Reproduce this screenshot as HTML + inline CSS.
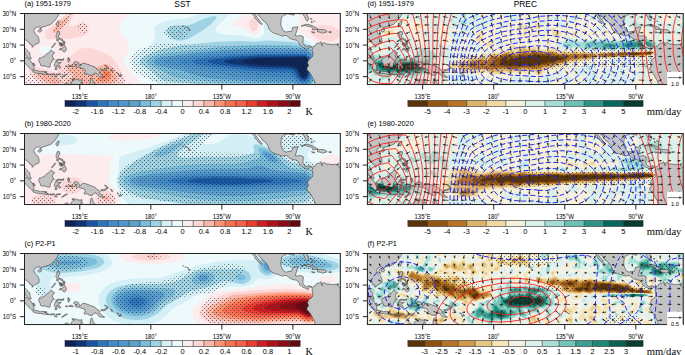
<!DOCTYPE html><html><head><meta charset="utf-8"><style>html,body{margin:0;padding:0;background:#fff;overflow:hidden}svg{display:block}text{fill:#000}</style></head><body><svg width="685" height="355" viewBox="0 0 685 355"><rect width="685" height="355" fill="#fff"/><pattern id="stip" patternUnits="userSpaceOnUse" x="0" y="0" width="4" height="4"><circle cx="0.5" cy="0.5" r="0.62" fill="#333" fill-opacity="0.75"/><circle cx="2.5" cy="2.5" r="0.62" fill="#333" fill-opacity="0.75"/></pattern><clipPath id="c00"><rect x="24.5" y="13.5" width="315.80" height="71.05"/></clipPath><clipPath id="c01"><rect x="24.5" y="133.5" width="315.80" height="71.05"/></clipPath><clipPath id="c02"><rect x="24.5" y="253.5" width="315.80" height="71.05"/></clipPath><clipPath id="c10"><rect x="367.4" y="13.5" width="315.80" height="71.05"/></clipPath><clipPath id="c11"><rect x="367.4" y="133.5" width="315.80" height="71.05"/></clipPath><clipPath id="c12"><rect x="367.4" y="253.5" width="315.80" height="71.05"/></clipPath><g clip-path="url(#c00)"><rect x="24.5" y="13.5" width="315.80" height="71.05" fill="#0b2355"/><path d="M22.1,87.7 343.5,87.7 343.5,10.3 21.3,10.3 21.3,87.7ZM302.3,76.7 300.8,75.1 298.8,70.3 297.7,68.8 296.1,67.4 293.7,66.5 288.2,65.8 261.4,65.3 246.3,63.4 242.6,62.4 241.4,61.7 242.4,60.9 245.6,60.1 261.4,58.2 305.6,57.5 307.5,59.3 308.4,60.9 308.7,62.4 308.6,64.8 306.9,73.5 306.1,75.9 305.6,76.7 304.8,77.0 302.4,76.7Z" fill="#0d3578" fill-rule="evenodd"/><path d="M22.1,87.7 343.5,87.7 343.5,10.3 21.3,10.3 21.3,87.7ZM303.2,79.0 301.4,78.2 299.8,76.7 297.1,71.1 296.1,69.8 294.5,68.7 292.1,68.0 287.4,67.5 261.4,67.1 253.5,66.4 231.7,64.0 225.8,62.8 223.8,61.7 224.6,60.9 226.6,60.2 231.7,59.3 257.5,56.9 305.6,56.3 307.9,58.3 309.2,60.1 309.7,61.7 309.7,64.0 308.0,74.3 307.2,76.7 305.6,78.8 303.2,79.0Z" fill="#1656a5" fill-rule="evenodd"/><path d="M22.1,87.7 343.5,87.7 343.5,10.3 21.3,10.3 21.3,87.7ZM303.2,80.6 301.0,79.8 299.0,78.2 294.5,71.5 292.6,70.3 290.6,69.8 261.4,69.0 232.9,66.4 213.9,64.0 208.2,62.4 207.5,61.7 208.1,60.9 210.0,60.2 214.0,59.3 226.7,57.7 240.8,56.6 261.4,55.3 305.6,55.2 307.9,56.9 309.5,58.5 310.7,60.9 310.9,63.2 309.0,75.1 308.3,77.4 307.1,79.1 305.6,80.4 303.2,80.6Z" fill="#2c74bb" fill-rule="evenodd"/><path d="M22.1,87.7 343.5,87.7 343.5,10.3 21.3,10.3 21.3,87.7ZM301.0,81.4 297.5,79.0 292.1,73.8 289.0,72.7 261.4,71.6 215.6,66.8 198.2,64.2 194.9,63.2 193.2,62.4 192.5,61.7 193.0,60.9 194.6,60.1 202.0,58.5 215.6,56.9 232.1,55.6 261.4,53.9 305.6,54.0 308.7,56.2 310.8,58.5 311.8,60.9 311.9,64.0 310.7,69.6 309.9,75.9 308.7,79.2 307.1,80.9 305.6,81.9 304.0,82.1 301.6,81.6Z" fill="#3f8ac7" fill-rule="evenodd"/><path d="M22.1,87.7 343.5,87.7 343.5,10.3 21.3,10.3 21.3,87.7ZM301.4,83.0 299.2,82.1 293.7,78.6 289.8,77.2 261.4,75.7 236.2,71.9 198.2,66.9 183.3,64.0 178.9,62.4 178.3,61.7 178.7,60.9 180.3,60.1 191.2,57.7 204.3,56.1 225.8,54.4 261.4,52.4 305.6,52.7 309.5,55.3 311.7,57.7 312.9,60.1 313.2,63.2 311.8,69.6 310.9,76.7 309.7,79.8 307.9,81.9 305.6,83.2 301.6,83.1Z" fill="#4e95cc" fill-rule="evenodd"/><path d="M22.1,87.7 343.5,87.7 343.5,10.3 21.3,10.3 21.3,87.7ZM302.1,84.6 293.7,81.1 289.8,80.2 259.8,79.1 241.5,77.4 227.4,75.6 201.0,70.3 170.5,64.8 164.6,63.2 163.0,62.4 162.4,61.7 162.7,60.9 163.5,60.5 166.6,59.3 175.3,57.6 198.2,54.7 222.7,52.7 261.4,50.5 305.6,51.1 309.5,53.8 312.7,56.9 314.2,60.1 314.4,63.2 313.0,69.6 312.1,76.7 310.6,80.6 308.7,82.9 307.1,83.9 305.6,84.6 302.4,84.6Z" fill="#5aa0d2" fill-rule="evenodd"/><path d="M22.1,87.7 343.5,87.7 343.5,10.3 21.3,10.3 21.3,87.7ZM303.1,86.1 300.0,85.5 293.7,83.2 289.8,82.6 261.4,81.9 239.2,80.6 218.8,79.0 206.3,77.4 198.2,75.9 181.1,70.3 160.3,66.3 157.1,64.8 154.8,63.2 153.9,61.7 154.0,60.9 154.8,59.8 156.7,58.5 160.9,56.9 198.2,52.4 224.2,50.1 261.4,48.0 292.9,48.4 305.6,49.1 310.3,52.5 313.5,55.7 315.4,59.3 315.8,62.4 314.2,70.3 313.5,76.7 312.1,80.6 310.4,83.0 308.7,84.6 305.6,86.1 303.2,86.1Z" fill="#79bcdc" fill-rule="evenodd"/><path d="M22.1,87.7 302.9,87.7 294.5,85.5 290.6,84.8 261.4,84.3 217.1,82.2 197.6,80.6 180.3,78.2 173.3,76.7 169.3,75.1 164.4,71.9 150.4,65.6 147.4,63.2 146.7,61.7 147.7,59.5 150.0,57.7 154.0,56.0 160.3,54.0 221.1,46.8 240.0,45.5 266.1,44.7 292.9,45.5 305.6,46.6 309.5,49.4 313.3,53.0 316.0,56.9 317.1,60.9 317.0,64.0 315.8,70.1 315.0,77.4 313.5,81.4 311.1,84.4 308.7,86.4 304.9,87.7 343.5,87.7 343.5,10.3 21.3,10.3 21.3,87.7ZM178.9,32.4 177.8,31.7 179.2,31.1 181.0,31.7 180.1,32.4 179.2,32.5Z" fill="#9fd3e3" fill-rule="evenodd"/><path d="M22.1,87.7 294.5,87.7 289.0,87.1 261.4,86.8 214.0,85.0 191.1,83.4 166.6,81.2 162.2,79.8 159.1,78.2 152.6,71.9 141.5,64.8 140.2,63.2 139.6,61.7 140.4,59.3 142.0,57.7 145.3,55.7 150.8,53.2 160.3,49.6 179.2,45.5 217.9,41.7 240.8,40.9 255.0,41.7 266.9,40.5 292.9,41.9 305.6,43.6 306.4,44.1 311.1,47.5 315.0,51.8 317.1,55.3 319.4,61.7 319.2,63.2 318.2,65.9 317.1,76.7 316.4,79.8 314.1,83.8 309.8,87.7 343.5,87.7 343.5,10.3 21.3,10.3 21.3,87.7ZM176.9,40.3 173.7,39.2 171.3,37.7 167.5,34.0 166.8,32.4 166.6,30.9 167.2,29.3 169.0,27.5 172.0,26.1 175.3,25.5 185.6,25.2 189.5,24.8 193.5,23.5 201.6,19.8 207.8,17.4 213.2,16.2 214.8,16.1 216.3,16.7 216.4,17.4 215.7,19.0 212.2,23.0 206.9,27.5 201.3,31.2 191.9,36.9 187.1,39.3 181.6,40.7 177.7,40.5Z" fill="#d5eff7" fill-rule="evenodd"/><path d="M22.1,87.7 201.5,87.7 166.6,85.2 160.3,84.1 156.3,82.8 150.8,79.8 142.9,72.1 135.8,67.2 133.2,64.0 132.5,60.9 133.3,58.5 135.3,56.1 147.4,47.4 151.8,43.5 153.8,41.1 155.0,38.0 153.7,31.7 153.8,29.3 154.8,26.9 157.9,24.2 162.7,21.9 168.2,20.4 173.7,19.5 184.8,18.6 190.3,17.5 213.4,10.3 21.3,10.3 21.3,87.7ZM314.2,87.7 343.5,87.7 343.5,10.3 233.3,10.3 231.0,13.5 221.0,22.2 216.9,26.9 215.8,29.3 215.8,30.9 217.0,32.4 219.5,33.5 227.4,34.8 241.6,35.3 251.9,38.1 256.6,38.2 259.0,37.6 261.3,36.4 263.3,34.8 264.3,33.2 264.6,30.9 263.4,25.3 263.3,21.4 263.7,19.6 264.5,18.5 266.1,18.1 267.7,19.2 268.8,21.4 269.3,24.6 269.1,30.9 269.6,32.4 270.8,33.5 274.8,34.9 294.5,37.7 305.6,40.2 308.7,42.1 312.7,44.9 315.0,47.2 318.2,52.5 320.9,54.6 323.1,56.9 324.0,58.5 324.6,60.9 324.1,64.0 321.4,70.3 319.4,79.8 316.8,84.6 313.7,87.7Z" fill="#eef9fb" fill-rule="evenodd"/><path d="M22.1,87.7 148.4,87.7 145.3,85.9 142.9,83.4 132.4,75.1 129.9,71.9 125.2,64.0 124.2,60.9 124.3,58.5 125.3,56.1 127.1,53.2 128.0,50.6 128.6,47.4 128.6,45.1 127.1,40.8 120.8,32.4 119.7,30.1 119.2,27.7 119.4,25.3 120.2,23.0 121.9,20.6 124.8,18.0 128.2,15.9 132.7,13.7 142.9,10.3 21.3,10.3 21.3,87.7ZM44.0,53.8 41.1,53.0 38.9,51.4 38.4,50.6 38.5,49.0 40.1,47.4 43.4,46.3 48.2,46.1 52.1,47.2 54.3,49.0 54.4,50.6 53.9,51.4 51.7,53.0 48.2,53.9 44.2,53.8ZM321.4,87.7 343.5,87.7 343.5,10.3 269.4,10.3 275.6,15.8 277.9,17.1 280.3,17.2 286.6,15.2 290.6,14.6 295.1,15.1 298.4,16.7 299.8,18.2 300.3,20.6 299.4,23.0 296.8,26.9 296.6,28.5 297.4,30.1 301.0,33.2 305.6,35.8 314.4,41.9 318.2,45.3 324.5,48.4 327.5,51.4 329.1,54.6 329.9,57.7 330.2,61.7 329.7,65.6 327.7,71.9 324.5,77.9 322.9,84.1 320.6,87.7ZM253.5,34.8 255.8,34.8 257.8,34.0 259.5,32.4 260.2,30.9 260.7,26.9 260.1,14.3 260.6,12.0 261.5,10.3 248.3,10.3 242.4,16.7 234.3,21.4 232.3,23.8 232.3,24.6 233.7,25.7 241.6,27.4 249.4,33.2 253.4,34.8Z" fill="#fdecee" fill-rule="evenodd"/><path d="M51.3,87.0 55.9,87.7 109.1,87.7 116.1,86.6 120.8,85.0 123.8,83.0 124.4,82.2 124.7,80.6 120.4,70.3 116.1,61.9 111.3,56.9 106.6,54.1 95.6,49.5 90.0,48.2 84.5,48.0 80.6,48.8 76.6,50.6 70.0,56.9 60.8,63.0 58.1,66.4 57.1,71.1 56.1,72.1 53.4,71.9 42.7,68.3 37.9,67.3 32.4,67.3 30.8,67.8 29.5,68.8 29.0,71.1 29.9,73.5 32.3,76.7 35.6,79.8 39.5,82.6 42.7,84.2 50.9,86.9ZM328.5,41.2 332.4,41.2 334.0,40.6 337.3,38.8 339.5,36.4 340.2,34.8 340.0,32.4 338.6,30.1 336.7,28.5 333.7,26.9 330.0,25.8 322.1,25.2 318.2,25.6 315.8,26.4 313.3,27.7 311.7,29.3 311.0,30.9 311.4,33.2 313.1,35.6 315.9,38.0 319.0,39.8 327.9,41.1ZM47.4,39.0 49.8,39.2 56.1,38.5 63.2,39.0 67.9,38.9 82.1,36.3 85.3,35.0 87.3,33.2 88.5,30.9 88.6,27.7 88.0,26.1 86.8,24.6 85.3,23.4 82.9,22.7 79.8,23.1 73.4,26.3 71.1,26.5 69.5,26.1 68.9,25.3 69.5,23.0 73.0,16.7 74.6,12.7 74.2,11.0 73.4,10.7 71.9,11.0 68.7,12.5 65.6,14.6 46.8,30.1 45.4,32.4 45.1,34.8 45.4,37.2 46.8,38.8ZM253.5,31.0 255.0,31.1 256.6,30.2 257.7,28.5 258.1,26.1 257.9,23.0 257.2,20.6 255.8,18.5 254.2,17.7 252.7,18.0 251.1,19.0 249.4,21.4 248.8,23.8 249.0,26.1 249.6,27.7 251.1,29.7 253.0,30.9Z" fill="#fcd7d7" fill-rule="evenodd"/><path d="M86.9,84.6 104.2,84.7 109.8,84.0 113.7,82.8 116.1,81.3 117.0,79.0 116.3,74.3 115.3,71.1 113.1,68.0 109.8,65.3 107.4,64.2 104.2,64.1 101.1,65.3 95.7,68.8 94.1,70.3 92.5,73.5 91.7,74.3 90.0,75.1 86.9,75.3 85.2,75.1 84.6,74.3 88.6,70.3 88.9,68.8 87.4,66.4 84.5,64.3 80.6,63.1 75.8,63.1 71.1,64.4 68.2,66.4 67.2,68.0 67.6,70.3 69.0,71.9 73.2,75.1 73.4,75.9 71.6,77.4 67.7,79.8 66.8,80.6 66.7,81.4 68.2,82.2 74.2,83.6 86.1,84.6ZM53.7,83.8 56.9,83.7 59.2,83.1 61.2,82.2 61.6,81.4 60.8,80.6 50.5,75.1 45.0,72.7 39.5,71.6 37.8,71.9 36.8,72.7 36.7,74.3 37.5,75.9 42.0,79.8 47.4,82.5 53.5,83.8ZM52.9,32.6 54.5,32.9 56.1,32.3 60.8,28.9 66.5,22.2 67.9,19.8 68.6,17.4 67.9,16.8 65.6,17.7 59.2,22.7 54.0,28.5 52.8,30.9 52.8,32.4Z" fill="#fbb8a8" fill-rule="evenodd"/><path d="M98.7,81.4 102.7,81.7 105.7,81.4 108.2,80.7 109.8,79.7 111.1,77.4 111.3,75.1 110.9,72.7 109.8,71.1 108.2,70.0 106.6,69.7 104.2,70.1 102.8,71.1 99.7,76.7 96.3,79.8 96.4,80.6 98.6,81.4Z" fill="#fc9272" fill-rule="evenodd"/><path d="M105.8,76.7 107.4,76.5 108.5,75.1 108.4,73.5 107.4,72.6 105.8,72.5 104.7,73.5 104.5,75.1 105.0,76.2 105.8,76.7Z" fill="#fb7050" fill-rule="evenodd"/><path d="M30.0,87.0 41.9,87.5 75.0,86.8 107.4,87.1 114.5,86.3 121.5,84.6 125.0,83.0 126.1,82.2 127.0,80.6 126.0,78.2 120.0,72.2 116.9,69.8 113.7,68.3 107.4,66.9 94.8,66.5 82.9,62.8 75.0,62.2 70.3,63.0 66.1,64.8 63.7,67.2 61.9,71.9 59.2,73.5 54.5,73.9 34.0,73.6 27.7,74.2 21.3,75.5 21.3,85.6 29.6,86.9ZM197.4,87.1 199.9,87.7 343.5,87.7 343.5,48.3 331.6,49.3 321.4,49.4 311.1,48.9 288.2,46.1 276.4,45.4 194.2,45.0 173.7,44.0 158.7,44.1 135.0,50.3 131.5,55.3 130.5,58.5 130.2,62.4 131.1,66.4 132.7,69.4 135.0,72.6 139.2,74.3 146.9,78.6 158.7,82.6 182.4,83.4 196.9,86.9ZM172.1,39.8 175.3,40.2 178.5,40.0 181.6,39.0 184.8,37.4 186.8,35.6 188.2,33.2 188.2,30.9 187.5,29.3 186.1,27.7 184.0,26.3 178.5,24.8 172.1,25.0 167.2,26.9 165.3,28.5 164.2,30.1 164.0,33.2 165.0,35.4 166.6,37.0 171.4,39.6ZM53.7,32.6 56.1,32.0 59.2,30.0 66.2,23.8 71.0,17.4 72.0,15.1 71.7,13.5 70.3,13.4 67.1,14.9 59.4,21.4 53.8,28.5 52.8,30.9 53.1,32.4ZM81.3,32.7 83.7,32.9 85.3,32.4 86.9,31.2 87.9,29.3 88.1,26.9 87.6,25.3 86.4,23.8 84.5,22.7 82.1,22.5 80.6,23.0 79.0,24.2 77.9,26.1 77.7,28.5 78.2,30.1 80.7,32.4Z" fill="url(#stip)"/><path d="M22.9,11.9 L59.6,11.9 L59.2,13.5 L58.4,15.1 L57.0,17.3 L55.4,19.8 L53.2,22.0 L50.7,24.4 L47.1,25.7 L44.2,26.6 L41.2,27.4 L40.6,28.8 L39.8,27.1 L37.9,26.8 L35.2,28.0 L33.7,30.6 L34.8,33.1 L36.3,34.8 L38.4,37.2 L39.2,40.3 L39.0,42.7 L37.1,43.8 L35.1,44.6 L32.7,47.1 L32.1,47.3 L32.1,45.1 L30.0,44.3 L29.1,42.2 L27.7,41.6 L25.9,40.0 L25.0,39.7 L24.3,41.1 L23.7,44.3 L23.4,46.3 L25.0,48.2 L26.6,50.0 L28.1,51.2 L29.9,53.3 L29.9,55.3 L30.5,56.9 L31.3,58.7 L30.0,58.8 L26.6,56.4 L25.1,54.2 L24.8,52.2 L22.9,49.8 L22.9,11.9Z M38.1,30.6 L39.5,29.1 L41.4,29.3 L41.9,29.9 L40.9,31.7 L39.5,32.1 L38.2,31.7Z M56.2,24.6 L57.2,26.1 L57.7,26.1 L59.1,22.2 L59.1,21.1 L58.0,21.1 L56.4,23.3Z M22.9,56.1 L24.5,57.2 L26.1,57.6 L27.7,58.5 L29.7,59.8 L31.4,62.1 L33.2,64.8 L34.0,65.9 L33.7,70.0 L31.8,70.2 L30.0,68.3 L28.0,66.6 L26.1,64.5 L25.0,62.4 L22.9,60.9Z M32.7,63.4 L34.1,63.2 L35.2,65.4 L34.0,65.8 L32.9,64.3Z M32.7,71.6 L34.0,70.2 L37.6,70.7 L40.9,71.8 L42.7,71.3 L44.4,71.8 L47.4,73.2 L47.2,74.6 L43.4,74.0 L40.3,73.5 L37.1,73.2 L34.6,72.6 L32.9,71.8Z M44.6,71.8 L46.8,71.8 L46.6,72.2 L44.7,72.2Z M47.4,73.7 L49.1,74.0 L48.5,74.8 L47.4,74.1Z M49.8,74.0 L50.9,74.0 L50.6,74.9 L49.8,74.8Z M51.0,74.3 L53.2,73.7 L54.7,74.0 L54.5,74.6 L52.6,74.9 L51.2,74.9Z M55.8,74.3 L57.7,74.0 L60.5,73.8 L60.7,74.4 L58.4,74.8 L56.1,74.9Z M54.5,75.9 L56.1,75.7 L57.3,76.8 L56.1,77.1 L54.7,76.5Z M61.6,77.1 L63.2,75.9 L65.2,74.4 L67.6,74.1 L66.3,74.9 L64.0,76.3 L62.4,77.3Z M39.7,57.7 L38.7,60.1 L39.0,61.7 L40.3,63.7 L40.6,65.4 L42.8,66.2 L45.0,65.9 L47.4,67.0 L49.8,67.2 L50.2,65.6 L50.6,63.2 L52.1,61.7 L52.3,59.6 L54.5,59.3 L52.9,57.7 L52.4,55.7 L53.4,53.8 L54.8,52.8 L52.6,51.6 L51.3,49.8 L49.8,51.4 L48.7,53.0 L46.6,53.8 L45.0,55.8 L42.3,57.2 L40.8,58.2Z M55.1,69.7 L55.4,67.2 L54.3,65.6 L54.8,63.2 L55.8,61.2 L56.2,60.1 L58.0,59.3 L60.0,59.3 L62.4,59.6 L64.0,58.3 L63.3,60.4 L61.3,60.2 L58.4,60.2 L57.0,60.4 L56.9,62.1 L58.6,62.3 L61.4,62.3 L60.2,63.2 L58.3,64.0 L59.9,65.9 L60.5,68.0 L59.2,68.1 L58.1,66.9 L57.5,65.4 L56.7,65.6 L56.9,69.6Z M68.1,57.4 L68.7,59.3 L69.8,58.5 L69.0,59.9 L70.1,60.4 L68.7,61.2 L69.0,62.3 L68.1,61.5 L67.8,59.6Z M68.7,65.9 L71.1,65.3 L73.3,66.2 L72.7,67.0 L70.0,66.2 L68.7,66.6Z M65.6,65.9 L67.1,65.8 L67.4,66.7 L65.9,66.9Z M57.0,31.7 L59.6,31.7 L59.6,34.0 L58.6,35.9 L58.9,38.4 L62.4,39.1 L62.7,41.0 L61.3,40.3 L59.9,39.1 L57.7,39.2 L57.0,38.4 L56.1,37.5 L56.1,35.6 L56.7,35.0Z M56.6,39.6 L58.0,39.7 L58.4,41.1 L57.7,41.6 L56.7,40.5Z M62.9,41.1 L64.4,41.1 L65.1,43.3 L64.0,43.3 L63.0,42.2Z M62.9,42.7 L64.0,43.2 L64.4,44.9 L63.7,45.1 L62.9,43.8Z M59.1,42.2 L61.0,42.9 L60.5,44.1 L59.2,44.3Z M59.9,43.7 L61.1,43.7 L61.4,46.3 L60.8,46.7 L60.0,45.2Z M61.3,43.0 L61.9,43.3 L62.4,44.6 L61.6,45.7 L61.4,44.4Z M62.1,44.9 L63.2,45.1 L63.0,45.7 L62.1,45.7Z M59.2,49.8 L60.0,48.4 L61.8,48.6 L62.7,47.9 L64.6,45.6 L66.3,48.2 L65.9,50.9 L64.6,52.0 L62.7,51.1 L61.8,49.2 L59.6,50.0Z M51.7,47.8 L52.3,47.6 L54.5,45.1 L55.6,43.2 L55.1,43.0 L53.4,45.1 L51.7,47.3Z M73.4,63.1 L75.0,61.5 L78.2,62.3 L79.8,66.1 L82.9,63.2 L85.3,63.6 L88.8,64.8 L91.6,65.9 L94.8,67.0 L96.8,69.2 L99.5,70.7 L100.0,71.4 L99.0,72.7 L100.6,73.7 L102.3,75.9 L104.7,77.1 L103.1,77.3 L99.5,76.8 L97.1,73.8 L94.8,72.9 L93.2,74.0 L92.4,75.4 L89.2,75.2 L86.9,73.7 L84.5,74.1 L84.2,72.6 L85.4,71.6 L84.5,69.2 L81.3,68.1 L78.7,67.0 L76.3,67.2 L75.0,65.4 L77.1,64.7 L75.0,64.5 L73.9,63.2Z M100.8,69.7 L103.5,69.6 L105.8,68.6 L106.9,67.7 L107.1,68.8 L105.8,69.9 L103.5,70.8 L101.1,70.5Z M104.7,65.0 L106.9,66.2 L108.5,68.1 L107.9,68.4 L106.0,66.6 L104.6,65.4Z M110.7,69.2 L111.8,69.7 L112.9,71.3 L112.3,71.8 L111.0,70.7Z M118.6,75.6 L120.0,75.7 L120.5,76.3 L118.9,76.3Z M120.2,74.1 L121.1,74.6 L121.6,76.0 L120.8,75.6Z M117.0,72.7 L118.6,73.7 L118.9,74.3 L117.5,73.5Z M129.7,83.9 L130.6,84.6 L130.5,85.5 L129.7,85.0Z M62.4,86.9 L63.2,85.0 L64.8,83.8 L67.0,82.7 L69.0,84.2 L71.1,84.4 L71.6,82.2 L73.1,80.4 L74.2,80.1 L75.8,79.0 L77.4,79.7 L79.8,80.1 L82.3,79.8 L81.3,81.9 L80.6,83.8 L81.0,86.9Z M89.9,86.9 L90.0,84.6 L90.2,81.4 L90.8,79.0 L91.6,77.8 L92.7,79.7 L93.2,82.2 L94.6,83.4 L95.9,84.4 L96.2,86.9Z M71.9,78.9 L74.2,78.6 L74.1,79.5 L72.2,79.5Z M81.8,82.7 L82.8,82.7 L82.6,83.4 L81.8,83.3Z M188.9,29.0 L190.3,29.8 L189.3,31.0 L188.7,30.1Z M187.6,27.7 L188.7,28.0 L188.1,28.3Z M185.1,26.8 L186.0,27.2 L185.4,27.2Z M182.7,25.8 L183.5,26.0 L183.0,26.3Z M186.7,27.4 L187.6,27.6Z M251.1,11.9 L253.1,15.1 L254.9,16.7 L254.7,17.9 L256.9,19.8 L258.0,21.7 L259.8,23.0 L261.4,24.7 L262.3,24.1 L260.9,22.7 L259.8,20.8 L258.2,18.6 L256.9,17.0 L255.3,14.3 L254.2,11.9Z M256.3,11.9 L257.1,13.5 L259.8,16.8 L261.4,18.2 L262.6,20.4 L264.5,21.4 L266.9,24.1 L268.5,26.8 L268.8,28.5 L270.4,30.7 L271.6,32.1 L274.8,33.6 L277.3,34.3 L280.3,35.3 L282.7,36.1 L285.0,35.4 L286.6,35.6 L289.3,37.8 L291.0,38.9 L293.7,39.7 L296.9,40.3 L297.2,40.5 L298.0,41.6 L299.4,43.3 L299.7,45.1 L301.1,45.6 L303.0,47.4 L304.8,47.9 L306.8,49.0 L308.7,49.3 L308.4,47.8 L309.5,46.8 L311.6,47.8 L312.8,48.6 L312.0,49.8 L313.0,54.6 L312.4,56.6 L310.6,58.5 L308.7,59.6 L308.1,61.5 L307.3,62.6 L308.4,65.0 L308.2,66.2 L306.8,68.1 L307.0,70.0 L308.9,71.8 L310.8,74.4 L312.7,77.9 L314.4,80.8 L314.7,82.3 L315.7,84.6 L316.6,86.9 L341.9,86.9 L341.9,47.4 L339.5,47.3 L337.9,45.4 L335.9,44.1 L333.2,44.8 L329.4,44.1 L326.9,44.1 L324.2,42.6 L322.0,43.5 L321.5,44.6 L322.6,45.9 L321.4,43.5 L321.0,41.6 L319.3,43.0 L316.9,43.5 L315.7,44.4 L315.0,46.0 L312.7,47.1 L309.0,45.7 L306.4,46.7 L304.0,45.1 L303.0,43.5 L302.9,41.9 L303.2,38.8 L303.4,36.9 L300.8,35.6 L297.7,35.9 L295.3,35.9 L295.6,34.3 L296.4,32.0 L296.9,30.1 L298.0,26.9 L296.1,26.9 L292.3,27.7 L292.3,29.6 L291.4,31.3 L289.0,31.5 L285.8,32.1 L283.3,30.6 L281.1,26.1 L280.8,23.0 L281.2,19.8 L281.6,17.0 L283.5,15.7 L285.4,14.6 L287.4,13.8 L290.6,14.4 L292.6,14.9 L294.2,15.1 L293.9,13.2 L296.9,13.0 L300.0,13.8 L302.4,13.5 L304.5,16.7 L305.9,19.8 L307.3,21.1 L308.6,19.0 L307.9,16.7 L306.7,13.5 L306.7,11.9Z M301.0,26.3 L305.6,24.4 L308.7,24.4 L313.5,26.3 L317.9,29.0 L317.4,29.4 L312.4,29.6 L313.0,28.3 L310.9,26.8 L307.1,26.1 L304.3,25.2Z M317.6,29.6 L320.1,29.4 L324.5,29.8 L327.0,31.5 L326.6,32.1 L322.3,33.1 L319.9,32.1 L317.4,31.8Z M311.4,31.8 L314.6,32.1 L314.7,32.6 L312.7,32.8Z M328.9,31.7 L331.5,31.8 L331.3,32.4 L328.9,32.4Z M311.6,21.1 L312.4,21.9 L312.0,23.0 L311.2,22.0Z M310.3,18.7 L312.2,18.9 L311.9,19.0 L310.3,19.0Z M313.8,20.6 L314.7,21.9 L314.9,21.7Z M337.3,43.8 L338.7,43.8 L338.7,44.9 L337.3,44.9Z" fill="#c3c3c3" stroke="#333" stroke-width="0.55" stroke-linejoin="round"/></g><g clip-path="url(#c01)"><rect x="24.5" y="133.5" width="315.80" height="71.05" fill="#0b2355"/><path d="M22.1,207.7 343.5,207.7 343.5,130.3 21.3,130.3 21.3,207.7Z" fill="#0d3578" fill-rule="evenodd"/><path d="M22.1,207.7 343.5,207.7 343.5,130.3 21.3,130.3 21.3,207.7ZM231.0,180.9 233.3,180.9 231.3,180.9Z" fill="#1656a5" fill-rule="evenodd"/><path d="M22.1,207.7 343.5,207.7 343.5,130.3 21.3,130.3 21.3,207.7ZM209.3,184.0 193.5,182.7 188.2,181.7 187.2,180.9 189.5,179.9 198.2,178.6 214.0,177.8 232.9,177.7 264.0,179.3 270.9,180.1 273.8,180.9 272.7,181.7 267.2,182.4 245.6,184.0 232.9,184.4 210.0,184.1Z" fill="#2c74bb" fill-rule="evenodd"/><path d="M22.1,207.7 343.5,207.7 343.5,130.3 21.3,130.3 21.3,207.7ZM201.6,185.6 187.1,184.6 175.7,183.2 169.8,181.9 168.2,180.9 170.6,179.7 176.8,178.5 192.7,177.0 214.0,176.1 232.9,176.0 257.4,176.7 285.0,178.1 296.0,179.3 300.4,180.1 302.2,180.9 301.6,181.7 300.8,181.9 293.2,183.2 285.0,184.1 270.9,184.8 232.9,186.3 202.1,185.6Z" fill="#3f8ac7" fill-rule="evenodd"/><path d="M22.1,207.7 343.5,207.7 343.5,130.3 21.3,130.3 21.3,207.7ZM211.5,188.0 191.1,186.9 167.4,184.7 154.0,182.6 151.5,181.7 150.9,180.9 151.7,180.1 153.2,179.5 157.6,178.5 167.4,177.2 181.6,175.8 202.9,174.6 232.9,174.3 262.9,175.0 305.6,177.6 307.2,179.3 307.8,180.9 307.5,182.4 305.6,184.7 292.9,185.7 243.2,188.0 232.9,188.3 211.6,188.0Z" fill="#4e95cc" fill-rule="evenodd"/><path d="M22.1,207.7 343.5,207.7 343.5,130.3 21.3,130.3 21.3,207.7ZM230.3,191.1 214.0,190.8 198.2,189.9 158.7,186.1 150.0,185.1 141.3,183.3 138.2,182.2 137.5,180.9 138.2,179.7 142.1,178.3 150.8,176.7 159.5,175.7 198.2,172.7 220.3,172.2 259.0,172.4 305.6,175.5 309.4,178.5 310.4,180.9 310.1,182.4 309.2,184.0 305.6,187.0 285.0,188.6 246.3,190.7 230.6,191.1Z" fill="#5aa0d2" fill-rule="evenodd"/><path d="M22.1,207.7 343.5,207.7 343.5,130.3 21.3,130.3 21.3,207.7ZM225.6,195.9 214.0,195.4 198.2,193.9 142.9,186.8 138.2,186.0 133.5,184.2 130.6,182.4 129.8,180.9 130.3,179.7 131.7,178.5 136.6,176.4 150.8,174.0 198.2,169.5 214.0,168.9 242.4,168.8 247.9,168.2 256.6,166.1 259.8,165.8 262.9,166.3 269.4,169.0 275.9,170.6 305.6,173.2 311.0,176.9 312.2,178.5 312.9,180.1 312.8,182.4 311.5,184.8 305.6,190.0 249.5,195.4 234.5,196.0 225.8,195.9ZM272.5,161.9 269.2,160.5 266.1,157.9 263.2,154.0 262.7,152.4 262.9,151.4 264.5,151.0 268.5,152.4 272.3,154.8 275.0,157.2 276.7,159.6 277.1,161.3 276.8,161.9 275.6,162.4 273.2,162.1Z" fill="#79bcdc" fill-rule="evenodd"/><path d="M22.1,207.7 343.5,207.7 343.5,130.3 21.3,130.3 21.3,207.7ZM212.1,200.6 198.2,199.4 182.4,197.3 138.2,189.6 130.3,186.9 126.3,185.0 123.6,182.4 123.2,180.1 124.8,177.8 127.1,176.1 138.2,172.1 166.6,167.6 182.4,165.5 198.2,164.2 214.0,163.7 234.5,163.8 243.2,162.7 258.2,158.3 259.8,157.4 260.1,155.6 258.5,150.9 258.4,149.3 259.0,148.3 260.6,147.8 262.9,148.2 266.1,149.3 273.1,153.2 278.9,158.0 285.0,164.4 288.2,166.7 294.5,168.7 305.6,170.0 312.8,175.3 314.7,177.7 315.5,180.1 315.4,182.4 314.0,185.6 305.6,195.1 285.0,197.9 253.5,200.7 232.9,201.4 212.4,200.6ZM153.9,156.4 154.4,154.8 156.8,152.4 163.5,148.5 180.4,142.2 183.2,141.7 184.1,142.2 181.7,144.6 173.1,150.9 168.2,153.9 164.2,155.4 159.5,156.6 155.6,157.0 154.0,156.5Z" fill="#9fd3e3" fill-rule="evenodd"/><path d="M22.1,207.7 343.5,207.7 343.5,130.3 21.3,130.3 21.3,207.7ZM213.6,206.1 197.4,205.1 176.1,202.7 150.8,199.0 138.2,196.4 132.7,193.9 127.1,190.9 119.2,185.0 118.9,180.9 119.2,175.7 127.1,167.4 132.0,163.5 138.1,159.6 156.0,149.3 163.5,145.8 186.3,136.6 194.2,134.0 199.8,133.0 201.6,133.5 201.7,134.3 200.6,135.9 195.8,139.8 180.8,150.1 177.5,154.0 177.2,155.6 177.7,156.4 180.0,157.1 184.8,157.4 208.5,156.7 233.7,156.9 240.8,156.3 250.3,154.5 253.5,153.3 254.3,151.7 253.5,146.9 253.8,145.3 255.0,144.5 258.2,144.5 264.5,146.5 270.8,149.6 276.4,152.9 285.0,159.0 289.0,161.2 293.7,162.7 305.6,164.8 309.5,167.6 313.5,171.2 318.7,177.7 319.8,180.1 319.8,181.7 319.1,184.0 316.6,187.2 312.2,195.9 309.5,199.0 305.6,201.8 284.2,204.2 256.6,206.1 233.7,206.7 214.0,206.2Z" fill="#d5eff7" fill-rule="evenodd"/><path d="M22.1,207.7 143.9,207.7 135.8,206.3 131.1,205.0 127.9,203.6 124.8,200.6 119.2,192.5 118.5,185.3 116.5,182.4 116.1,180.1 116.7,177.7 118.5,175.1 119.2,157.8 122.4,155.9 127.1,153.8 142.9,149.3 165.8,141.4 192.9,130.3 21.3,130.3 21.3,207.7ZM56.0,145.3 50.6,144.4 46.6,143.0 44.5,141.4 44.0,140.6 44.0,139.0 45.8,137.2 49.8,135.5 55.3,134.5 61.6,134.2 67.9,134.7 72.9,135.9 76.0,137.4 76.9,138.2 77.7,139.8 77.2,141.4 76.5,142.2 74.2,143.5 71.1,144.5 64.0,145.5 56.1,145.3ZM313.5,207.7 343.5,207.7 343.5,130.3 217.7,130.3 214.0,133.7 205.9,139.8 203.6,142.2 203.4,143.0 203.7,143.5 205.3,144.1 210.0,144.1 214.8,143.4 218.7,141.9 224.7,137.4 227.9,135.9 232.9,134.6 238.5,134.1 244.0,134.4 248.7,135.5 264.1,142.2 270.0,143.8 273.2,143.1 278.2,139.8 281.9,138.1 285.8,136.9 290.6,136.1 296.1,135.9 301.6,136.3 306.4,137.3 310.5,139.0 313.3,141.4 314.0,143.0 314.1,144.6 312.7,147.5 307.9,152.4 307.3,154.0 307.7,156.4 308.9,158.8 311.4,161.9 316.6,166.8 319.9,169.0 322.3,171.4 324.4,175.3 325.3,180.1 325.0,184.8 322.9,195.9 321.9,199.0 319.0,202.9 312.7,207.7Z" fill="#eef9fb" fill-rule="evenodd"/><path d="M22.1,207.7 118.7,207.7 118.9,199.0 118.5,192.8 110.9,185.6 109.6,183.2 109.1,180.9 109.0,176.9 110.5,162.7 111.3,159.6 112.8,157.2 106.6,156.0 79.8,154.4 21.3,154.0 21.3,207.7ZM327.7,165.3 335.6,165.6 343.5,164.5 343.5,156.2 337.9,155.2 331.6,155.0 326.9,155.5 322.4,157.2 320.7,158.8 320.4,159.6 320.8,161.1 322.9,163.0 327.2,165.1ZM120.8,140.6 133.5,140.2 148.5,138.7 156.3,137.0 158.7,135.9 159.3,135.1 159.1,134.3 158.1,133.5 152.7,131.9 144.5,131.1 135.8,131.0 127.1,131.6 118.5,132.9 112.1,134.7 109.7,135.9 108.9,136.7 108.7,137.4 109.1,138.2 111.3,139.4 115.3,140.2 120.7,140.6Z" fill="#fdecee" fill-rule="evenodd"/><path d="M105.0,206.2 109.0,205.9 112.1,204.6 114.5,202.3 115.5,199.8 115.0,196.7 113.4,194.3 110.6,192.1 106.6,190.1 101.9,190.6 98.7,192.0 96.3,194.3 95.1,197.4 95.7,200.6 97.4,203.0 100.3,204.9 104.5,206.1ZM38.7,205.4 45.0,205.9 48.2,205.4 51.3,204.5 54.0,203.0 55.4,201.4 55.8,199.8 55.5,198.2 54.4,196.7 52.9,195.6 50.6,194.6 47.4,193.8 41.1,193.7 35.7,195.1 32.2,197.4 31.3,199.0 31.3,200.6 32.2,202.2 34.0,203.7 38.3,205.3ZM70.3,193.6 74.2,193.5 78.2,192.3 81.1,190.3 82.7,188.0 83.2,185.6 82.5,182.4 80.6,179.8 78.2,178.2 74.2,177.0 69.5,177.3 64.8,179.6 62.0,182.4 61.3,184.0 61.0,186.4 62.2,189.6 63.6,191.1 65.6,192.3 69.6,193.5Z" fill="#fcd7d7" fill-rule="evenodd"/><path d="M105.0,200.8 107.4,200.8 108.8,199.8 109.3,199.0 109.2,197.4 108.6,196.7 106.6,195.4 104.2,195.9 102.7,197.4 102.8,199.0 104.6,200.6ZM43.4,200.0 44.3,199.8 42.7,199.8ZM71.1,188.8 72.8,188.8 74.5,188.0 75.0,187.2 74.7,185.6 73.4,184.8 71.9,184.5 69.5,185.4 68.8,186.4 68.9,187.2 69.5,188.1 71.0,188.8Z" fill="#fbb8a8" fill-rule="evenodd"/><path d="M267.7,206.9 295.9,207.7 343.5,207.7 343.5,161.8 335.6,162.9 327.7,163.4 319.0,163.3 311.1,162.6 297.7,159.8 282.7,154.2 275.6,153.2 208.5,152.6 199.8,152.0 197.6,150.9 197.4,150.1 198.2,148.5 209.4,137.4 212.3,133.5 213.1,131.1 212.9,130.3 199.9,130.3 186.3,134.7 172.1,140.9 142.9,156.0 131.9,162.5 122.4,167.2 119.6,172.2 118.0,176.9 117.6,180.9 118.2,185.6 120.4,192.7 122.4,196.1 124.8,195.6 127.9,195.7 142.9,198.9 182.4,202.8 229.8,205.9 267.3,206.9ZM38.7,206.2 45.0,206.6 50.6,205.6 52.9,204.6 54.5,203.2 55.1,202.2 55.2,200.6 52.9,198.2 48.2,196.6 41.9,196.2 36.3,197.2 34.0,198.2 32.4,199.6 31.7,200.6 31.7,202.2 34.0,204.6 38.3,206.1ZM104.2,206.2 107.4,206.4 109.8,206.0 114.0,203.8 115.3,202.2 116.1,199.8 116.0,198.2 115.1,196.7 111.3,194.2 107.4,193.3 102.7,193.9 99.5,195.6 97.7,198.2 97.7,201.4 98.5,203.0 100.2,204.6 104.1,206.1ZM68.7,192.0 73.4,192.4 77.4,190.9 78.9,189.6 79.7,188.0 79.7,186.4 78.9,184.8 76.6,183.0 73.4,182.0 69.5,182.2 66.3,183.4 64.3,185.6 64.1,188.0 65.5,190.3 68.3,191.9ZM285.8,149.4 289.8,150.0 294.5,149.6 300.0,148.3 304.8,146.3 307.8,144.6 310.3,142.2 311.2,139.8 310.6,137.4 307.1,133.9 304.0,132.3 300.8,131.4 293.7,131.1 287.4,132.7 283.0,135.9 281.4,138.2 280.7,140.6 280.7,143.8 281.7,146.1 283.5,148.2 285.4,149.3Z" fill="url(#stip)"/><path d="M22.9,131.9 L59.6,131.9 L59.2,133.5 L58.4,135.1 L57.0,137.3 L55.4,139.8 L53.2,142.0 L50.7,144.4 L47.1,145.7 L44.2,146.6 L41.2,147.4 L40.6,148.8 L39.8,147.1 L37.9,146.8 L35.2,148.0 L33.7,150.6 L34.8,153.1 L36.3,154.8 L38.4,157.2 L39.2,160.3 L39.0,162.7 L37.1,163.8 L35.1,164.6 L32.7,167.1 L32.1,167.3 L32.1,165.1 L30.0,164.3 L29.1,162.2 L27.7,161.6 L25.9,160.0 L25.0,159.7 L24.3,161.1 L23.7,164.3 L23.4,166.3 L25.0,168.2 L26.6,170.0 L28.1,171.2 L29.9,173.3 L29.9,175.3 L30.5,176.9 L31.3,178.7 L30.0,178.8 L26.6,176.4 L25.1,174.2 L24.8,172.2 L22.9,169.8 L22.9,131.9Z M38.1,150.6 L39.5,149.1 L41.4,149.3 L41.9,149.9 L40.9,151.7 L39.5,152.1 L38.2,151.7Z M56.2,144.6 L57.2,146.1 L57.7,146.1 L59.1,142.2 L59.1,141.1 L58.0,141.1 L56.4,143.3Z M22.9,176.1 L24.5,177.2 L26.1,177.6 L27.7,178.5 L29.7,179.8 L31.4,182.1 L33.2,184.8 L34.0,185.9 L33.7,190.0 L31.8,190.2 L30.0,188.3 L28.0,186.6 L26.1,184.5 L25.0,182.4 L22.9,180.9Z M32.7,183.4 L34.1,183.2 L35.2,185.4 L34.0,185.8 L32.9,184.3Z M32.7,191.6 L34.0,190.2 L37.6,190.7 L40.9,191.8 L42.7,191.3 L44.4,191.8 L47.4,193.2 L47.2,194.6 L43.4,194.0 L40.3,193.5 L37.1,193.2 L34.6,192.6 L32.9,191.8Z M44.6,191.8 L46.8,191.8 L46.6,192.2 L44.7,192.2Z M47.4,193.7 L49.1,194.0 L48.5,194.8 L47.4,194.1Z M49.8,194.0 L50.9,194.0 L50.6,194.9 L49.8,194.8Z M51.0,194.3 L53.2,193.7 L54.7,194.0 L54.5,194.6 L52.6,194.9 L51.2,194.9Z M55.8,194.3 L57.7,194.0 L60.5,193.8 L60.7,194.4 L58.4,194.8 L56.1,194.9Z M54.5,195.9 L56.1,195.7 L57.3,196.8 L56.1,197.1 L54.7,196.5Z M61.6,197.1 L63.2,195.9 L65.2,194.4 L67.6,194.1 L66.3,194.9 L64.0,196.3 L62.4,197.3Z M39.7,177.7 L38.7,180.1 L39.0,181.7 L40.3,183.7 L40.6,185.4 L42.8,186.2 L45.0,185.9 L47.4,187.0 L49.8,187.2 L50.2,185.6 L50.6,183.2 L52.1,181.7 L52.3,179.6 L54.5,179.3 L52.9,177.7 L52.4,175.7 L53.4,173.8 L54.8,172.8 L52.6,171.6 L51.3,169.8 L49.8,171.4 L48.7,173.0 L46.6,173.8 L45.0,175.8 L42.3,177.2 L40.8,178.2Z M55.1,189.7 L55.4,187.2 L54.3,185.6 L54.8,183.2 L55.8,181.2 L56.2,180.1 L58.0,179.3 L60.0,179.3 L62.4,179.6 L64.0,178.3 L63.3,180.4 L61.3,180.2 L58.4,180.2 L57.0,180.4 L56.9,182.1 L58.6,182.3 L61.4,182.3 L60.2,183.2 L58.3,184.0 L59.9,185.9 L60.5,188.0 L59.2,188.1 L58.1,186.9 L57.5,185.4 L56.7,185.6 L56.9,189.6Z M68.1,177.4 L68.7,179.3 L69.8,178.5 L69.0,179.9 L70.1,180.4 L68.7,181.2 L69.0,182.3 L68.1,181.5 L67.8,179.6Z M68.7,185.9 L71.1,185.3 L73.3,186.2 L72.7,187.0 L70.0,186.2 L68.7,186.6Z M65.6,185.9 L67.1,185.8 L67.4,186.7 L65.9,186.9Z M57.0,151.7 L59.6,151.7 L59.6,154.0 L58.6,155.9 L58.9,158.4 L62.4,159.1 L62.7,161.0 L61.3,160.3 L59.9,159.1 L57.7,159.2 L57.0,158.4 L56.1,157.5 L56.1,155.6 L56.7,155.0Z M56.6,159.6 L58.0,159.7 L58.4,161.1 L57.7,161.6 L56.7,160.5Z M62.9,161.1 L64.4,161.1 L65.1,163.3 L64.0,163.3 L63.0,162.2Z M62.9,162.7 L64.0,163.2 L64.4,164.9 L63.7,165.1 L62.9,163.8Z M59.1,162.2 L61.0,162.9 L60.5,164.1 L59.2,164.3Z M59.9,163.7 L61.1,163.7 L61.4,166.3 L60.8,166.7 L60.0,165.2Z M61.3,163.0 L61.9,163.3 L62.4,164.6 L61.6,165.7 L61.4,164.4Z M62.1,164.9 L63.2,165.1 L63.0,165.7 L62.1,165.7Z M59.2,169.8 L60.0,168.4 L61.8,168.6 L62.7,167.9 L64.6,165.6 L66.3,168.2 L65.9,170.9 L64.6,172.0 L62.7,171.1 L61.8,169.2 L59.6,170.0Z M51.7,167.8 L52.3,167.6 L54.5,165.1 L55.6,163.2 L55.1,163.0 L53.4,165.1 L51.7,167.3Z M73.4,183.1 L75.0,181.5 L78.2,182.3 L79.8,186.1 L82.9,183.2 L85.3,183.6 L88.8,184.8 L91.6,185.9 L94.8,187.0 L96.8,189.2 L99.5,190.7 L100.0,191.4 L99.0,192.7 L100.6,193.7 L102.3,195.9 L104.7,197.1 L103.1,197.3 L99.5,196.8 L97.1,193.8 L94.8,192.9 L93.2,194.0 L92.4,195.4 L89.2,195.2 L86.9,193.7 L84.5,194.1 L84.2,192.6 L85.4,191.6 L84.5,189.2 L81.3,188.1 L78.7,187.0 L76.3,187.2 L75.0,185.4 L77.1,184.7 L75.0,184.5 L73.9,183.2Z M100.8,189.7 L103.5,189.6 L105.8,188.6 L106.9,187.7 L107.1,188.8 L105.8,189.9 L103.5,190.8 L101.1,190.5Z M104.7,185.0 L106.9,186.2 L108.5,188.1 L107.9,188.4 L106.0,186.6 L104.6,185.4Z M110.7,189.2 L111.8,189.7 L112.9,191.3 L112.3,191.8 L111.0,190.7Z M118.6,195.6 L120.0,195.7 L120.5,196.3 L118.9,196.3Z M120.2,194.1 L121.1,194.6 L121.6,196.0 L120.8,195.6Z M117.0,192.7 L118.6,193.7 L118.9,194.3 L117.5,193.5Z M129.7,203.9 L130.6,204.6 L130.5,205.5 L129.7,205.0Z M62.4,206.9 L63.2,205.0 L64.8,203.8 L67.0,202.7 L69.0,204.2 L71.1,204.4 L71.6,202.2 L73.1,200.4 L74.2,200.1 L75.8,199.0 L77.4,199.7 L79.8,200.1 L82.3,199.8 L81.3,201.9 L80.6,203.8 L81.0,206.9Z M89.9,206.9 L90.0,204.6 L90.2,201.4 L90.8,199.0 L91.6,197.8 L92.7,199.7 L93.2,202.2 L94.6,203.4 L95.9,204.4 L96.2,206.9Z M71.9,198.9 L74.2,198.6 L74.1,199.5 L72.2,199.5Z M81.8,202.7 L82.8,202.7 L82.6,203.4 L81.8,203.3Z M188.9,149.0 L190.3,149.8 L189.3,151.0 L188.7,150.1Z M187.6,147.7 L188.7,148.0 L188.1,148.3Z M185.1,146.8 L186.0,147.2 L185.4,147.2Z M182.7,145.8 L183.5,146.0 L183.0,146.3Z M186.7,147.4 L187.6,147.6Z M251.1,131.9 L253.1,135.1 L254.9,136.7 L254.7,137.9 L256.9,139.8 L258.0,141.7 L259.8,143.0 L261.4,144.7 L262.3,144.1 L260.9,142.7 L259.8,140.8 L258.2,138.6 L256.9,137.0 L255.3,134.3 L254.2,131.9Z M256.3,131.9 L257.1,133.5 L259.8,136.8 L261.4,138.2 L262.6,140.4 L264.5,141.4 L266.9,144.1 L268.5,146.8 L268.8,148.5 L270.4,150.7 L271.6,152.1 L274.8,153.6 L277.3,154.3 L280.3,155.3 L282.7,156.1 L285.0,155.4 L286.6,155.6 L289.3,157.8 L291.0,158.9 L293.7,159.7 L296.9,160.3 L297.2,160.5 L298.0,161.6 L299.4,163.3 L299.7,165.1 L301.1,165.6 L303.0,167.4 L304.8,167.9 L306.8,169.0 L308.7,169.3 L308.4,167.8 L309.5,166.8 L311.6,167.8 L312.8,168.6 L312.0,169.8 L313.0,174.6 L312.4,176.6 L310.6,178.5 L308.7,179.6 L308.1,181.5 L307.3,182.6 L308.4,185.0 L308.2,186.2 L306.8,188.1 L307.0,190.0 L308.9,191.8 L310.8,194.4 L312.7,197.9 L314.4,200.8 L314.7,202.3 L315.7,204.6 L316.6,206.9 L341.9,206.9 L341.9,167.4 L339.5,167.3 L337.9,165.4 L335.9,164.1 L333.2,164.8 L329.4,164.1 L326.9,164.1 L324.2,162.6 L322.0,163.5 L321.5,164.6 L322.6,165.9 L321.4,163.5 L321.0,161.6 L319.3,163.0 L316.9,163.5 L315.7,164.4 L315.0,166.0 L312.7,167.1 L309.0,165.7 L306.4,166.7 L304.0,165.1 L303.0,163.5 L302.9,161.9 L303.2,158.8 L303.4,156.9 L300.8,155.6 L297.7,155.9 L295.3,155.9 L295.6,154.3 L296.4,152.0 L296.9,150.1 L298.0,146.9 L296.1,146.9 L292.3,147.7 L292.3,149.6 L291.4,151.3 L289.0,151.5 L285.8,152.1 L283.3,150.6 L281.1,146.1 L280.8,143.0 L281.2,139.8 L281.6,137.0 L283.5,135.7 L285.4,134.6 L287.4,133.8 L290.6,134.4 L292.6,134.9 L294.2,135.1 L293.9,133.2 L296.9,133.0 L300.0,133.8 L302.4,133.5 L304.5,136.7 L305.9,139.8 L307.3,141.1 L308.6,139.0 L307.9,136.7 L306.7,133.5 L306.7,131.9Z M301.0,146.3 L305.6,144.4 L308.7,144.4 L313.5,146.3 L317.9,149.0 L317.4,149.4 L312.4,149.6 L313.0,148.3 L310.9,146.8 L307.1,146.1 L304.3,145.2Z M317.6,149.6 L320.1,149.4 L324.5,149.8 L327.0,151.5 L326.6,152.1 L322.3,153.1 L319.9,152.1 L317.4,151.8Z M311.4,151.8 L314.6,152.1 L314.7,152.6 L312.7,152.8Z M328.9,151.7 L331.5,151.8 L331.3,152.4 L328.9,152.4Z M311.6,141.1 L312.4,141.9 L312.0,143.0 L311.2,142.0Z M310.3,138.7 L312.2,138.9 L311.9,139.0 L310.3,139.0Z M313.8,140.6 L314.7,141.9 L314.9,141.7Z M337.3,163.8 L338.7,163.8 L338.7,164.9 L337.3,164.9Z" fill="#c3c3c3" stroke="#333" stroke-width="0.55" stroke-linejoin="round"/></g><g clip-path="url(#c02)"><rect x="24.5" y="253.5" width="315.80" height="71.05" fill="#0b2355"/><path d="M22.1,327.7 343.5,327.7 343.5,250.3 21.3,250.3 21.3,327.7Z" fill="#0d3578" fill-rule="evenodd"/><path d="M22.1,327.7 343.5,327.7 343.5,250.3 21.3,250.3 21.3,327.7Z" fill="#1656a5" fill-rule="evenodd"/><path d="M22.1,327.7 343.5,327.7 343.5,250.3 21.3,250.3 21.3,327.7ZM136.5,302.4 136.1,301.7 138.2,301.7 137.7,302.4 136.6,302.5Z" fill="#2c74bb" fill-rule="evenodd"/><path d="M22.1,327.7 343.5,327.7 343.5,250.3 21.3,250.3 21.3,327.7ZM132.8,305.6 130.1,304.0 129.0,302.4 129.0,300.9 129.5,300.1 131.6,298.5 135.0,297.5 139.0,297.5 142.8,298.5 144.5,300.1 144.7,302.4 143.6,304.0 142.1,305.0 138.2,306.2 133.5,305.8Z" fill="#3f8ac7" fill-rule="evenodd"/><path d="M22.1,327.7 343.5,327.7 343.5,250.3 21.3,250.3 21.3,327.7ZM132.1,308.0 129.5,307.1 127.0,305.6 125.4,304.0 124.5,302.4 124.3,300.9 124.8,299.3 127.6,296.9 132.7,295.3 139.8,295.0 145.7,296.1 147.7,297.2 148.8,298.5 149.2,300.1 148.6,302.4 146.9,304.8 144.9,306.4 142.1,307.7 139.0,308.4 135.8,308.5 132.7,308.1Z" fill="#4e95cc" fill-rule="evenodd"/><path d="M22.1,327.7 343.5,327.7 343.5,250.3 21.3,250.3 21.3,327.7ZM131.8,310.3 128.7,309.5 125.4,308.0 123.1,306.4 120.9,304.0 119.9,301.7 120.0,299.3 121.5,296.9 123.2,295.6 125.6,294.4 129.5,293.3 139.0,292.5 144.5,292.8 150.0,293.7 152.9,294.6 154.8,296.1 154.7,298.5 152.6,302.4 150.1,305.6 147.1,308.0 143.7,309.6 139.8,310.6 135.8,310.8 131.9,310.4Z" fill="#5aa0d2" fill-rule="evenodd"/><path d="M22.1,327.7 343.5,327.7 343.5,250.3 21.3,250.3 21.3,327.7ZM130.3,312.7 125.6,311.2 121.6,309.2 118.3,306.4 116.1,303.2 115.5,300.1 116.0,297.7 117.7,295.3 120.8,293.2 124.0,291.9 128.7,290.7 134.2,290.1 140.6,289.9 150.8,290.4 158.7,291.3 162.4,292.2 164.7,293.8 164.7,295.3 163.5,296.9 157.9,301.8 152.4,307.6 148.5,310.3 144.5,312.1 140.6,313.0 135.8,313.3 131.1,312.9ZM199.3,280.3 198.0,278.8 198.3,277.2 199.8,275.8 201.3,275.1 203.7,274.7 206.1,275.1 207.7,276.0 208.4,277.2 208.1,278.8 206.1,280.4 202.9,281.1 199.8,280.6ZM266.2,270.1 265.0,269.3 264.0,267.7 263.6,265.3 264.0,263.8 265.1,262.2 266.1,261.4 267.7,260.9 269.2,261.1 270.8,262.0 271.6,263.0 272.1,264.6 272.0,266.1 271.4,267.7 270.0,269.5 268.5,270.3 266.9,270.3ZM61.7,264.6 59.6,263.8 59.1,263.0 59.5,262.2 61.2,261.4 64.0,260.9 68.7,260.8 79.8,261.3 82.6,262.2 80.6,263.0 70.5,264.6 62.4,264.7Z" fill="#79bcdc" fill-rule="evenodd"/><path d="M22.1,327.7 343.5,327.7 343.5,250.3 21.3,250.3 21.3,327.7ZM130.7,315.9 124.8,314.3 119.8,311.9 115.5,308.8 112.4,304.8 111.1,300.9 111.4,297.7 113.1,294.6 117.0,291.4 120.8,289.7 125.6,288.4 131.1,287.6 138.2,287.2 167.0,288.2 172.1,289.0 174.1,289.8 175.0,290.6 175.4,291.4 175.2,293.0 172.8,296.1 162.7,302.8 154.8,310.1 151.0,312.7 146.1,314.9 141.3,316.0 136.6,316.3 131.1,315.9ZM196.4,284.3 194.2,283.7 192.8,282.7 192.2,281.9 191.9,280.3 192.3,278.8 193.7,276.4 197.4,273.6 202.1,272.2 206.9,272.1 211.0,273.2 212.6,274.0 214.2,275.6 214.6,277.2 213.7,279.6 212.0,281.1 209.4,282.7 206.1,283.9 202.9,284.5 196.6,284.3ZM239.1,280.3 237.3,279.6 235.9,278.0 235.8,276.4 236.9,275.2 239.2,274.3 241.6,274.3 244.0,275.2 245.1,276.4 245.5,278.0 244.5,279.6 242.4,280.5 239.2,280.4ZM265.2,272.4 263.1,270.9 261.7,268.5 261.2,265.3 261.8,263.0 263.2,260.6 265.3,259.0 267.7,258.4 270.8,258.9 273.2,260.4 274.5,262.2 274.9,264.6 274.1,267.7 272.4,270.4 270.0,272.4 267.7,273.0 265.3,272.5ZM59.9,269.3 53.7,268.3 49.0,266.5 47.3,265.3 46.3,263.8 46.3,262.2 46.7,261.4 49.7,259.0 53.7,257.6 59.2,256.7 66.3,256.3 82.9,256.7 90.0,257.4 95.2,259.0 96.4,259.8 97.4,261.4 97.0,263.0 95.1,264.6 89.2,266.5 71.1,269.0 60.0,269.3ZM318.1,267.7 311.1,266.6 295.3,265.2 291.0,263.8 289.7,263.0 288.8,261.4 289.8,259.8 293.7,258.0 299.2,257.2 304.8,257.4 309.9,258.2 327.7,262.7 330.6,263.8 332.4,265.3 332.3,266.1 331.7,266.9 328.5,268.1 323.7,268.3 318.2,267.7Z" fill="#9fd3e3" fill-rule="evenodd"/><path d="M22.1,327.7 343.5,327.7 343.5,250.3 21.3,250.3 21.3,327.7ZM131.8,319.8 124.8,318.4 117.7,315.4 111.7,311.1 107.8,306.4 106.1,301.7 106.0,299.3 106.4,296.9 108.6,293.0 112.9,289.3 116.1,287.6 120.0,286.2 130.3,284.2 139.0,283.8 159.5,284.0 170.6,282.8 175.3,281.5 180.8,279.2 195.0,271.3 199.8,269.8 203.7,269.2 240.0,268.9 243.2,269.5 246.3,270.8 248.7,272.4 250.5,274.8 251.0,277.2 250.3,279.6 248.2,281.9 245.6,283.2 242.4,283.9 238.5,283.8 228.2,281.0 225.0,280.9 221.9,281.7 209.2,286.8 191.9,290.8 186.3,293.2 178.2,298.5 168.2,304.0 165.2,306.4 157.9,313.2 152.4,316.6 147.7,318.5 142.9,319.6 137.4,320.1 131.9,319.8ZM266.8,275.6 263.7,274.8 260.7,272.4 258.9,269.3 258.4,266.1 259.1,262.2 261.1,259.0 263.7,256.9 266.9,255.8 270.8,256.0 277.1,258.6 279.5,259.1 287.4,256.2 292.9,255.0 300.0,254.5 307.9,254.9 315.0,256.3 332.4,260.9 337.0,263.0 339.0,265.3 338.8,266.9 338.2,267.7 335.6,269.3 330.8,270.4 324.5,270.8 294.5,268.0 289.0,267.0 281.9,264.8 280.3,264.8 278.7,265.8 274.5,271.7 272.4,273.8 270.0,275.1 266.9,275.6ZM54.0,272.4 45.8,270.8 42.7,269.5 39.8,267.7 38.1,266.1 36.9,263.8 37.1,261.4 38.1,259.8 39.9,258.2 42.6,256.7 49.0,254.5 57.7,253.1 67.9,252.9 86.1,253.8 94.8,255.0 97.9,256.0 101.1,257.4 103.1,259.0 104.4,261.4 103.8,263.8 101.1,266.1 97.1,267.9 91.6,269.4 80.6,271.4 70.3,272.6 62.4,273.0 54.5,272.5Z" fill="#d5eff7" fill-rule="evenodd"/><path d="M22.1,327.7 343.5,327.7 343.5,270.4 340.3,271.8 336.4,272.6 319.0,273.2 296.9,271.9 284.2,270.5 281.9,270.6 279.5,271.7 274.8,276.4 271.6,278.3 266.9,279.2 259.0,278.4 257.4,279.1 252.5,283.5 247.1,285.8 240.8,286.7 230.6,286.3 225.8,286.7 206.6,291.4 199.1,293.8 194.5,296.1 189.5,299.7 176.1,306.4 172.9,308.8 165.0,316.6 159.5,320.4 152.4,323.5 142.9,325.6 135.0,326.0 127.1,325.1 120.0,323.3 112.9,320.2 106.7,315.9 102.2,311.1 99.2,305.6 98.3,300.1 98.6,296.9 99.8,293.8 101.8,290.6 104.9,287.4 108.2,285.1 112.1,283.0 116.9,281.3 122.4,279.9 133.5,278.4 154.0,278.3 161.9,277.4 168.6,275.6 195.0,266.3 203.7,264.2 218.7,261.5 227.4,260.4 235.3,259.9 251.1,260.6 253.5,259.7 261.4,253.5 263.7,252.5 266.9,251.8 270.0,251.8 278.7,253.1 296.1,251.0 303.2,250.9 310.3,251.5 316.6,252.5 324.5,254.6 337.9,258.7 343.5,261.3 343.5,250.3 92.3,250.3 101.9,252.5 105.0,253.9 107.9,255.9 110.2,258.2 112.2,261.4 112.5,263.8 111.3,266.1 108.4,268.5 104.2,270.6 97.9,272.7 90.8,274.3 78.2,276.3 55.3,277.7 52.1,278.3 50.6,279.4 50.2,280.3 50.8,288.2 50.6,290.6 49.8,293.0 47.4,296.0 45.8,296.8 43.4,297.3 41.1,296.9 38.8,295.3 37.0,293.0 36.1,290.6 36.0,285.9 38.5,278.8 38.2,276.4 36.7,274.8 30.2,270.9 27.1,268.5 25.2,266.1 24.3,263.0 24.8,260.6 25.7,259.0 29.0,255.9 34.8,252.8 42.6,250.3 21.3,250.3 21.3,327.7Z" fill="#eef9fb" fill-rule="evenodd"/><path d="M204.5,326.9 206.7,327.7 292.5,327.7 297.7,327.2 301.5,327.7 314.6,327.7 320.6,322.7 322.1,320.6 323.1,318.2 323.9,314.3 324.1,308.8 324.0,301.7 323.4,296.9 322.1,293.9 320.6,291.8 317.4,289.2 313.5,286.8 304.0,285.5 285.0,283.8 261.4,285.6 247.1,288.7 231.3,289.6 217.4,292.2 210.8,294.2 207.5,296.1 196.6,304.8 195.0,306.6 193.9,308.8 193.2,311.1 193.0,314.3 193.4,317.4 194.3,319.8 195.8,321.9 198.2,323.9 204.4,326.9ZM67.9,291.5 73.4,291.8 78.2,290.7 79.9,289.8 81.4,288.2 81.7,286.7 81.5,285.9 80.6,284.8 79.0,283.9 75.0,282.8 70.3,282.7 65.6,283.8 63.2,285.1 62.5,285.9 62.1,287.4 62.9,289.0 63.7,289.8 67.6,291.4ZM325.3,283.6 330.0,283.6 334.0,282.6 336.4,281.1 337.2,279.6 337.2,278.8 336.0,277.2 334.5,276.4 329.2,275.4 322.9,275.9 320.6,276.7 318.7,278.0 318.1,279.6 318.9,281.1 321.4,282.6 324.8,283.5ZM142.1,263.8 157.1,263.9 171.3,262.4 177.7,260.9 181.6,259.4 184.2,257.4 184.4,255.9 183.1,254.3 179.8,252.7 175.3,251.4 169.1,250.3 132.6,250.3 124.0,252.3 121.5,253.5 120.0,255.1 119.9,256.7 120.8,258.2 124.8,260.8 131.1,262.6 141.4,263.8Z" fill="#fdecee" fill-rule="evenodd"/><path d="M235.3,325.4 261.4,325.8 285.0,324.0 296.1,322.7 299.5,323.0 307.1,325.0 313.5,324.4 319.6,319.0 322.0,315.1 323.2,308.8 323.1,304.8 322.5,300.9 321.4,297.9 319.8,295.7 317.4,293.5 313.5,291.0 304.0,289.8 285.0,288.7 261.4,289.8 232.9,292.1 222.7,294.4 218.9,296.1 214.5,299.3 205.0,304.8 202.1,307.2 199.9,310.3 199.4,313.5 200.6,316.7 203.1,319.0 207.7,321.5 210.8,322.7 214.8,323.3 235.1,325.3ZM144.5,260.6 153.2,260.8 161.9,260.1 168.2,258.4 169.6,257.4 170.0,256.7 169.7,255.9 168.6,255.1 164.2,253.7 157.9,252.7 150.8,252.4 143.7,252.8 137.4,253.7 133.1,255.1 132.1,255.9 131.8,256.7 132.1,257.4 133.2,258.2 135.1,259.0 139.0,259.9 144.4,260.6Z" fill="#fcd7d7" fill-rule="evenodd"/><path d="M307.9,323.0 313.5,322.2 319.4,316.7 320.8,314.3 321.9,311.1 322.1,304.8 321.4,301.7 320.4,299.3 318.5,296.9 315.8,294.7 313.5,293.2 304.0,292.0 285.0,291.4 261.4,292.5 232.9,295.1 230.0,296.1 223.0,300.1 210.8,305.7 207.2,308.8 206.2,310.3 205.7,311.9 205.9,313.5 206.7,315.1 208.3,316.7 210.8,318.3 218.7,320.0 229.8,321.5 243.2,322.4 261.4,322.9 296.9,320.3 299.2,320.6 305.6,322.6 307.7,323.0ZM147.7,257.5 153.2,257.6 155.9,256.7 154.4,255.9 150.8,255.6 147.3,255.9 145.8,256.7 147.3,257.4Z" fill="#fbb8a8" fill-rule="evenodd"/><path d="M307.1,321.4 309.5,321.4 313.5,320.7 318.9,315.1 320.3,312.7 321.0,310.3 321.3,305.6 320.2,301.7 317.4,297.8 313.5,294.8 304.0,293.7 285.0,293.3 261.4,294.8 244.8,296.7 232.9,299.6 222.9,304.0 215.5,308.0 213.8,309.6 212.8,311.1 213.0,312.7 213.6,313.5 215.6,314.9 217.8,315.9 224.2,317.5 233.7,318.9 246.3,320.0 261.4,320.6 296.9,318.5 300.0,319.1 307.1,321.4Z" fill="#fc9272" fill-rule="evenodd"/><path d="M306.4,320.0 308.7,320.2 313.5,319.4 318.2,314.3 320.0,310.3 320.4,306.4 319.4,302.4 317.3,299.3 313.5,296.1 304.0,295.0 285.0,295.0 256.6,297.6 244.8,299.9 232.9,303.1 225.1,307.2 223.3,308.8 222.4,310.3 222.8,311.9 223.6,312.7 226.7,314.3 232.8,315.9 241.6,317.2 261.4,318.6 296.1,317.0 300.0,317.6 305.8,319.8Z" fill="#fb7050" fill-rule="evenodd"/><path d="M307.9,319.0 313.5,318.2 317.5,313.5 319.2,309.6 319.4,305.6 318.3,302.4 316.6,300.0 313.5,297.3 304.0,296.3 285.0,296.6 261.4,299.1 249.5,301.5 240.0,304.2 233.6,307.2 232.7,308.0 232.0,309.6 232.7,311.1 235.4,312.7 241.0,314.3 248.7,315.5 261.4,316.7 296.1,315.6 299.2,316.1 305.6,318.6 307.8,319.0Z" fill="#f5604a" fill-rule="evenodd"/><path d="M305.6,317.5 308.7,318.0 313.5,317.1 315.9,314.3 317.8,311.1 318.6,307.2 318.0,304.0 316.1,300.9 313.5,298.4 304.0,297.4 285.0,298.1 266.1,300.5 258.2,301.9 248.7,304.6 244.8,306.4 242.8,308.0 242.4,308.8 243.1,310.3 246.1,311.9 256.6,314.1 261.4,314.7 270.0,314.8 296.1,314.3 300.0,315.1 305.5,317.4Z" fill="#ec3c2f" fill-rule="evenodd"/><path d="M306.4,316.7 308.7,317.0 313.5,316.1 316.9,311.1 317.7,308.0 317.3,304.8 315.8,301.9 313.5,299.5 304.0,298.5 282.0,300.1 261.4,303.7 256.0,305.6 253.6,307.2 253.0,308.0 253.0,308.8 253.5,309.6 254.7,310.3 261.4,312.3 275.6,313.0 296.1,313.0 300.0,313.8 306.2,316.7Z" fill="#d01c22" fill-rule="evenodd"/><path d="M307.1,315.9 309.5,315.9 313.5,315.0 316.0,311.1 316.8,308.0 316.6,305.6 315.7,303.2 313.5,300.5 304.0,299.7 285.0,301.4 275.4,303.2 269.3,304.8 265.5,306.4 264.5,307.2 264.3,308.0 265.1,308.8 267.1,309.6 272.4,310.5 281.1,311.2 296.9,311.7 300.0,312.6 307.1,315.9Z" fill="#b0121d" fill-rule="evenodd"/><path d="M305.6,314.3 307.1,314.9 309.5,314.9 313.5,313.9 314.3,312.7 315.7,309.6 316.0,307.2 315.2,304.0 313.5,301.6 307.9,300.8 304.0,300.8 285.0,303.8 281.9,304.8 279.2,306.4 279.3,307.2 280.5,308.0 283.5,308.7 297.7,310.2 300.8,311.5 305.6,314.3Z" fill="#8d0c14" fill-rule="evenodd"/><path d="M306.4,313.5 309.5,313.8 313.5,312.7 314.9,309.6 315.2,307.2 314.7,304.8 313.5,302.8 307.9,301.9 304.0,302.1 298.1,304.0 295.5,305.6 295.4,306.4 296.3,307.2 306.3,313.5Z" fill="#650610" fill-rule="evenodd"/><path d="M210.0,323.3 210.8,323.8 324.5,320.5 343.5,320.5 343.5,293.9 324.5,293.9 277.1,295.5 230.6,298.0 217.1,297.6 212.9,296.9 210.8,296.0 202.4,306.4 200.8,309.6 200.4,311.9 200.9,315.1 202.3,317.4 205.3,320.3 209.4,323.0ZM131.9,314.3 136.6,314.8 142.1,314.7 147.7,313.8 152.4,312.5 159.5,309.3 173.7,300.4 178.5,298.4 184.0,296.7 193.5,294.6 202.9,293.1 208.4,293.0 210.8,293.8 214.0,291.4 231.3,282.1 239.0,277.2 243.7,272.4 244.7,270.1 244.6,268.5 242.3,266.1 236.1,264.4 227.4,264.1 216.3,265.2 205.3,267.2 195.0,269.8 169.8,278.7 163.5,280.4 156.3,281.5 136.6,282.9 131.1,284.0 125.6,285.8 119.5,289.0 115.4,293.0 113.4,296.9 113.3,301.7 115.0,305.6 119.0,309.6 124.8,312.5 131.6,314.3ZM38.7,296.4 41.1,296.6 42.7,296.1 44.2,294.9 45.3,293.0 45.5,290.6 45.0,289.0 43.8,287.4 41.9,286.4 39.5,286.2 37.9,286.7 36.3,287.9 35.3,289.8 35.1,292.2 35.6,293.8 38.0,296.1ZM59.2,271.7 70.3,271.5 79.8,269.6 83.7,267.9 86.1,266.1 87.2,264.6 87.5,262.2 86.8,260.6 85.1,259.0 80.6,256.7 73.4,254.8 64.8,254.1 56.1,254.6 49.0,256.1 44.0,258.2 41.9,259.8 40.7,261.4 40.3,263.0 40.7,264.6 41.9,266.1 44.2,267.8 50.6,270.3 59.2,271.7ZM298.5,269.3 309.5,269.5 319.0,268.1 322.4,266.9 325.2,265.3 326.5,263.8 326.5,262.2 324.1,259.8 319.0,257.9 312.7,256.7 304.8,256.2 296.9,256.6 289.8,257.9 284.4,259.8 281.9,262.2 282.0,263.8 282.6,264.6 285.8,266.5 291.4,268.2 298.3,269.3ZM151.6,259.1 154.8,259.3 157.9,258.8 159.5,258.1 160.6,256.7 160.3,255.9 158.7,254.8 154.8,254.0 150.8,254.4 147.7,255.9 147.4,256.7 147.7,257.4 151.1,259.0Z" fill="url(#stip)"/><path d="M22.9,251.9 L59.6,251.9 L59.2,253.5 L58.4,255.1 L57.0,257.3 L55.4,259.8 L53.2,262.0 L50.7,264.4 L47.1,265.7 L44.2,266.6 L41.2,267.4 L40.6,268.8 L39.8,267.1 L37.9,266.8 L35.2,268.0 L33.7,270.6 L34.8,273.1 L36.3,274.8 L38.4,277.2 L39.2,280.3 L39.0,282.7 L37.1,283.8 L35.1,284.6 L32.7,287.1 L32.1,287.3 L32.1,285.1 L30.0,284.3 L29.1,282.2 L27.7,281.6 L25.9,280.0 L25.0,279.7 L24.3,281.1 L23.7,284.3 L23.4,286.3 L25.0,288.2 L26.6,290.0 L28.1,291.2 L29.9,293.3 L29.9,295.3 L30.5,296.9 L31.3,298.7 L30.0,298.8 L26.6,296.4 L25.1,294.2 L24.8,292.2 L22.9,289.8 L22.9,251.9Z M38.1,270.6 L39.5,269.1 L41.4,269.3 L41.9,269.9 L40.9,271.7 L39.5,272.1 L38.2,271.7Z M56.2,264.6 L57.2,266.1 L57.7,266.1 L59.1,262.2 L59.1,261.1 L58.0,261.1 L56.4,263.3Z M22.9,296.1 L24.5,297.2 L26.1,297.6 L27.7,298.5 L29.7,299.8 L31.4,302.1 L33.2,304.8 L34.0,305.9 L33.7,310.0 L31.8,310.2 L30.0,308.3 L28.0,306.6 L26.1,304.5 L25.0,302.4 L22.9,300.9Z M32.7,303.4 L34.1,303.2 L35.2,305.4 L34.0,305.8 L32.9,304.3Z M32.7,311.6 L34.0,310.2 L37.6,310.7 L40.9,311.8 L42.7,311.3 L44.4,311.8 L47.4,313.2 L47.2,314.6 L43.4,314.0 L40.3,313.5 L37.1,313.2 L34.6,312.6 L32.9,311.8Z M44.6,311.8 L46.8,311.8 L46.6,312.2 L44.7,312.2Z M47.4,313.7 L49.1,314.0 L48.5,314.8 L47.4,314.1Z M49.8,314.0 L50.9,314.0 L50.6,314.9 L49.8,314.8Z M51.0,314.3 L53.2,313.7 L54.7,314.0 L54.5,314.6 L52.6,314.9 L51.2,314.9Z M55.8,314.3 L57.7,314.0 L60.5,313.8 L60.7,314.4 L58.4,314.8 L56.1,314.9Z M54.5,315.9 L56.1,315.7 L57.3,316.8 L56.1,317.1 L54.7,316.5Z M61.6,317.1 L63.2,315.9 L65.2,314.4 L67.6,314.1 L66.3,314.9 L64.0,316.3 L62.4,317.3Z M39.7,297.7 L38.7,300.1 L39.0,301.7 L40.3,303.7 L40.6,305.4 L42.8,306.2 L45.0,305.9 L47.4,307.0 L49.8,307.2 L50.2,305.6 L50.6,303.2 L52.1,301.7 L52.3,299.6 L54.5,299.3 L52.9,297.7 L52.4,295.7 L53.4,293.8 L54.8,292.8 L52.6,291.6 L51.3,289.8 L49.8,291.4 L48.7,293.0 L46.6,293.8 L45.0,295.8 L42.3,297.2 L40.8,298.2Z M55.1,309.7 L55.4,307.2 L54.3,305.6 L54.8,303.2 L55.8,301.2 L56.2,300.1 L58.0,299.3 L60.0,299.3 L62.4,299.6 L64.0,298.3 L63.3,300.4 L61.3,300.2 L58.4,300.2 L57.0,300.4 L56.9,302.1 L58.6,302.3 L61.4,302.3 L60.2,303.2 L58.3,304.0 L59.9,305.9 L60.5,308.0 L59.2,308.1 L58.1,306.9 L57.5,305.4 L56.7,305.6 L56.9,309.6Z M68.1,297.4 L68.7,299.3 L69.8,298.5 L69.0,299.9 L70.1,300.4 L68.7,301.2 L69.0,302.3 L68.1,301.5 L67.8,299.6Z M68.7,305.9 L71.1,305.3 L73.3,306.2 L72.7,307.0 L70.0,306.2 L68.7,306.6Z M65.6,305.9 L67.1,305.8 L67.4,306.7 L65.9,306.9Z M57.0,271.7 L59.6,271.7 L59.6,274.0 L58.6,275.9 L58.9,278.4 L62.4,279.1 L62.7,281.0 L61.3,280.3 L59.9,279.1 L57.7,279.2 L57.0,278.4 L56.1,277.5 L56.1,275.6 L56.7,275.0Z M56.6,279.6 L58.0,279.7 L58.4,281.1 L57.7,281.6 L56.7,280.5Z M62.9,281.1 L64.4,281.1 L65.1,283.3 L64.0,283.3 L63.0,282.2Z M62.9,282.7 L64.0,283.2 L64.4,284.9 L63.7,285.1 L62.9,283.8Z M59.1,282.2 L61.0,282.9 L60.5,284.1 L59.2,284.3Z M59.9,283.7 L61.1,283.7 L61.4,286.3 L60.8,286.7 L60.0,285.2Z M61.3,283.0 L61.9,283.3 L62.4,284.6 L61.6,285.7 L61.4,284.4Z M62.1,284.9 L63.2,285.1 L63.0,285.7 L62.1,285.7Z M59.2,289.8 L60.0,288.4 L61.8,288.6 L62.7,287.9 L64.6,285.6 L66.3,288.2 L65.9,290.9 L64.6,292.0 L62.7,291.1 L61.8,289.2 L59.6,290.0Z M51.7,287.8 L52.3,287.6 L54.5,285.1 L55.6,283.2 L55.1,283.0 L53.4,285.1 L51.7,287.3Z M73.4,303.1 L75.0,301.5 L78.2,302.3 L79.8,306.1 L82.9,303.2 L85.3,303.6 L88.8,304.8 L91.6,305.9 L94.8,307.0 L96.8,309.2 L99.5,310.7 L100.0,311.4 L99.0,312.7 L100.6,313.7 L102.3,315.9 L104.7,317.1 L103.1,317.3 L99.5,316.8 L97.1,313.8 L94.8,312.9 L93.2,314.0 L92.4,315.4 L89.2,315.2 L86.9,313.7 L84.5,314.1 L84.2,312.6 L85.4,311.6 L84.5,309.2 L81.3,308.1 L78.7,307.0 L76.3,307.2 L75.0,305.4 L77.1,304.7 L75.0,304.5 L73.9,303.2Z M100.8,309.7 L103.5,309.6 L105.8,308.6 L106.9,307.7 L107.1,308.8 L105.8,309.9 L103.5,310.8 L101.1,310.5Z M104.7,305.0 L106.9,306.2 L108.5,308.1 L107.9,308.4 L106.0,306.6 L104.6,305.4Z M110.7,309.2 L111.8,309.7 L112.9,311.3 L112.3,311.8 L111.0,310.7Z M118.6,315.6 L120.0,315.7 L120.5,316.3 L118.9,316.3Z M120.2,314.1 L121.1,314.6 L121.6,316.0 L120.8,315.6Z M117.0,312.7 L118.6,313.7 L118.9,314.3 L117.5,313.5Z M129.7,323.9 L130.6,324.6 L130.5,325.5 L129.7,325.0Z M62.4,326.9 L63.2,325.0 L64.8,323.8 L67.0,322.7 L69.0,324.2 L71.1,324.4 L71.6,322.2 L73.1,320.4 L74.2,320.1 L75.8,319.0 L77.4,319.7 L79.8,320.1 L82.3,319.8 L81.3,321.9 L80.6,323.8 L81.0,326.9Z M89.9,326.9 L90.0,324.6 L90.2,321.4 L90.8,319.0 L91.6,317.8 L92.7,319.7 L93.2,322.2 L94.6,323.4 L95.9,324.4 L96.2,326.9Z M71.9,318.9 L74.2,318.6 L74.1,319.5 L72.2,319.5Z M81.8,322.7 L82.8,322.7 L82.6,323.4 L81.8,323.3Z M188.9,269.0 L190.3,269.8 L189.3,271.0 L188.7,270.1Z M187.6,267.7 L188.7,268.0 L188.1,268.3Z M185.1,266.8 L186.0,267.2 L185.4,267.2Z M182.7,265.8 L183.5,266.0 L183.0,266.3Z M186.7,267.4 L187.6,267.6Z M251.1,251.9 L253.1,255.1 L254.9,256.7 L254.7,257.9 L256.9,259.8 L258.0,261.7 L259.8,263.0 L261.4,264.7 L262.3,264.1 L260.9,262.7 L259.8,260.8 L258.2,258.6 L256.9,257.0 L255.3,254.3 L254.2,251.9Z M256.3,251.9 L257.1,253.5 L259.8,256.8 L261.4,258.2 L262.6,260.4 L264.5,261.4 L266.9,264.1 L268.5,266.8 L268.8,268.5 L270.4,270.7 L271.6,272.1 L274.8,273.6 L277.3,274.3 L280.3,275.3 L282.7,276.1 L285.0,275.4 L286.6,275.6 L289.3,277.8 L291.0,278.9 L293.7,279.7 L296.9,280.3 L297.2,280.5 L298.0,281.6 L299.4,283.3 L299.7,285.1 L301.1,285.6 L303.0,287.4 L304.8,287.9 L306.8,289.0 L308.7,289.3 L308.4,287.8 L309.5,286.8 L311.6,287.8 L312.8,288.6 L312.0,289.8 L313.0,294.6 L312.4,296.6 L310.6,298.5 L308.7,299.6 L308.1,301.5 L307.3,302.6 L308.4,305.0 L308.2,306.2 L306.8,308.1 L307.0,310.0 L308.9,311.8 L310.8,314.4 L312.7,317.9 L314.4,320.8 L314.7,322.3 L315.7,324.6 L316.6,326.9 L341.9,326.9 L341.9,287.4 L339.5,287.3 L337.9,285.4 L335.9,284.1 L333.2,284.8 L329.4,284.1 L326.9,284.1 L324.2,282.6 L322.0,283.5 L321.5,284.6 L322.6,285.9 L321.4,283.5 L321.0,281.6 L319.3,283.0 L316.9,283.5 L315.7,284.4 L315.0,286.0 L312.7,287.1 L309.0,285.7 L306.4,286.7 L304.0,285.1 L303.0,283.5 L302.9,281.9 L303.2,278.8 L303.4,276.9 L300.8,275.6 L297.7,275.9 L295.3,275.9 L295.6,274.3 L296.4,272.0 L296.9,270.1 L298.0,266.9 L296.1,266.9 L292.3,267.7 L292.3,269.6 L291.4,271.3 L289.0,271.5 L285.8,272.1 L283.3,270.6 L281.1,266.1 L280.8,263.0 L281.2,259.8 L281.6,257.0 L283.5,255.7 L285.4,254.6 L287.4,253.8 L290.6,254.4 L292.6,254.9 L294.2,255.1 L293.9,253.2 L296.9,253.0 L300.0,253.8 L302.4,253.5 L304.5,256.7 L305.9,259.8 L307.3,261.1 L308.6,259.0 L307.9,256.7 L306.7,253.5 L306.7,251.9Z M301.0,266.3 L305.6,264.4 L308.7,264.4 L313.5,266.3 L317.9,269.0 L317.4,269.4 L312.4,269.6 L313.0,268.3 L310.9,266.8 L307.1,266.1 L304.3,265.2Z M317.6,269.6 L320.1,269.4 L324.5,269.8 L327.0,271.5 L326.6,272.1 L322.3,273.1 L319.9,272.1 L317.4,271.8Z M311.4,271.8 L314.6,272.1 L314.7,272.6 L312.7,272.8Z M328.9,271.7 L331.5,271.8 L331.3,272.4 L328.9,272.4Z M311.6,261.1 L312.4,261.9 L312.0,263.0 L311.2,262.0Z M310.3,258.7 L312.2,258.9 L311.9,259.0 L310.3,259.0Z M313.8,260.6 L314.7,261.9 L314.9,261.7Z M337.3,283.8 L338.7,283.8 L338.7,284.9 L337.3,284.9Z" fill="#c3c3c3" stroke="#333" stroke-width="0.55" stroke-linejoin="round"/></g><g clip-path="url(#c10)"><rect x="367.4" y="13.5" width="315.80" height="71.05" fill="#5a3408"/><path d="M365.0,87.7 686.4,87.7 686.4,10.3 364.2,10.3 364.2,87.7ZM507.4,65.6 500.8,64.4 500.2,64.0 500.0,63.2 500.2,60.9 501.1,59.3 506.4,56.4 507.8,56.9 507.9,57.7 506.3,59.3 506.4,60.1 507.1,60.4 507.9,60.3 509.5,59.1 519.0,57.4 522.9,56.3 529.2,56.8 531.6,56.0 534.8,54.2 539.5,55.8 544.2,55.2 549.0,56.7 552.9,56.1 559.2,57.4 563.2,57.2 564.0,57.7 564.2,58.5 563.2,59.5 556.9,60.2 552.9,62.4 549.0,61.8 544.2,63.4 537.1,64.0 533.2,66.1 526.1,64.9 522.1,65.8 507.9,65.7ZM629.1,54.6 628.0,53.8 630.3,53.2 635.8,53.0 642.1,53.8 636.6,54.7 629.5,54.6ZM646.2,53.8 645.6,53.0 649.3,52.2 650.5,52.2 651.3,53.0 650.0,53.9 646.9,53.8Z" fill="#93560f" fill-rule="evenodd"/><path d="M365.0,87.7 686.4,87.7 686.4,10.3 364.2,10.3 364.2,87.7ZM507.2,67.2 502.4,66.5 496.1,67.0 490.6,66.8 489.4,66.4 489.4,65.6 490.8,64.8 492.3,61.7 495.3,59.1 500.0,57.7 506.4,54.5 508.7,54.9 511.9,56.3 515.8,56.3 519.0,55.9 523.7,54.1 528.5,55.2 530.0,55.1 533.2,52.8 534.8,52.4 539.5,53.9 543.5,53.9 548.2,54.5 552.1,54.2 559.2,55.8 564.0,55.3 565.9,56.1 567.5,57.7 565.8,60.1 564.0,61.1 560.8,61.6 557.7,61.6 553.7,63.7 549.0,64.0 541.1,65.3 537.9,66.0 534.0,67.6 526.9,66.5 520.6,67.0 516.6,67.7 507.9,67.4ZM472.8,65.6 473.0,64.8 474.0,64.2 475.3,64.8 475.3,65.6 474.8,66.0 473.2,66.0ZM583.6,56.9 582.5,56.1 583.0,55.3 583.7,55.1 586.0,55.3 586.7,56.1 585.6,56.9 583.7,57.0ZM602.5,55.3 602.6,54.6 603.2,54.6 603.1,55.3 602.7,55.4ZM608.4,55.3 608.2,54.6 610.6,53.6 613.2,53.8 614.7,54.6 612.9,55.5 609.0,55.5ZM617.5,54.6 618.4,53.8 621.6,53.0 626.4,53.1 631.1,52.6 643.7,52.6 650.0,51.7 651.9,52.2 652.1,53.0 650.0,54.3 643.7,54.4 635.8,55.3 625.6,54.9 619.3,55.2 617.7,54.6Z" fill="#b87426" fill-rule="evenodd"/><path d="M365.0,87.7 686.4,87.7 686.4,10.3 364.2,10.3 364.2,87.7ZM489.6,69.6 485.8,68.4 471.6,68.2 469.0,67.2 468.6,66.4 468.7,64.8 469.4,63.2 470.5,62.4 474.0,61.0 477.1,60.9 479.5,59.4 481.1,59.2 484.2,60.8 486.6,61.1 487.4,60.9 490.2,57.7 493.7,56.0 495.3,55.9 497.7,56.5 499.2,56.5 501.6,55.6 504.8,53.7 506.4,53.3 515.0,54.6 517.4,54.5 519.3,53.8 522.1,51.6 523.7,51.2 528.5,53.2 530.0,53.0 532.6,51.4 534.0,51.0 539.5,52.5 547.4,52.9 551.4,52.1 559.2,54.5 564.0,53.7 568.7,54.7 575.0,53.7 579.8,54.6 584.5,53.7 595.6,54.9 597.1,55.3 594.8,56.5 586.1,58.3 581.4,58.1 576.6,59.0 570.3,59.4 567.9,60.3 564.8,62.2 560.8,63.0 557.7,63.0 553.7,65.3 542.7,66.8 538.7,68.7 533.2,69.1 530.0,68.4 522.1,68.0 516.6,69.4 512.7,68.9 508.7,69.7 506.4,68.7 504.0,68.5 494.5,69.0 491.4,70.3 489.8,69.7ZM462.1,68.0 461.0,67.2 460.9,65.6 462.1,64.2 463.7,63.8 464.6,64.8 464.3,66.4 463.7,67.3 462.1,68.0ZM600.2,56.1 598.8,55.3 599.2,54.6 600.6,53.8 602.7,53.4 606.6,53.7 611.4,52.8 616.1,53.5 621.6,52.3 642.9,52.1 650.0,51.3 653.0,52.2 653.0,53.0 652.4,53.5 650.0,54.7 643.7,54.9 636.6,55.8 625.6,55.5 619.3,56.0 616.1,55.7 611.4,56.5 605.8,56.2 602.7,56.6 600.3,56.2Z" fill="#dcb36a" fill-rule="evenodd"/><path d="M365.0,87.7 686.4,87.7 686.4,10.3 364.2,10.3 364.2,87.7ZM491.1,72.7 487.4,70.6 485.0,70.1 470.0,69.9 465.3,70.8 462.9,70.6 459.1,68.8 457.8,67.2 457.8,66.4 460.0,63.2 462.9,60.9 466.9,61.0 471.6,58.8 477.1,58.6 481.1,57.4 483.5,57.3 485.8,58.0 486.6,57.9 493.7,54.0 499.2,54.9 505.6,52.3 509.5,52.3 512.7,51.6 515.0,52.4 516.6,52.3 519.8,49.8 524.5,47.7 526.9,49.8 528.5,50.5 533.2,48.9 537.9,50.6 541.1,51.2 546.6,51.4 551.4,50.4 559.2,53.2 564.0,52.2 569.5,53.0 575.0,52.1 579.8,53.2 584.5,52.8 594.8,53.6 597.9,53.4 601.9,52.6 606.6,53.0 611.4,52.2 616.1,52.7 621.6,51.7 626.4,52.0 631.9,51.6 642.9,51.7 650.0,50.9 652.4,51.2 653.9,52.2 653.8,53.0 652.9,53.8 650.0,55.2 644.5,55.4 636.6,56.4 626.4,56.1 619.3,56.7 616.1,56.5 609.8,57.3 601.9,57.4 597.9,57.1 594.8,57.9 590.8,58.2 586.9,59.4 581.4,59.4 575.0,60.9 570.3,60.9 568.7,61.4 564.8,63.7 561.6,64.6 557.7,64.7 553.7,67.0 545.0,68.2 542.7,69.6 540.7,72.7 539.5,73.4 537.9,73.0 536.2,71.1 534.8,70.6 530.0,70.0 526.9,70.7 523.7,69.6 522.1,69.4 518.2,71.2 512.7,70.6 508.7,71.9 504.8,70.6 500.0,72.4 497.7,72.5 495.3,71.8 491.4,72.8ZM453.3,66.4 452.7,65.6 452.7,64.2 453.5,63.4 454.2,63.4 455.2,64.0 455.6,66.4 454.2,66.8 453.5,66.5Z" fill="#f0daa4" fill-rule="evenodd"/><path d="M365.0,87.7 588.2,87.7 589.2,86.6 590.0,86.4 590.4,87.7 686.4,87.7 686.4,10.3 531.9,10.3 530.0,11.8 527.7,12.4 526.6,11.9 525.9,10.3 482.3,10.3 481.9,11.0 481.3,10.3 364.2,10.3 364.2,41.6 365.5,42.7 365.9,44.3 365.6,45.1 364.2,46.0 364.2,87.7ZM536.7,75.1 534.5,72.7 530.8,71.5 529.2,71.8 525.3,73.5 524.5,73.2 523.3,71.9 522.1,71.7 519.0,73.5 514.2,72.3 508.7,73.6 504.8,72.7 501.6,73.8 492.9,75.1 491.4,74.7 486.6,72.6 484.2,72.2 481.9,72.2 477.9,73.5 474.8,72.6 469.2,72.2 463.7,73.0 456.6,69.6 449.5,68.4 448.5,67.2 448.6,66.4 451.1,62.4 452.1,61.7 458.2,60.6 462.1,58.5 466.9,58.7 470.0,55.9 472.4,56.5 477.1,56.7 480.3,55.3 483.5,53.2 486.6,54.7 488.2,54.9 493.7,52.1 498.5,53.1 505.6,50.5 508.7,50.4 510.2,49.0 510.2,45.9 510.5,45.1 511.9,44.8 513.5,44.9 515.1,45.9 516.6,48.0 518.2,47.7 522.9,44.7 524.5,44.4 525.8,45.1 527.4,47.4 528.5,48.2 534.0,46.6 535.6,47.0 539.5,49.2 545.0,49.8 546.6,49.6 550.6,48.1 555.3,49.2 558.5,51.2 560.0,51.5 564.0,50.7 571.1,51.6 575.8,50.3 580.6,51.6 594.0,52.6 601.9,51.7 606.6,52.2 611.4,51.6 616.1,52.1 621.6,51.0 626.4,51.4 632.7,51.1 642.9,51.3 650.0,50.5 653.2,50.8 654.3,51.4 654.8,52.2 654.6,53.0 653.9,53.8 650.0,55.8 640.6,56.7 637.4,57.5 626.4,56.7 620.8,57.5 615.3,57.4 609.8,58.2 598.7,58.3 595.6,59.2 591.6,59.2 586.9,60.9 579.0,61.6 574.2,63.1 570.3,62.9 567.1,64.2 563.2,67.5 562.4,67.8 558.5,66.7 557.7,66.8 555.3,68.3 552.1,69.2 546.6,69.6 544.4,71.1 541.7,74.3 539.5,75.3 537.1,75.4ZM489.2,46.7 485.8,45.7 485.0,45.2 484.9,44.3 485.2,43.5 485.8,43.1 488.2,42.3 489.8,40.2 490.6,39.7 491.4,39.9 492.1,41.4 492.9,43.5 493.0,45.1 491.5,46.7 489.8,46.9ZM548.9,45.9 547.5,43.5 548.2,42.5 549.0,43.0 549.8,44.3 549.8,45.7 549.0,45.9ZM506.0,45.1 505.5,44.3 506.4,43.0 507.9,43.3 508.9,44.3 508.1,45.1 506.4,45.3ZM477.3,41.1 476.8,40.3 476.5,38.8 477.4,34.0 481.1,32.0 482.7,32.0 483.5,32.4 483.8,33.2 482.2,35.6 483.3,38.0 483.1,40.3 482.4,41.1 481.1,41.7 479.5,41.9 477.9,41.6ZM524.1,38.0 523.5,37.2 523.1,34.8 524.0,30.9 523.7,29.1 522.9,28.8 521.4,29.2 517.4,31.5 516.3,30.9 516.2,30.1 518.1,26.1 519.8,24.9 521.4,24.8 523.1,25.3 527.7,29.3 527.7,30.1 526.4,32.4 526.5,36.4 525.3,38.0 524.5,38.3ZM555.2,38.0 553.2,36.4 552.4,34.8 551.8,30.1 552.1,28.3 552.9,27.8 554.5,28.1 556.6,30.1 559.7,30.9 561.0,32.4 560.8,35.2 557.7,36.1 556.1,37.9 555.3,38.0ZM572.4,36.4 571.7,35.6 571.5,34.8 572.2,33.2 574.2,32.6 576.2,33.2 576.3,34.8 575.8,35.8 574.2,36.6 572.7,36.5ZM384.7,34.8 383.9,34.0 383.6,32.4 384.0,31.4 384.8,30.7 389.5,31.1 391.9,29.8 392.7,29.8 393.3,30.9 393.6,33.2 392.7,34.3 389.5,33.8 387.1,35.1 384.8,34.8ZM606.6,33.2 606.0,32.4 606.3,30.9 607.4,30.1 608.2,30.2 609.1,30.9 609.3,31.7 608.3,33.2 607.4,33.4ZM538.9,32.4 539.4,29.3 537.9,28.4 534.8,28.7 534.1,27.7 534.8,24.6 535.6,23.5 536.4,23.4 537.1,24.0 539.6,26.9 539.6,29.3 540.2,30.9 539.5,32.6ZM583.6,32.4 582.6,31.7 582.9,30.7 583.7,31.0 584.3,31.7 583.7,32.5ZM414.1,29.3 413.9,28.5 414.8,27.4 415.6,27.0 416.3,27.2 416.3,28.5 415.6,29.4 414.8,29.7ZM419.8,27.7 417.9,26.9 417.1,25.3 415.6,23.8 416.3,23.3 417.9,24.1 421.1,24.0 423.5,25.3 423.7,26.9 422.9,27.7 420.3,27.8ZM406.4,26.9 406.3,26.1 406.9,24.3 407.7,25.2 407.7,26.1 406.9,27.4ZM580.2,26.1 579.9,25.3 580.6,24.7 581.1,25.3 580.6,26.4ZM521.9,19.0 522.9,18.4 523.7,19.0 522.9,19.7 522.1,19.5ZM538.5,17.4 538.7,15.7 539.5,16.0 539.9,17.4 539.5,18.0 538.7,17.9ZM484.7,15.9 485.2,15.1 486.5,15.1 485.8,16.3 485.0,16.3Z" fill="#f6f0dc" fill-rule="evenodd"/><path d="M365.0,87.7 367.1,87.7 367.4,86.7 368.2,85.9 372.1,83.7 373.7,83.2 375.3,83.5 378.5,84.9 379.2,85.9 379.5,87.7 396.5,87.7 397.6,86.1 399.8,85.5 400.6,86.2 401.0,87.7 405.5,87.7 406.4,86.9 407.7,86.6 412.4,87.3 414.8,86.8 416.3,85.8 418.7,82.5 424.2,82.1 427.4,82.9 430.6,82.8 431.3,83.8 430.6,85.3 428.2,86.6 427.6,87.7 441.5,87.7 442.0,86.1 443.2,85.6 444.8,86.0 446.7,87.7 448.3,87.7 448.3,84.6 445.3,81.4 445.8,79.8 447.1,78.6 447.9,78.7 449.6,80.6 451.8,85.3 451.9,87.7 466.3,87.7 466.3,85.3 466.9,84.3 470.0,84.8 472.4,84.2 473.0,83.0 473.5,79.8 474.8,79.0 477.9,79.3 478.8,80.6 479.3,83.8 480.3,84.7 481.9,84.5 482.7,83.6 483.5,81.4 485.0,79.9 485.8,79.7 486.6,80.1 488.2,82.0 489.0,82.3 489.8,82.0 490.6,80.7 490.6,79.8 489.8,76.9 489.0,76.0 488.1,75.9 485.8,77.9 482.7,77.2 478.7,77.8 474.0,74.7 467.7,73.9 463.7,75.1 459.0,72.4 456.6,71.6 454.7,71.9 454.5,75.1 453.5,76.1 451.9,75.7 449.5,73.5 447.1,73.6 446.3,73.2 442.8,67.2 443.2,65.4 444.6,63.2 448.7,62.2 451.9,59.5 455.0,58.5 457.4,56.6 459.8,56.8 464.7,55.3 465.4,54.6 465.3,53.5 464.2,50.6 462.9,50.0 459.0,53.0 456.6,56.0 455.8,55.6 455.0,54.8 453.5,51.4 452.7,50.6 449.6,49.0 449.8,47.4 450.9,45.1 449.5,44.6 446.3,45.2 444.8,45.1 442.4,43.8 440.5,41.9 440.4,40.3 442.9,38.0 442.9,35.6 441.6,35.1 438.5,36.0 437.7,35.9 436.9,35.2 436.5,34.0 436.9,33.0 439.4,30.9 440.3,29.3 440.4,25.3 440.8,24.0 442.4,23.3 444.8,23.9 446.2,25.3 446.3,26.9 446.0,28.5 444.3,31.7 444.3,33.2 444.8,33.7 446.3,33.9 451.1,37.8 454.2,38.2 455.8,39.1 456.5,40.3 456.2,41.1 452.8,43.5 452.0,44.3 451.9,45.1 455.0,47.4 457.4,47.0 458.9,45.9 460.3,43.5 460.5,42.7 459.4,40.3 461.4,39.3 461.7,38.8 462.1,34.8 464.5,31.6 465.3,31.5 467.5,33.2 468.1,36.4 468.6,37.2 470.0,38.0 471.6,38.0 473.2,37.4 474.0,36.6 474.4,34.8 474.0,33.7 473.2,33.0 469.9,31.7 469.8,30.9 470.8,29.6 471.6,29.4 474.0,29.9 477.1,28.9 479.5,29.9 482.7,29.9 486.1,30.9 487.0,30.1 487.1,28.5 486.6,27.6 484.2,25.5 485.0,24.5 489.8,24.7 492.1,27.0 492.9,26.0 493.4,24.6 493.3,20.6 496.1,10.3 486.8,10.3 487.4,11.3 489.8,12.0 490.6,12.6 490.5,13.5 487.4,17.8 484.2,19.4 482.7,18.9 478.8,13.5 478.3,11.9 478.5,10.3 476.5,10.3 476.1,11.9 474.8,12.7 473.2,12.9 468.5,12.2 467.3,10.3 462.0,10.3 460.8,12.7 459.8,13.1 457.4,12.2 455.0,12.0 454.2,11.5 453.8,10.3 447.2,10.3 446.7,13.5 446.1,14.3 444.8,14.6 443.9,14.3 443.3,13.5 443.2,10.3 433.9,10.3 429.6,16.7 429.4,18.2 430.1,21.4 429.8,23.1 428.2,21.7 426.2,17.4 425.9,13.5 424.5,10.3 394.0,10.3 393.5,10.6 393.2,10.3 388.1,10.3 387.1,11.8 386.3,11.8 385.2,10.3 367.8,10.3 365.8,12.5 364.2,13.5 364.2,20.3 365.8,21.0 366.9,22.2 367.4,24.8 369.0,25.2 370.6,24.9 370.9,23.8 369.8,20.8 369.3,18.2 370.6,16.6 372.1,15.8 372.9,16.1 376.3,22.2 378.6,23.8 378.8,24.6 376.9,25.8 376.3,26.9 376.4,27.7 377.7,28.7 380.8,28.9 384.0,27.5 384.8,27.5 387.1,28.8 388.7,28.5 388.8,26.9 387.2,23.8 386.5,16.7 387.1,15.7 389.5,15.2 391.9,14.0 392.7,14.1 395.0,16.7 396.6,17.2 399.0,16.8 402.1,19.3 403.7,18.9 406.1,17.2 407.7,17.0 409.2,17.3 409.8,18.2 410.0,20.9 410.8,22.0 411.6,21.9 413.2,19.5 414.8,19.0 418.7,21.5 424.2,23.6 426.0,25.3 426.1,27.7 424.2,29.3 419.5,30.5 418.8,32.4 420.3,36.2 424.7,39.6 426.0,41.1 425.6,44.3 425.0,45.5 424.2,45.6 421.1,44.2 416.3,44.3 415.8,42.7 416.6,39.6 416.4,38.8 413.2,35.6 410.8,34.7 410.4,34.0 410.0,31.6 409.4,30.9 408.5,30.9 406.1,32.6 404.5,33.2 401.9,32.4 401.7,31.7 403.5,27.7 402.9,25.7 402.1,25.7 399.7,29.3 399.3,30.9 399.5,32.4 398.5,34.0 393.5,37.2 391.9,37.3 389.5,36.7 385.5,38.8 384.9,39.6 383.7,42.7 383.3,47.4 384.8,48.6 387.1,49.0 387.2,49.8 385.8,53.0 384.8,54.0 382.4,54.1 380.8,53.0 380.4,52.2 380.5,49.0 378.5,48.1 377.7,47.4 377.5,46.7 378.2,45.1 381.2,41.9 382.1,39.6 381.8,38.8 380.8,38.5 376.1,39.7 375.3,40.3 375.0,43.5 372.9,45.6 372.1,45.8 369.0,44.5 368.2,44.7 365.8,47.3 364.2,48.0 364.2,74.8 366.0,76.7 366.2,77.4 365.8,78.6 364.2,80.5 364.2,87.7ZM392.4,83.8 391.4,82.2 391.6,80.6 392.7,78.2 394.2,77.1 395.0,77.4 395.8,78.3 396.3,79.8 396.2,80.6 394.2,83.2 393.5,84.0 392.7,84.0ZM373.3,51.4 373.0,49.8 373.7,49.2 375.8,50.6 375.8,51.4 375.3,51.7 373.7,51.7ZM387.0,45.9 387.1,44.2 387.1,46.1ZM431.2,45.9 430.2,45.1 431.3,44.4 433.4,45.1 432.9,46.0 431.3,45.9ZM407.7,44.3 406.3,42.7 405.8,41.1 405.9,39.6 406.9,39.1 408.5,39.9 409.8,41.9 409.2,44.2 408.5,44.6 407.7,44.3ZM387.7,43.5 388.2,41.9 388.7,41.5 390.3,41.3 392.0,41.9 391.7,42.7 389.5,43.1 387.9,44.0ZM396.4,41.1 396.6,40.3 397.4,40.0 398.4,40.3 398.2,41.3 396.6,41.3ZM447.9,32.4 447.1,31.7 447.1,30.9 447.7,30.1 451.1,28.9 453.5,28.6 456.6,26.0 458.2,25.7 459.0,26.1 460.2,27.7 460.2,29.3 459.8,30.8 458.2,32.5 456.6,32.9 453.5,31.9 448.7,32.5ZM428.5,31.7 428.0,30.1 428.6,29.3 431.3,28.5 432.1,28.9 432.2,30.1 431.3,31.2 429.8,32.2 429.0,32.1ZM469.9,19.0 470.0,18.7 470.6,19.0 470.0,19.7ZM419.5,87.7 425.1,87.7 423.6,85.3 421.9,84.6 420.3,85.3 419.3,87.7ZM485.8,87.7 513.9,87.7 514.0,85.3 515.0,84.2 516.6,84.5 518.2,85.3 519.1,87.7 540.1,87.7 539.5,85.6 536.4,86.1 534.8,85.7 534.0,84.9 533.6,83.8 534.4,79.8 534.0,76.7 532.9,74.3 530.8,73.2 529.2,73.7 525.3,77.8 523.7,78.6 519.8,77.4 515.8,75.1 514.2,75.1 512.3,76.7 511.9,80.0 510.3,81.4 508.7,82.2 506.3,81.4 501.6,78.2 500.0,77.9 497.7,81.9 494.5,82.5 492.1,84.2 489.0,84.9 486.6,86.3 485.4,87.7ZM524.1,83.0 524.2,81.4 524.9,80.6 526.1,80.5 526.9,81.2 526.9,82.2 526.1,83.4 525.3,83.8 524.5,83.5ZM545.8,87.7 560.4,87.7 560.8,86.8 563.2,85.7 563.4,84.6 562.5,83.8 561.6,83.6 558.5,85.2 555.3,84.7 553.7,86.8 552.9,86.7 552.1,84.6 552.0,81.4 552.9,79.8 555.3,78.2 555.5,76.7 554.5,75.6 552.1,74.9 551.5,74.3 549.9,71.9 548.2,71.5 546.6,72.2 544.2,75.8 538.7,79.1 537.4,80.6 537.7,82.2 539.5,85.2 542.7,84.5 544.2,85.7 545.4,87.7ZM577.4,87.7 581.8,87.7 582.1,86.9 582.9,86.4 585.3,85.6 589.2,83.5 591.6,83.2 594.0,83.8 594.5,84.6 593.4,87.7 606.0,87.7 605.1,84.6 605.8,83.6 606.6,83.5 609.0,85.2 612.0,86.1 612.4,87.7 616.6,87.7 617.4,86.1 618.5,85.6 619.3,85.7 619.6,86.1 620.2,87.7 624.1,87.7 624.6,85.3 625.6,84.7 631.1,86.1 631.9,86.0 632.9,84.6 633.6,82.2 635.5,80.6 636.8,77.4 638.2,76.6 639.0,76.7 640.1,77.4 641.8,80.6 643.7,81.2 645.3,82.3 646.7,87.7 652.5,87.7 654.0,85.7 656.4,84.6 656.6,83.8 656.2,83.0 649.3,80.2 648.0,79.0 647.9,78.2 648.5,77.1 649.3,76.4 651.6,75.5 652.3,74.3 650.0,70.1 649.2,69.6 649.3,63.2 650.0,62.0 650.8,61.7 651.6,61.7 653.2,62.4 653.5,63.2 653.3,64.0 651.9,66.4 651.6,68.0 652.0,68.8 654.1,70.3 654.7,73.5 657.1,74.0 658.7,73.4 660.3,70.8 663.1,68.8 663.2,68.0 662.7,67.8 658.7,68.8 657.9,68.6 657.0,67.2 656.9,65.6 657.5,64.0 659.5,62.0 661.1,61.6 664.3,61.9 665.7,62.4 666.7,63.2 664.5,68.0 665.7,69.6 666.2,71.9 667.9,75.9 667.1,80.6 667.4,81.0 670.6,79.8 672.1,79.7 672.9,79.9 674.1,81.4 674.1,83.0 672.1,87.7 686.4,87.7 686.4,77.2 685.5,76.7 685.0,75.1 685.4,73.5 686.4,73.1 686.4,68.9 681.6,69.3 679.7,68.8 678.9,68.0 679.2,67.2 682.6,64.8 684.0,64.3 686.4,64.2 686.4,60.8 684.6,60.1 682.2,56.9 680.6,53.8 677.7,53.7 676.1,52.8 672.9,54.8 671.4,55.0 670.5,54.6 672.1,52.2 673.7,46.3 680.8,47.4 681.4,48.2 681.7,51.4 682.4,52.4 686.4,51.1 686.4,25.2 684.8,24.5 682.4,22.2 680.8,22.5 678.9,23.8 678.5,27.5 677.7,28.5 676.9,28.3 674.2,26.1 674.0,25.3 678.1,23.0 678.9,20.6 680.0,19.9 680.8,19.8 683.2,21.0 686.4,20.6 686.4,10.3 684.8,11.8 682.4,12.8 680.8,14.4 680.0,14.7 676.1,12.1 673.7,12.1 672.6,13.5 672.7,15.1 673.7,16.8 675.7,18.2 675.0,19.0 672.9,19.8 670.6,22.4 668.2,23.0 662.7,21.9 661.1,20.8 660.5,19.8 659.8,14.3 661.6,11.9 662.2,10.3 641.3,10.3 640.2,13.5 637.4,16.5 636.6,16.3 635.5,12.7 633.9,10.3 623.6,10.3 624.0,11.9 624.6,12.7 624.0,12.9 621.6,11.7 620.7,10.3 603.2,10.3 603.2,15.1 602.7,16.2 601.1,15.8 599.4,14.3 598.6,12.7 598.5,10.3 588.9,10.3 589.6,12.7 589.2,13.5 587.5,12.7 586.8,11.9 586.4,10.3 571.1,10.3 571.9,11.3 575.8,12.9 577.0,14.3 576.6,15.9 575.0,16.0 571.9,15.5 569.1,16.7 568.2,17.4 569.0,21.4 571.1,22.9 572.7,23.4 574.2,23.7 575.8,22.9 579.0,17.6 579.4,15.1 580.6,13.9 582.1,13.6 583.7,13.8 585.3,14.5 587.7,16.4 589.9,19.0 593.2,19.2 596.7,21.4 599.5,22.4 600.3,22.5 601.1,22.1 603.3,19.0 603.5,17.4 604.2,17.2 604.4,18.2 603.7,19.8 603.9,21.4 604.4,22.2 606.6,23.3 609.0,23.4 611.4,21.6 616.1,21.6 617.0,22.2 619.5,26.9 619.4,27.7 617.3,30.9 617.0,33.2 618.5,34.6 623.5,37.2 624.1,38.0 624.0,38.4 623.2,39.1 621.6,39.4 609.8,39.4 608.2,39.0 606.6,37.6 605.8,37.4 601.0,38.8 597.1,38.8 594.0,38.3 589.2,40.0 585.3,40.1 583.7,39.6 582.9,38.8 582.6,38.0 582.6,36.4 581.6,34.8 580.6,34.1 579.8,34.1 579.1,34.8 579.0,35.6 581.2,38.0 581.0,38.8 579.0,39.2 571.1,38.1 568.8,36.4 567.1,34.2 566.4,34.0 566.2,34.8 567.2,37.2 566.7,38.8 566.0,39.6 561.6,40.6 559.2,42.2 556.9,42.0 555.1,42.7 554.9,43.5 555.5,45.1 559.2,49.4 560.8,49.8 564.0,49.2 571.1,50.0 574.2,48.6 575.8,48.5 581.4,49.4 586.1,50.8 594.0,51.4 601.1,50.8 605.8,51.4 610.6,50.8 615.3,51.4 619.3,50.3 621.6,50.1 627.1,50.8 633.5,50.5 643.7,50.8 652.4,49.9 654.8,50.6 655.7,52.2 655.6,53.1 654.8,54.0 650.8,56.6 648.5,57.5 647.2,59.3 646.1,60.0 644.5,60.1 641.4,58.9 639.8,59.4 637.8,60.9 636.8,62.4 636.6,64.0 638.8,66.4 639.9,70.3 639.8,71.1 639.0,71.9 638.2,72.0 635.0,70.8 633.5,70.7 632.5,71.1 631.7,76.7 630.8,79.8 630.3,80.3 626.9,77.4 626.4,71.1 623.8,68.8 624.5,67.2 625.6,66.3 626.4,66.2 626.8,69.6 627.4,70.3 630.3,70.8 631.9,70.1 631.7,64.0 631.1,63.2 628.7,63.3 629.0,59.3 628.8,58.5 627.2,57.7 625.6,57.8 624.1,58.5 621.2,60.9 620.9,61.7 621.5,64.8 620.8,65.7 618.3,66.4 616.1,69.1 615.3,69.1 613.2,68.0 611.7,66.4 612.9,65.3 617.3,64.8 619.1,60.9 619.0,60.1 617.8,59.3 615.3,58.8 608.2,59.9 605.0,59.7 602.7,60.1 602.0,60.9 602.7,61.3 606.6,61.2 609.0,62.4 610.1,64.0 610.8,66.4 609.0,68.5 608.2,68.7 604.2,68.1 602.7,68.8 602.0,70.3 602.4,73.5 601.7,76.7 601.8,79.8 600.3,81.8 597.1,83.3 596.0,83.0 595.7,80.6 595.9,79.8 598.7,76.7 598.2,73.5 599.3,70.3 599.2,69.6 597.8,68.0 597.1,64.9 596.4,64.2 592.4,64.6 591.3,64.0 590.0,62.6 588.5,62.5 585.5,63.2 582.9,66.1 580.6,67.2 579.0,68.5 577.4,68.5 575.8,66.8 575.0,66.6 572.5,67.2 571.9,68.0 573.7,70.3 574.3,73.5 574.4,79.8 575.0,81.4 575.8,82.3 577.4,82.6 578.2,82.0 578.9,77.4 580.6,75.8 582.1,75.6 586.8,76.7 585.3,78.4 583.3,82.2 580.6,84.4 578.2,85.1 577.4,86.0 576.9,87.7ZM681.2,82.2 681.6,82.0 681.6,82.4ZM619.9,80.6 618.5,79.0 618.5,77.8 619.3,77.0 621.1,79.0 621.3,79.8 620.8,80.8 620.0,80.7ZM608.4,78.2 607.7,76.7 609.0,74.9 610.6,75.1 612.4,76.7 612.6,77.4 612.0,78.2 610.6,78.8 609.0,78.6ZM587.2,75.9 587.7,75.5 588.0,75.9 587.7,76.1ZM619.2,75.9 618.2,75.1 618.1,73.5 620.0,73.2 620.5,73.5 620.6,74.3 619.3,75.9ZM583.0,71.1 582.2,70.3 582.5,69.6 583.7,69.1 584.5,69.4 584.9,70.3 584.5,71.0 583.7,71.2ZM674.1,63.2 670.7,62.4 674.8,58.5 676.1,55.4 676.9,55.4 677.4,57.7 677.1,59.3 675.3,63.2 674.5,63.3ZM660.4,49.0 659.9,47.4 661.1,45.0 664.3,43.5 665.8,44.2 666.3,45.9 665.0,48.9 664.3,49.6 661.1,49.4ZM659.2,41.1 658.7,40.3 658.8,39.6 659.9,33.2 659.1,29.3 659.5,28.0 660.3,27.5 665.8,28.5 668.2,29.7 671.4,30.1 672.1,30.9 673.7,34.2 675.3,35.5 677.7,36.3 678.4,38.0 678.5,38.8 677.7,39.9 676.9,40.3 675.3,39.9 670.6,36.4 668.2,31.6 667.4,31.2 665.8,32.4 663.8,38.8 662.7,40.9 661.1,41.6 659.5,41.3ZM648.4,38.0 643.7,37.3 641.4,35.8 639.0,35.1 637.4,35.4 634.3,37.5 632.7,37.7 631.7,37.2 630.6,34.8 628.7,32.4 627.9,30.1 631.1,29.6 633.5,30.1 637.4,28.5 639.8,28.3 642.1,27.6 644.5,27.9 649.3,31.6 651.6,34.8 652.0,36.4 651.4,38.0 650.0,38.3 648.5,38.0ZM679.7,33.2 679.5,32.4 680.0,31.2 680.8,31.0 681.6,31.6 681.6,32.8 680.8,33.4 680.0,33.5ZM624.3,29.3 623.5,28.5 623.8,26.9 625.6,24.3 627.1,24.0 628.0,24.6 627.7,29.3 627.1,29.8 624.8,29.5ZM641.1,23.0 638.2,20.1 637.8,19.0 638.2,18.6 643.3,20.6 643.7,21.4 643.4,22.2 642.1,23.2 641.4,23.1ZM648.4,20.6 648.0,19.8 648.1,19.0 648.5,18.0 649.3,17.3 650.5,19.0 650.5,19.8 649.4,20.6 648.5,20.6ZM608.9,15.1 609.0,14.2 609.8,13.9 610.2,14.3 610.4,15.1 609.8,15.6 609.0,15.1ZM637.4,87.7 642.1,87.7 640.6,83.3 639.8,82.9 638.2,84.1 637.4,85.7 637.2,87.7ZM662.7,87.7 665.4,87.7 666.9,83.8 666.6,81.6 664.3,81.9 662.9,83.0 662.4,84.6 662.6,87.7ZM567.1,83.2 569.5,83.2 571.1,82.2 572.2,79.8 571.7,78.2 569.9,76.7 567.9,75.8 564.8,76.1 563.2,75.7 562.3,74.3 562.8,71.9 562.7,71.1 561.6,70.3 559.2,69.9 558.6,70.3 557.1,73.5 557.0,75.1 557.4,75.9 560.0,77.3 562.4,79.7 566.5,83.0ZM509.5,77.5 510.4,77.4 510.4,76.7 509.5,76.7 509.3,77.4ZM567.1,69.2 569.5,68.0 569.6,67.2 568.7,66.6 567.9,66.6 567.1,67.2 566.6,68.8ZM631.9,61.8 632.7,62.1 634.3,61.7 635.1,60.9 635.2,60.1 634.3,59.1 632.3,59.3 631.7,60.1 631.8,61.7ZM473.2,53.4 474.0,53.6 479.5,51.9 480.3,50.6 481.6,45.9 481.4,45.1 480.3,44.4 476.4,44.2 474.0,41.6 472.4,41.1 468.5,43.1 467.4,44.3 466.7,45.9 466.9,46.8 467.7,47.3 468.5,47.3 470.6,45.9 472.4,45.3 474.0,45.4 474.5,45.9 474.0,47.9 471.8,49.8 471.4,50.6 472.8,53.0ZM487.4,52.6 488.2,52.8 489.5,52.2 490.1,50.6 489.0,49.0 487.4,48.3 486.6,48.5 485.8,49.8 486.1,51.4 486.7,52.2ZM498.5,47.8 500.0,48.2 501.5,47.4 502.2,45.9 502.1,44.3 501.6,42.6 498.5,38.0 497.7,37.4 496.1,37.2 494.5,38.8 494.3,41.1 495.3,43.3 498.2,47.4ZM543.5,46.0 544.2,46.3 545.1,45.9 545.0,44.3 543.1,41.9 543.0,41.1 544.0,35.6 545.2,34.0 545.6,31.7 547.0,29.3 546.6,27.7 545.8,27.1 545.0,27.3 544.0,28.5 543.2,34.8 541.9,36.4 541.2,38.0 541.2,39.6 542.4,41.9 541.9,44.3 542.2,45.1 543.3,45.9ZM529.2,45.4 530.0,45.2 530.0,44.8 529.2,44.6 529.0,45.1ZM515.0,42.9 516.6,43.0 517.8,41.9 518.3,40.3 517.7,39.6 516.6,39.3 514.0,40.3 513.6,41.1 514.7,42.7ZM552.1,41.3 552.5,41.1 552.1,40.2 551.8,40.3 551.8,41.1ZM369.8,39.2 373.7,39.1 374.2,38.8 374.1,35.6 373.3,34.0 370.8,32.4 369.8,30.2 369.0,29.9 366.9,32.4 367.0,33.2 369.0,34.8 369.4,35.6 369.0,38.8ZM496.9,33.6 497.7,33.3 498.5,32.4 499.0,30.9 498.7,30.1 496.9,29.5 495.6,30.1 495.7,31.7 496.4,33.2ZM601.9,33.1 602.7,33.1 603.0,32.4 604.5,27.7 602.7,24.4 601.9,23.8 601.1,23.7 598.7,26.9 597.9,27.4 594.8,28.1 594.0,28.5 593.6,29.3 594.1,30.9 595.6,31.8 596.4,31.9 597.9,30.1 599.5,29.5 601.1,30.7 601.6,32.4ZM502.4,31.2 502.4,30.5 502.2,30.9ZM501.6,29.8 502.1,28.5 503.4,26.9 507.3,23.8 507.7,23.0 507.7,22.2 506.4,21.4 504.0,21.0 502.4,21.5 500.5,23.0 499.9,23.8 499.6,25.3 500.0,27.0 501.5,29.3ZM560.0,27.9 563.2,26.6 564.8,28.0 565.6,28.2 566.6,27.7 566.6,26.1 565.6,24.0 563.2,22.4 561.5,19.8 561.6,18.2 564.6,15.9 564.5,15.1 561.9,11.9 561.5,10.3 555.4,10.3 556.1,11.7 558.7,13.5 558.5,15.1 556.9,16.0 551.4,16.4 550.3,17.4 549.8,19.8 550.6,21.6 552.1,22.4 552.9,22.2 554.5,20.2 556.1,20.7 557.7,23.0 558.8,26.9 559.5,27.7ZM529.2,26.1 530.0,26.0 530.7,25.3 532.0,22.2 534.8,19.0 534.8,17.8 534.0,16.9 529.4,17.4 528.5,18.2 527.0,23.8 527.7,25.1 529.2,26.1ZM586.1,24.6 587.7,25.1 588.5,24.5 588.9,23.0 588.5,21.4 586.9,21.4 585.5,22.2 585.3,23.8 586.0,24.6ZM543.5,23.9 545.0,24.3 545.8,23.0 545.9,21.4 544.7,17.4 543.7,10.3 536.8,10.3 537.9,11.6 541.3,13.5 542.2,15.1 543.1,18.2 542.3,19.8 540.4,21.4 540.1,22.2 540.6,23.0 543.1,23.8ZM512.7,22.3 515.8,22.8 517.7,21.4 519.2,15.9 519.1,11.9 519.7,10.3 502.4,10.3 502.6,12.7 502.1,15.9 502.4,16.3 508.6,18.2 509.7,19.0 511.0,21.4 512.3,22.2ZM549.0,13.9 550.6,14.2 551.4,13.5 552.4,11.9 552.8,10.3 545.9,10.3 546.3,11.9 548.3,13.5ZM520.6,11.2 522.1,11.9 522.9,11.9 523.7,11.1 523.9,10.3 519.8,10.3 520.4,11.1Z" fill="#d8efea" fill-rule="evenodd"/><path d="M489.0,87.7 492.2,87.7 490.6,87.2 488.9,87.7ZM502.4,87.7 506.6,87.7 506.4,87.1 505.6,86.9 503.2,86.9 502.1,87.7ZM598.7,87.7 599.7,87.7 598.7,87.4 598.0,87.7ZM549.0,86.2 549.4,84.6 549.0,83.3 547.4,82.2 546.0,82.2 545.8,83.0 546.6,84.5 548.5,86.1ZM412.4,83.3 412.8,83.0 411.7,83.0ZM588.5,80.9 589.2,81.1 590.9,80.6 591.4,79.8 591.1,79.0 590.0,79.0 588.8,79.8 588.3,80.6ZM686.4,80.8 686.4,80.3 686.2,80.6ZM374.5,80.1 375.2,79.8 374.5,78.9 374.1,79.8ZM382.4,79.9 384.0,79.5 385.6,77.6 387.9,79.2 390.3,77.6 392.7,75.2 394.2,74.5 396.2,75.1 398.2,77.7 399.0,78.2 399.8,78.2 405.3,76.0 406.9,76.2 410.0,77.8 411.6,78.0 417.1,76.7 419.1,75.1 421.9,74.0 423.5,73.9 425.8,74.8 427.3,73.5 429.0,72.6 431.3,72.7 434.5,73.5 437.7,72.8 440.8,73.0 441.6,72.5 441.9,71.1 439.7,68.0 438.5,64.7 437.7,64.3 435.1,65.6 433.7,65.8 432.2,64.8 431.6,63.2 432.0,60.1 435.3,59.2 436.1,58.5 437.5,55.3 437.1,54.6 435.3,53.2 431.3,50.9 426.6,50.3 421.1,47.7 419.5,48.2 418.7,51.5 417.9,52.5 416.2,53.8 415.7,56.1 411.9,58.5 410.0,59.2 408.5,59.0 406.1,57.9 403.7,58.3 402.1,58.1 399.0,55.2 397.4,54.5 391.1,55.2 390.6,56.1 390.3,58.5 389.5,58.8 387.9,58.6 384.8,57.0 378.5,56.4 376.9,55.3 375.3,54.8 372.9,54.9 369.8,57.5 368.2,58.2 364.2,56.9 364.2,71.8 367.4,73.5 370.6,72.1 372.1,72.2 372.9,72.7 374.5,75.4 375.3,75.8 377.7,75.1 379.2,75.5 380.3,76.7 381.4,79.0 382.2,79.8ZM421.1,59.3 420.3,58.5 420.3,57.7 421.1,56.6 421.9,56.9 422.5,58.5 421.9,59.3 421.1,59.3ZM428.9,56.1 429.0,55.1 429.8,55.2 429.8,56.4 429.0,56.2ZM681.6,78.2 683.2,78.2 683.5,77.4 683.3,75.9 681.6,73.4 680.0,72.5 679.3,73.5 679.3,76.7 681.6,78.2ZM458.2,76.8 459.8,77.1 460.7,76.7 460.7,75.9 459.8,74.9 458.2,74.4 457.4,75.1 458.0,76.7ZM594.0,75.9 595.6,75.7 596.0,75.1 595.6,73.4 594.8,73.0 594.0,73.3 593.1,74.3 593.0,75.1 593.8,75.9ZM644.5,74.1 645.3,74.0 645.4,73.5 644.2,73.5ZM589.2,70.5 590.0,70.4 590.8,69.7 591.0,68.8 590.0,67.5 588.5,66.6 587.9,67.2 588.4,69.6 589.1,70.3ZM670.6,70.8 672.1,70.3 673.6,68.8 673.7,67.2 672.9,66.6 671.4,67.0 670.2,68.0 669.6,69.6 670.0,70.3ZM643.7,68.2 645.3,68.3 646.3,67.2 646.9,64.8 646.1,63.0 644.5,63.0 643.1,64.8 642.7,66.4 643.5,68.0ZM655.6,59.6 657.0,59.3 657.5,58.5 657.6,57.7 656.7,56.9 655.6,56.5 654.6,56.9 654.3,58.5 654.9,59.3ZM661.1,57.8 662.7,58.3 663.8,57.7 663.3,56.9 660.3,55.0 659.6,56.1 659.9,56.9 660.8,57.7ZM441.6,56.2 443.2,55.9 443.8,55.3 444.8,53.0 444.1,51.4 442.4,49.9 438.0,54.6 438.5,55.3 441.0,56.1ZM603.5,49.9 605.8,50.1 609.8,49.8 614.5,50.3 618.5,49.1 621.6,49.0 624.0,49.1 627.1,50.0 636.6,49.5 644.5,50.1 653.2,48.3 656.4,48.8 657.1,47.9 657.6,45.9 657.0,44.3 654.3,41.1 653.2,40.4 646.9,39.2 642.9,39.1 640.6,37.8 639.0,37.4 637.4,37.9 634.3,39.8 631.9,39.9 627.9,39.4 624.0,41.1 622.4,41.4 615.3,40.8 608.3,41.1 604.2,40.0 597.9,40.7 593.2,40.2 583.7,42.2 572.7,40.6 568.7,41.2 563.7,42.7 563.1,43.5 562.6,45.9 562.9,46.7 564.3,47.4 567.1,48.2 571.1,48.0 573.5,46.8 575.0,46.5 578.2,47.5 582.9,47.9 586.9,49.5 589.2,49.5 594.8,48.3 598.7,49.4 603.1,49.8ZM441.6,49.7 442.4,49.8 442.8,48.2 442.6,46.7 440.8,45.0 439.2,44.5 438.5,44.9 438.4,45.9 440.9,49.0ZM668.2,41.5 669.0,41.7 670.3,41.1 669.0,39.6 667.4,38.7 666.4,39.6 666.6,40.3 667.4,41.1ZM424.2,34.8 425.8,35.5 426.7,34.8 425.9,33.2 425.0,32.7 424.2,32.7 423.7,33.2 423.7,34.0 424.2,34.8ZM686.4,32.8 686.4,28.3 685.3,28.5 684.7,29.3 684.9,30.9 685.8,32.4ZM436.1,29.9 436.9,29.8 437.7,28.7 437.6,27.7 436.9,27.0 436.1,27.3 435.7,29.3ZM682.4,27.8 683.1,26.9 682.4,25.8 681.6,25.5 681.1,26.1 681.1,26.9 681.8,27.7ZM633.5,25.8 637.4,26.0 638.5,25.3 638.6,24.6 635.8,21.3 634.3,21.0 633.5,21.6 632.6,23.0 632.4,24.6 632.7,25.3ZM462.1,24.7 465.3,24.7 466.9,23.8 467.3,21.4 466.9,20.3 465.3,18.7 464.0,19.8 460.5,21.4 460.2,23.0 461.8,24.6ZM382.4,21.6 384.0,21.8 384.3,21.4 384.5,20.6 384.0,19.3 381.6,18.0 380.0,17.8 379.2,18.1 379.0,19.0 379.4,19.8 382.0,21.4ZM448.7,21.5 452.5,21.4 453.0,20.6 452.7,19.0 451.9,18.6 450.3,19.0 448.3,20.6 448.5,21.4ZM423.5,20.8 424.3,20.6 423.8,19.8 421.9,19.4 420.3,18.0 418.7,17.7 418.1,18.2 418.7,19.2 421.9,20.0 422.7,20.6ZM464.5,17.8 465.3,17.9 465.9,15.9 465.4,14.3 464.5,13.9 463.7,14.7 463.6,15.9 464.3,17.4ZM474.0,16.8 475.6,17.4 476.6,16.7 476.6,15.9 475.6,15.2 474.8,15.1 473.6,15.9 473.9,16.7ZM505.6,14.6 506.4,14.8 507.1,14.4 509.8,10.3 504.1,10.3 505.2,14.3ZM369.0,14.0 369.8,13.6 369.8,13.2 368.7,13.5ZM380.8,13.8 382.4,13.5 382.8,12.7 382.5,10.3 378.1,10.3 378.8,11.9 380.3,13.5ZM403.7,12.9 404.5,13.3 406.1,13.2 407.4,11.9 408.1,10.3 402.2,10.3 403.5,12.7ZM594.0,12.8 595.6,13.3 596.4,12.7 596.9,10.3 591.5,10.3 593.8,12.7ZM417.1,12.1 421.9,12.7 422.7,12.1 422.8,10.3 416.0,10.3 416.9,11.9ZM513.5,12.1 515.0,12.5 515.8,12.2 516.5,10.3 511.9,10.3 513.2,11.9ZM613.7,12.2 616.1,11.6 617.2,10.3 612.6,10.3 613.3,11.9ZM450.3,11.9 451.1,11.4 451.3,10.3 449.5,10.3 449.7,11.1ZM549.0,10.6 549.9,10.3 548.8,10.3ZM657.1,10.4 658.0,10.3 657.1,10.3Z" fill="#a3ddd3" fill-rule="evenodd"/><path d="M410.8,75.1 412.4,75.6 416.3,73.7 425.8,71.6 429.8,70.2 433.7,70.9 434.5,70.7 435.1,69.6 434.4,68.8 431.3,67.2 430.4,65.6 428.6,60.9 427.4,59.1 426.6,58.7 424.3,60.9 422.7,61.4 418.7,61.2 415.6,59.7 414.0,59.5 409.2,60.6 398.2,60.3 391.9,61.8 387.9,61.0 384.8,59.4 383.2,59.0 376.9,59.7 372.9,58.2 371.3,58.8 369.0,61.3 368.2,61.5 364.2,59.2 364.2,69.3 364.7,69.6 366.6,70.0 369.8,69.7 372.1,70.1 373.7,70.7 376.1,72.8 379.2,73.2 381.6,73.9 384.8,73.4 388.7,75.0 389.5,74.9 392.7,73.0 394.2,72.7 400.6,74.2 404.5,73.5 406.9,73.5 409.7,74.3 410.8,75.1ZM612.9,49.1 618.5,47.5 624.0,47.8 627.9,48.8 637.4,48.2 644.5,48.9 647.7,47.9 651.6,47.3 653.7,45.9 654.1,44.3 653.3,42.7 651.6,41.5 646.9,40.5 642.9,40.6 639.0,39.4 635.0,41.0 627.9,41.0 623.2,42.8 621.6,43.0 618.5,42.9 615.3,42.2 608.2,42.4 603.5,41.8 597.1,42.3 592.4,41.7 586.9,43.1 584.7,45.1 585.4,46.7 587.7,47.7 594.8,46.3 598.7,47.6 604.2,48.5 612.5,49.0ZM567.1,46.1 569.5,46.3 570.5,45.9 571.0,45.1 570.3,44.2 567.9,44.0 566.6,45.1 566.8,45.9ZM579.0,45.2 580.6,45.4 581.5,45.1 580.6,44.2 579.6,44.3 578.9,45.1Z" fill="#6cc0b3" fill-rule="evenodd"/><path d="M387.9,72.7 389.5,72.7 394.2,71.3 401.3,72.8 406.1,72.0 412.4,72.4 415.6,71.8 419.5,71.6 426.6,68.7 428.0,67.2 428.1,65.6 427.6,64.0 426.6,63.1 417.1,62.9 414.0,61.4 412.4,61.2 406.9,61.9 399.8,61.7 395.8,63.1 394.2,63.3 387.1,62.4 383.2,61.1 380.8,60.8 376.9,62.1 373.7,62.1 370.3,64.8 370.1,66.4 371.8,68.0 376.1,69.5 378.5,69.6 382.4,71.5 385.6,71.8 387.9,72.7ZM609.8,47.5 613.7,47.1 615.6,45.9 616.0,45.1 614.5,44.3 609.0,43.6 604.2,44.3 603.1,45.1 604.2,46.1 609.7,47.4ZM625.6,46.8 627.9,47.4 636.6,46.8 643.7,47.4 647.7,46.1 650.8,45.6 651.6,45.3 652.0,44.3 651.6,43.4 647.7,41.9 642.1,41.7 639.0,41.1 635.8,42.4 628.7,42.2 626.5,42.7 622.8,45.1 623.2,45.9 625.1,46.7Z" fill="#2f9487" fill-rule="evenodd"/><path d="M398.2,71.2 401.3,71.8 406.1,70.8 411.6,70.8 416.3,69.7 419.5,69.9 421.1,68.8 421.5,66.4 420.3,65.1 416.3,64.2 413.2,62.5 411.6,62.2 406.9,63.1 399.8,62.8 396.6,64.1 394.2,64.5 380.8,62.9 379.2,63.6 378.4,64.8 378.7,66.4 379.3,67.2 382.4,69.5 385.6,70.0 388.7,71.0 395.0,70.0 398.0,71.1ZM641.4,45.9 643.7,46.0 645.3,45.6 646.5,44.3 646.4,43.5 645.3,43.0 642.1,43.2 639.8,42.9 638.2,43.5 637.7,44.3 638.1,45.1 640.9,45.9ZM627.1,45.3 628.7,45.5 631.1,45.1 631.5,44.3 628.7,43.8 627.1,44.3 626.9,45.1Z" fill="#04685a" fill-rule="evenodd"/><path d="M399.0,70.5 401.3,70.8 406.1,69.5 411.6,69.6 415.1,68.0 415.9,67.2 416.1,66.4 413.6,64.0 411.6,63.2 406.9,64.3 399.8,64.0 395.0,65.9 392.7,65.9 388.7,65.2 385.6,66.0 383.2,65.7 382.0,66.4 382.4,67.2 383.2,67.6 385.6,67.6 388.7,68.9 390.3,69.1 395.0,68.6 398.7,70.3Z" fill="#083a2e" fill-rule="evenodd"/><path d="M391.9,70.5 398.2,71.1 405.3,70.6 410.0,69.3 411.9,68.0 412.1,67.2 411.0,65.6 409.2,64.7 405.3,63.7 400.6,63.3 391.1,64.0 387.9,65.1 386.1,66.4 386.1,68.0 386.9,68.8 391.1,70.3ZM462.1,70.6 651.6,66.7 654.8,60.9 655.5,57.7 655.5,54.6 654.2,49.8 651.6,45.6 620.0,44.9 572.7,50.4 509.5,52.0 462.1,57.5 458.2,59.3 455.9,60.9 454.6,62.4 454.2,64.0 454.6,65.6 455.9,67.2 461.5,70.3Z" fill="url(#stip)"/><path d="M365.8,11.9 L402.5,11.9 L402.1,13.5 L401.3,15.1 L399.9,17.3 L398.3,19.8 L396.1,22.0 L393.6,24.4 L390.0,25.7 L387.1,26.6 L384.1,27.4 L383.5,28.8 L382.7,27.1 L380.8,26.8 L378.1,28.0 L376.6,30.6 L377.7,33.1 L379.2,34.8 L381.3,37.2 L382.1,40.3 L381.9,42.7 L380.0,43.8 L378.0,44.6 L375.6,47.1 L375.0,47.3 L375.0,45.1 L372.9,44.3 L372.0,42.2 L370.6,41.6 L368.8,40.0 L367.9,39.7 L367.2,41.1 L366.6,44.3 L366.3,46.3 L367.9,48.2 L369.5,50.0 L371.0,51.2 L372.8,53.3 L372.8,55.3 L373.4,56.9 L374.2,58.7 L372.9,58.8 L369.5,56.4 L368.0,54.2 L367.7,52.2 L365.8,49.8 L365.8,11.9Z M381.0,30.6 L382.4,29.1 L384.3,29.3 L384.8,29.9 L383.8,31.7 L382.4,32.1 L381.1,31.7Z M399.1,24.6 L400.1,26.1 L400.6,26.1 L402.0,22.2 L402.0,21.1 L400.9,21.1 L399.3,23.3Z M365.8,56.1 L367.4,57.2 L369.0,57.6 L370.6,58.5 L372.6,59.8 L374.3,62.1 L376.1,64.8 L376.9,65.9 L376.6,70.0 L374.7,70.2 L372.9,68.3 L370.9,66.6 L369.0,64.5 L367.9,62.4 L365.8,60.9Z M375.6,63.4 L377.0,63.2 L378.1,65.4 L376.9,65.8 L375.8,64.3Z M375.6,71.6 L376.9,70.2 L380.5,70.7 L383.8,71.8 L385.6,71.3 L387.3,71.8 L390.3,73.2 L390.1,74.6 L386.3,74.0 L383.2,73.5 L380.0,73.2 L377.5,72.6 L375.8,71.8Z M387.5,71.8 L389.7,71.8 L389.5,72.2 L387.6,72.2Z M390.3,73.7 L392.0,74.0 L391.4,74.8 L390.3,74.1Z M392.7,74.0 L393.8,74.0 L393.5,74.9 L392.7,74.8Z M393.9,74.3 L396.1,73.7 L397.6,74.0 L397.4,74.6 L395.5,74.9 L394.1,74.9Z M398.7,74.3 L400.6,74.0 L403.4,73.8 L403.6,74.4 L401.3,74.8 L399.0,74.9Z M397.4,75.9 L399.0,75.7 L400.2,76.8 L399.0,77.1 L397.6,76.5Z M404.5,77.1 L406.1,75.9 L408.1,74.4 L410.5,74.1 L409.2,74.9 L406.9,76.3 L405.3,77.3Z M382.6,57.7 L381.6,60.1 L381.9,61.7 L383.2,63.7 L383.5,65.4 L385.7,66.2 L387.9,65.9 L390.3,67.0 L392.7,67.2 L393.1,65.6 L393.5,63.2 L395.0,61.7 L395.2,59.6 L397.4,59.3 L395.8,57.7 L395.3,55.7 L396.3,53.8 L397.7,52.8 L395.5,51.6 L394.2,49.8 L392.7,51.4 L391.6,53.0 L389.5,53.8 L387.9,55.8 L385.2,57.2 L383.7,58.2Z M398.0,69.7 L398.3,67.2 L397.2,65.6 L397.7,63.2 L398.7,61.2 L399.1,60.1 L400.9,59.3 L402.9,59.3 L405.3,59.6 L406.9,58.3 L406.2,60.4 L404.2,60.2 L401.3,60.2 L399.9,60.4 L399.8,62.1 L401.5,62.3 L404.3,62.3 L403.1,63.2 L401.2,64.0 L402.8,65.9 L403.4,68.0 L402.1,68.1 L401.0,66.9 L400.4,65.4 L399.6,65.6 L399.8,69.6Z M411.0,57.4 L411.6,59.3 L412.7,58.5 L411.9,59.9 L413.0,60.4 L411.6,61.2 L411.9,62.3 L411.0,61.5 L410.7,59.6Z M411.6,65.9 L414.0,65.3 L416.2,66.2 L415.6,67.0 L412.9,66.2 L411.6,66.6Z M408.5,65.9 L410.0,65.8 L410.3,66.7 L408.8,66.9Z M399.9,31.7 L402.5,31.7 L402.5,34.0 L401.5,35.9 L401.8,38.4 L405.3,39.1 L405.6,41.0 L404.2,40.3 L402.8,39.1 L400.6,39.2 L399.9,38.4 L399.0,37.5 L399.0,35.6 L399.6,35.0Z M399.5,39.6 L400.9,39.7 L401.3,41.1 L400.6,41.6 L399.6,40.5Z M405.8,41.1 L407.3,41.1 L408.0,43.3 L406.9,43.3 L405.9,42.2Z M405.8,42.7 L406.9,43.2 L407.3,44.9 L406.6,45.1 L405.8,43.8Z M402.0,42.2 L403.9,42.9 L403.4,44.1 L402.1,44.3Z M402.8,43.7 L404.0,43.7 L404.3,46.3 L403.7,46.7 L402.9,45.2Z M404.2,43.0 L404.8,43.3 L405.3,44.6 L404.5,45.7 L404.3,44.4Z M405.0,44.9 L406.1,45.1 L405.9,45.7 L405.0,45.7Z M402.1,49.8 L402.9,48.4 L404.7,48.6 L405.6,47.9 L407.5,45.6 L409.2,48.2 L408.8,50.9 L407.5,52.0 L405.6,51.1 L404.7,49.2 L402.5,50.0Z M394.6,47.8 L395.2,47.6 L397.4,45.1 L398.5,43.2 L398.0,43.0 L396.3,45.1 L394.6,47.3Z M416.3,63.1 L417.9,61.5 L421.1,62.3 L422.7,66.1 L425.8,63.2 L428.2,63.6 L431.7,64.8 L434.5,65.9 L437.7,67.0 L439.7,69.2 L442.4,70.7 L442.9,71.4 L441.9,72.7 L443.5,73.7 L445.2,75.9 L447.6,77.1 L446.0,77.3 L442.4,76.8 L440.0,73.8 L437.7,72.9 L436.1,74.0 L435.3,75.4 L432.1,75.2 L429.8,73.7 L427.4,74.1 L427.1,72.6 L428.3,71.6 L427.4,69.2 L424.2,68.1 L421.6,67.0 L419.2,67.2 L417.9,65.4 L420.0,64.7 L417.9,64.5 L416.8,63.2Z M443.7,69.7 L446.3,69.6 L448.7,68.6 L449.8,67.7 L450.0,68.8 L448.7,69.9 L446.3,70.8 L444.0,70.5Z M447.6,65.0 L449.8,66.2 L451.4,68.1 L450.8,68.4 L448.9,66.6 L447.5,65.4Z M453.6,69.2 L454.7,69.7 L455.8,71.3 L455.2,71.8 L453.9,70.7Z M461.5,75.6 L462.9,75.7 L463.4,76.3 L461.8,76.3Z M463.1,74.1 L464.0,74.6 L464.5,76.0 L463.7,75.6Z M459.9,72.7 L461.5,73.7 L461.8,74.3 L460.4,73.5Z M472.6,83.9 L473.5,84.6 L473.4,85.5 L472.6,85.0Z M405.3,86.9 L406.1,85.0 L407.7,83.8 L409.9,82.7 L411.9,84.2 L414.0,84.4 L414.5,82.2 L416.0,80.4 L417.1,80.1 L418.7,79.0 L420.3,79.7 L422.7,80.1 L425.2,79.8 L424.2,81.9 L423.5,83.8 L423.9,86.9Z M432.8,86.9 L432.9,84.6 L433.1,81.4 L433.7,79.0 L434.5,77.8 L435.6,79.7 L436.1,82.2 L437.5,83.4 L438.8,84.4 L439.1,86.9Z M414.8,78.9 L417.1,78.6 L417.0,79.5 L415.1,79.5Z M424.7,82.7 L425.7,82.7 L425.5,83.4 L424.7,83.3Z M531.8,29.0 L533.2,29.8 L532.2,31.0 L531.6,30.1Z M530.5,27.7 L531.6,28.0 L531.0,28.3Z M528.0,26.8 L528.9,27.2 L528.3,27.2Z M525.6,25.8 L526.4,26.0 L525.9,26.3Z M529.6,27.4 L530.5,27.6Z M594.0,11.9 L596.0,15.1 L597.8,16.7 L597.6,17.9 L599.8,19.8 L600.9,21.7 L602.7,23.0 L604.2,24.7 L605.2,24.1 L603.8,22.7 L602.7,20.8 L601.1,18.6 L599.8,17.0 L598.2,14.3 L597.1,11.9Z M599.2,11.9 L600.0,13.5 L602.7,16.8 L604.2,18.2 L605.5,20.4 L607.4,21.4 L609.8,24.1 L611.4,26.8 L611.7,28.5 L613.3,30.7 L614.5,32.1 L617.7,33.6 L620.2,34.3 L623.2,35.3 L625.6,36.1 L627.9,35.4 L629.5,35.6 L632.2,37.8 L633.9,38.9 L636.6,39.7 L639.8,40.3 L640.1,40.5 L640.9,41.6 L642.3,43.3 L642.6,45.1 L644.0,45.6 L645.9,47.4 L647.7,47.9 L649.7,49.0 L651.6,49.3 L651.3,47.8 L652.4,46.8 L654.5,47.8 L655.7,48.6 L654.9,49.8 L655.9,54.6 L655.3,56.6 L653.5,58.5 L651.6,59.6 L651.0,61.5 L650.2,62.6 L651.3,65.0 L651.1,66.2 L649.7,68.1 L649.9,70.0 L651.8,71.8 L653.7,74.4 L655.6,77.9 L657.3,80.8 L657.6,82.3 L658.6,84.6 L659.5,86.9 L684.8,86.9 L684.8,47.4 L682.4,47.3 L680.8,45.4 L678.8,44.1 L676.1,44.8 L672.3,44.1 L669.8,44.1 L667.1,42.6 L664.9,43.5 L664.4,44.6 L665.5,45.9 L664.3,43.5 L663.9,41.6 L662.2,43.0 L659.8,43.5 L658.6,44.4 L657.9,46.0 L655.6,47.1 L651.9,45.7 L649.3,46.7 L646.9,45.1 L645.9,43.5 L645.8,41.9 L646.1,38.8 L646.3,36.9 L643.7,35.6 L640.6,35.9 L638.2,35.9 L638.5,34.3 L639.3,32.0 L639.8,30.1 L640.9,26.9 L639.0,26.9 L635.2,27.7 L635.2,29.6 L634.3,31.3 L631.9,31.5 L628.7,32.1 L626.2,30.6 L624.0,26.1 L623.7,23.0 L624.1,19.8 L624.5,17.0 L626.4,15.7 L628.3,14.6 L630.3,13.8 L633.5,14.4 L635.5,14.9 L637.1,15.1 L636.8,13.2 L639.8,13.0 L642.9,13.8 L645.3,13.5 L647.4,16.7 L648.8,19.8 L650.2,21.1 L651.5,19.0 L650.8,16.7 L649.6,13.5 L649.6,11.9Z M643.9,26.3 L648.5,24.4 L651.6,24.4 L656.4,26.3 L660.8,29.0 L660.3,29.4 L655.3,29.6 L655.9,28.3 L653.8,26.8 L650.0,26.1 L647.2,25.2Z M660.5,29.6 L663.0,29.4 L667.4,29.8 L669.9,31.5 L669.5,32.1 L665.2,33.1 L662.8,32.1 L660.3,31.8Z M654.3,31.8 L657.5,32.1 L657.6,32.6 L655.6,32.8Z M671.8,31.7 L674.4,31.8 L674.2,32.4 L671.8,32.4Z M654.5,21.1 L655.3,21.9 L654.9,23.0 L654.1,22.0Z M653.2,18.7 L655.1,18.9 L654.8,19.0 L653.2,19.0Z M656.7,20.6 L657.6,21.9 L657.8,21.7Z M680.2,43.8 L681.6,43.8 L681.6,44.9 L680.2,44.9Z" fill="#c3c3c3" stroke="#333" stroke-width="0.55" stroke-linejoin="round"/><path d="M442.1,87.7 442.5,68.0 444.7,45.1 447.8,26.9 452.2,10.3M635.6,10.3 634.5,25.3 639.9,43.5 641.8,53.0 642.9,62.4 643.3,70.3 642.4,87.7M438.1,87.7 439.2,66.4 441.4,39.6 443.5,23.8 446.2,10.3M646.2,10.3 645.0,18.2 644.3,26.9 644.5,45.1 648.8,75.1 650.8,82.1 653.4,87.7M434.2,87.7 436.1,63.2 437.9,28.5 440.0,10.3M656.8,10.3 655.0,19.0 653.9,28.5 653.7,38.8 654.4,48.2 656.5,65.6 658.1,73.5 661.2,81.4 665.4,87.7M430.3,87.7 432.8,60.9 433.0,23.8 433.7,10.3M667.6,10.3 664.7,20.6 663.3,32.4 663.4,41.9 665.1,61.7 667.0,69.6 670.1,76.7 674.5,82.6 680.5,87.7M426.2,87.7 428.6,71.9 429.4,58.5 429.1,46.7 427.0,10.3M678.6,10.3 675.3,18.7 673.4,27.7 672.8,35.6 673.2,53.0 674.8,61.7 677.5,68.8 681.1,74.3 686.4,79.3M422.1,87.7 425.2,71.1 425.8,56.9 424.6,42.7 419.9,10.3M686.4,17.0 684.6,21.4 683.2,26.9 681.9,34.8 681.5,41.9 681.9,48.2 682.8,53.8 684.2,58.5 686.4,63.0M374.8,10.3 364.2,15.4M417.8,87.7 420.3,78.2 421.6,71.1 422.2,64.0 422.1,56.9 419.7,41.1 412.9,14.3 408.5,13.4 401.3,12.9 395.0,13.1 387.9,14.1 381.6,15.6 375.3,17.7 364.2,23.3M413.1,87.7 416.1,79.0 417.8,71.9 418.5,65.6 418.4,58.5 417.1,50.7 415.1,42.7 406.9,20.5 403.7,19.9 396.6,19.9 384.8,21.8 373.7,25.5 364.2,30.7M408.1,87.7 411.6,79.3 413.7,72.7 414.7,66.4 414.6,60.1 413.2,53.1 410.8,45.9 406.9,36.9 401.6,26.9 399.0,26.6 392.7,27.0 382.4,29.1 372.9,32.7 364.2,37.9M402.4,87.7 406.9,79.0 409.5,72.7 410.7,67.2 410.7,62.4 409.4,56.1 406.9,49.8 402.9,42.4 397.4,34.0 396.6,33.4 390.3,34.0 380.0,36.5 371.3,40.3 364.2,45.1M396.0,87.7 404.5,73.5 406.2,68.8 406.6,64.8 405.7,60.1 403.3,54.6 399.0,47.5 394.1,41.1 393.5,40.5 387.9,41.1 377.7,44.0 369.8,48.2 364.2,53.0M364.2,84.5 369.2,87.7M378.5,83.0 384.8,83.6 391.9,83.2 398.4,74.3 401.4,68.8 401.9,64.8 400.6,60.6 396.6,54.5 391.1,48.0 387.9,48.1 382.4,49.2 374.5,52.4 368.9,56.9 366.6,60.1 365.2,63.2 364.5,66.4 364.4,69.6 365.1,72.7 366.6,75.9 368.6,78.2 371.3,80.4 374.5,81.9 378.5,83.0M382.4,76.0 387.9,76.3 390.3,75.9 395.0,69.9 396.6,67.2 396.6,64.8 395.3,62.4 391.1,57.3 388.7,55.4 382.4,56.6 377.8,58.5 374.5,61.3 372.6,64.8 372.5,68.8 374.1,71.9 377.7,74.6 382.4,76.0M386.3,68.0 388.7,68.4 390.6,66.4 390.5,65.6 388.7,63.8 386.3,64.1 384.3,65.6 384.7,67.2 386.3,68.0" fill="none" stroke="#ff1f1f" stroke-width="0.9"/><path d="M526.1,64.9 520.6,64.7 516.8,64.0 514.0,62.4 513.6,60.9 514.9,59.3 518.2,57.9 529.2,57.0 533.2,57.3 536.4,58.1 538.3,59.3 539.3,60.9 538.7,62.5 535.6,64.3 531.6,65.0 526.1,64.9M526.1,70.4 515.0,69.9 507.6,68.0 505.0,66.4 503.2,64.3 502.6,62.4 503.0,60.1 504.0,58.5 506.4,56.5 512.5,53.8 519.0,52.5 533.2,51.3 540.3,51.6 546.3,53.0 550.9,55.3 553.6,58.5 554.2,61.7 553.4,64.0 551.4,66.5 547.6,68.8 542.7,70.3 537.9,70.9 532.4,71.0 526.1,70.4M527.7,76.0 510.9,75.1 505.6,74.1 500.8,72.3 496.6,69.6 494.3,66.4 493.5,63.2 494.4,59.3 496.7,56.1 499.5,53.8 503.2,51.7 507.9,49.8 516.6,47.9 536.4,45.8 545.8,46.2 554.4,48.2 560.4,51.4 563.0,53.8 564.7,56.1 565.9,60.1 565.1,64.8 563.7,67.2 561.6,69.5 556.9,72.7 551.4,74.9 544.2,76.2 536.4,76.6 527.7,76.0M530.0,81.4 525.3,80.9 513.5,80.8 506.4,80.0 499.2,78.4 493.7,76.1 489.0,72.5 486.2,68.0 485.5,63.2 486.2,60.1 487.2,57.7 489.8,54.3 493.7,50.9 498.5,48.2 504.0,46.0 515.0,43.3 538.7,40.5 550.6,41.0 560.8,43.4 568.5,47.4 571.3,49.8 573.8,53.0 575.1,55.3 576.0,58.5 576.1,61.7 575.4,64.8 572.3,70.3 567.1,75.1 560.0,78.7 551.4,81.0 541.1,81.9 530.0,81.4M534.8,86.9 525.3,86.0 514.2,86.0 504.0,85.2 495.3,83.3 488.6,80.6 485.0,78.3 482.4,75.9 480.6,73.5 479.0,70.3 478.5,67.2 478.5,62.4 478.9,60.1 480.3,56.9 483.0,53.0 487.4,48.9 492.9,45.4 499.2,42.6 505.6,40.6 512.7,39.0 538.7,35.6 545.8,35.3 552.1,35.6 564.0,37.9 568.7,39.6 573.5,41.9 577.9,45.1 581.0,48.2 583.2,51.4 584.9,55.3 585.5,58.5 585.4,62.4 584.4,66.4 582.5,70.3 580.1,73.5 576.9,76.7 572.7,79.7 568.7,81.8 559.2,85.1 547.4,87.0 534.8,86.9M490.2,87.7 484.2,85.3 479.4,82.2 477.7,80.6 476.2,76.7 474.8,69.6 474.8,61.7 476.9,52.2 479.1,49.0 483.9,45.1 489.0,41.9 496.0,38.8 503.2,36.5 513.5,34.3 525.3,33.0 535.6,31.1 548.2,30.2 556.1,30.6 563.2,31.7 569.5,33.3 575.8,35.7 581.6,38.8 586.6,42.7 588.5,44.6 591.1,49.8 592.7,55.3 593.0,61.7 591.8,68.0 589.1,74.3 586.1,77.9 581.4,81.9 575.8,85.3 570.4,87.7M476.3,87.7 474.0,83.0 472.2,77.4 471.2,71.9 470.8,66.4 471.2,60.1 472.4,54.6 474.5,48.2 476.5,44.3 481.9,40.4 487.7,37.2 494.5,34.3 502.4,31.9 512.7,29.8 525.3,28.3 536.4,26.3 550.6,25.2 558.5,25.5 566.4,26.6 574.0,28.5 580.6,30.9 588.5,35.1 592.5,39.6 595.7,44.3 598.1,49.8 599.4,55.3 599.6,60.9 598.7,67.2 596.4,73.5 592.7,79.8 588.5,84.9 584.3,87.7M471.4,87.7 469.2,81.9 467.8,75.9 467.2,69.6 467.3,63.2 468.1,56.9 469.7,50.6 472.1,44.3 474.8,39.1 480.3,35.5 487.4,32.0 494.5,29.4 502.4,27.1 511.9,25.2 525.3,23.7 538.7,21.3 553.7,20.3 562.4,20.7 571.1,22.0 579.0,24.0 586.9,26.9 589.6,28.5 594.8,33.0 598.5,37.2 601.2,41.1 603.9,46.7 605.7,53.0 606.2,58.5 605.7,64.8 604.1,71.1 601.6,76.7 598.2,82.2 593.6,87.7M466.8,87.7 465.0,81.4 463.8,74.3 463.5,68.0 463.9,60.9 465.1,53.8 467.2,46.7 470.5,38.8 473.2,34.0 479.5,30.3 486.6,27.1 494.5,24.4 502.4,22.3 513.5,20.3 525.3,19.1 540.3,16.3 556.1,15.3 564.8,15.7 572.7,16.8 580.6,18.5 588.5,21.0 593.7,24.6 598.7,28.7 603.1,33.2 606.6,38.1 609.5,43.5 611.6,49.8 612.6,56.1 612.5,62.4 611.3,68.8 609.0,75.4 605.8,81.4 601.3,87.7M462.4,87.7 460.8,80.6 460.0,73.5 459.9,66.4 460.6,58.5 462.1,51.0 464.4,43.5 467.6,35.6 470.8,29.3 477.9,25.4 485.0,22.4 492.9,19.8 501.6,17.6 513.5,15.5 525.3,14.4 541.1,11.5 557.7,10.4 572.7,11.4 580.6,12.8 588.5,14.9 595.6,19.1 601.9,23.8 607.6,29.3 612.1,35.2 615.4,41.1 617.7,47.4 618.9,53.8 619.0,60.9 617.9,68.0 616.0,74.3 612.7,81.4 608.6,87.7M458.2,87.7 456.9,80.6 456.3,72.7 456.5,64.8 457.5,56.1 459.1,48.2 461.5,40.3 464.9,31.7 468.4,24.6 478.7,19.4 489.8,15.5 502.4,12.4 516.1,10.3M591.2,10.3 602.7,17.3 612.0,25.3 618.7,34.0 621.3,38.8 623.2,43.7 625.5,55.3 624.8,65.6 623.6,71.1 621.6,76.7 619.1,82.2 615.8,87.7M454.0,87.7 453.0,79.8 452.7,71.9 453.1,64.0 454.0,55.3 457.6,39.6 463.9,23.0 465.5,19.8 469.2,17.8 478.7,13.7 488.9,10.3M602.2,10.3 612.9,18.2 617.7,22.8 621.6,27.4 624.4,34.0 627.2,42.7 629.7,55.3 630.6,68.0 627.9,77.4 622.8,87.7M450.0,87.7 449.2,75.1 449.8,61.7 451.7,48.2 454.6,35.6 457.9,25.3 462.1,15.1 472.0,10.3M612.1,10.3 622.4,19.2 628.2,32.4 632.1,45.9 634.4,60.9 634.8,75.9 633.5,79.8 629.3,87.7" fill="none" stroke="#2424ff" stroke-width="1" stroke-dasharray="5 2.4"/><path d="M371.4,19.1L369.5,17.4L371.3,16.6ZM380.4,19.2L378.8,17.3L380.7,16.7ZM389.5,19.3L388.1,17.2L390.1,16.8ZM398.5,19.3L397.5,17.1L399.5,17.0ZM407.5,19.3L406.8,16.9L408.8,17.1ZM414.9,17.4L417.0,16.0L417.3,18.0ZM424.1,17.1L426.3,16.0L426.4,18.0ZM433.3,16.8L435.7,16.0L435.6,18.0ZM442.7,16.5L445.1,16.0L444.7,17.9ZM452.0,16.2L454.5,15.9L453.9,17.8ZM462.5,14.9L464.6,16.2L462.9,17.4ZM472.2,14.6L474.0,16.3L472.2,17.2ZM481.7,14.5L483.4,16.3L481.5,17.0ZM491.2,14.4L492.8,16.3L490.9,16.9ZM500.7,14.3L502.2,16.4L500.2,16.8ZM510.2,14.3L511.6,16.4L509.6,16.7ZM519.7,14.2L520.9,16.4L519.0,16.6ZM528.8,14.2L530.2,16.3L528.3,16.7ZM538.3,14.2L539.6,16.4L537.6,16.6ZM547.9,14.2L549.0,16.5L547.0,16.6ZM557.5,14.3L558.4,16.6L556.4,16.6ZM567.1,14.4L567.8,16.8L565.8,16.5ZM576.6,14.5L577.1,16.9L575.2,16.5ZM586.2,14.6L586.5,17.1L584.6,16.5ZM596.2,14.8L595.8,17.3L594.1,16.2ZM605.7,14.9L605.1,17.4L603.5,16.2ZM615.1,15.1L614.4,17.5L612.9,16.2ZM625.3,15.6L623.8,17.6L622.8,15.9ZM634.2,17.1L631.8,18.0L632.0,16.0ZM643.5,17.2L641.1,18.0L641.4,16.0ZM652.9,17.3L650.4,17.9L650.8,16.0ZM662.2,17.4L659.7,17.9L660.2,16.0ZM671.5,17.6L669.0,17.9L669.6,16.0ZM680.8,17.7L678.3,17.8L679.0,16.0ZM371.5,27.0L369.5,25.4L371.3,24.5ZM380.5,27.2L378.8,25.3L380.7,24.7ZM389.5,27.2L388.1,25.1L390.1,24.8ZM398.5,27.2L397.5,25.0L399.5,24.9ZM405.7,25.8L407.4,24.0L408.2,25.8ZM414.8,25.5L416.8,24.0L417.3,25.9ZM424.0,25.1L426.2,23.9L426.3,25.9ZM433.2,24.7L435.6,23.9L435.4,25.9ZM442.5,24.4L445.0,23.8L444.6,25.8ZM451.9,24.1L454.4,23.8L453.8,25.7ZM461.3,23.7L463.8,23.8L463.0,25.6ZM472.0,22.6L474.0,24.1L472.2,25.1ZM481.6,22.4L483.4,24.1L481.5,24.9ZM491.1,22.3L492.8,24.2L490.9,24.8ZM500.6,22.2L502.2,24.2L500.2,24.7ZM510.2,22.1L511.5,24.2L509.6,24.6ZM519.7,22.1L520.9,24.3L519.0,24.5ZM528.8,22.1L530.2,24.2L528.3,24.6ZM538.4,22.1L539.6,24.3L537.6,24.5ZM548.0,22.2L549.0,24.4L547.0,24.5ZM557.6,22.2L558.4,24.6L556.4,24.5ZM567.2,22.3L567.8,24.8L565.8,24.4ZM576.8,22.5L577.1,24.9L575.2,24.4ZM586.3,22.6L586.4,25.1L584.6,24.4ZM596.3,22.9L595.8,25.3L594.2,24.1ZM605.8,23.0L605.0,25.4L603.6,24.1ZM615.3,23.2L614.3,25.5L613.0,24.0ZM625.6,23.6L623.9,25.5L623.1,23.7ZM635.0,23.8L633.2,25.6L632.5,23.7ZM643.6,25.0L641.2,25.9L641.3,23.9ZM652.9,25.1L650.5,25.9L650.7,23.9ZM662.3,25.2L659.8,25.9L660.1,23.9ZM671.6,25.2L669.2,25.8L669.5,23.9ZM680.9,25.3L678.5,25.8L678.9,23.9ZM371.6,35.0L369.6,33.4L371.4,32.5ZM380.5,35.1L378.8,33.2L380.7,32.6ZM389.5,35.1L388.1,33.1L390.1,32.7ZM396.7,34.1L397.9,31.9L399.1,33.5ZM405.6,33.8L407.3,31.9L408.1,33.8ZM414.7,33.4L416.6,31.9L417.1,33.8ZM423.8,33.1L426.0,31.8L426.2,33.8ZM433.0,32.7L435.4,31.8L435.3,33.8ZM442.3,32.3L444.8,31.7L444.4,33.7ZM451.7,32.0L454.2,31.7L453.6,33.6ZM461.1,31.6L463.6,31.6L462.9,33.5ZM471.8,30.5L473.9,32.0L472.2,33.0ZM481.4,30.4L483.3,32.0L481.5,32.9ZM491.0,30.2L492.7,32.0L490.8,32.7ZM500.6,30.1L502.1,32.0L500.2,32.6ZM510.1,30.0L511.5,32.1L509.6,32.5ZM519.7,30.0L520.9,32.2L518.9,32.4ZM528.8,30.0L530.2,32.1L528.3,32.5ZM538.4,30.0L539.6,32.2L537.7,32.4ZM548.1,30.1L549.1,32.4L547.1,32.4ZM557.8,30.2L558.4,32.6L556.4,32.4ZM567.4,30.4L567.8,32.8L565.8,32.3ZM577.0,30.5L577.1,33.0L575.2,32.3ZM586.6,30.7L586.4,33.2L584.6,32.3ZM596.6,31.0L595.7,33.4L594.2,32.0ZM606.0,31.2L604.9,33.5L603.6,31.9ZM615.5,31.4L614.2,33.5L613.0,31.9ZM625.7,31.7L623.9,33.5L623.2,31.6ZM635.0,31.8L633.2,33.5L632.5,31.6ZM643.6,32.8L641.3,33.8L641.3,31.8ZM652.9,32.8L650.6,33.8L650.7,31.8ZM662.3,32.9L659.9,33.8L660.0,31.8ZM671.6,32.9L669.3,33.8L669.4,31.8ZM681.0,32.9L678.6,33.8L678.7,31.8ZM371.6,42.9L369.6,41.4L371.4,40.4ZM380.5,43.0L378.8,41.1L380.7,40.5ZM389.5,43.0L388.1,40.9L390.1,40.6ZM396.5,42.1L397.8,39.9L399.0,41.5ZM405.5,41.8L407.2,39.9L408.0,41.7ZM414.5,41.4L416.5,39.8L417.0,41.8ZM423.6,41.0L425.8,39.8L426.0,41.8ZM432.9,40.6L435.2,39.7L435.1,41.7ZM442.2,40.2L444.6,39.6L444.3,41.6ZM451.5,39.9L454.0,39.5L453.5,41.5ZM461.0,39.6L463.5,39.5L462.8,41.4ZM470.4,39.3L472.9,39.4L472.1,41.2ZM481.2,38.4L483.2,39.8L481.5,40.9ZM490.8,38.2L492.7,39.9L490.8,40.7ZM500.5,38.0L502.1,39.9L500.2,40.5ZM510.1,37.9L511.5,40.0L509.6,40.4ZM519.7,37.9L520.9,40.1L519.0,40.3ZM528.9,37.9L530.3,40.0L528.3,40.4ZM538.6,38.0L539.7,40.3L537.7,40.4ZM548.3,38.1L549.1,40.5L547.1,40.3ZM558.0,38.3L558.4,40.8L556.5,40.3ZM567.7,38.5L567.7,41.0L565.9,40.2ZM577.3,38.7L577.0,41.2L575.2,40.2ZM586.9,38.9L586.2,41.3L584.6,40.1ZM596.8,39.3L595.5,41.4L594.3,39.8ZM606.2,39.5L604.8,41.5L603.7,39.8ZM615.7,39.6L614.0,41.5L613.2,39.8ZM625.7,39.8L623.8,41.5L623.2,39.5ZM635.1,39.9L633.2,41.5L632.6,39.5ZM644.5,40.0L642.5,41.5L642.0,39.6ZM652.9,40.6L650.7,41.7L650.6,39.7ZM662.3,40.6L660.0,41.7L659.9,39.7ZM671.6,40.6L669.4,41.7L669.3,39.7ZM681.1,40.8L678.7,41.7L678.8,39.7ZM371.8,50.7L369.7,49.3L371.3,48.2ZM380.5,50.8L378.8,49.0L380.7,48.4ZM389.4,50.9L388.1,48.7L390.1,48.5ZM396.5,50.0L397.7,47.9L398.9,49.5ZM405.4,49.7L407.1,47.8L407.9,49.7ZM414.4,49.3L416.4,47.8L416.8,49.7ZM423.4,48.8L425.7,47.7L425.8,49.7ZM432.7,48.5L435.0,47.6L434.9,49.6ZM442.0,48.2L444.4,47.5L444.2,49.5ZM451.4,47.9L453.8,47.4L453.4,49.4ZM460.8,47.7L463.3,47.4L462.7,49.3ZM470.3,47.4L472.8,47.3L472.0,49.2ZM480.9,46.6L483.2,47.7L481.6,49.0ZM490.5,46.3L492.6,47.8L490.9,48.8ZM500.3,46.1L502.1,47.8L500.2,48.6ZM510.0,45.9L511.5,47.9L509.6,48.4ZM519.7,45.9L520.9,48.0L519.0,48.2ZM529.0,45.9L530.3,48.1L528.3,48.3ZM538.8,46.0L539.7,48.4L537.7,48.3ZM548.6,46.3L549.0,48.7L547.1,48.3ZM558.3,46.5L558.3,49.0L556.5,48.2ZM568.1,46.8L567.5,49.3L565.9,48.1ZM577.6,47.1L576.7,49.4L575.3,48.0ZM587.2,47.3L585.9,49.5L584.7,47.9ZM597.0,47.7L595.3,49.5L594.5,47.6ZM606.4,47.8L604.5,49.5L603.9,47.6ZM615.8,48.0L613.8,49.5L613.3,47.6ZM625.2,48.1L623.2,49.6L622.8,47.6ZM635.2,48.0L633.1,49.4L632.7,47.5ZM644.5,48.0L642.4,49.4L642.1,47.5ZM652.9,48.4L650.7,49.6L650.5,47.6ZM662.3,48.3L660.1,49.6L659.9,47.6ZM671.7,48.5L669.4,49.6L669.4,47.6ZM681.0,48.4L678.8,49.6L678.6,47.6ZM372.0,58.2L369.7,57.2L371.2,55.9ZM380.6,58.6L378.8,56.8L380.7,56.1ZM388.7,58.7L388.1,56.2L390.1,56.6ZM396.4,57.9L397.7,55.8L398.8,57.5ZM405.2,57.4L407.0,55.7L407.7,57.6ZM414.1,56.9L416.3,55.6L416.6,57.6ZM423.3,56.6L425.5,55.5L425.6,57.5ZM432.5,56.3L434.9,55.5L434.8,57.5ZM441.9,56.2L444.3,55.4L444.1,57.4ZM451.3,56.0L453.7,55.4L453.4,57.3ZM460.7,55.9L463.1,55.3L462.7,57.3ZM470.1,55.8L472.6,55.3L472.1,57.3ZM480.6,55.2L483.0,55.6L482.0,57.3ZM490.1,55.0L492.5,55.7L491.2,57.2ZM499.8,54.7L502.0,55.8L500.5,57.1ZM509.6,54.3L511.5,55.9L509.7,56.8ZM519.6,53.9L520.9,56.0L519.0,56.3ZM529.3,54.0L530.3,56.2L528.3,56.3ZM539.3,54.4L539.6,56.9L537.7,56.3ZM549.2,54.9L548.7,57.3L547.1,56.1ZM559.0,55.3L557.7,57.5L556.5,55.9ZM568.6,55.6L566.9,57.5L566.1,55.7ZM578.0,55.9L576.2,57.5L575.5,55.6ZM587.5,56.0L585.5,57.5L585.0,55.6ZM597.1,56.2L595.0,57.5L594.7,55.5ZM606.5,56.3L604.3,57.5L604.1,55.5ZM615.9,56.4L613.6,57.5L613.5,55.5ZM625.2,56.4L623.0,57.5L622.9,55.5ZM635.2,56.1L633.0,57.4L632.8,55.4ZM644.5,56.1L642.4,57.4L642.1,55.4ZM652.9,56.2L650.8,57.5L650.5,55.6ZM662.3,56.4L660.1,57.5L660.0,55.5ZM671.7,56.2L669.5,57.5L669.3,55.5ZM680.9,56.0L678.9,57.5L678.5,55.6ZM372.5,65.1L370.0,65.3L370.6,63.4ZM381.3,65.6L378.9,65.0L380.1,63.4ZM388.0,66.3L388.3,63.8L390.0,64.8ZM396.0,65.3L397.8,63.6L398.5,65.4ZM404.9,64.6L407.1,63.4L407.3,65.4ZM414.0,64.4L416.3,63.4L416.3,65.4ZM423.2,64.3L425.5,63.4L425.4,65.4ZM432.5,64.2L434.8,63.3L434.7,65.3ZM441.8,64.2L444.2,63.3L444.1,65.3ZM451.2,64.2L453.6,63.3L453.4,65.3ZM460.6,64.2L463.0,63.3L462.9,65.3ZM470.1,64.3L472.4,63.4L472.3,65.4ZM480.4,64.3L482.7,63.4L482.6,65.4ZM489.8,64.6L492.0,63.4L492.2,65.4ZM499.4,65.1L501.2,63.4L501.9,65.2ZM509.3,66.0L510.1,63.6L511.5,64.9ZM519.7,66.8L519.0,64.4L521.0,64.7ZM529.4,66.8L528.4,64.5L530.4,64.4ZM539.6,66.1L537.7,64.6L539.4,63.6ZM549.5,65.5L547.1,64.9L548.3,63.4ZM559.2,65.2L556.7,65.2L557.5,63.3ZM568.6,65.0L566.2,65.3L566.8,63.4ZM578.1,64.9L575.6,65.3L576.1,63.4ZM587.5,64.9L585.0,65.3L585.5,63.4ZM597.1,64.8L594.7,65.4L595.0,63.4ZM606.5,64.7L604.1,65.4L604.4,63.4ZM615.9,64.7L613.5,65.4L613.7,63.4ZM625.2,64.7L622.8,65.4L623.1,63.4ZM635.2,64.2L632.9,65.4L632.8,63.4ZM644.5,64.2L642.3,65.3L642.2,63.4ZM653.0,64.2L650.8,65.4L650.6,63.4ZM662.3,64.1L660.2,65.4L659.9,63.4ZM671.6,63.9L669.6,65.4L669.1,63.5ZM680.8,63.6L679.0,65.4L678.3,63.6ZM372.3,71.3L370.7,73.3L369.8,71.5ZM380.6,70.4L380.6,72.9L378.7,72.1ZM388.7,70.1L390.1,72.2L388.1,72.6ZM396.2,70.8L398.7,71.3L397.6,72.9ZM405.0,71.4L407.5,71.2L406.9,73.0ZM414.0,71.7L416.5,71.2L416.1,73.1ZM423.2,71.9L425.6,71.2L425.4,73.2ZM432.5,72.0L434.9,71.2L434.7,73.2ZM441.9,72.2L444.2,71.3L444.1,73.3ZM451.3,72.3L453.6,71.3L453.6,73.3ZM460.7,72.5L462.9,71.4L463.1,73.4ZM470.2,72.7L472.3,71.4L472.6,73.4ZM480.7,73.5L482.1,71.4L483.2,73.1ZM490.4,74.0L491.2,71.6L492.7,73.0ZM500.3,74.4L500.4,71.9L502.2,72.8ZM510.2,74.7L509.6,72.3L511.6,72.7ZM519.9,74.9L519.0,72.6L521.0,72.6ZM529.1,74.9L528.3,72.5L530.3,72.7ZM538.9,74.8L537.7,72.6L539.7,72.4ZM548.7,74.5L547.1,72.6L549.0,72.0ZM558.5,74.2L556.5,72.7L558.2,71.7ZM568.2,73.9L565.9,72.9L567.4,71.6ZM577.8,73.7L575.4,73.0L576.7,71.5ZM587.3,73.5L584.8,73.1L585.9,71.4ZM597.0,73.3L594.5,73.3L595.3,71.4ZM606.4,73.2L603.9,73.3L604.6,71.4ZM615.8,73.1L613.3,73.3L613.9,71.4ZM625.2,73.0L622.7,73.3L623.3,71.4ZM634.7,72.9L632.2,73.3L632.7,71.4ZM644.6,72.4L642.3,73.3L642.3,71.3ZM652.9,71.9L650.9,73.3L650.5,71.4ZM662.2,71.7L660.3,73.3L659.7,71.4ZM671.4,71.5L669.7,73.3L668.9,71.5ZM680.6,71.2L679.2,73.3L678.1,71.6ZM371.7,78.4L371.2,80.8L369.5,79.7ZM380.2,78.0L380.7,80.5L378.8,80.1ZM389.0,77.9L390.1,80.2L388.1,80.3ZM396.3,78.8L398.7,79.2L397.6,80.9ZM405.2,79.0L407.7,79.1L406.9,80.9ZM414.2,79.4L416.7,79.0L416.1,80.9ZM423.3,79.7L425.8,79.1L425.4,81.0ZM432.6,80.0L435.0,79.1L434.8,81.1ZM442.0,80.2L444.3,79.2L444.3,81.2ZM451.4,80.5L453.6,79.3L453.8,81.3ZM460.9,80.8L462.9,79.4L463.3,81.3ZM470.4,81.1L472.3,79.5L472.9,81.4ZM481.1,82.1L481.8,79.6L483.3,80.9ZM490.9,82.4L491.0,79.9L492.8,80.7ZM500.7,82.7L500.3,80.2L502.2,80.7ZM510.4,82.8L509.6,80.4L511.6,80.6ZM520.0,82.8L519.0,80.5L521.0,80.5ZM529.1,82.8L528.3,80.5L530.3,80.7ZM538.7,82.8L537.7,80.5L539.7,80.5ZM548.4,82.7L547.1,80.6L549.1,80.3ZM558.1,82.6L556.5,80.6L558.4,80.1ZM567.8,82.3L565.9,80.7L567.7,79.8ZM577.4,82.1L575.3,80.8L577.0,79.7ZM587.0,81.9L584.7,80.9L586.2,79.5ZM596.9,81.6L594.4,81.1L595.5,79.5ZM606.3,81.5L603.8,81.2L604.8,79.4ZM615.7,81.3L613.2,81.2L614.1,79.4ZM625.1,81.2L622.6,81.2L623.4,79.4ZM634.5,81.1L632.0,81.2L632.7,79.3ZM644.5,80.4L642.2,81.2L642.3,79.3ZM652.8,79.6L651.0,81.2L650.3,79.3ZM662.1,79.4L660.4,81.2L659.6,79.4ZM671.3,79.1L669.9,81.2L668.8,79.5ZM680.4,78.8L679.4,81.1L678.0,79.7Z" fill="#222" stroke="none"/><path d="M369.4,14.9L370.8,17.8M379.1,14.8L380.0,17.9M388.7,14.7L389.3,17.9M398.4,14.7L398.5,17.9M408.1,14.7L407.7,17.9M419.4,16.6L416.2,17.2M428.9,16.9L425.5,17.1M438.4,17.2L434.7,16.9M447.7,17.5L444.0,16.7M457.1,17.8L453.4,16.6M465.3,19.1L463.2,16.0M474.3,19.4L472.8,15.9M483.5,19.5L482.2,15.8M492.7,19.6L491.6,15.7M501.9,19.7L501.0,15.7M511.1,19.7L510.4,15.6M520.3,19.8L519.9,15.6M529.9,19.8L529.1,15.6M539.1,19.8L538.5,15.6M548.2,19.8L548.0,15.6M557.3,19.7L557.4,15.7M566.4,19.6L566.9,15.7M575.6,19.5L576.3,15.8M584.7,19.4L585.8,15.9M593.4,19.2L595.4,16.0M602.6,19.1L604.8,16.0M611.9,18.9L614.2,16.1M620.4,18.4L624.1,16.3M630.2,16.9L632.8,17.0M639.6,16.8L642.2,17.1M648.9,16.7L651.5,17.1M658.3,16.6L660.9,17.1M667.7,16.4L670.2,17.2M677.1,16.3L679.5,17.2M369.3,22.8L370.9,25.8M379.0,22.6L380.1,25.9M388.7,22.6L389.3,25.9M398.4,22.6L398.5,25.9M409.9,24.0L407.0,25.2M419.5,24.3L416.1,25.1M429.0,24.7L425.3,25.0M438.5,25.1L434.6,24.8M447.9,25.4L443.9,24.6M457.2,25.7L453.2,24.5M466.5,26.1L462.6,24.3M474.5,27.2L472.7,23.8M483.6,27.4L482.1,23.7M492.8,27.5L491.5,23.6M502.0,27.6L501.0,23.5M511.1,27.7L510.4,23.5M520.3,27.7L519.9,23.5M529.9,27.7L529.1,23.5M539.0,27.7L538.5,23.5M548.1,27.6L548.0,23.5M557.2,27.6L557.5,23.6M566.3,27.5L567.0,23.7M575.4,27.3L576.4,23.8M584.6,27.2L585.8,23.9M593.3,26.9L595.5,24.0M602.5,26.8L604.9,24.1M611.7,26.6L614.3,24.1M620.1,26.2L624.3,24.2M629.4,26.0L633.7,24.3M639.5,24.8L642.2,24.9M648.9,24.7L651.5,25.0M658.2,24.6L660.9,25.0M667.6,24.6L670.2,25.0M677.0,24.5L679.6,25.0M369.2,30.6L370.9,33.8M379.0,30.5L380.1,33.8M388.7,30.5L389.3,33.8M400.2,31.5L397.8,33.3M410.0,31.8L406.9,33.2M419.6,32.2L416.0,33.1M429.2,32.5L425.2,32.9M438.7,32.9L434.4,32.7M448.1,33.3L443.7,32.5M457.4,33.6L453.0,32.4M466.7,34.0L462.4,32.2M474.7,35.1L472.6,31.7M483.8,35.2L482.0,31.6M492.9,35.4L491.5,31.5M502.0,35.5L500.9,31.4M511.2,35.6L510.4,31.4M520.3,35.6L519.8,31.4M529.9,35.6L529.1,31.4M539.0,35.6L538.6,31.4M548.0,35.5L548.1,31.5M557.0,35.4L557.6,31.6M566.1,35.2L567.0,31.7M575.2,35.1L576.5,31.8M584.3,34.9L585.9,31.9M593.0,34.6L595.6,32.0M602.3,34.4L605.0,32.1M611.5,34.2L614.4,32.2M620.0,33.9L624.4,32.2M629.4,33.8L633.7,32.3M639.5,32.8L642.2,32.8M648.9,32.8L651.5,32.8M658.2,32.7L660.9,32.8M667.6,32.7L670.3,32.8M676.9,32.7L679.6,32.8M369.2,38.5L371.0,41.7M379.0,38.4L380.1,41.7M388.7,38.4L389.3,41.7M400.4,39.3L397.7,41.3M410.1,39.6L406.8,41.2M419.8,40.0L415.9,41.0M429.4,40.4L425.0,40.8M438.8,40.8L434.2,40.6M448.2,41.2L443.5,40.4M457.6,41.5L452.9,40.3M466.8,41.8L462.3,40.1M476.1,42.1L471.7,39.9M484.0,43.0L481.9,39.6M493.1,43.2L491.4,39.4M502.1,43.4L500.9,39.3M511.2,43.5L510.4,39.3M520.3,43.5L519.9,39.3M529.8,43.5L529.1,39.3M538.8,43.4L538.6,39.4M547.8,43.3L548.2,39.5M556.8,43.1L557.7,39.6M565.8,42.9L567.1,39.8M574.9,42.7L576.6,39.9M584.0,42.5L586.0,40.0M592.8,42.1L595.7,40.1M602.1,41.9L605.0,40.2M611.3,41.8L614.4,40.2M620.0,41.6L624.3,40.2M629.3,41.5L633.8,40.3M638.6,41.4L643.1,40.3M648.9,40.8L651.6,40.7M658.2,40.8L660.9,40.7M667.6,40.8L670.3,40.7M676.8,40.6L679.7,40.7M369.0,46.5L371.0,49.5M379.0,46.4L380.1,49.5M388.8,46.3L389.2,49.5M400.4,47.2L397.6,49.2M410.2,47.5L406.7,49.1M419.9,47.9L415.7,48.9M429.6,48.4L424.8,48.7M439.0,48.7L434.1,48.5M448.4,49.0L443.4,48.4M457.7,49.3L452.7,48.2M467.0,49.5L462.1,48.1M476.2,49.8L471.5,47.9M484.3,50.6L481.8,47.7M493.4,50.9L491.3,47.5M502.3,51.1L500.8,47.4M511.3,51.3L510.3,47.3M520.3,51.3L519.9,47.2M529.7,51.3L529.2,47.3M538.6,51.2L538.7,47.4M547.5,50.9L548.3,47.6M556.5,50.7L557.8,47.8M565.4,50.4L567.2,47.9M574.6,50.1L576.7,48.1M583.7,49.9L586.1,48.1M592.6,49.5L595.7,48.2M601.9,49.4L605.1,48.3M611.2,49.2L614.5,48.3M620.5,49.1L623.9,48.4M629.2,49.2L633.8,48.3M638.6,49.2L643.2,48.3M648.9,48.8L651.6,48.5M658.2,48.9L660.9,48.5M667.5,48.7L670.3,48.6M676.9,48.8L679.6,48.5M368.8,54.8L371.1,57.2M378.9,54.4L380.1,57.3M389.5,54.3L389.0,57.3M400.5,55.1L397.5,57.2M410.4,55.6L406.5,57.0M420.2,56.1L415.5,56.7M429.7,56.4L424.7,56.6M439.2,56.7L433.9,56.4M448.5,56.8L443.3,56.3M457.8,57.0L452.6,56.2M467.1,57.1L462.0,56.1M476.4,57.2L471.5,56.1M484.6,57.8L481.7,55.9M493.8,58.0L491.2,55.9M502.8,58.3L500.7,55.7M511.7,58.7L510.2,55.5M520.4,59.1L519.8,55.2M529.4,59.0L529.3,55.3M538.1,58.6L538.9,55.7M546.9,58.1L548.4,56.0M555.8,57.7L557.9,56.1M564.9,57.4L567.3,56.2M574.2,57.1L576.7,56.3M583.4,57.0L586.1,56.3M592.5,56.8L595.8,56.4M601.8,56.7L605.1,56.4M611.1,56.6L614.5,56.4M620.5,56.6L623.9,56.5M629.2,56.9L633.8,56.3M638.6,56.9L643.2,56.3M648.9,56.8L651.5,56.4M658.2,56.6L661.0,56.5M667.5,56.8L670.3,56.4M677.0,57.0L679.6,56.4M368.3,63.7L371.2,64.7M378.2,63.2L380.2,64.7M390.2,62.5L388.7,65.1M400.9,63.5L397.3,64.8M410.7,64.2L406.3,64.5M420.3,64.4L415.4,64.4M429.8,64.5L424.6,64.3M439.2,64.6L433.9,64.3M448.6,64.6L443.2,64.3M457.9,64.6L452.6,64.3M467.2,64.6L462.0,64.3M476.4,64.5L471.4,64.3M484.8,64.5L481.7,64.4M494.1,64.2L491.2,64.5M503.2,63.7L500.7,64.6M512.0,62.8L510.2,64.9M520.3,62.0L519.8,65.5M529.3,62.0L529.4,65.4M537.8,62.7L539.0,64.9M546.6,63.3L548.5,64.7M555.6,63.6L557.9,64.6M564.9,63.8L567.3,64.6M574.1,63.9L576.7,64.6M583.4,63.9L586.1,64.6M592.5,64.0L595.8,64.6M601.8,64.1L605.2,64.5M611.1,64.1L614.5,64.5M620.5,64.1L623.9,64.5M629.2,64.6L633.8,64.3M638.6,64.6L643.1,64.3M648.8,64.6L651.6,64.3M658.2,64.7L660.9,64.3M667.6,64.9L670.2,64.2M677.1,65.2L679.5,64.2M368.5,73.3L371.1,72.0M378.9,74.2L380.0,71.7M389.5,74.5L388.9,71.5M400.7,73.8L397.4,71.6M410.6,73.2L406.3,71.8M420.3,72.9L415.4,72.0M429.8,72.7L424.6,72.1M439.2,72.6L433.9,72.2M448.5,72.4L443.2,72.2M457.8,72.3L452.7,72.3M467.1,72.1L462.1,72.4M476.3,71.9L471.5,72.5M484.5,71.1L481.9,72.7M493.5,70.6L491.3,72.9M502.3,70.2L500.9,73.2M511.1,69.9L510.4,73.4M520.1,69.7L520.0,73.5M529.6,69.7L529.2,73.5M538.5,69.8L538.8,73.4M547.4,70.1L548.3,73.2M556.3,70.4L557.8,73.0M565.3,70.7L567.3,72.9M574.4,70.9L576.7,72.8M583.6,71.1L586.1,72.8M592.6,71.3L595.8,72.7M601.9,71.4L605.1,72.7M611.2,71.5L614.5,72.6M620.5,71.6L623.9,72.6M629.7,71.7L633.3,72.6M638.5,72.2L643.2,72.4M648.9,72.7L651.6,72.2M658.3,72.9L660.9,72.1M667.8,73.1L670.2,72.1M677.3,73.4L679.4,72.0M369.1,82.0L370.9,79.5M379.3,82.4L379.9,79.4M389.2,82.5L389.0,79.3M400.6,81.6L397.4,79.5M410.4,81.4L406.5,79.6M420.1,81.0L415.5,79.7M429.7,80.7L424.7,79.9M439.1,80.4L434.0,80.1M448.4,80.2L443.4,80.2M457.7,79.9L452.8,80.4M466.9,79.6L462.2,80.5M476.1,79.3L471.7,80.7M484.1,78.3L482.0,81.0M493.0,78.0L491.5,81.2M501.9,77.7L501.0,81.3M510.9,77.6L510.5,81.4M520.0,77.6L520.0,81.5M529.6,77.6L529.2,81.5M538.7,77.6L538.7,81.4M547.7,77.7L548.2,81.4M556.7,77.8L557.7,81.2M565.7,78.1L567.2,81.1M574.8,78.3L576.6,81.0M583.9,78.5L586.1,80.9M592.7,78.8L595.7,80.8M602.0,78.9L605.1,80.8M611.3,79.1L614.5,80.7M620.6,79.2L623.8,80.7M629.9,79.3L633.2,80.6M638.6,80.0L643.1,80.3M649.0,80.8L651.5,80.0M658.4,81.0L660.8,79.9M667.9,81.3L670.1,79.9M677.5,81.6L679.4,79.8" fill="none" stroke="#222" stroke-width="0.7"/></g><g clip-path="url(#c11)"><rect x="367.4" y="133.5" width="315.80" height="71.05" fill="#5a3408"/><path d="M365.0,207.7 686.4,207.7 686.4,130.3 364.2,130.3 364.2,207.7ZM500.7,183.2 498.2,182.4 495.3,179.4 494.5,179.4 491.4,181.1 486.6,180.7 481.9,181.7 480.7,180.9 480.9,180.1 481.9,179.3 488.2,177.3 491.4,177.3 494.5,177.9 497.7,177.1 502.4,177.2 506.4,176.2 511.1,176.3 515.8,176.9 522.1,175.9 526.9,176.2 531.6,175.5 536.4,176.3 539.5,176.4 544.2,175.4 549.8,174.9 557.7,174.9 563.2,175.8 573.5,174.9 588.5,175.3 594.0,174.6 598.7,175.2 604.2,174.5 610.6,174.7 619.3,175.7 623.2,174.9 627.9,175.2 636.6,173.9 642.1,174.3 650.0,174.3 651.2,175.3 650.0,176.4 642.1,177.0 637.4,177.7 628.7,177.1 624.0,177.9 619.3,177.2 616.9,177.8 608.2,178.7 597.1,178.7 586.9,179.4 581.4,179.3 575.8,180.4 571.1,180.1 567.1,180.8 562.4,180.3 556.1,181.8 549.8,181.6 545.8,182.1 540.3,181.4 536.4,182.1 530.8,181.8 519.8,182.7 512.7,182.2 507.9,180.7 506.4,181.0 502.4,182.9 500.8,183.3Z" fill="#93560f" fill-rule="evenodd"/><path d="M365.0,207.7 686.4,207.7 686.4,130.3 364.2,130.3 364.2,207.7ZM501.4,184.8 493.7,183.4 481.9,183.9 474.8,183.8 473.5,182.4 472.9,179.3 473.5,178.5 474.8,178.1 479.5,177.9 487.4,175.7 493.7,175.5 496.9,174.9 501.6,175.6 506.4,174.8 516.6,175.7 522.1,174.2 526.9,175.0 532.4,174.6 537.9,175.4 543.5,174.5 549.8,174.0 557.7,174.1 563.2,174.7 574.2,174.2 587.7,174.4 594.0,173.7 599.5,174.2 604.2,173.7 607.4,174.0 610.6,173.8 618.5,174.6 627.9,174.3 636.6,173.3 650.0,173.7 651.7,174.6 652.4,175.3 652.0,176.1 650.0,177.0 637.4,178.3 629.5,178.0 624.8,178.7 620.0,178.3 610.6,179.4 597.1,179.6 593.2,180.2 586.1,180.4 581.4,180.2 575.8,181.1 571.1,180.9 567.1,181.6 561.6,181.4 555.3,182.7 545.8,183.0 540.3,182.4 535.6,183.2 532.4,182.9 524.5,183.1 520.6,183.9 516.6,184.0 507.9,183.1 505.6,183.4 501.6,184.8Z" fill="#b87426" fill-rule="evenodd"/><path d="M365.0,207.7 686.4,207.7 686.4,130.3 364.2,130.3 364.2,207.7ZM464.7,194.3 462.1,193.4 461.6,192.7 461.5,191.1 462.1,190.4 464.5,190.5 466.1,189.9 468.5,187.4 470.0,191.1 469.9,192.7 468.2,194.3 465.3,194.4ZM478.9,186.4 477.1,185.9 474.0,185.9 470.0,184.2 468.5,185.9 465.3,183.8 463.7,183.2 461.4,183.5 458.2,185.0 457.1,184.0 456.6,181.7 457.6,180.1 462.9,176.9 469.2,174.8 470.8,174.7 474.8,175.9 479.5,176.1 487.4,174.4 492.9,174.1 496.9,173.3 500.8,174.0 507.1,173.5 516.6,174.4 521.4,173.0 522.9,172.9 527.7,173.9 532.4,173.7 537.9,174.5 543.5,173.5 549.0,173.3 563.2,173.7 582.9,173.3 587.7,173.6 594.0,173.0 599.5,173.5 603.5,173.1 607.4,173.4 610.6,173.1 617.7,173.9 627.9,173.6 636.6,172.8 650.0,173.2 653.0,174.6 653.7,175.3 653.2,176.3 650.0,177.5 638.2,178.9 629.5,178.7 624.8,179.5 620.0,179.2 612.1,180.2 597.1,180.5 593.2,181.2 581.4,181.2 575.0,182.0 571.1,181.7 567.1,182.3 561.6,182.4 556.1,183.6 545.8,183.9 541.1,183.4 535.6,184.3 532.4,183.9 524.5,184.0 516.6,185.9 511.9,184.7 507.9,184.5 505.6,184.8 502.4,186.1 497.7,185.4 492.1,185.4 486.6,186.4 483.5,186.2 479.5,186.7ZM463.6,173.0 463.7,172.4 464.5,172.4 465.0,173.0 464.5,173.4 463.7,173.1Z" fill="#dcb36a" fill-rule="evenodd"/><path d="M365.0,207.7 686.4,207.7 686.4,130.3 364.2,130.3 364.2,207.7ZM463.8,195.9 460.6,195.5 459.0,194.8 457.4,191.1 455.0,189.2 453.8,187.2 454.6,180.1 455.8,178.6 458.5,176.9 459.6,175.3 458.5,172.2 458.6,171.4 459.8,170.5 462.1,169.9 467.7,170.4 472.4,172.6 479.5,174.0 485.0,173.7 489.8,172.6 496.1,171.8 503.2,172.2 507.1,171.6 517.4,173.0 521.4,171.8 522.9,171.7 537.1,173.4 544.2,172.4 570.3,173.0 582.9,172.4 587.7,172.8 593.2,172.3 599.5,172.7 610.6,172.3 617.7,173.3 627.9,173.1 636.6,172.2 650.0,172.6 654.0,174.3 655.0,175.3 654.7,176.1 654.0,176.7 650.0,178.1 638.2,179.5 630.3,179.5 624.8,180.3 620.0,180.1 612.1,181.2 604.2,180.9 597.1,181.4 594.0,182.2 582.1,182.2 575.8,182.9 570.3,182.7 560.8,183.5 556.1,184.6 545.8,185.0 541.1,184.4 535.6,185.6 531.6,185.1 524.5,185.3 520.6,186.3 516.6,187.9 511.9,186.2 507.9,185.8 506.4,186.0 502.4,187.4 497.7,186.7 491.4,187.0 477.9,189.9 476.1,191.1 475.8,193.5 474.8,194.3 472.4,194.5 467.7,196.4 464.5,196.0ZM473.2,189.6 473.2,188.8 473.1,189.6Z" fill="#f0daa4" fill-rule="evenodd"/><path d="M365.0,207.7 619.4,207.7 619.4,206.9 620.0,205.9 620.8,206.7 620.8,207.7 686.4,207.7 686.4,130.3 364.2,130.3 364.2,207.7ZM466.8,198.2 463.7,197.6 458.2,197.8 456.2,197.4 455.4,196.7 453.5,191.6 451.9,190.8 448.7,192.6 447.9,192.7 447.0,191.9 446.7,188.8 444.2,186.4 444.0,184.8 444.8,182.0 445.6,181.1 447.9,179.8 448.7,178.6 448.7,175.3 449.4,173.0 451.1,170.9 453.5,169.0 457.4,169.1 461.4,168.5 465.3,168.6 469.2,167.5 470.0,167.7 472.3,169.8 473.2,170.2 477.1,170.1 484.2,172.5 486.6,172.0 489.8,169.7 491.4,169.1 492.9,169.0 497.7,170.1 502.4,170.5 504.0,170.3 507.1,168.8 510.3,170.1 514.2,170.3 517.4,171.0 528.5,170.3 537.1,172.0 544.2,171.3 571.1,172.2 583.7,171.4 588.5,171.9 603.5,171.6 607.4,172.0 610.6,171.6 617.7,172.6 627.9,172.4 635.0,171.7 650.0,172.0 654.5,173.8 656.1,175.3 655.9,176.1 654.8,177.2 650.0,178.7 642.9,179.5 638.2,180.4 632.7,180.2 626.4,181.2 620.0,181.3 612.9,182.5 604.2,181.9 597.1,182.5 594.0,183.5 589.2,183.0 579.8,184.4 570.3,183.8 564.0,185.1 560.0,184.7 556.1,185.8 548.2,186.2 544.2,186.9 541.1,185.8 535.6,187.2 530.8,186.5 526.9,187.5 522.1,187.5 518.2,189.2 516.6,189.5 513.5,189.0 507.9,187.4 506.4,187.5 501.6,189.0 497.7,188.3 494.5,189.1 492.1,189.1 487.4,189.7 484.2,190.7 481.1,190.8 479.3,191.9 479.1,192.7 479.6,195.1 479.0,195.9 476.4,196.7 472.4,196.5 468.5,198.1 466.9,198.3ZM569.1,166.7 563.7,164.3 563.4,163.5 564.4,162.7 567.9,162.4 577.6,164.3 577.7,165.1 576.6,165.6 571.1,166.9 569.5,166.8ZM583.8,165.9 583.0,165.1 582.9,163.5 583.7,162.4 584.5,162.2 588.5,163.3 591.6,161.8 593.9,162.7 596.2,164.3 595.7,165.1 594.0,165.4 589.2,165.1 586.1,166.4 584.5,166.2ZM599.4,165.1 600.6,164.3 602.7,163.7 603.7,164.3 603.0,165.1 601.9,165.4 599.5,165.1ZM409.7,148.5 408.5,146.9 409.2,146.5 410.8,146.9 411.5,147.7 411.6,148.6 410.8,149.1 410.0,148.7ZM477.8,143.8 477.4,143.0 477.9,142.2 479.7,142.2 480.1,143.0 479.7,143.8 478.7,144.1 477.9,143.9Z" fill="#f6f0dc" fill-rule="evenodd"/><path d="M365.0,207.7 428.8,207.7 428.2,206.2 426.6,204.4 425.8,199.8 425.7,199.0 427.4,198.4 428.4,199.0 428.6,203.8 429.1,204.6 430.6,205.2 432.1,205.3 432.9,204.9 433.7,203.6 434.8,203.8 434.9,204.6 433.4,206.1 433.2,207.7 449.1,207.7 447.9,206.1 447.9,205.3 455.0,203.3 456.4,203.8 457.2,204.6 456.6,207.7 463.1,207.7 464.1,206.1 465.3,205.6 466.2,206.1 466.8,207.7 478.4,207.7 479.5,206.4 481.1,205.6 481.7,206.1 481.9,207.7 503.3,207.7 501.2,201.4 500.0,200.3 499.2,200.5 498.2,203.0 496.9,204.6 495.3,205.2 493.7,204.7 490.6,202.7 488.2,203.2 487.1,203.0 486.3,202.2 485.8,199.8 485.0,199.1 481.9,199.8 479.1,199.0 477.9,199.1 477.0,199.8 474.9,203.8 474.0,204.2 472.4,203.9 471.6,203.0 471.6,200.6 471.0,199.8 467.7,200.5 464.5,200.2 462.1,200.4 458.2,199.7 454.2,200.3 447.9,198.1 444.8,197.5 442.4,194.3 441.6,194.4 440.8,195.2 439.4,198.2 437.7,198.3 436.9,197.3 436.5,195.1 437.6,191.9 437.5,190.3 436.1,188.4 433.7,188.7 432.9,188.3 431.9,185.6 430.2,183.2 429.7,178.5 429.9,177.7 430.6,177.5 432.0,178.5 435.8,184.0 436.1,185.2 436.4,183.2 438.5,181.4 440.0,181.5 440.8,182.3 445.2,177.7 444.4,175.3 444.3,174.6 444.8,173.8 450.4,168.2 451.9,164.7 452.7,163.9 454.2,163.3 455.7,165.9 456.6,166.7 459.0,167.1 464.9,166.7 466.1,165.9 467.7,163.9 468.5,163.8 474.0,165.0 475.2,162.7 475.6,162.4 476.4,162.5 482.1,169.0 484.2,170.6 485.8,170.3 486.6,169.5 487.2,168.2 487.5,165.9 488.2,164.9 495.3,164.7 496.1,165.1 497.7,166.9 498.5,166.9 499.2,165.5 500.0,165.2 500.9,165.9 501.3,167.4 502.4,167.9 503.2,167.7 505.6,164.4 507.1,163.1 508.2,159.6 508.3,158.0 507.2,156.4 505.4,155.6 504.6,154.8 504.0,150.7 503.2,150.2 499.9,150.1 499.6,149.3 500.0,148.7 504.0,146.9 504.3,145.3 504.0,144.6 503.2,144.3 500.8,145.7 500.0,145.8 498.0,144.6 497.2,143.0 496.9,135.1 498.5,133.2 500.0,132.4 501.6,132.1 504.8,135.9 506.4,136.7 507.1,136.5 509.9,132.7 510.3,130.3 494.0,130.3 494.4,133.5 493.9,135.1 489.8,137.7 486.6,138.0 485.6,139.0 484.8,140.6 483.6,144.6 484.2,146.0 485.8,147.0 487.4,147.4 488.5,146.9 489.2,146.1 490.6,143.0 492.9,143.4 494.4,144.6 494.2,146.1 490.8,154.0 490.9,155.6 491.4,156.2 493.7,156.9 496.9,155.6 502.0,155.6 502.3,156.4 501.0,160.3 499.2,162.9 498.5,163.4 497.7,163.4 496.9,162.7 495.3,159.7 494.5,159.5 491.4,161.1 490.5,160.3 489.8,157.9 489.0,157.2 486.4,156.4 485.4,155.6 485.3,154.0 484.8,153.2 481.1,150.6 480.3,150.5 479.5,151.1 479.0,153.2 479.8,157.2 475.6,158.6 471.6,158.2 467.7,161.8 466.9,161.6 466.0,159.6 465.3,151.7 462.2,146.9 462.5,146.1 464.5,145.5 467.7,145.8 470.0,146.7 471.6,146.3 472.7,145.3 473.7,140.6 473.4,139.8 470.6,137.4 470.3,136.7 470.8,135.5 472.4,135.1 473.2,135.8 474.8,138.9 475.6,139.4 480.3,139.0 481.4,138.2 481.6,134.3 482.4,132.7 483.5,132.2 487.4,131.5 488.8,130.3 473.1,130.3 472.4,131.6 470.0,131.5 467.7,132.9 466.1,132.4 464.7,130.3 439.4,130.3 439.2,132.9 437.7,134.1 436.1,134.4 433.7,132.9 429.8,133.2 428.3,131.9 427.6,130.3 422.6,130.3 422.3,134.3 420.3,136.7 419.9,138.2 420.9,139.8 426.4,144.6 426.3,145.3 423.5,148.2 422.7,148.2 421.1,147.4 420.2,149.3 418.7,150.6 414.8,151.0 410.8,152.8 409.2,152.5 406.9,150.0 405.3,149.2 400.6,150.6 397.4,152.8 395.0,153.0 392.7,152.4 390.1,150.1 389.7,149.3 389.6,147.7 390.3,145.1 391.9,143.9 392.7,144.1 394.5,146.9 395.8,147.4 397.4,147.1 398.6,145.3 399.1,139.8 400.6,139.0 402.9,139.5 406.1,141.6 406.9,141.6 409.2,140.4 411.6,140.7 413.2,140.4 414.1,139.8 415.0,138.2 414.9,136.7 413.7,133.5 414.8,130.3 377.0,130.3 376.1,132.7 374.5,135.4 373.7,136.1 372.9,136.3 370.9,135.1 370.6,134.3 370.8,130.3 366.1,130.3 365.2,131.9 364.2,132.4 364.2,135.5 367.4,135.1 368.2,135.8 367.3,138.2 368.9,141.4 368.8,142.2 368.2,142.4 364.2,141.4 364.2,171.3 366.4,171.4 367.5,173.0 366.8,173.8 364.2,174.4 364.2,207.7ZM373.9,204.6 373.9,201.4 375.0,199.0 376.9,198.3 379.0,199.0 379.1,199.8 377.8,204.6 374.5,205.1ZM395.8,198.2 395.5,197.4 395.7,196.7 396.6,196.3 398.2,196.3 399.6,197.4 399.0,198.6 398.2,198.9 396.6,198.7ZM393.8,178.5 392.9,176.9 393.8,172.2 394.2,171.4 396.6,169.5 398.2,168.6 399.0,168.7 399.8,170.1 399.8,173.0 397.6,175.3 397.1,178.5 395.8,179.2 394.2,178.8ZM419.9,176.9 419.6,174.6 420.3,173.2 421.1,173.3 422.0,174.6 422.0,176.1 421.1,177.3 420.3,177.3ZM413.3,176.1 413.2,174.6 414.0,174.5 414.9,176.1 414.8,176.5 414.0,176.6ZM377.4,174.6 376.7,171.4 376.9,170.5 377.7,170.3 379.7,171.4 380.3,173.0 379.4,174.6 378.5,174.9 377.7,174.8ZM383.8,169.0 383.3,166.7 384.1,165.1 387.1,163.4 389.5,160.2 390.3,160.1 391.1,160.7 392.6,162.7 393.4,165.1 393.4,166.7 392.7,168.2 391.1,168.7 388.7,168.2 385.6,169.4 384.0,169.2ZM377.7,163.5 374.3,159.6 375.3,158.3 376.9,157.6 380.0,158.3 380.8,158.8 381.2,159.6 381.1,161.1 380.4,162.7 379.2,163.8 378.5,163.8ZM404.3,161.1 403.4,160.3 403.7,160.1 404.5,159.8 405.7,160.3 405.5,161.1 404.5,161.2ZM390.2,156.4 390.3,155.6 390.3,156.6ZM380.2,154.8 379.2,153.8 378.8,152.4 379.2,151.3 380.4,150.1 380.9,147.7 381.6,146.5 382.4,147.3 382.8,148.5 382.5,150.9 383.2,154.0 382.4,155.4 380.8,155.2ZM455.6,154.0 453.5,153.2 452.6,152.4 452.6,150.9 453.5,148.5 453.4,146.1 451.4,141.4 449.5,139.5 446.3,137.7 445.3,136.7 444.6,135.1 444.6,134.3 445.4,133.5 447.1,133.4 449.5,135.1 450.3,135.3 454.2,133.9 455.8,134.3 456.6,138.2 458.0,140.6 458.0,141.4 454.7,143.8 454.4,144.6 455.0,145.4 458.2,143.9 459.0,143.9 460.6,145.3 461.2,146.9 460.0,149.3 458.0,151.7 457.2,154.0 456.6,154.5 455.8,154.1ZM370.6,150.9 370.6,149.9 371.3,149.3 372.3,150.1 371.3,151.1ZM380.8,144.6 376.9,142.6 374.5,143.4 373.7,143.1 373.7,142.2 374.5,140.6 375.9,139.8 378.5,138.9 380.8,139.1 382.2,139.8 382.9,140.6 383.4,143.0 382.4,144.9 381.6,145.2 380.8,144.6ZM427.9,144.6 429.1,142.2 428.4,137.4 429.0,136.4 431.8,139.0 432.1,139.8 430.5,144.6 429.0,145.3 428.2,144.8ZM409.1,138.2 407.7,136.9 406.8,135.1 407.0,133.5 408.5,132.7 410.0,133.2 411.0,134.3 410.8,136.7 410.0,138.1 409.2,138.3ZM459.7,134.3 459.3,133.5 459.8,132.8 460.6,132.5 461.1,133.5 460.9,134.3 459.8,134.3ZM512.7,207.5 516.0,207.7 514.8,202.2 510.7,199.0 511.1,198.2 512.7,197.5 515.0,197.3 516.6,197.5 517.4,198.1 517.9,200.6 519.8,206.2 520.4,207.7 521.5,207.7 523.3,203.0 529.1,196.7 529.4,195.9 529.0,195.1 527.7,194.2 522.9,193.0 520.6,191.5 519.8,191.4 515.0,191.8 511.9,194.6 510.3,194.7 509.3,193.5 508.6,190.3 507.1,189.6 505.2,190.3 503.7,191.9 504.4,194.3 503.6,196.7 503.8,198.2 504.8,199.2 507.9,199.2 509.1,199.8 508.7,203.0 509.0,204.6 512.2,206.9ZM526.1,207.7 530.8,207.7 531.6,207.3 532.0,207.7 555.1,207.7 556.3,206.9 558.5,206.2 560.0,206.9 560.3,207.7 584.1,207.7 584.2,206.1 583.8,205.3 582.9,204.8 579.0,203.9 575.0,204.4 571.9,205.9 570.3,205.8 567.1,203.6 564.8,203.8 562.8,203.0 561.0,201.4 559.2,198.3 558.5,198.1 555.3,198.6 553.9,198.2 553.6,197.4 553.8,196.7 554.5,195.6 556.3,194.3 556.1,192.6 554.5,191.0 560.0,189.7 561.6,188.8 561.5,187.2 560.0,186.4 554.5,188.2 550.3,188.0 548.6,188.8 549.3,191.9 548.8,195.1 550.7,198.2 549.8,199.5 547.4,201.3 545.8,201.4 542.7,200.4 538.7,201.1 534.0,198.6 532.4,198.6 530.8,200.6 529.2,204.7 526.4,206.1 525.5,207.7ZM586.9,207.7 588.7,207.7 590.6,204.6 592.4,203.2 593.2,203.1 596.4,204.7 597.9,204.4 599.2,203.0 599.8,201.4 598.7,200.2 596.1,199.0 596.3,198.2 599.5,196.3 601.1,193.9 602.7,193.2 603.8,193.5 604.5,196.7 606.6,198.8 608.2,199.5 610.6,199.6 610.9,201.4 612.4,202.2 615.3,203.1 616.1,202.8 617.2,201.4 615.6,199.8 612.9,198.6 612.5,197.4 613.5,195.1 615.3,193.0 616.1,192.6 619.3,194.3 620.8,194.2 623.2,193.2 623.6,195.1 623.2,197.4 619.6,200.6 619.4,201.4 623.5,203.8 624.3,205.3 624.3,207.7 631.5,207.7 632.7,205.8 634.3,205.1 636.6,205.6 637.4,206.2 637.9,207.7 685.1,207.7 685.6,206.6 686.4,206.1 686.4,188.6 685.6,188.3 683.2,185.5 680.8,185.5 680.0,184.9 679.8,182.4 678.8,179.3 681.6,176.4 683.2,175.7 684.0,176.1 684.6,177.7 683.6,181.7 684.0,182.4 684.8,182.7 686.4,182.7 686.4,162.6 684.4,161.9 683.0,158.0 680.4,155.6 679.2,151.7 680.0,151.0 680.8,151.0 683.5,151.7 683.8,152.4 682.9,155.6 683.2,156.3 684.0,156.7 686.4,156.7 686.4,143.4 686.1,143.0 686.4,130.3 642.4,130.3 642.1,130.7 641.4,130.8 640.9,130.3 619.0,130.3 616.3,132.7 615.9,133.5 617.7,136.6 617.8,137.4 617.2,139.8 616.1,140.3 615.2,139.8 614.2,138.2 612.3,130.3 597.3,130.3 596.4,133.1 595.6,133.4 592.4,131.5 588.5,132.2 587.7,131.8 586.8,130.3 579.7,130.3 577.7,135.9 577.8,139.0 578.2,140.7 579.0,141.9 580.6,141.7 581.4,142.2 580.6,142.9 579.0,142.3 577.4,143.0 575.6,144.6 575.3,146.1 575.8,147.1 577.4,148.1 578.2,148.1 580.6,147.1 581.4,147.5 581.8,150.9 579.8,153.6 577.4,158.3 576.6,158.5 575.6,155.6 571.1,153.5 568.7,151.3 567.1,152.5 565.2,155.6 565.1,157.2 565.6,157.8 567.9,158.2 569.6,159.6 571.3,160.3 574.2,160.8 577.4,160.8 579.8,161.7 580.6,161.6 583.7,159.7 587.7,160.5 590.0,159.2 591.6,159.0 593.2,159.4 596.2,161.1 597.9,161.5 599.5,161.5 602.7,160.3 605.8,160.4 608.2,162.7 609.0,162.7 611.2,161.1 612.9,157.9 614.5,157.7 615.3,158.0 616.2,161.1 618.5,164.3 618.7,165.1 618.0,165.9 616.9,166.3 612.9,166.7 611.4,166.4 608.2,165.1 604.2,166.9 599.5,167.8 595.6,167.1 590.0,167.3 585.3,169.0 585.6,169.8 587.4,170.6 589.2,170.8 604.2,170.7 607.4,171.1 611.4,170.7 617.7,172.0 627.9,171.7 633.5,171.0 650.0,170.7 655.6,173.2 656.9,174.6 657.2,175.3 656.8,176.9 654.8,178.7 646.1,180.8 642.1,180.8 638.2,181.9 632.7,181.3 628.7,183.0 624.8,182.8 620.0,183.6 617.7,185.6 615.3,186.3 611.6,191.1 608.2,193.7 606.6,193.5 605.4,192.7 605.6,187.2 606.4,184.8 606.1,184.0 602.7,183.8 597.1,184.9 595.7,186.4 595.5,187.2 596.3,191.9 596.1,192.7 594.8,193.4 593.2,192.8 593.0,191.9 594.3,187.2 594.0,186.4 591.6,185.1 589.2,185.4 586.7,188.0 585.9,189.6 585.9,190.3 586.6,191.1 590.6,194.3 590.0,196.3 589.2,197.2 586.9,196.8 586.1,197.0 585.2,198.2 584.9,199.8 585.2,200.6 587.7,201.2 588.5,203.0 588.2,204.6 586.8,206.1 586.7,207.7ZM671.9,206.1 671.4,204.6 671.9,203.8 672.9,203.1 676.9,202.0 679.2,203.0 679.1,203.8 678.5,204.6 677.1,205.3 672.9,206.7 672.1,206.5ZM651.2,203.0 650.7,202.2 651.6,200.8 654.4,199.0 658.7,198.0 659.7,196.7 659.7,195.9 659.0,194.3 657.1,192.3 655.6,191.8 653.2,192.3 651.6,192.0 649.3,190.3 647.7,187.9 644.5,187.3 643.7,186.7 643.1,185.6 643.2,184.0 645.3,181.8 646.1,181.8 647.7,182.6 649.5,184.8 650.8,185.8 656.4,187.8 659.5,188.4 660.7,189.6 661.4,191.1 662.0,196.7 663.5,199.4 663.5,200.7 660.3,201.2 658.3,203.0 657.1,203.4 654.8,202.9 651.6,203.2ZM627.2,202.2 626.7,200.6 627.9,199.9 628.7,200.1 629.6,201.4 629.5,202.1 628.7,202.6 627.9,202.5ZM644.3,202.2 643.4,201.4 643.5,200.6 644.5,199.8 645.3,200.6 645.5,201.4 644.5,202.3ZM673.6,198.2 669.0,195.3 668.4,193.5 665.9,190.3 665.4,188.8 665.8,187.2 666.5,186.4 669.0,185.2 671.4,183.2 672.1,183.3 672.9,185.3 672.4,190.3 672.9,191.9 673.7,192.3 676.1,191.8 676.9,192.7 676.1,197.4 675.3,198.2 673.7,198.3ZM629.7,195.1 629.5,194.3 629.8,191.9 630.3,190.9 631.1,190.9 631.9,191.9 632.2,194.3 631.7,195.1 630.3,195.5ZM642.6,194.3 641.9,193.5 641.8,191.9 642.8,190.3 643.7,189.8 645.3,190.0 647.4,191.9 647.4,193.5 646.7,194.3 644.5,194.9 642.9,194.5ZM673.7,179.3 674.5,178.7 675.4,179.3 673.7,179.3ZM658.3,170.6 657.0,169.8 655.3,165.1 657.9,164.3 659.0,163.5 658.3,161.1 658.4,159.6 659.2,158.0 660.3,157.0 661.1,157.0 662.2,158.0 662.5,159.6 662.0,162.7 662.7,162.9 665.0,160.9 666.6,160.2 669.8,160.5 670.6,159.3 671.4,158.8 672.7,159.6 672.4,161.1 672.7,161.9 674.5,163.2 676.1,165.1 676.0,166.7 674.5,167.6 673.7,167.4 670.6,164.7 666.6,164.5 663.5,164.9 662.5,165.9 661.9,169.9 660.3,170.9 658.7,170.7ZM681.4,169.8 680.5,169.0 680.0,166.4 680.8,164.7 681.6,164.2 682.4,164.2 683.0,165.1 682.8,167.4 682.5,169.0 681.6,169.9ZM620.0,157.2 618.1,155.6 617.8,154.0 623.2,153.2 624.8,153.4 625.9,154.0 625.8,154.8 623.2,157.2 621.6,157.7 620.8,157.6ZM630.0,154.8 629.3,154.0 629.4,151.7 627.5,149.3 626.9,147.7 627.0,146.9 628.7,144.5 632.7,143.2 633.7,142.2 633.7,140.6 632.1,137.4 632.7,135.8 633.5,134.9 634.3,135.4 634.6,136.7 635.8,138.1 639.2,139.8 639.1,140.6 637.1,144.6 636.6,147.3 635.8,147.9 631.9,149.1 630.5,150.9 630.5,151.7 631.1,152.0 634.3,153.2 634.2,154.0 632.7,155.2 630.3,155.0ZM667.3,154.8 667.4,153.5 668.2,153.9 668.4,154.8 668.2,155.4 667.4,155.2ZM600.9,154.0 597.1,151.3 593.2,152.5 589.9,152.4 589.2,151.7 589.4,150.1 589.1,148.5 587.1,146.1 585.9,143.8 582.7,141.4 582.8,140.6 583.7,139.0 585.3,137.7 590.0,137.2 593.2,136.0 594.3,136.7 594.0,137.4 591.6,139.2 591.3,140.6 591.9,141.4 594.0,142.5 595.6,142.6 597.1,142.1 598.4,141.4 598.6,140.6 597.3,136.7 597.4,135.1 603.5,133.1 605.8,130.5 607.2,132.7 610.6,135.1 611.1,135.9 610.5,139.8 610.0,141.4 608.5,143.8 604.4,147.7 602.2,153.2 601.1,154.1ZM645.4,153.2 646.1,152.6 646.6,153.2 646.1,153.8ZM625.5,142.2 624.6,141.4 624.7,139.0 625.6,137.3 626.4,136.7 627.1,136.8 629.2,138.2 629.2,139.8 627.9,141.7 625.6,142.2ZM671.1,139.0 670.5,138.2 670.5,137.4 671.4,136.5 676.1,134.3 676.9,134.3 677.7,135.1 677.8,136.7 675.3,139.2 673.7,139.8 671.4,139.2ZM599.5,207.7 605.6,207.7 603.5,203.8 602.7,203.7 599.5,206.6 598.9,207.7ZM607.4,207.7 616.7,207.7 616.1,205.9 615.3,205.0 614.5,204.8 609.8,205.1 607.2,207.7ZM567.9,199.2 569.2,199.0 570.2,198.2 570.1,197.4 569.5,196.9 567.9,196.4 567.1,196.9 567.0,198.2 567.6,199.0ZM545.0,196.9 545.8,197.0 546.7,195.9 545.8,195.3 545.0,195.6 544.9,196.7ZM566.4,195.3 567.1,195.5 567.6,193.5 566.6,191.1 565.6,190.7 565.0,191.1 564.9,191.9 566.3,195.1ZM496.9,193.7 497.7,193.6 498.7,192.7 498.8,191.9 498.2,191.1 497.1,191.1 496.3,191.9 496.1,192.7 496.6,193.5ZM572.7,192.8 574.2,193.3 575.0,193.1 577.4,190.7 579.2,189.6 579.7,188.8 579.2,187.2 578.1,186.4 575.8,185.6 569.6,185.6 568.2,186.4 567.9,188.0 568.7,189.6 572.6,192.7ZM530.0,192.0 531.6,191.7 532.6,191.1 532.9,190.3 532.4,189.6 530.8,189.2 530.0,189.6 529.0,191.1 529.7,191.9ZM551.4,170.7 561.6,171.3 572.7,171.4 580.8,170.6 583.3,169.8 584.3,169.0 582.1,167.8 580.6,167.4 575.0,167.6 570.3,168.4 564.8,166.7 561.6,166.5 556.1,167.8 551.4,168.3 548.4,169.0 548.4,169.8 550.6,170.6ZM537.1,169.8 539.5,170.1 547.2,169.0 545.0,167.1 542.7,167.9 537.1,166.7 535.5,167.4 535.2,168.2 535.7,169.0 537.1,169.8ZM520.6,169.2 522.9,169.5 525.2,169.0 527.2,167.4 527.9,165.9 528.0,162.7 526.7,158.0 527.5,154.0 526.9,153.2 524.9,152.4 522.9,152.4 522.1,153.2 522.0,154.0 523.0,157.2 522.0,161.1 521.3,161.9 518.4,163.5 514.1,166.7 514.6,167.4 520.0,169.0ZM548.2,162.0 549.0,162.1 550.6,161.4 555.2,158.0 555.5,155.6 554.5,153.7 552.9,153.4 550.6,154.3 548.1,159.6 547.8,161.1 548.1,161.9ZM541.9,160.7 542.7,160.7 542.8,160.3 542.7,157.8 541.9,157.6 541.1,158.2 540.9,159.6 541.5,160.3ZM515.0,157.9 515.8,158.0 516.9,157.2 517.5,155.6 517.1,154.8 515.8,154.3 515.0,154.7 514.2,156.4 514.3,157.2ZM549.0,153.3 550.6,152.8 552.6,150.9 552.6,150.1 552.0,149.3 550.6,148.3 549.8,148.4 547.4,150.9 547.1,151.7 547.5,152.4 548.8,153.2ZM513.5,151.9 515.0,151.8 516.7,149.3 513.5,149.3 512.7,148.9 511.6,146.9 511.3,144.6 512.4,143.0 514.2,141.4 515.0,141.3 516.1,142.2 517.4,145.3 517.5,147.7 518.2,148.4 521.4,147.8 524.4,146.1 524.8,145.3 524.4,143.8 522.1,142.6 521.0,141.4 520.9,139.0 522.1,136.7 522.9,136.2 524.5,136.7 525.9,139.0 529.2,141.1 530.8,141.4 531.6,140.9 532.4,139.6 533.9,135.1 531.9,131.9 531.7,130.3 516.3,130.3 517.4,131.7 520.9,133.5 521.2,134.3 519.0,135.0 515.0,134.7 513.5,136.0 511.1,137.1 510.0,138.2 509.9,139.0 510.7,141.4 510.7,143.8 508.5,146.9 508.2,148.5 509.5,150.3 512.7,151.7ZM525.1,135.9 525.4,135.1 526.9,134.0 528.3,134.3 528.5,135.1 527.7,136.3 526.1,136.6 525.3,136.2ZM560.8,150.9 562.4,150.4 563.5,149.3 563.7,148.5 563.2,147.3 562.4,147.4 560.8,148.6 560.1,150.1 560.6,150.9ZM528.5,148.6 529.2,148.8 530.8,147.7 531.2,146.9 531.0,146.1 530.0,145.8 528.5,146.5 527.9,147.7 528.3,148.5ZM548.2,145.7 549.0,145.6 549.8,144.8 550.6,141.3 551.2,140.6 556.1,139.9 559.2,141.3 561.6,144.1 563.2,145.2 564.0,145.1 564.2,143.8 563.4,141.4 561.3,139.0 560.0,136.3 559.2,136.1 556.1,136.7 552.9,135.4 551.3,136.7 549.8,139.3 546.6,139.2 545.3,140.6 545.1,141.4 545.5,143.0 547.4,145.3ZM539.5,142.0 542.1,141.4 542.8,140.6 543.5,138.2 545.8,138.0 546.6,137.2 546.7,135.1 545.0,134.1 544.7,133.5 546.1,130.3 537.2,130.3 539.4,132.7 540.4,135.1 539.2,138.2 538.8,141.4ZM548.2,133.6 552.9,134.0 553.7,133.7 555.1,131.9 555.3,130.3 548.8,130.3 547.9,131.9 548.0,133.5ZM572.7,133.6 573.5,133.7 574.2,133.0 575.2,130.3 569.1,130.3 570.3,132.3 572.4,133.5Z" fill="#d8efea" fill-rule="evenodd"/><path d="M395.0,207.7 400.2,207.7 400.3,205.3 401.3,203.4 402.1,202.9 405.3,204.4 406.3,203.0 405.3,200.1 404.5,199.3 402.1,201.9 399.2,203.0 397.6,205.3 395.0,207.7ZM470.0,207.7 475.3,207.7 474.9,206.9 474.0,206.3 471.6,205.9 470.0,206.7 469.7,207.7ZM564.0,207.7 565.0,207.7 563.8,207.7ZM650.0,207.7 652.7,207.7 652.4,206.9 650.8,206.4 649.8,206.9 649.5,207.7ZM665.0,207.7 669.3,207.7 668.6,206.1 667.4,205.6 665.8,206.1 664.7,207.7ZM679.3,207.7 682.6,207.7 682.3,206.9 681.6,206.5 680.0,206.9 678.9,207.7ZM384.0,206.2 384.8,206.5 385.2,206.1 385.8,204.6 385.0,203.0 384.0,202.7 382.9,203.0 382.5,203.8 384.0,206.1ZM416.3,205.4 416.7,203.8 416.3,202.6 415.5,203.8 415.6,204.9 416.1,205.3ZM369.8,198.5 371.3,199.0 376.1,196.7 386.3,195.7 387.2,195.9 389.5,197.9 391.1,198.4 391.9,198.1 392.8,195.9 393.8,195.1 397.4,194.4 402.9,195.6 404.0,196.7 404.5,198.0 405.3,198.0 408.0,195.1 410.8,193.5 414.0,193.2 418.7,195.4 421.1,194.5 422.0,193.5 422.1,192.7 420.9,190.3 420.3,187.8 419.5,186.9 416.2,184.8 414.5,180.9 412.4,180.1 408.3,182.4 406.9,182.7 405.5,182.4 404.6,181.7 404.4,180.9 404.3,176.9 403.7,176.1 402.9,176.0 401.3,177.0 399.8,180.2 399.0,180.9 397.4,181.4 395.0,181.2 391.1,179.9 387.9,180.5 383.2,180.2 380.8,181.0 376.9,181.2 372.9,182.3 369.0,181.4 364.2,181.8 364.2,197.5 365.8,198.1 369.4,198.2ZM685.6,194.4 686.4,195.0 686.4,192.7 685.4,193.5 685.5,194.3ZM635.8,189.6 638.2,188.8 638.9,188.0 639.0,187.2 638.2,186.0 636.6,185.9 635.1,187.2 634.9,188.8 635.7,189.6ZM425.0,178.7 425.8,178.7 426.6,177.9 429.0,173.4 429.8,173.2 430.9,174.6 435.3,177.7 436.3,176.9 437.1,173.8 436.7,173.0 432.9,170.5 431.3,170.9 429.8,172.7 429.0,172.7 427.4,171.4 425.8,171.4 425.0,171.9 424.6,173.0 424.9,178.5ZM665.0,178.8 665.8,178.9 666.3,178.5 665.8,177.1 664.8,176.9 664.3,177.7 664.7,178.5ZM387.9,174.6 388.7,174.6 389.7,173.8 389.6,172.2 388.7,171.7 387.1,172.1 386.7,173.0 386.9,173.8 387.8,174.6ZM686.4,173.0 686.4,171.7 685.7,172.2ZM615.3,170.7 617.7,171.1 627.9,170.8 643.0,169.0 644.5,168.0 645.9,164.3 646.9,162.7 651.6,160.8 652.6,159.6 652.7,158.8 652.4,158.0 651.6,157.5 648.5,156.7 646.7,157.2 644.5,159.9 643.7,160.2 642.2,159.6 640.6,157.3 639.8,156.9 637.4,157.2 634.3,158.7 626.4,158.0 623.9,159.6 622.6,161.1 623.0,161.9 626.1,165.1 626.6,165.9 626.4,167.1 625.6,167.6 624.0,167.9 620.0,167.7 615.3,168.0 612.4,169.0 614.9,170.6ZM370.6,169.9 371.3,169.0 371.7,165.9 371.3,165.3 369.8,165.0 368.7,165.9 368.6,167.4 369.2,169.0 370.2,169.8ZM560.0,169.9 564.8,170.0 566.0,169.8 566.3,169.0 564.7,168.2 561.6,168.1 559.4,169.0 559.7,169.8ZM593.2,169.2 594.3,169.0 592.6,169.0ZM607.4,169.4 608.2,169.6 610.3,169.0 609.0,168.1 607.9,168.2 606.9,169.0ZM444.8,167.8 447.1,168.1 448.4,166.7 448.3,165.1 446.2,161.9 446.2,159.6 444.0,156.5 442.4,155.7 440.8,156.1 439.2,157.7 438.5,157.9 437.8,156.4 439.0,153.2 438.1,151.7 434.5,150.5 432.9,150.5 431.9,151.7 430.6,155.4 429.0,156.2 427.4,155.5 424.2,152.8 422.7,152.8 421.9,153.6 421.0,158.0 425.0,160.2 427.4,163.2 430.6,163.8 432.9,163.5 437.2,161.9 439.2,160.0 440.0,160.6 442.6,165.9 444.2,167.4ZM404.5,166.7 405.7,165.9 405.5,165.1 404.5,164.6 402.9,164.7 402.6,165.1 403.0,165.9 404.2,166.7ZM522.9,166.2 523.7,166.6 525.3,165.8 525.7,164.3 525.3,162.9 524.5,162.6 523.1,163.5 522.6,164.3 522.7,165.9ZM372.9,164.6 373.7,164.3 372.8,164.3ZM410.8,162.9 411.6,163.4 412.4,163.3 415.6,160.5 417.9,160.6 419.6,158.8 419.5,158.4 418.7,158.2 416.3,158.9 414.0,157.3 408.5,155.9 407.7,156.1 410.7,162.7ZM365.0,162.1 366.6,160.9 367.4,159.6 366.6,158.4 364.2,158.0 364.2,162.3ZM461.4,158.3 461.4,157.0 461.0,158.0ZM405.3,155.7 407.3,155.6 406.1,154.7 405.2,154.8 405.2,155.6ZM639.8,153.6 640.6,153.7 641.0,153.2 641.2,152.4 640.8,151.7 639.3,151.7 639.1,152.4 639.5,153.2ZM650.0,152.5 651.6,152.8 653.3,152.4 653.9,151.7 654.8,148.6 655.6,147.3 659.5,148.5 661.9,148.5 662.7,148.1 662.9,146.9 661.8,145.3 661.6,142.2 661.0,141.4 658.7,139.8 657.1,139.4 656.4,140.0 654.8,143.0 654.0,143.6 650.0,142.0 647.7,141.7 646.0,143.8 644.0,145.3 643.6,146.1 643.7,147.7 644.5,149.1 647.7,150.3 650.0,152.4ZM447.1,151.1 447.9,151.0 447.9,150.6 447.1,150.3 446.7,150.9ZM612.1,149.4 612.4,148.5 611.4,148.0 611.1,148.5 611.8,149.3ZM669.8,149.7 670.6,149.9 671.8,149.3 672.3,148.5 672.1,147.4 671.4,146.9 669.8,147.4 669.1,148.5 669.4,149.3ZM365.0,148.1 366.6,147.2 367.0,146.1 366.9,145.3 366.1,144.6 364.2,144.2 364.2,148.2ZM387.9,140.3 388.7,140.2 388.9,139.8 388.7,138.4 387.9,138.5 387.4,139.0 387.6,139.8ZM646.1,140.0 646.8,139.8 646.8,139.0 645.3,137.6 644.6,138.2 645.7,139.8ZM402.9,135.1 402.9,134.2 402.1,134.3 402.3,135.1ZM684.8,134.6 686.4,135.0 686.4,131.2 684.0,131.1 682.8,131.9 682.6,132.7 684.1,134.3ZM657.1,132.7 658.7,132.8 660.3,132.2 660.7,130.3 653.5,130.3 654.2,131.1 657.1,132.7ZM394.2,132.2 395.8,132.2 397.3,130.3 393.4,130.3 393.9,131.9ZM448.7,131.3 450.3,131.9 451.1,131.4 451.4,130.3 446.7,130.3 448.3,131.1ZM443.2,130.6 444.5,130.3 442.7,130.3ZM496.9,130.8 497.7,130.3 496.4,130.3ZM624.0,131.0 624.8,131.1 625.7,130.3 623.4,130.3Z" fill="#a3ddd3" fill-rule="evenodd"/><path d="M369.0,195.9 372.1,196.5 381.6,193.9 387.1,193.4 391.9,193.7 406.1,192.7 408.5,191.7 412.2,189.6 412.5,188.8 412.4,187.2 411.6,185.0 410.8,184.3 406.1,184.3 401.3,182.9 396.6,182.9 391.9,181.8 387.9,182.1 384.0,181.9 373.7,183.5 369.8,183.4 366.6,184.4 364.2,184.2 364.2,193.1 367.1,195.1 368.9,195.9ZM635.8,165.9 637.4,165.7 639.0,164.7 639.1,162.7 638.3,161.9 636.6,162.2 634.9,163.5 634.8,164.3 635.8,165.9ZM629.5,164.3 631.9,164.6 632.3,164.3 632.5,163.5 631.1,162.6 629.2,162.7 628.6,163.5 629.5,164.3Z" fill="#6cc0b3" fill-rule="evenodd"/><path d="M371.3,194.4 372.9,194.4 377.7,193.3 380.8,192.0 395.0,192.2 401.3,191.2 406.1,191.0 409.2,189.6 409.9,188.8 410.1,187.2 409.5,186.4 408.5,186.0 399.0,184.8 391.9,183.0 381.6,183.4 373.7,184.6 370.6,184.7 367.0,186.4 365.9,187.2 365.7,188.0 366.6,190.1 369.6,193.5 370.9,194.3Z" fill="#2f9487" fill-rule="evenodd"/><path d="M374.5,191.4 376.9,191.7 380.8,190.4 386.3,191.2 395.8,190.7 398.2,189.6 398.9,188.0 397.4,186.4 393.5,184.6 391.1,184.2 380.0,184.6 369.8,187.2 369.8,188.2 372.1,189.3 374.0,191.1Z" fill="#04685a" fill-rule="evenodd"/><path d="M384.8,189.7 387.9,190.2 391.4,189.6 393.4,188.8 394.1,188.0 394.1,187.2 392.2,185.6 388.7,185.3 383.2,186.1 380.0,186.1 377.8,187.2 377.2,188.0 377.7,188.9 381.6,188.4 384.4,189.6Z" fill="#083a2e" fill-rule="evenodd"/><path d="M376.1,190.5 382.4,191.1 389.5,190.6 394.2,189.3 396.1,188.0 396.3,187.2 395.2,185.6 393.5,184.7 389.5,183.7 384.8,183.3 375.3,184.0 372.1,185.1 370.3,186.4 370.3,188.0 371.1,188.8 375.3,190.3ZM502.4,186.4 525.3,186.7 620.0,185.1 651.6,182.7 653.3,181.7 654.6,180.1 655.4,177.7 655.5,175.3 655.0,173.0 654.1,171.4 651.6,169.6 525.3,171.9 477.9,175.6 471.6,178.4 470.7,179.3 470.0,180.9 470.7,182.4 471.6,183.3 477.9,186.1 502.2,186.4Z" fill="url(#stip)"/><path d="M365.8,131.9 L402.5,131.9 L402.1,133.5 L401.3,135.1 L399.9,137.3 L398.3,139.8 L396.1,142.0 L393.6,144.4 L390.0,145.7 L387.1,146.6 L384.1,147.4 L383.5,148.8 L382.7,147.1 L380.8,146.8 L378.1,148.0 L376.6,150.6 L377.7,153.1 L379.2,154.8 L381.3,157.2 L382.1,160.3 L381.9,162.7 L380.0,163.8 L378.0,164.6 L375.6,167.1 L375.0,167.3 L375.0,165.1 L372.9,164.3 L372.0,162.2 L370.6,161.6 L368.8,160.0 L367.9,159.7 L367.2,161.1 L366.6,164.3 L366.3,166.3 L367.9,168.2 L369.5,170.0 L371.0,171.2 L372.8,173.3 L372.8,175.3 L373.4,176.9 L374.2,178.7 L372.9,178.8 L369.5,176.4 L368.0,174.2 L367.7,172.2 L365.8,169.8 L365.8,131.9Z M381.0,150.6 L382.4,149.1 L384.3,149.3 L384.8,149.9 L383.8,151.7 L382.4,152.1 L381.1,151.7Z M399.1,144.6 L400.1,146.1 L400.6,146.1 L402.0,142.2 L402.0,141.1 L400.9,141.1 L399.3,143.3Z M365.8,176.1 L367.4,177.2 L369.0,177.6 L370.6,178.5 L372.6,179.8 L374.3,182.1 L376.1,184.8 L376.9,185.9 L376.6,190.0 L374.7,190.2 L372.9,188.3 L370.9,186.6 L369.0,184.5 L367.9,182.4 L365.8,180.9Z M375.6,183.4 L377.0,183.2 L378.1,185.4 L376.9,185.8 L375.8,184.3Z M375.6,191.6 L376.9,190.2 L380.5,190.7 L383.8,191.8 L385.6,191.3 L387.3,191.8 L390.3,193.2 L390.1,194.6 L386.3,194.0 L383.2,193.5 L380.0,193.2 L377.5,192.6 L375.8,191.8Z M387.5,191.8 L389.7,191.8 L389.5,192.2 L387.6,192.2Z M390.3,193.7 L392.0,194.0 L391.4,194.8 L390.3,194.1Z M392.7,194.0 L393.8,194.0 L393.5,194.9 L392.7,194.8Z M393.9,194.3 L396.1,193.7 L397.6,194.0 L397.4,194.6 L395.5,194.9 L394.1,194.9Z M398.7,194.3 L400.6,194.0 L403.4,193.8 L403.6,194.4 L401.3,194.8 L399.0,194.9Z M397.4,195.9 L399.0,195.7 L400.2,196.8 L399.0,197.1 L397.6,196.5Z M404.5,197.1 L406.1,195.9 L408.1,194.4 L410.5,194.1 L409.2,194.9 L406.9,196.3 L405.3,197.3Z M382.6,177.7 L381.6,180.1 L381.9,181.7 L383.2,183.7 L383.5,185.4 L385.7,186.2 L387.9,185.9 L390.3,187.0 L392.7,187.2 L393.1,185.6 L393.5,183.2 L395.0,181.7 L395.2,179.6 L397.4,179.3 L395.8,177.7 L395.3,175.7 L396.3,173.8 L397.7,172.8 L395.5,171.6 L394.2,169.8 L392.7,171.4 L391.6,173.0 L389.5,173.8 L387.9,175.8 L385.2,177.2 L383.7,178.2Z M398.0,189.7 L398.3,187.2 L397.2,185.6 L397.7,183.2 L398.7,181.2 L399.1,180.1 L400.9,179.3 L402.9,179.3 L405.3,179.6 L406.9,178.3 L406.2,180.4 L404.2,180.2 L401.3,180.2 L399.9,180.4 L399.8,182.1 L401.5,182.3 L404.3,182.3 L403.1,183.2 L401.2,184.0 L402.8,185.9 L403.4,188.0 L402.1,188.1 L401.0,186.9 L400.4,185.4 L399.6,185.6 L399.8,189.6Z M411.0,177.4 L411.6,179.3 L412.7,178.5 L411.9,179.9 L413.0,180.4 L411.6,181.2 L411.9,182.3 L411.0,181.5 L410.7,179.6Z M411.6,185.9 L414.0,185.3 L416.2,186.2 L415.6,187.0 L412.9,186.2 L411.6,186.6Z M408.5,185.9 L410.0,185.8 L410.3,186.7 L408.8,186.9Z M399.9,151.7 L402.5,151.7 L402.5,154.0 L401.5,155.9 L401.8,158.4 L405.3,159.1 L405.6,161.0 L404.2,160.3 L402.8,159.1 L400.6,159.2 L399.9,158.4 L399.0,157.5 L399.0,155.6 L399.6,155.0Z M399.5,159.6 L400.9,159.7 L401.3,161.1 L400.6,161.6 L399.6,160.5Z M405.8,161.1 L407.3,161.1 L408.0,163.3 L406.9,163.3 L405.9,162.2Z M405.8,162.7 L406.9,163.2 L407.3,164.9 L406.6,165.1 L405.8,163.8Z M402.0,162.2 L403.9,162.9 L403.4,164.1 L402.1,164.3Z M402.8,163.7 L404.0,163.7 L404.3,166.3 L403.7,166.7 L402.9,165.2Z M404.2,163.0 L404.8,163.3 L405.3,164.6 L404.5,165.7 L404.3,164.4Z M405.0,164.9 L406.1,165.1 L405.9,165.7 L405.0,165.7Z M402.1,169.8 L402.9,168.4 L404.7,168.6 L405.6,167.9 L407.5,165.6 L409.2,168.2 L408.8,170.9 L407.5,172.0 L405.6,171.1 L404.7,169.2 L402.5,170.0Z M394.6,167.8 L395.2,167.6 L397.4,165.1 L398.5,163.2 L398.0,163.0 L396.3,165.1 L394.6,167.3Z M416.3,183.1 L417.9,181.5 L421.1,182.3 L422.7,186.1 L425.8,183.2 L428.2,183.6 L431.7,184.8 L434.5,185.9 L437.7,187.0 L439.7,189.2 L442.4,190.7 L442.9,191.4 L441.9,192.7 L443.5,193.7 L445.2,195.9 L447.6,197.1 L446.0,197.3 L442.4,196.8 L440.0,193.8 L437.7,192.9 L436.1,194.0 L435.3,195.4 L432.1,195.2 L429.8,193.7 L427.4,194.1 L427.1,192.6 L428.3,191.6 L427.4,189.2 L424.2,188.1 L421.6,187.0 L419.2,187.2 L417.9,185.4 L420.0,184.7 L417.9,184.5 L416.8,183.2Z M443.7,189.7 L446.3,189.6 L448.7,188.6 L449.8,187.7 L450.0,188.8 L448.7,189.9 L446.3,190.8 L444.0,190.5Z M447.6,185.0 L449.8,186.2 L451.4,188.1 L450.8,188.4 L448.9,186.6 L447.5,185.4Z M453.6,189.2 L454.7,189.7 L455.8,191.3 L455.2,191.8 L453.9,190.7Z M461.5,195.6 L462.9,195.7 L463.4,196.3 L461.8,196.3Z M463.1,194.1 L464.0,194.6 L464.5,196.0 L463.7,195.6Z M459.9,192.7 L461.5,193.7 L461.8,194.3 L460.4,193.5Z M472.6,203.9 L473.5,204.6 L473.4,205.5 L472.6,205.0Z M405.3,206.9 L406.1,205.0 L407.7,203.8 L409.9,202.7 L411.9,204.2 L414.0,204.4 L414.5,202.2 L416.0,200.4 L417.1,200.1 L418.7,199.0 L420.3,199.7 L422.7,200.1 L425.2,199.8 L424.2,201.9 L423.5,203.8 L423.9,206.9Z M432.8,206.9 L432.9,204.6 L433.1,201.4 L433.7,199.0 L434.5,197.8 L435.6,199.7 L436.1,202.2 L437.5,203.4 L438.8,204.4 L439.1,206.9Z M414.8,198.9 L417.1,198.6 L417.0,199.5 L415.1,199.5Z M424.7,202.7 L425.7,202.7 L425.5,203.4 L424.7,203.3Z M531.8,149.0 L533.2,149.8 L532.2,151.0 L531.6,150.1Z M530.5,147.7 L531.6,148.0 L531.0,148.3Z M528.0,146.8 L528.9,147.2 L528.3,147.2Z M525.6,145.8 L526.4,146.0 L525.9,146.3Z M529.6,147.4 L530.5,147.6Z M594.0,131.9 L596.0,135.1 L597.8,136.7 L597.6,137.9 L599.8,139.8 L600.9,141.7 L602.7,143.0 L604.2,144.7 L605.2,144.1 L603.8,142.7 L602.7,140.8 L601.1,138.6 L599.8,137.0 L598.2,134.3 L597.1,131.9Z M599.2,131.9 L600.0,133.5 L602.7,136.8 L604.2,138.2 L605.5,140.4 L607.4,141.4 L609.8,144.1 L611.4,146.8 L611.7,148.5 L613.3,150.7 L614.5,152.1 L617.7,153.6 L620.2,154.3 L623.2,155.3 L625.6,156.1 L627.9,155.4 L629.5,155.6 L632.2,157.8 L633.9,158.9 L636.6,159.7 L639.8,160.3 L640.1,160.5 L640.9,161.6 L642.3,163.3 L642.6,165.1 L644.0,165.6 L645.9,167.4 L647.7,167.9 L649.7,169.0 L651.6,169.3 L651.3,167.8 L652.4,166.8 L654.5,167.8 L655.7,168.6 L654.9,169.8 L655.9,174.6 L655.3,176.6 L653.5,178.5 L651.6,179.6 L651.0,181.5 L650.2,182.6 L651.3,185.0 L651.1,186.2 L649.7,188.1 L649.9,190.0 L651.8,191.8 L653.7,194.4 L655.6,197.9 L657.3,200.8 L657.6,202.3 L658.6,204.6 L659.5,206.9 L684.8,206.9 L684.8,167.4 L682.4,167.3 L680.8,165.4 L678.8,164.1 L676.1,164.8 L672.3,164.1 L669.8,164.1 L667.1,162.6 L664.9,163.5 L664.4,164.6 L665.5,165.9 L664.3,163.5 L663.9,161.6 L662.2,163.0 L659.8,163.5 L658.6,164.4 L657.9,166.0 L655.6,167.1 L651.9,165.7 L649.3,166.7 L646.9,165.1 L645.9,163.5 L645.8,161.9 L646.1,158.8 L646.3,156.9 L643.7,155.6 L640.6,155.9 L638.2,155.9 L638.5,154.3 L639.3,152.0 L639.8,150.1 L640.9,146.9 L639.0,146.9 L635.2,147.7 L635.2,149.6 L634.3,151.3 L631.9,151.5 L628.7,152.1 L626.2,150.6 L624.0,146.1 L623.7,143.0 L624.1,139.8 L624.5,137.0 L626.4,135.7 L628.3,134.6 L630.3,133.8 L633.5,134.4 L635.5,134.9 L637.1,135.1 L636.8,133.2 L639.8,133.0 L642.9,133.8 L645.3,133.5 L647.4,136.7 L648.8,139.8 L650.2,141.1 L651.5,139.0 L650.8,136.7 L649.6,133.5 L649.6,131.9Z M643.9,146.3 L648.5,144.4 L651.6,144.4 L656.4,146.3 L660.8,149.0 L660.3,149.4 L655.3,149.6 L655.9,148.3 L653.8,146.8 L650.0,146.1 L647.2,145.2Z M660.5,149.6 L663.0,149.4 L667.4,149.8 L669.9,151.5 L669.5,152.1 L665.2,153.1 L662.8,152.1 L660.3,151.8Z M654.3,151.8 L657.5,152.1 L657.6,152.6 L655.6,152.8Z M671.8,151.7 L674.4,151.8 L674.2,152.4 L671.8,152.4Z M654.5,141.1 L655.3,141.9 L654.9,143.0 L654.1,142.0Z M653.2,138.7 L655.1,138.9 L654.8,139.0 L653.2,139.0Z M656.7,140.6 L657.6,141.9 L657.8,141.7Z M680.2,163.8 L681.6,163.8 L681.6,164.9 L680.2,164.9Z" fill="#c3c3c3" stroke="#333" stroke-width="0.55" stroke-linejoin="round"/><path d="M441.9,207.7 443.3,189.6 446.3,165.9 449.5,147.0 453.3,130.3M638.0,130.3 646.2,150.1 649.1,159.6 651.3,169.0 653.8,186.4 653.4,207.7M437.8,207.7 443.7,154.0 447.3,130.3M649.3,130.3 647.9,141.4 653.4,158.8 657.1,176.9 658.1,187.2 658.2,207.7M433.8,207.7 437.3,179.3 441.2,130.3M660.7,130.3 658.4,143.8 657.9,158.0 661.9,178.5 663.1,195.9 665.6,202.2 669.0,207.7M429.7,207.7 432.6,190.3 434.0,176.1 434.9,130.3M672.2,130.3 669.4,140.6 668.1,152.4 668.2,162.7 670.3,182.4 672.1,190.5 675.2,197.4 679.3,203.1 684.4,207.7M425.5,207.7 429.0,190.3 430.4,175.3 430.2,159.6 428.2,130.3M684.1,130.3 680.8,138.2 678.8,146.9 678.2,154.8 678.5,168.2 679.2,176.1 680.8,183.2 683.2,189.2 686.4,194.2M421.2,207.7 425.4,190.3 426.4,182.4 426.7,174.6 425.5,158.0 421.1,130.3M416.6,207.7 419.8,198.2 421.7,190.3 422.7,182.4 422.8,174.6 422.0,165.9 420.3,156.4 413.4,130.3M379.9,130.3 372.1,133.0 364.2,136.9M411.7,207.7 415.6,198.4 417.7,191.1 418.9,184.0 419.0,176.1 417.9,168.0 415.6,158.5 412.4,149.3 406.8,135.9 405.3,135.1 398.2,134.8 391.9,135.2 385.6,136.2 374.5,139.5 364.2,144.6M406.4,207.7 411.1,198.2 413.7,191.1 415.0,184.8 415.0,177.7 413.7,169.8 410.8,161.1 406.9,152.5 401.0,142.2 399.8,141.7 393.5,141.9 382.4,143.9 372.9,147.2 364.2,151.9M400.3,207.7 405.7,199.0 408.8,192.7 410.5,187.2 411.1,181.7 410.3,175.3 407.9,168.2 404.0,160.3 399.0,152.7 395.8,148.6 387.9,149.3 381.6,150.8 375.3,152.9 369.8,155.5 364.2,159.0M393.4,207.7 402.9,194.3 405.3,189.6 406.5,185.6 406.6,180.9 405.5,176.1 403.1,170.6 399.8,165.3 394.2,158.3 391.9,155.8 391.1,155.5 383.2,157.0 376.1,159.2 369.8,162.3 364.2,166.2M364.2,199.0 368.2,202.0 373.7,204.4 380.0,205.5 387.1,205.5 399.1,191.1 401.2,187.2 402.0,183.2 401.2,179.3 398.2,173.8 392.7,166.9 387.9,162.7 380.0,164.5 373.7,167.0 368.2,170.5 364.2,174.5M383.2,198.3 385.6,198.1 387.9,195.7 395.0,187.7 396.7,184.0 396.2,181.7 393.6,177.7 388.7,172.5 385.6,170.1 377.8,172.2 372.3,175.3 369.9,177.7 368.3,180.1 366.9,184.8 367.0,188.0 367.8,190.3 370.8,194.3 376.1,197.1 383.2,198.3M384.0,190.4 390.6,184.0 387.1,180.2 384.8,178.1 384.0,177.9 380.0,179.2 377.7,180.9 376.5,182.4 375.9,184.8 376.8,187.2 378.5,188.7 380.8,189.8 384.0,190.4" fill="none" stroke="#ff1f1f" stroke-width="0.9"/><path d="M527.7,183.4 526.3,182.4 528.5,181.4 531.6,181.4 534.1,182.4 531.6,183.5 527.7,183.4M538.7,190.3 533.2,189.5 523.7,189.5 518.2,188.5 513.5,186.1 512.1,184.0 512.1,182.4 512.9,180.9 514.7,179.3 520.6,176.8 526.1,175.8 533.2,175.7 541.9,174.7 548.2,175.0 553.4,176.1 557.7,178.5 559.5,180.9 559.8,183.2 559.2,184.8 557.1,187.2 554.5,188.6 547.4,190.4 538.7,190.3M542.7,196.7 533.2,195.4 518.8,195.1 513.8,194.3 509.5,193.0 505.6,191.0 502.5,188.0 501.4,184.8 501.9,181.7 503.2,179.3 506.4,176.4 509.5,174.5 514.2,172.7 522.9,170.8 533.2,170.1 545.0,168.4 554.5,168.5 562.4,170.1 568.8,173.0 572.9,176.9 574.5,180.9 574.2,184.8 572.0,188.8 568.4,191.9 563.8,194.3 557.7,196.1 550.6,196.9 542.7,196.7M541.1,202.2 533.2,201.0 522.9,201.1 514.2,200.5 507.1,199.2 502.0,197.4 496.9,194.3 493.6,190.3 492.3,185.6 493.2,180.9 495.7,176.9 499.2,173.8 504.0,170.8 509.5,168.5 520.6,165.9 533.2,164.8 541.1,163.2 548.2,162.4 560.0,162.5 570.3,164.6 575.0,166.4 579.0,168.7 582.2,171.4 584.5,174.3 585.8,176.9 586.6,180.1 586.7,183.2 585.9,186.4 582.6,191.9 577.0,196.7 569.5,200.1 560.9,202.2 551.4,202.9 541.1,202.2M540.8,207.7 533.2,206.5 521.4,206.7 510.3,205.9 501.6,204.2 494.6,201.4 489.0,197.4 486.9,195.1 485.1,191.9 484.2,188.8 484.1,185.6 484.6,182.4 485.8,179.3 489.8,173.8 496.9,168.4 504.8,164.7 515.0,161.8 523.7,160.4 533.2,159.6 545.8,157.2 554.5,156.4 567.1,157.0 578.2,159.6 583.7,161.9 587.8,164.3 591.6,167.4 594.8,171.4 596.4,174.3 597.2,178.5 597.2,183.2 596.4,188.0 594.4,191.9 591.9,195.1 585.3,200.7 576.6,204.9 565.7,207.7M492.7,207.7 487.4,205.1 482.5,201.4 479.3,197.4 477.1,192.7 476.8,185.6 477.9,180.1 481.1,174.5 486.3,169.0 491.4,165.4 496.9,162.4 503.2,159.9 510.3,157.8 521.4,155.6 533.2,154.6 547.4,151.7 560.8,150.7 568.7,151.1 575.8,152.1 582.1,153.6 588.5,155.8 596.4,160.2 599.5,164.3 601.7,168.2 603.6,173.8 604.4,179.3 604.1,185.6 602.6,191.1 600.1,196.7 596.4,202.2 587.7,207.7M479.2,207.7 475.6,204.6 474.4,202.2 473.0,193.5 473.0,184.8 474.2,177.7 476.4,170.7 483.5,164.2 489.0,160.6 495.3,157.5 502.4,154.8 509.5,152.9 521.4,150.7 533.2,149.6 549.8,146.2 564.0,145.1 572.7,145.5 580.6,146.6 588.4,148.5 595.0,150.9 596.6,151.7 601.1,155.8 606.9,163.5 609.5,169.0 611.0,174.6 611.5,180.1 611.1,185.6 609.5,191.9 607.1,197.4 603.7,203.0 599.8,207.7M471.5,207.7 469.9,201.4 469.0,194.3 469.0,188.0 469.7,180.9 471.6,172.8 474.8,164.3 479.5,160.3 485.7,156.4 492.1,153.3 500.0,150.3 507.9,148.1 520.6,145.8 533.2,144.6 551.4,140.8 567.1,139.6 582.1,140.7 589.2,142.1 596.4,144.1 601.5,147.7 605.9,151.7 609.8,155.9 612.9,160.4 615.7,165.9 617.6,172.2 618.4,177.7 618.2,184.0 617.0,190.3 615.0,195.9 611.8,202.2 607.9,207.7M467.0,207.7 465.8,201.4 465.1,194.3 465.3,187.2 466.1,180.1 467.9,172.2 470.8,163.7 473.2,158.2 475.5,156.4 481.9,152.4 489.8,148.6 497.7,145.7 506.4,143.3 519.8,140.8 533.2,139.6 543.5,137.1 552.9,135.4 561.6,134.5 570.3,134.2 583.7,135.0 596.4,137.4 603.5,141.7 609.8,146.7 615.3,152.4 619.3,158.0 622.1,163.5 624.2,169.8 625.2,176.1 625.2,182.4 624.2,188.8 622.4,195.1 619.5,201.4 615.6,207.7M462.6,207.7 461.7,201.4 461.3,194.3 461.5,187.2 462.4,180.1 465.9,165.9 469.2,157.2 471.6,152.3 477.7,148.5 484.2,145.2 492.1,142.0 500.0,139.6 515.8,136.3 533.2,134.5 552.5,130.3M592.8,130.3 596.4,131.0 601.1,133.4 607.4,137.3 612.9,141.3 617.7,145.6 621.7,150.1 623.2,152.0 625.1,156.4 627.5,163.5 629.5,171.4 630.7,179.3 631.3,187.2 630.3,191.9 628.5,197.4 623.2,207.7M458.3,207.7 457.6,200.6 457.5,192.7 459.1,177.7 463.2,161.9 466.7,152.4 469.2,147.0 480.3,140.9 492.1,136.3 506.4,132.7 521.2,130.3M607.3,130.3 615.7,135.9 623.2,142.2 627.9,151.7 631.6,161.9 633.6,169.8 634.9,177.7 635.7,185.6 635.9,194.3 635.2,198.2 630.6,207.7M454.1,207.7 453.9,191.9 455.8,175.7 459.8,159.5 466.0,142.2 470.0,139.5 477.9,135.6 492.7,130.3M618.3,130.3 624.0,134.6 627.1,139.8 632.9,152.4 637.0,165.1 639.5,178.5 640.4,191.9 640.0,203.0 637.5,207.7M450.0,207.7 450.1,193.5 451.8,177.7 454.8,162.7 459.2,146.9 462.9,136.5 475.0,130.3M626.9,130.3 631.9,139.2 636.1,148.5 639.5,158.0 642.0,167.4 643.9,178.5 644.9,189.6 645.0,195.9 644.0,207.7" fill="none" stroke="#2424ff" stroke-width="1" stroke-dasharray="5 2.4"/><path d="M371.4,139.1L369.5,137.4L371.3,136.6ZM380.4,139.2L378.8,137.3L380.7,136.8ZM389.5,139.3L388.1,137.2L390.1,136.9ZM398.5,139.3L397.5,137.0L399.5,137.0ZM405.8,137.8L407.5,136.0L408.3,137.9ZM414.9,137.6L416.9,136.0L417.4,138.0ZM424.1,137.3L426.3,136.0L426.5,138.0ZM433.3,136.9L435.7,136.0L435.6,138.0ZM442.6,136.6L445.1,136.0L444.8,137.9ZM452.0,136.3L454.5,135.9L454.0,137.9ZM462.6,134.9L464.7,136.3L463.0,137.4ZM472.1,134.8L474.1,136.4L472.3,137.3ZM481.6,134.6L483.4,136.4L481.6,137.1ZM491.2,134.5L492.8,136.4L490.9,137.0ZM500.7,134.4L502.2,136.4L500.2,136.9ZM510.2,134.4L511.6,136.4L509.6,136.8ZM519.6,134.3L520.9,136.5L519.0,136.7ZM529.1,134.3L530.3,136.5L528.3,136.7ZM538.1,134.3L539.6,136.3L537.6,136.8ZM547.6,134.3L549.0,136.4L547.0,136.8ZM557.1,134.3L558.4,136.5L556.4,136.7ZM566.7,134.4L567.7,136.7L565.7,136.7ZM576.3,134.5L577.1,136.8L575.1,136.7ZM585.8,134.5L586.5,136.9L584.5,136.7ZM595.4,134.6L595.8,137.1L593.9,136.6ZM605.5,134.9L605.1,137.3L603.4,136.3ZM615.0,135.0L614.4,137.4L612.8,136.3ZM624.4,135.1L623.7,137.5L622.2,136.2ZM634.7,135.7L633.2,137.6L632.2,135.9ZM644.1,135.8L642.5,137.7L641.6,135.9ZM652.8,137.3L650.4,137.9L650.7,136.0ZM662.2,137.4L659.7,137.9L660.1,136.0ZM671.5,137.5L669.0,137.9L669.5,135.9ZM680.8,137.6L678.3,137.8L679.0,135.9ZM371.4,147.1L369.5,145.4L371.4,144.6ZM380.5,147.2L378.8,145.3L380.7,144.7ZM389.5,147.2L388.1,145.1L390.1,144.8ZM397.9,147.1L397.5,144.6L399.4,145.1ZM405.7,145.9L407.4,144.0L408.2,145.8ZM414.8,145.6L416.7,144.0L417.3,145.9ZM424.0,145.2L426.1,143.9L426.4,145.9ZM433.2,144.8L435.5,143.9L435.5,145.9ZM442.5,144.5L444.9,143.8L444.6,145.8ZM451.9,144.2L454.3,143.8L453.8,145.7ZM461.3,143.9L463.8,143.8L463.1,145.6ZM472.0,142.7L474.0,144.2L472.3,145.2ZM481.5,142.5L483.4,144.2L481.6,145.1ZM491.0,142.4L492.8,144.2L490.9,144.9ZM500.6,142.3L502.2,144.3L500.2,144.8ZM510.1,142.2L511.5,144.3L509.6,144.7ZM519.6,142.2L520.9,144.3L518.9,144.6ZM529.1,142.2L530.3,144.4L528.3,144.5ZM538.1,142.2L539.6,144.2L537.6,144.7ZM547.6,142.2L549.0,144.3L547.0,144.7ZM557.2,142.3L558.4,144.5L556.4,144.6ZM566.8,142.3L567.8,144.7L565.8,144.6ZM576.4,142.4L577.1,144.8L575.1,144.6ZM586.0,142.5L586.5,145.0L584.5,144.5ZM595.5,142.6L595.8,145.1L593.9,144.5ZM605.7,142.9L605.1,145.4L603.5,144.1ZM615.1,143.1L614.3,145.5L612.9,144.1ZM625.0,143.4L623.7,145.5L622.5,143.9ZM634.8,143.7L633.2,145.6L632.3,143.7ZM644.2,143.8L642.5,145.6L641.7,143.8ZM652.9,145.0L650.5,145.9L650.6,143.9ZM662.2,145.1L659.8,145.9L660.0,143.9ZM671.6,145.2L669.2,145.8L669.4,143.9ZM680.9,145.3L678.5,145.8L678.8,143.9ZM371.5,155.0L369.6,153.4L371.4,152.5ZM380.5,155.1L378.8,153.2L380.7,152.6ZM389.5,155.2L388.1,153.0L390.1,152.7ZM396.6,154.2L397.9,152.0L399.1,153.6ZM405.6,153.9L407.3,152.0L408.1,153.7ZM414.7,153.5L416.6,151.9L417.2,153.8ZM423.8,153.1L426.0,151.9L426.2,153.8ZM433.0,152.7L435.4,151.8L435.3,153.8ZM442.3,152.4L444.8,151.7L444.5,153.7ZM451.7,152.1L454.2,151.7L453.7,153.6ZM461.1,151.8L463.6,151.6L462.9,153.5ZM471.8,150.7L473.9,152.0L472.3,153.1ZM481.3,150.5L483.3,152.0L481.6,153.0ZM490.9,150.3L492.7,152.1L490.9,152.8ZM500.5,150.2L502.1,152.1L500.2,152.7ZM510.0,150.1L511.5,152.1L509.6,152.6ZM519.6,150.1L520.9,152.2L518.9,152.5ZM529.1,150.1L530.3,152.3L528.3,152.4ZM538.1,150.1L539.6,152.2L537.6,152.6ZM547.7,150.2L549.0,152.3L547.0,152.6ZM557.3,150.2L558.4,152.5L556.4,152.5ZM567.0,150.3L567.8,152.7L565.8,152.5ZM576.6,150.4L577.1,152.9L575.1,152.5ZM586.2,150.6L586.4,153.0L584.5,152.4ZM595.7,150.7L595.7,153.2L593.9,152.4ZM605.9,151.1L605.0,153.4L603.5,152.0ZM615.3,151.2L614.2,153.5L612.9,152.0ZM625.2,151.5L623.6,153.5L622.7,151.8ZM634.9,151.7L633.1,153.5L632.4,151.6ZM644.3,151.8L642.5,153.5L641.8,151.7ZM653.7,151.9L651.8,153.6L651.2,151.7ZM662.2,152.9L659.9,153.8L660.0,151.8ZM671.6,152.9L669.3,153.8L669.3,151.8ZM680.9,152.9L678.6,153.8L678.7,151.8ZM371.6,162.9L369.6,161.4L371.4,160.4ZM380.5,163.0L378.8,161.1L380.7,160.5ZM389.1,163.0L388.1,160.8L390.1,160.7ZM396.6,162.1L397.8,159.9L399.0,161.5ZM405.5,161.8L407.2,159.9L408.0,161.7ZM414.5,161.4L416.5,159.8L417.0,161.8ZM423.6,161.0L425.8,159.8L426.0,161.8ZM432.9,160.6L435.2,159.7L435.1,161.7ZM442.2,160.3L444.6,159.6L444.3,161.6ZM451.6,160.0L454.0,159.5L453.6,161.5ZM461.0,159.7L463.5,159.5L462.8,161.4ZM470.5,159.4L473.0,159.5L472.1,161.3ZM481.1,158.5L483.3,159.9L481.6,161.0ZM490.7,158.3L492.7,159.9L490.9,160.8ZM500.4,158.2L502.1,160.0L500.2,160.7ZM510.0,158.1L511.5,160.0L509.6,160.5ZM519.6,158.0L520.9,160.1L518.9,160.4ZM529.2,158.0L530.3,160.2L528.3,160.4ZM538.2,158.1L539.6,160.1L537.6,160.5ZM547.8,158.1L549.0,160.3L547.0,160.5ZM557.5,158.2L558.4,160.6L556.4,160.5ZM567.2,158.3L567.7,160.8L565.8,160.4ZM576.8,158.5L577.1,161.0L575.1,160.4ZM586.4,158.7L586.3,161.2L584.5,160.3ZM596.0,158.9L595.6,161.4L593.9,160.2ZM606.1,159.3L604.8,161.5L603.6,159.8ZM615.5,159.5L614.1,161.5L613.0,159.8ZM625.0,159.7L623.4,161.6L622.5,159.8ZM635.0,159.8L633.1,161.5L632.5,159.6ZM644.4,159.9L642.4,161.5L641.9,159.6ZM653.7,160.0L651.8,161.5L651.3,159.6ZM662.2,160.6L660.0,161.7L659.9,159.7ZM671.6,160.6L669.4,161.7L669.2,159.7ZM680.9,160.5L678.7,161.7L678.6,159.7ZM371.7,170.7L369.7,169.3L371.3,168.2ZM380.4,170.9L378.8,169.0L380.7,168.4ZM387.5,170.3L388.3,167.9L389.8,169.3ZM396.5,170.0L397.7,167.9L398.9,169.5ZM405.4,169.6L407.1,167.8L407.9,169.7ZM414.3,169.2L416.4,167.7L416.8,169.7ZM423.4,168.8L425.7,167.6L425.8,169.6ZM432.7,168.4L435.1,167.6L435.0,169.6ZM442.0,168.2L444.5,167.5L444.2,169.5ZM451.4,167.9L453.9,167.4L453.5,169.4ZM460.8,167.7L463.3,167.4L462.8,169.3ZM470.3,167.5L472.8,167.4L472.1,169.2ZM480.9,166.7L483.2,167.7L481.7,169.1ZM490.5,166.5L492.6,167.8L491.0,168.9ZM500.2,166.2L502.1,167.9L500.3,168.7ZM509.8,166.1L511.5,168.0L509.6,168.6ZM519.5,166.0L520.9,168.1L519.0,168.4ZM529.2,165.9L530.3,168.2L528.3,168.3ZM538.3,166.0L539.6,168.1L537.7,168.5ZM548.0,166.1L549.0,168.4L547.0,168.5ZM557.8,166.3L558.4,168.7L556.4,168.4ZM567.5,166.5L567.7,169.0L565.8,168.4ZM577.2,166.8L576.9,169.3L575.1,168.2ZM586.8,167.0L586.1,169.4L584.5,168.1ZM596.4,167.3L595.3,169.5L594.0,168.0ZM606.3,167.7L604.6,169.5L603.8,167.7ZM615.7,167.8L613.9,169.5L613.2,167.6ZM625.1,168.0L623.2,169.6L622.6,167.6ZM635.1,167.9L633.0,169.4L632.6,167.5ZM644.4,168.0L642.4,169.4L642.0,167.5ZM653.8,168.0L651.7,169.5L651.3,167.5ZM663.1,168.0L661.0,169.5L660.7,167.5ZM671.6,168.3L669.4,169.6L669.1,167.7ZM681.0,168.5L678.8,169.6L678.7,167.6ZM372.1,178.2L369.7,177.2L371.2,175.8ZM380.5,178.6L378.8,176.8L380.7,176.1ZM387.4,178.2L388.3,175.9L389.8,177.3ZM396.3,177.9L397.7,175.8L398.8,177.5ZM405.1,177.2L407.1,175.7L407.6,177.6ZM414.1,176.8L416.3,175.6L416.5,177.6ZM423.3,176.5L425.6,175.5L425.6,177.5ZM432.6,176.2L435.0,175.4L434.8,177.4ZM441.9,176.1L444.3,175.4L444.1,177.4ZM451.3,175.9L453.8,175.3L453.4,177.3ZM460.7,175.8L463.2,175.3L462.8,177.3ZM470.1,175.7L472.6,175.3L472.1,177.2ZM480.6,175.2L483.1,175.6L482.0,177.3ZM490.1,175.0L492.5,175.7L491.2,177.2ZM499.8,174.7L502.0,175.8L500.5,177.1ZM509.5,174.4L511.5,175.9L509.7,176.9ZM519.4,174.1L520.9,176.0L519.0,176.5ZM529.3,173.9L530.3,176.2L528.3,176.3ZM538.5,174.1L539.7,176.3L537.7,176.4ZM548.4,174.4L549.0,176.8L547.0,176.5ZM558.3,174.7L558.1,177.2L556.4,176.3ZM568.1,175.1L567.2,177.5L565.8,176.1ZM577.7,175.4L576.4,177.5L575.2,175.9ZM587.2,175.7L585.5,177.6L584.7,175.7ZM596.7,175.9L594.8,177.6L594.2,175.7ZM606.4,176.1L604.3,177.5L604.0,175.5ZM615.8,176.2L613.6,177.5L613.4,175.5ZM625.2,176.3L623.0,177.5L622.8,175.5ZM635.1,176.1L633.0,177.4L632.7,175.4ZM644.4,176.1L642.3,177.4L642.0,175.4ZM653.8,176.1L651.7,177.4L651.4,175.4ZM663.1,176.0L661.0,177.4L660.7,175.4ZM671.7,176.3L669.4,177.5L669.3,175.5ZM680.9,176.2L678.8,177.5L678.5,175.6ZM372.5,184.7L370.1,185.4L370.4,183.4ZM381.6,184.6L379.2,185.3L379.4,183.4ZM387.2,184.3L389.6,183.4L389.5,185.4ZM395.8,184.2L398.2,183.4L398.1,185.4ZM404.9,184.2L407.3,183.4L407.1,185.4ZM414.0,184.1L416.4,183.3L416.2,185.3ZM423.2,184.1L425.6,183.3L425.4,185.3ZM432.5,184.0L434.9,183.3L434.7,185.3ZM441.9,184.0L444.3,183.3L444.1,185.3ZM451.3,184.0L453.7,183.3L453.4,185.3ZM460.7,184.0L463.1,183.3L462.9,185.3ZM470.1,184.1L472.5,183.3L472.3,185.3ZM480.4,184.0L482.8,183.4L482.5,185.4ZM489.8,184.1L492.2,183.4L492.0,185.4ZM499.3,184.3L501.6,183.4L501.5,185.4ZM508.8,184.7L510.9,183.4L511.2,185.3ZM518.6,185.6L519.6,183.4L521.0,184.9ZM529.3,186.9L528.3,184.5L530.3,184.6ZM539.2,186.2L537.6,184.2L539.5,183.7ZM549.3,185.5L546.9,184.8L548.2,183.2ZM559.0,185.0L556.5,185.1L557.2,183.3ZM568.5,184.8L566.0,185.2L566.5,183.3ZM577.9,184.8L575.5,185.3L575.9,183.3ZM587.3,184.7L584.9,185.3L585.3,183.4ZM596.7,184.7L594.3,185.3L594.6,183.4ZM606.5,184.7L604.1,185.4L604.3,183.4ZM615.8,184.7L613.4,185.4L613.6,183.4ZM625.2,184.7L622.8,185.4L623.0,183.4ZM635.1,184.2L632.9,185.4L632.7,183.4ZM644.4,184.2L642.2,185.3L642.1,183.4ZM653.8,184.1L651.6,185.3L651.4,183.3ZM663.2,184.2L661.0,185.4L660.9,183.4ZM671.6,184.0L669.5,185.4L669.2,183.5ZM680.9,183.8L678.9,185.4L678.4,183.5ZM372.0,190.9L370.9,193.2L369.6,191.6ZM380.3,190.2L380.7,192.7L378.7,192.2ZM387.3,190.6L389.7,191.5L388.3,192.9ZM396.3,190.7L398.7,191.3L397.6,192.9ZM405.1,191.2L407.6,191.1L406.8,193.0ZM414.1,191.5L416.6,191.1L416.1,193.1ZM423.3,191.7L425.7,191.1L425.4,193.1ZM432.6,191.9L435.0,191.2L434.7,193.2ZM441.9,192.0L444.3,191.2L444.1,193.2ZM451.3,192.1L453.7,191.2L453.6,193.2ZM460.7,192.3L463.0,191.3L463.0,193.3ZM470.2,192.5L472.4,191.3L472.5,193.3ZM480.5,193.0L482.4,191.3L483.0,193.2ZM490.1,193.5L491.5,191.4L492.6,193.1ZM499.9,194.0L500.6,191.6L502.1,192.8ZM509.8,194.4L509.7,191.9L511.6,192.7ZM519.7,194.7L519.0,192.3L521.0,192.6ZM529.4,194.8L528.4,192.5L530.4,192.5ZM538.4,194.8L537.7,192.4L539.7,192.6ZM548.2,194.6L547.1,192.4L549.0,192.2ZM558.1,194.4L556.4,192.5L558.3,191.9ZM567.9,194.1L565.8,192.6L567.5,191.6ZM577.5,193.8L575.2,192.8L576.7,191.4ZM587.0,193.6L584.6,192.9L585.9,191.4ZM596.5,193.4L594.1,193.0L595.1,191.3ZM606.4,193.1L603.9,193.3L604.6,191.4ZM615.8,193.0L613.3,193.3L613.9,191.4ZM625.1,193.0L622.6,193.3L623.2,191.4ZM634.5,192.9L632.0,193.3L632.5,191.4ZM644.4,192.2L642.1,193.3L642.1,191.3ZM653.8,192.3L651.5,193.3L651.6,191.3ZM663.2,192.2L660.9,193.3L660.8,191.3ZM671.5,191.7L669.6,193.3L669.0,191.4ZM680.7,191.4L679.1,193.3L678.2,191.6ZM371.4,198.2L371.2,200.7L369.5,199.8ZM380.0,198.0L380.7,200.4L378.8,200.1ZM387.3,198.5L389.6,199.3L388.3,200.8ZM396.3,198.6L398.8,199.2L397.6,200.8ZM405.3,198.9L407.8,199.1L406.8,200.8ZM414.3,199.2L416.8,199.0L416.1,200.9ZM423.4,199.5L425.8,199.0L425.4,201.0ZM432.7,199.8L435.1,199.1L434.8,201.1ZM442.0,200.0L444.4,199.2L444.3,201.2ZM451.4,200.3L453.7,199.2L453.7,201.2ZM460.8,200.5L463.0,199.3L463.2,201.3ZM470.3,200.8L472.4,199.4L472.8,201.3ZM480.9,201.7L481.9,199.4L483.3,200.9ZM490.7,202.1L491.1,199.6L492.8,200.8ZM500.4,202.4L500.3,199.9L502.2,200.6ZM510.2,202.6L509.6,200.2L511.6,200.6ZM519.8,202.7L519.0,200.4L521.0,200.5ZM529.4,202.8L528.4,200.5L530.4,200.4ZM538.3,202.8L537.7,200.3L539.7,200.6ZM548.0,202.7L547.0,200.4L549.0,200.4ZM557.7,202.6L556.4,200.4L558.4,200.2ZM567.4,202.4L565.8,200.5L567.7,199.9ZM577.1,202.2L575.2,200.6L577.0,199.7ZM586.7,202.0L584.6,200.7L586.2,199.6ZM596.2,201.8L594.0,200.8L595.5,199.5ZM606.2,201.5L603.7,201.1L604.8,199.4ZM615.6,201.3L613.1,201.1L614.1,199.4ZM625.0,201.2L622.5,201.1L623.4,199.3ZM634.4,201.1L631.9,201.2L632.7,199.3ZM644.5,200.5L642.1,201.3L642.3,199.3ZM653.8,200.3L651.4,201.2L651.5,199.2ZM663.1,200.2L660.8,201.2L660.8,199.2ZM671.3,199.3L669.8,201.2L668.8,199.5ZM680.5,199.0L679.3,201.2L678.1,199.6Z" fill="#222" stroke="none"/><path d="M369.4,134.9L370.8,137.9M379.1,134.8L380.0,137.9M388.7,134.7L389.3,137.9M398.4,134.7L398.5,138.0M409.8,136.2L407.0,137.3M419.4,136.4L416.2,137.2M428.9,136.7L425.5,137.1M438.4,137.1L434.7,137.0M447.8,137.4L444.0,136.8M457.1,137.7L453.3,136.7M465.2,139.1L463.3,136.1M474.4,139.2L472.8,136.0M483.6,139.4L482.2,135.9M492.7,139.5L491.6,135.8M501.9,139.6L501.0,135.8M511.1,139.6L510.4,135.7M520.4,139.7L519.8,135.7M529.6,139.7L529.2,135.7M539.3,139.7L538.4,135.7M548.5,139.7L547.8,135.7M557.7,139.7L557.3,135.7M566.8,139.6L566.7,135.8M575.9,139.5L576.2,135.8M585.1,139.5L585.6,135.9M594.2,139.4L595.0,136.0M602.8,139.1L604.8,136.0M612.0,139.0L614.2,136.1M621.3,138.9L623.6,136.2M629.7,138.3L633.5,136.3M639.0,138.2L642.9,136.4M649.0,136.7L651.5,137.1M658.3,136.6L660.8,137.1M667.7,136.5L670.2,137.1M677.1,136.4L679.5,137.2M369.4,142.7L370.8,145.8M379.0,142.6L380.0,145.9M388.7,142.6L389.3,145.9M399.0,142.7L398.2,145.7M409.9,143.9L407.0,145.3M419.5,144.2L416.1,145.2M429.0,144.6L425.3,145.0M438.5,145.0L434.6,144.9M447.9,145.3L443.9,144.7M457.2,145.6L453.2,144.5M466.5,145.9L462.6,144.4M474.5,147.1L472.7,143.9M483.7,147.3L482.1,143.8M492.9,147.4L491.5,143.7M502.0,147.5L500.9,143.6M511.2,147.6L510.4,143.6M520.4,147.6L519.8,143.6M529.6,147.6L529.2,143.6M539.3,147.6L538.4,143.6M548.5,147.6L547.8,143.6M557.6,147.5L557.3,143.6M566.7,147.5L566.8,143.7M575.8,147.4L576.2,143.8M584.9,147.3L585.7,143.9M594.1,147.2L595.1,143.9M602.6,146.9L604.8,144.0M611.9,146.7L614.2,144.1M620.7,146.4L623.9,144.2M629.6,146.1L633.6,144.3M638.9,146.0L642.9,144.3M648.9,144.8L651.5,144.9M658.3,144.7L660.8,145.0M667.6,144.6L670.2,145.0M677.0,144.5L679.6,145.0M369.3,150.6L370.9,153.8M379.0,150.5L380.1,153.8M388.7,150.4L389.3,153.8M400.3,151.4L397.7,153.3M410.0,151.7L406.9,153.3M419.6,152.1L416.0,153.1M429.2,152.5L425.2,153.0M438.7,152.9L434.4,152.8M448.1,153.2L443.7,152.6M457.4,153.5L453.1,152.4M466.7,153.8L462.4,152.2M474.7,154.9L472.6,151.8M483.9,155.1L482.0,151.7M493.0,155.3L491.4,151.6M502.1,155.4L500.9,151.5M511.3,155.5L510.3,151.5M520.4,155.5L519.8,151.4M529.6,155.5L529.2,151.5M539.3,155.5L538.4,151.5M548.4,155.4L547.9,151.5M557.5,155.4L557.4,151.6M566.5,155.3L566.8,151.7M575.6,155.2L576.3,151.8M584.7,155.0L585.7,151.9M593.9,154.9L595.2,152.0M602.4,154.5L604.9,152.0M611.7,154.4L614.3,152.1M620.5,154.1L623.9,152.2M629.5,153.9L633.6,152.2M638.8,153.8L643.0,152.3M648.1,153.7L652.4,152.3M658.3,152.7L660.9,152.8M667.6,152.7L670.2,152.8M677.0,152.7L679.6,152.8M369.2,158.5L370.9,161.7M379.0,158.4L380.1,161.7M389.1,158.4L389.1,161.7M400.3,159.3L397.7,161.3M410.1,159.6L406.8,161.2M419.8,160.0L415.8,161.0M429.4,160.4L425.0,160.8M438.8,160.8L434.2,160.6M448.2,161.1L443.6,160.5M457.5,161.4L452.9,160.3M466.8,161.7L462.3,160.1M476.0,162.0L471.7,160.0M484.1,162.9L481.9,159.7M493.2,163.1L491.4,159.5M502.2,163.2L500.8,159.5M511.3,163.3L510.3,159.4M520.4,163.4L519.8,159.4M529.5,163.4L529.3,159.4M539.2,163.3L538.4,159.4M548.3,163.3L547.9,159.5M557.3,163.2L557.4,159.6M566.3,163.1L566.9,159.7M575.4,162.9L576.4,159.8M584.5,162.7L585.8,159.9M593.6,162.5L595.2,160.0M602.2,162.1L605.0,160.1M611.5,161.9L614.3,160.2M620.7,161.7L623.8,160.3M629.4,161.6L633.7,160.2M638.7,161.5L643.0,160.3M648.1,161.4L652.4,160.3M658.3,160.8L660.9,160.7M667.6,160.8L670.2,160.7M677.0,160.9L679.6,160.7M369.1,166.5L371.0,169.5M379.1,166.3L380.0,169.6M390.7,166.9L388.5,169.3M400.4,167.2L397.6,169.2M410.2,167.6L406.6,169.1M420.0,168.0L415.7,168.9M429.6,168.4L424.8,168.7M439.0,168.8L434.1,168.5M448.4,169.0L443.4,168.3M457.7,169.3L452.8,168.2M467.0,169.5L462.2,168.1M476.2,169.7L471.6,168.0M484.3,170.5L481.8,167.7M493.4,170.7L491.3,167.6M502.4,171.0L500.8,167.5M511.5,171.1L510.3,167.4M520.5,171.2L519.8,167.3M529.5,171.3L529.3,167.3M539.1,171.2L538.5,167.4M548.1,171.1L548.0,167.5M557.0,170.9L557.5,167.7M566.0,170.7L567.0,167.8M575.0,170.4L576.5,168.0M584.1,170.2L585.9,168.1M593.2,169.9L595.3,168.2M602.0,169.5L605.0,168.2M611.3,169.4L614.4,168.3M620.6,169.2L623.8,168.3M629.3,169.3L633.7,168.2M638.7,169.2L643.1,168.3M648.0,169.2L652.4,168.3M657.4,169.2L661.8,168.3M667.6,168.9L670.2,168.5M676.9,168.7L679.6,168.6M368.7,174.8L371.1,177.2M379.0,174.4L380.1,177.3M390.8,174.8L388.4,177.2M400.6,175.1L397.5,177.1M410.5,175.8L406.4,176.9M420.2,176.2L415.5,176.6M429.7,176.5L424.7,176.5M439.1,176.8L434.0,176.3M448.5,176.9L443.3,176.3M457.8,177.1L452.7,176.2M467.1,177.2L462.1,176.1M476.4,177.3L471.5,176.0M484.6,177.8L481.7,175.9M493.8,178.0L491.2,175.9M502.8,178.3L500.7,175.7M511.8,178.6L510.2,175.6M520.6,178.9L519.7,175.4M529.4,179.1L529.3,175.3M538.9,178.9L538.6,175.5M547.7,178.6L548.2,175.7M556.5,178.3L557.7,176.0M565.4,177.9L567.1,176.1M574.5,177.6L576.5,176.2M583.7,177.3L586.0,176.3M592.9,177.1L595.4,176.3M601.9,176.9L605.1,176.4M611.2,176.8L614.4,176.4M620.5,176.7L623.8,176.4M629.3,176.9L633.7,176.3M638.7,176.9L643.1,176.3M648.0,176.9L652.4,176.3M657.4,177.0L661.7,176.3M667.5,176.7L670.3,176.4M677.0,176.8L679.6,176.4M368.3,184.1L371.1,184.5M377.9,184.2L380.2,184.4M391.0,184.5L388.6,184.4M401.1,184.6L397.2,184.3M410.7,184.6L406.3,184.3M420.3,184.7L415.4,184.2M429.8,184.7L424.6,184.2M439.2,184.8L433.9,184.2M448.5,184.8L443.3,184.2M457.8,184.8L452.6,184.2M467.1,184.8L462.1,184.2M476.4,184.7L471.5,184.2M484.8,184.8L481.7,184.3M494.1,184.7L491.2,184.3M503.3,184.5L500.6,184.4M512.5,184.1L510.1,184.5M521.4,183.2L519.6,184.7M529.4,181.9L529.3,185.5M538.2,182.6L538.8,184.8M546.8,183.3L548.3,184.6M555.8,183.8L557.7,184.5M565.0,184.0L567.2,184.5M574.3,184.0L576.6,184.5M583.6,184.1L586.0,184.5M592.9,184.1L595.4,184.5M601.8,184.1L605.1,184.5M611.2,184.1L614.5,184.5M620.5,184.1L623.8,184.5M629.3,184.6L633.7,184.3M638.7,184.6L643.1,184.3M648.0,184.7L652.4,184.3M657.3,184.6L661.8,184.3M667.6,184.8L670.2,184.3M677.0,185.0L679.5,184.2M368.8,193.7L371.0,191.8M379.2,194.4L379.9,191.6M390.9,194.0L388.3,191.5M400.6,193.9L397.4,191.5M410.5,193.4L406.4,191.7M420.2,193.1L415.4,191.9M429.7,192.9L424.6,192.0M439.1,192.7L433.9,192.1M448.5,192.6L443.3,192.1M457.8,192.5L452.7,192.2M467.1,192.3L462.1,192.3M476.3,192.1L471.5,192.4M484.7,191.6L481.8,192.6M493.8,191.1L491.3,192.7M502.7,190.6L500.8,192.9M511.5,190.2L510.3,193.1M520.3,189.9L519.9,193.4M529.3,189.8L529.4,193.4M539.0,189.8L538.6,193.4M547.9,190.0L548.1,193.2M556.7,190.2L557.6,193.0M565.6,190.5L567.1,192.9M574.7,190.8L576.6,192.8M583.9,191.0L586.0,192.7M593.1,191.2L595.4,192.7M601.9,191.5L605.1,192.6M611.2,191.6L614.4,192.6M620.6,191.6L623.8,192.6M629.9,191.7L633.2,192.6M638.7,192.4L643.0,192.3M648.0,192.3L652.5,192.3M657.3,192.4L661.8,192.3M667.7,192.9L670.2,192.1M677.2,193.2L679.5,192.0M369.4,202.2L370.8,199.5M379.5,202.4L379.9,199.3M390.9,201.9L388.3,199.5M400.6,201.8L397.4,199.5M410.3,201.5L406.5,199.5M420.0,201.2L415.6,199.7M429.6,200.9L424.7,199.8M439.0,200.6L434.0,200.0M448.4,200.4L443.4,200.1M457.7,200.1L452.8,200.2M467.0,199.9L462.2,200.4M476.2,199.6L471.7,200.5M484.3,198.7L481.9,200.8M493.2,198.3L491.4,201.0M502.2,198.0L500.9,201.1M511.1,197.8L510.4,201.3M520.2,197.7L519.9,201.4M529.3,197.6L529.4,201.4M539.1,197.6L538.5,201.4M548.1,197.7L548.0,201.3M557.1,197.8L557.5,201.2M566.1,198.0L567.0,201.1M575.1,198.2L576.5,201.0M584.2,198.4L585.9,200.9M593.4,198.6L595.3,200.8M602.1,198.9L605.0,200.7M611.4,199.1L614.4,200.7M620.7,199.2L623.8,200.6M630.0,199.3L633.1,200.6M638.6,199.9L643.1,200.3M648.0,200.1L652.4,200.3M657.4,200.2L661.7,200.2M667.9,201.1L670.1,199.9M677.4,201.4L679.4,199.9" fill="none" stroke="#222" stroke-width="0.7"/></g><g clip-path="url(#c12)"><rect x="367.4" y="253.5" width="315.80" height="71.05" fill="#5a3208"/><path d="M365.0,327.7 686.4,327.7 686.4,250.3 364.2,250.3 364.2,327.7ZM475.3,297.7 472.8,296.1 472.8,295.3 474.0,294.6 475.6,292.6 477.9,293.8 478.9,295.3 478.8,296.1 478.0,296.9 475.6,297.8ZM469.8,293.8 469.2,292.2 469.3,291.4 470.0,291.1 470.5,291.4 470.8,293.8 470.0,294.1ZM637.1,292.2 634.9,291.4 638.2,291.1 641.4,289.7 644.5,291.7 646.0,292.2 637.4,292.2ZM647.3,292.2 648.5,292.2 647.7,292.2ZM619.5,291.4 613.3,290.6 612.9,290.0 612.3,290.6 610.6,290.9 606.6,290.2 605.3,289.8 603.5,288.2 602.7,288.5 601.1,290.2 600.3,290.3 597.9,289.4 595.6,290.0 594.0,289.5 593.4,289.0 593.3,288.2 594.6,284.3 595.6,283.4 597.2,283.5 598.7,285.6 599.5,285.7 601.1,283.7 601.9,283.4 605.8,283.9 609.0,283.7 610.5,284.3 611.0,287.4 612.1,289.3 612.9,289.8 613.7,289.1 613.9,288.2 613.2,285.9 614.5,284.7 616.1,284.4 624.8,287.5 627.9,287.2 629.5,288.9 634.5,290.6 633.8,291.4 631.1,291.7 628.7,289.9 627.9,289.9 624.8,291.5 621.6,291.8 620.0,291.5ZM577.6,290.6 577.0,289.8 577.3,289.0 579.0,287.9 582.1,287.2 584.1,288.2 580.6,290.7 578.2,290.8ZM585.8,290.6 584.3,289.0 584.8,288.2 587.3,287.4 586.4,285.9 586.3,284.3 587.7,282.7 588.5,282.3 590.0,282.5 590.6,283.5 590.5,284.3 589.2,286.6 588.4,287.4 588.4,288.2 589.3,289.0 589.5,289.8 588.5,290.7 586.1,290.7ZM444.4,289.8 443.8,289.0 443.7,287.4 444.0,286.4 444.8,286.2 446.3,287.4 448.7,287.9 449.6,289.0 449.1,289.8 447.9,290.4 444.8,290.0ZM569.4,285.1 568.0,284.3 567.5,283.5 568.0,282.7 569.2,281.9 570.3,281.7 572.4,282.7 572.7,283.5 572.2,284.3 570.9,285.1 569.5,285.1ZM438.1,284.3 436.9,282.7 435.4,281.9 436.4,281.1 438.6,281.1 439.2,282.7 438.9,284.3 438.5,284.7Z" fill="#8d5210" fill-rule="evenodd"/><path d="M365.0,327.7 686.4,327.7 686.4,250.3 364.2,250.3 364.2,327.7ZM395.1,315.9 395.3,315.1 396.6,314.4 398.2,315.1 397.4,315.9 395.8,316.2ZM474.8,298.5 470.8,296.4 467.7,293.2 466.1,293.1 464.5,294.1 462.9,294.3 460.6,292.3 458.6,291.4 458.3,290.6 459.8,290.1 463.7,291.6 466.9,289.9 469.2,289.4 474.0,289.2 474.8,289.5 479.0,293.8 480.2,295.3 479.7,296.9 476.4,298.8 475.6,298.9ZM450.2,293.8 448.7,291.9 444.0,291.0 442.5,289.8 442.0,288.2 441.8,285.9 443.2,284.1 444.0,283.6 445.6,283.7 448.7,285.9 452.7,287.0 454.2,288.2 454.6,289.8 453.3,291.4 452.7,294.0 451.9,294.5 450.3,293.8ZM620.0,292.2 612.9,291.5 609.8,291.7 603.5,290.1 601.1,291.3 597.9,290.5 595.6,290.8 592.4,290.2 590.0,291.5 587.7,291.6 586.1,291.5 583.7,290.2 582.9,290.1 580.6,291.4 579.0,291.6 575.8,290.7 575.2,289.8 575.3,289.0 576.6,287.8 581.7,285.9 582.1,285.1 581.9,283.5 582.6,282.7 585.3,282.7 589.2,281.4 590.8,281.8 591.8,282.7 592.0,283.5 590.6,286.7 590.8,287.5 591.6,288.0 592.4,287.5 592.8,286.7 593.6,283.5 595.3,282.7 597.1,282.6 599.5,283.2 601.9,282.7 606.6,283.4 609.8,283.0 610.9,283.5 612.1,284.8 616.1,284.0 620.8,285.1 624.0,286.3 627.9,285.8 628.7,286.2 630.4,288.2 634.3,289.6 638.2,290.3 641.4,289.1 644.5,291.0 648.5,291.0 649.3,291.4 649.9,292.2 649.3,292.6 645.3,292.9 637.4,292.6 634.3,292.0 631.1,292.3 627.9,291.0 624.8,292.2 620.0,292.2ZM574.1,287.4 572.7,286.0 564.8,285.2 561.5,284.3 560.8,283.5 563.2,282.3 566.4,282.3 569.5,280.9 573.5,281.6 575.8,281.4 576.7,281.9 576.7,282.7 574.5,285.1 574.2,287.6ZM436.0,286.7 434.8,284.3 431.7,283.5 434.5,280.3 436.1,279.8 439.2,280.0 440.1,281.1 441.0,285.1 440.9,285.9 440.3,286.7 438.5,287.3 436.9,287.4 436.1,286.7ZM426.4,284.3 426.4,282.7 427.4,282.2 429.6,283.5 429.1,284.3 428.2,284.7 426.6,284.5ZM550.8,283.5 550.4,282.7 551.4,281.2 552.9,280.8 554.0,281.1 554.6,281.9 554.5,282.7 553.9,283.5 551.4,283.8ZM472.4,293.1 473.2,293.4 473.4,293.0 473.2,292.7 472.4,293.0Z" fill="#b47426" fill-rule="evenodd"/><path d="M365.0,327.7 686.4,327.7 686.4,250.3 364.2,250.3 364.2,327.7ZM394.3,316.7 393.4,315.9 393.8,315.1 396.6,313.4 400.6,313.9 402.1,315.1 401.6,315.9 396.6,317.1 395.0,316.9ZM474.5,299.3 473.2,298.3 470.8,297.5 467.7,294.8 466.9,294.6 462.9,296.7 460.6,296.7 459.0,297.6 458.2,297.5 456.7,295.3 456.4,294.6 456.6,293.0 455.8,292.1 455.0,292.2 454.4,294.6 453.5,295.3 452.7,295.6 451.1,295.4 447.9,293.0 444.0,292.3 440.8,290.2 437.7,289.8 435.9,289.0 435.0,288.2 433.8,285.9 432.9,285.4 431.3,285.6 429.0,286.7 426.3,286.7 424.2,288.9 424.0,288.2 424.6,282.7 425.6,281.1 426.6,280.7 430.6,281.3 432.1,280.8 434.5,279.1 439.2,278.9 440.5,279.6 441.6,282.3 442.4,282.5 444.8,281.7 446.3,281.8 447.1,282.0 448.7,283.6 450.3,284.5 451.9,284.6 453.5,284.1 454.1,284.3 454.0,285.9 456.6,289.1 459.0,288.7 463.7,290.4 468.5,288.4 471.6,288.6 474.0,288.4 475.3,289.0 479.5,293.1 481.1,294.1 483.5,294.5 486.6,293.7 487.5,293.8 488.2,294.6 487.7,295.3 485.0,296.4 482.7,295.2 480.3,297.8 477.9,298.7 476.4,299.8 475.6,299.9 474.8,299.5ZM636.9,293.0 634.3,292.4 631.1,292.6 627.9,291.8 622.4,292.9 612.9,292.1 609.8,292.4 604.2,291.1 601.1,292.2 597.9,291.3 595.6,291.5 593.2,291.0 590.0,292.5 586.1,292.0 582.9,290.9 580.6,292.0 579.0,292.1 575.0,291.6 572.7,290.6 571.9,289.8 571.9,288.1 571.1,287.1 567.1,286.8 566.6,287.4 566.4,289.4 564.8,290.1 564.0,289.8 563.4,289.0 564.0,286.7 563.3,285.9 556.9,283.5 556.1,283.5 553.7,284.5 551.4,284.6 549.8,283.7 549.3,282.7 549.8,281.6 551.1,280.3 553.7,279.7 554.5,279.8 556.9,281.6 560.8,281.9 564.0,280.9 567.1,281.2 570.3,280.0 573.5,280.8 576.6,280.4 579.8,283.4 582.1,281.7 585.3,281.8 589.2,280.6 590.8,280.8 593.2,282.3 596.4,281.9 598.7,282.3 601.1,282.1 606.6,283.0 610.6,282.4 612.9,283.9 616.1,283.6 621.6,284.4 624.0,285.4 626.4,284.8 627.9,285.0 629.4,285.9 631.1,287.9 632.7,288.5 637.4,289.7 641.4,288.6 644.5,290.6 648.5,290.5 650.2,291.4 650.9,292.2 650.4,293.0 649.3,293.1 637.4,293.0ZM418.1,280.3 414.0,278.2 410.8,278.1 410.0,277.7 409.1,276.4 409.2,275.5 412.4,272.3 413.2,272.5 414.8,275.3 419.3,275.6 422.3,278.8 422.1,279.6 421.3,280.3 420.3,280.7 418.7,280.7ZM538.5,280.3 537.9,280.0 537.9,279.1 539.2,279.6 539.2,280.3 538.7,280.4ZM400.7,275.6 400.5,274.8 401.0,274.0 401.3,273.8 402.1,274.3 402.3,275.6 401.3,276.1ZM455.0,267.7 453.7,266.9 453.5,266.0 454.2,265.6 455.0,266.0 455.5,266.9 455.0,267.7ZM512.9,261.4 512.5,260.6 512.7,260.1 513.5,259.7 514.2,259.9 514.8,260.6 514.3,261.4 513.5,261.6ZM519.6,258.2 519.8,257.4 520.7,257.4 520.8,258.2 519.8,258.3ZM459.8,295.1 460.5,294.6 460.0,293.8 458.6,293.8 459.1,294.6ZM579.8,285.2 579.8,283.7 579.3,285.1Z" fill="#d09a4c" fill-rule="evenodd"/><path d="M365.0,327.7 686.4,327.7 686.4,251.1 685.9,250.3 364.2,250.3 364.2,327.7ZM440.6,321.4 440.1,320.6 440.8,319.6 441.6,319.2 443.1,319.8 442.6,320.6 440.8,321.5ZM569.1,319.8 569.5,319.2 570.3,319.2 570.3,320.4 569.5,320.3ZM394.3,317.4 390.3,316.1 390.3,314.6 391.1,313.9 393.5,314.1 395.0,313.1 396.6,312.7 401.3,313.0 405.0,314.3 405.9,315.1 406.0,315.9 405.4,316.7 403.7,317.6 402.1,317.7 399.8,317.2 396.6,317.8 395.0,317.6ZM379.8,316.7 378.5,315.1 379.2,313.8 380.0,313.9 382.1,315.9 381.5,316.7 380.0,316.8ZM409.4,315.1 409.4,314.3 410.8,313.5 411.6,313.5 414.8,315.1 411.6,315.7 410.0,315.5ZM474.2,300.1 473.2,299.2 470.8,298.7 468.5,297.0 467.7,296.8 462.9,299.6 458.2,299.2 457.4,298.8 455.8,296.8 455.0,296.6 452.7,297.2 447.9,294.5 444.8,294.8 441.6,292.2 439.2,292.2 433.9,289.0 432.9,286.8 432.2,286.7 430.6,288.1 427.4,288.2 425.0,290.2 423.5,290.4 422.8,289.0 423.0,284.3 421.9,282.4 417.9,281.4 416.3,280.6 410.8,279.4 408.6,277.2 408.5,275.2 411.6,271.7 412.4,271.4 414.0,272.3 415.6,274.4 419.5,274.4 421.9,275.9 427.4,274.4 428.3,274.8 430.6,277.2 432.9,276.1 435.3,277.8 439.2,277.7 443.2,279.9 447.1,279.2 449.5,278.2 450.4,278.8 449.8,281.1 450.1,282.7 451.9,283.0 454.2,281.4 455.0,282.0 456.0,284.3 457.4,285.1 460.6,284.8 462.6,283.5 463.7,281.5 464.5,281.5 465.3,281.9 465.7,282.7 463.4,284.3 460.5,287.4 460.9,288.2 462.1,288.9 463.7,289.2 464.5,289.0 468.5,287.1 471.6,287.9 474.0,287.6 478.4,290.6 480.3,292.4 484.2,292.7 487.4,292.5 489.0,293.0 490.4,294.6 490.4,295.3 489.8,295.9 485.0,297.7 482.7,297.9 478.7,299.0 476.4,300.6 474.8,300.5ZM589.1,293.0 582.9,291.7 579.8,292.7 575.0,292.4 571.9,291.7 568.7,292.2 567.1,291.2 564.0,290.6 562.6,289.8 562.7,287.4 562.4,286.7 561.6,286.1 556.9,284.7 552.9,285.3 549.8,284.9 549.0,284.5 548.4,283.5 548.3,281.9 548.7,281.1 550.7,279.6 555.3,278.1 556.1,278.5 557.5,280.3 560.8,280.9 564.0,279.8 567.1,280.4 570.3,279.2 573.5,280.1 576.6,279.6 579.8,281.4 582.1,280.8 585.3,281.0 588.5,280.0 590.0,279.8 591.6,280.3 594.0,281.6 601.1,281.5 606.6,282.5 610.6,281.6 613.7,283.1 619.3,283.7 621.6,283.5 624.0,284.0 626.4,283.7 629.5,285.0 631.1,287.1 632.7,288.0 637.4,289.1 641.4,288.0 644.5,290.2 647.7,290.0 649.3,290.3 652.0,292.2 652.0,293.0 650.0,293.5 637.4,293.2 634.3,292.7 631.1,292.9 627.9,292.5 621.6,293.3 612.9,292.5 609.8,293.0 605.0,291.8 601.9,293.0 597.9,292.0 595.6,292.2 593.2,291.7 590.8,293.1 589.2,293.0ZM537.2,281.1 536.6,279.6 537.1,277.9 537.9,277.7 541.8,279.6 542.4,280.3 540.3,281.4 537.9,281.5ZM454.6,280.3 454.9,278.8 456.6,277.3 458.2,277.9 458.9,278.8 459.1,279.6 458.7,280.3 455.8,280.6 455.0,281.1ZM525.7,280.3 526.1,279.5 526.9,279.6 527.0,280.3 526.1,280.9ZM653.1,280.3 654.0,279.8 654.4,280.3 654.0,280.8 653.2,280.7ZM400.8,277.2 399.7,275.6 399.6,274.0 400.3,272.4 401.3,272.2 403.3,273.2 403.7,274.8 402.9,276.8 402.1,277.4 401.3,277.5ZM472.0,273.2 472.4,271.4 472.9,270.9 473.2,270.6 474.3,270.9 474.8,271.7 474.6,272.4 473.2,273.6 472.4,273.7ZM453.8,268.5 452.1,266.1 452.7,264.5 453.5,263.8 454.2,263.9 455.8,265.3 457.1,267.7 456.6,268.6 454.2,268.8ZM469.9,268.5 469.0,267.7 469.0,266.1 470.0,265.0 471.6,265.0 472.7,266.1 472.4,267.8 471.6,268.7 470.0,268.5ZM445.7,267.7 444.6,266.1 445.0,265.3 446.3,265.0 447.8,265.3 448.6,266.1 448.5,266.9 447.7,267.7 446.4,267.9ZM462.0,263.8 462.3,263.0 462.9,262.6 463.7,262.9 463.3,263.8 462.1,263.9ZM501.2,262.2 501.0,261.4 501.6,260.6 502.4,260.3 503.4,260.6 504.0,261.4 504.0,262.2 503.2,262.8 501.6,262.5ZM512.2,262.2 511.5,260.6 511.5,259.8 512.2,259.0 513.5,258.7 516.6,258.9 519.0,256.8 520.6,256.3 521.5,256.7 522.1,257.4 523.1,259.8 525.5,261.4 525.3,262.2 523.7,262.0 522.9,261.8 522.1,260.1 518.2,259.5 517.4,259.6 515.8,262.3 514.2,262.7 512.7,262.6ZM371.4,255.1 372.1,254.3 372.9,254.2 373.7,255.1 372.1,255.2Z" fill="#e5c884" fill-rule="evenodd"/><path d="M365.0,327.7 400.8,327.7 402.9,324.8 404.5,324.2 405.4,324.6 403.4,326.1 402.7,327.7 433.7,327.7 434.5,326.8 435.3,327.0 435.8,327.7 510.0,327.7 510.3,327.0 510.5,327.7 594.7,327.7 595.6,327.3 596.2,327.7 612.3,327.7 612.9,324.9 613.7,324.3 615.3,325.4 615.8,327.7 619.4,327.7 619.7,326.1 620.8,325.6 621.5,326.1 621.4,327.7 629.2,327.7 629.5,327.3 630.7,327.7 686.4,327.7 686.4,252.5 685.5,251.9 684.8,250.3 600.2,250.3 599.5,251.3 597.6,250.3 571.8,250.3 571.1,252.1 570.3,251.9 569.7,250.3 545.4,250.3 543.5,251.8 542.7,251.6 542.2,250.3 497.5,250.3 496.1,251.3 495.3,251.2 494.8,250.3 364.2,250.3 364.2,252.6 367.4,251.8 370.6,252.9 372.9,252.4 374.9,254.3 375.8,255.9 375.3,257.1 372.1,256.3 369.8,256.5 369.0,256.2 368.2,254.1 367.4,253.3 366.6,253.3 364.2,254.4 364.2,272.7 364.5,273.2 364.2,273.5 364.2,327.7ZM480.7,326.1 480.5,325.3 482.1,325.3 482.2,326.1 481.1,326.3ZM440.6,323.0 439.1,322.2 437.7,320.7 435.3,321.4 435.3,320.6 436.1,320.3 437.7,320.5 440.8,317.6 441.6,317.5 444.9,319.0 445.7,319.8 445.2,320.6 440.8,323.0ZM534.3,322.2 533.2,320.8 532.4,320.5 530.8,320.7 529.2,322.1 528.8,321.4 529.2,320.4 530.8,319.3 532.8,315.9 534.0,315.0 534.8,315.4 536.9,320.6 536.5,322.2 534.8,322.5ZM569.9,322.2 567.2,320.6 567.0,319.8 568.3,318.2 570.3,317.3 571.6,318.2 572.1,319.8 571.9,322.2 571.1,322.9 570.3,322.5ZM593.6,322.2 592.9,320.6 589.8,319.0 589.5,317.4 590.0,315.8 591.6,315.7 593.3,316.7 593.7,317.4 594.0,319.8 595.0,321.4 594.8,322.0 594.0,322.3ZM408.0,320.6 407.2,319.0 406.1,318.5 402.9,318.9 399.8,318.1 396.6,318.4 388.7,317.0 386.3,318.2 384.8,318.0 380.0,318.6 379.1,318.2 376.9,315.7 374.5,314.9 373.7,313.9 373.5,312.7 374.4,311.1 375.3,310.8 376.0,311.1 376.9,313.8 379.2,312.1 380.0,312.3 382.4,314.5 384.0,315.0 385.6,314.9 387.9,315.9 388.7,315.5 389.8,312.7 388.9,310.3 389.0,309.6 389.5,308.9 390.3,308.8 392.7,309.8 394.2,309.8 395.0,310.3 395.3,311.1 396.8,311.9 401.3,312.1 404.5,313.0 406.9,314.1 407.7,314.1 410.8,312.5 415.6,313.6 416.6,314.3 416.6,316.7 415.6,317.2 408.5,316.7 407.8,317.4 407.8,318.2 408.8,319.8 408.5,320.8ZM418.8,319.8 418.0,319.0 418.0,318.2 418.7,318.0 420.0,318.2 421.0,319.0 421.0,319.8 420.3,320.4 419.5,320.1ZM453.5,319.0 453.5,317.5 455.0,318.0 455.1,319.0 454.2,319.5ZM621.5,318.2 621.6,317.3 622.4,316.8 623.1,317.4 622.4,318.2 621.6,318.3ZM453.4,316.7 452.9,315.9 453.5,315.7 453.5,317.1ZM569.8,312.7 568.7,311.1 566.4,310.9 565.4,310.3 565.3,309.6 566.4,308.6 567.9,308.5 569.5,309.8 571.1,310.5 571.9,311.1 572.0,311.9 571.1,313.1 570.3,313.1ZM629.5,312.7 629.4,311.9 630.2,311.1 631.4,311.1 631.5,311.9 631.1,312.9 630.3,313.2 629.5,312.7ZM590.7,310.3 590.5,309.6 591.0,308.0 592.4,306.0 594.8,306.4 597.1,306.2 597.9,306.4 598.4,307.2 597.9,307.7 594.8,307.6 592.4,310.2 590.8,310.4ZM607.2,308.0 607.5,307.2 608.2,306.9 609.9,307.2 609.4,308.0 607.4,308.0ZM464.8,303.2 462.9,301.3 459.8,300.2 457.4,300.0 455.0,298.5 452.7,298.7 447.9,295.9 444.0,295.8 441.6,293.9 439.5,296.1 436.9,296.5 436.1,296.2 435.7,294.6 437.0,292.2 436.5,291.4 435.3,290.6 433.7,290.4 430.6,291.0 429.0,293.1 428.1,292.2 429.0,290.6 428.2,289.7 427.4,289.8 424.7,291.4 423.2,291.4 422.3,290.6 422.0,289.8 422.4,285.9 422.0,284.3 421.4,283.5 419.5,282.6 415.6,282.2 413.2,282.5 411.2,281.9 408.1,278.0 407.6,276.4 407.7,274.8 410.8,271.1 412.4,270.7 414.0,271.5 415.6,273.3 416.3,273.7 419.5,273.5 422.7,274.5 427.4,273.1 430.6,274.7 434.1,274.8 436.1,276.8 438.5,276.0 439.2,276.2 440.8,277.6 442.4,278.4 447.1,278.2 450.3,276.7 451.6,277.2 452.7,278.5 455.6,276.4 457.4,276.2 459.7,278.0 460.2,279.6 459.6,281.1 456.6,282.0 456.6,283.4 457.4,284.0 459.0,284.0 460.6,283.5 461.5,282.7 462.9,280.1 463.7,279.9 466.9,281.9 467.6,283.5 467.5,284.3 464.5,285.2 463.6,286.7 463.9,287.4 465.3,287.5 466.7,286.7 467.7,284.4 470.8,286.8 471.6,287.1 474.0,286.7 477.1,288.8 479.5,289.3 481.2,291.4 487.4,291.5 489.0,291.8 490.6,293.0 491.8,294.6 491.7,296.1 490.7,296.9 487.4,297.4 484.2,299.1 478.7,299.8 476.4,301.4 474.8,301.3 472.4,300.3 470.8,300.7 468.5,298.8 467.7,298.9 466.6,300.1 468.1,301.7 468.3,302.4 466.9,303.8 465.3,303.6ZM615.0,298.5 615.3,297.7 616.9,297.7 616.8,298.5 615.3,298.7ZM420.2,297.7 420.3,297.5 420.3,297.9ZM405.0,296.9 403.7,296.1 402.9,295.0 399.1,294.6 402.1,294.1 403.7,294.9 405.8,295.3 406.2,296.1 405.3,297.0ZM589.9,293.8 583.7,292.6 580.6,293.4 575.0,293.2 571.9,292.6 569.5,293.1 568.2,293.0 561.9,290.6 560.9,289.8 561.6,287.4 561.0,286.7 560.0,286.3 556.1,285.7 553.7,286.2 549.0,285.8 547.9,285.1 546.6,283.4 544.2,283.1 542.7,282.1 537.1,282.3 536.4,281.5 535.9,280.3 536.0,278.0 536.7,277.2 537.9,277.0 541.1,278.5 548.2,279.7 551.4,278.3 553.7,276.7 554.5,276.7 556.9,277.2 558.5,279.3 560.0,279.8 564.0,278.9 567.1,279.5 570.3,278.4 573.5,279.3 577.4,278.6 579.8,280.2 582.1,279.8 585.3,280.1 590.0,278.9 591.6,279.2 594.0,280.8 601.1,281.0 605.8,282.1 607.4,282.0 609.8,280.8 611.4,280.5 613.7,282.2 617.7,282.9 626.4,282.7 629.7,284.3 631.6,286.7 632.7,287.3 638.2,288.5 641.4,287.3 644.5,289.7 646.1,289.8 647.7,289.4 649.3,289.7 652.4,291.6 653.1,292.2 653.3,293.0 652.8,293.8 651.6,293.9 646.9,293.5 637.4,293.4 633.5,292.9 621.6,293.6 612.9,292.9 609.8,293.3 605.0,292.4 601.9,293.5 597.9,292.8 595.6,293.1 593.2,292.4 590.8,293.8 590.0,293.8ZM485.0,287.4 485.3,286.7 485.8,286.4 487.1,286.7 486.2,287.4 485.0,287.5ZM636.8,284.3 636.3,282.7 636.6,281.9 638.2,281.2 639.8,281.9 640.6,282.9 640.4,284.3 639.0,284.7 637.4,284.7ZM652.8,282.7 651.0,281.1 650.8,280.3 651.5,279.6 653.2,278.7 654.8,278.5 655.6,278.8 656.0,279.6 655.8,280.3 654.0,283.0 653.2,283.1ZM525.3,281.9 524.8,281.1 524.7,279.6 525.3,278.4 526.9,278.0 528.0,278.8 528.3,280.3 527.7,281.5 526.1,282.2ZM491.2,280.3 490.9,278.8 491.4,278.5 492.9,279.2 492.9,280.6 492.1,280.9 491.4,280.5ZM470.6,279.6 470.1,278.8 470.4,278.0 470.8,277.7 471.6,277.9 471.9,279.6 470.8,279.7ZM401.0,278.8 399.8,277.7 398.8,275.6 398.6,271.7 399.0,270.8 402.1,271.3 404.4,272.4 404.9,273.2 404.8,274.8 403.3,278.0 402.6,278.8 401.3,278.9ZM512.3,278.8 512.2,278.0 512.9,277.2 514.3,277.2 514.9,278.0 513.5,279.5 512.7,279.2ZM516.5,277.2 516.6,276.4 517.4,276.0 518.1,276.4 518.1,277.2 516.6,277.2ZM681.6,277.2 680.6,276.4 681.6,275.6 682.4,275.8 682.7,276.4 681.6,277.2ZM471.5,274.8 471.0,274.0 471.4,270.9 471.1,270.1 467.3,268.5 467.2,267.7 467.3,265.3 467.7,264.8 470.8,263.7 472.4,264.1 473.7,265.3 473.7,268.5 476.4,271.7 476.2,272.4 473.2,274.8 472.4,275.1 471.6,274.9ZM485.4,274.8 484.8,274.0 484.9,273.2 485.8,272.1 486.6,272.4 487.3,273.2 487.2,274.0 485.8,274.9ZM551.7,274.0 551.2,273.2 551.3,272.4 552.1,271.7 553.1,271.7 553.9,272.4 553.7,273.2 552.9,274.4 552.1,274.4ZM445.8,273.2 446.3,272.0 447.1,271.9 448.3,272.4 448.6,273.2 447.9,273.9 446.3,273.9ZM465.1,273.2 465.3,271.8 466.1,271.6 466.5,273.2 466.1,273.8 465.3,273.8ZM439.5,271.7 440.0,270.8 442.3,270.9 441.6,271.9 440.0,271.9ZM395.5,270.9 395.8,270.5 396.1,270.9 395.8,271.0ZM458.1,270.9 456.6,270.2 453.5,269.7 451.1,267.3 450.3,267.2 447.1,269.0 445.6,269.0 444.1,267.7 443.2,265.3 444.0,264.5 445.6,264.1 447.9,264.3 450.3,265.1 451.1,264.6 452.7,261.8 453.5,261.6 454.2,261.9 457.4,264.9 458.2,265.1 462.1,261.7 462.9,261.3 464.0,261.4 464.8,262.2 465.0,263.8 462.9,266.1 463.7,267.6 466.1,268.7 466.4,269.3 466.1,270.1 465.3,270.6 464.5,269.8 462.9,269.5 459.8,271.2 458.2,270.9ZM483.2,270.1 483.5,269.4 484.2,269.2 484.5,270.1 484.2,270.5 483.5,270.2ZM495.3,270.1 493.9,269.3 494.2,268.5 497.4,266.9 498.4,265.3 495.9,259.0 496.1,258.2 496.9,257.8 498.5,258.2 499.2,259.2 500.8,258.8 503.2,259.5 504.8,260.6 505.6,261.8 508.1,262.2 510.2,263.8 510.0,264.6 507.9,265.4 507.1,265.3 504.8,263.4 500.4,263.8 499.4,264.6 499.5,266.9 498.8,267.7 497.8,270.1 496.1,270.3ZM484.2,267.7 481.5,264.6 482.7,262.8 484.2,262.2 485.8,263.1 486.8,264.6 486.9,265.3 485.8,267.3 484.2,267.8ZM537.8,266.9 537.1,266.7 536.5,265.3 537.1,263.9 537.9,263.6 539.4,264.6 539.4,265.3 537.9,267.0ZM375.1,265.3 374.6,264.6 375.3,263.6 376.5,263.8 377.4,264.6 376.9,265.6 375.3,265.4ZM490.1,265.3 489.5,264.6 489.8,263.8 490.6,263.5 492.9,264.6 493.2,265.3 492.1,265.9 490.6,265.6ZM388.8,264.6 388.7,263.7 389.5,263.3 390.3,263.5 390.6,264.6 389.5,265.0ZM519.7,264.6 518.2,263.9 511.9,263.6 511.1,263.0 510.9,262.2 510.5,259.8 510.7,259.0 512.7,257.8 515.8,257.7 520.6,255.6 522.1,256.1 524.5,258.5 527.7,259.8 528.2,263.0 526.9,264.7 523.7,264.3 521.4,265.1 519.8,264.6ZM543.4,264.6 544.2,263.4 545.2,263.8 545.0,264.8 544.2,265.1 543.5,264.7ZM488.9,261.4 488.2,261.1 487.8,259.8 488.9,256.7 487.8,254.3 488.2,253.2 489.0,252.6 490.3,253.5 490.5,254.3 489.9,256.7 491.4,257.8 491.8,259.0 490.6,260.8 489.0,261.4ZM479.4,258.2 479.0,257.4 479.4,256.7 480.3,256.3 481.1,256.6 481.1,257.8 480.3,258.4 479.5,258.3ZM451.9,281.2 451.9,280.2 451.8,281.1Z" fill="#f4e4b8" fill-rule="evenodd"/><path d="M365.0,327.7 376.1,327.7 376.9,326.6 377.9,327.7 391.0,327.7 391.9,326.9 394.2,326.4 395.0,325.2 396.6,324.6 397.5,325.3 397.5,326.1 396.6,327.3 395.7,327.7 398.4,327.7 402.9,323.1 406.0,322.2 406.2,321.4 405.8,320.6 405.3,320.2 402.1,319.9 399.8,318.9 396.6,319.1 389.5,318.4 384.8,320.1 383.3,323.0 382.4,323.6 380.9,323.0 379.4,320.6 378.2,319.8 376.9,318.0 373.7,316.6 373.0,315.9 372.6,314.3 372.6,311.9 373.7,310.5 375.3,309.8 378.5,309.4 379.6,309.6 380.8,310.3 381.5,312.7 382.4,313.6 384.0,313.7 386.3,312.8 387.9,313.5 387.5,309.6 388.4,308.0 389.5,307.3 392.7,308.3 395.0,306.9 395.8,307.9 396.7,310.3 397.5,311.1 403.7,311.0 406.9,313.1 407.7,313.1 410.8,311.7 416.3,312.9 417.4,313.5 418.7,316.1 420.3,316.8 422.7,316.8 423.2,317.4 424.1,319.8 424.2,323.5 423.5,324.2 420.3,325.5 419.7,324.6 419.4,322.2 415.6,319.1 411.6,318.6 410.8,318.8 408.5,323.8 408.5,324.6 409.8,326.1 410.2,327.7 432.8,327.7 433.3,325.3 432.5,321.4 430.6,319.5 428.2,319.7 427.4,319.0 426.7,314.3 427.4,313.5 429.8,313.1 431.5,313.5 432.1,314.3 431.6,317.4 432.9,318.6 434.5,318.8 437.7,318.0 440.8,316.2 442.4,316.5 444.8,318.0 447.1,318.0 447.7,317.4 449.5,312.8 450.3,312.5 451.9,313.5 454.2,313.1 455.0,313.3 457.4,316.0 460.6,316.6 463.7,318.2 465.3,320.6 465.2,321.4 463.7,323.6 462.9,324.3 462.1,324.2 461.4,323.5 459.9,319.8 459.0,319.3 457.4,319.4 456.6,319.8 454.2,321.9 452.7,321.3 451.1,319.5 449.5,318.9 447.9,319.6 445.8,321.4 444.0,322.2 441.6,324.1 440.0,324.2 437.7,323.1 436.9,323.6 436.4,324.6 436.6,325.3 437.7,326.5 438.0,327.7 448.9,327.7 448.9,326.1 449.5,325.1 451.1,325.6 451.9,327.7 473.9,327.7 474.8,327.1 475.6,327.1 476.5,327.7 479.7,327.7 478.4,326.1 478.3,323.8 476.4,323.2 475.4,322.2 475.5,321.4 476.1,320.6 477.1,320.4 478.3,320.6 479.2,321.4 479.5,323.1 482.7,324.0 485.0,323.6 485.8,324.3 485.8,325.8 484.3,327.7 499.6,327.7 499.3,326.9 498.4,326.1 498.0,324.6 498.9,323.0 500.0,322.4 501.4,323.0 501.8,323.8 501.7,325.3 503.2,327.7 509.1,327.7 510.3,324.1 511.9,323.1 513.1,323.8 513.2,324.6 512.1,326.1 511.7,327.7 577.9,327.7 577.5,325.3 578.2,324.6 579.0,324.4 580.8,325.3 581.0,326.1 580.2,327.7 583.1,327.7 583.4,326.1 584.5,325.4 585.3,327.7 593.6,327.7 594.0,325.6 596.4,326.3 597.5,327.7 610.9,327.7 610.5,325.3 610.7,324.6 611.4,323.7 613.7,322.8 615.3,323.4 617.7,325.8 621.6,324.0 622.4,324.5 622.8,325.3 622.3,327.7 627.7,327.7 628.0,326.1 628.7,325.5 630.3,325.2 631.1,325.3 631.9,326.1 632.4,327.7 639.1,327.7 640.6,327.0 641.4,327.7 645.5,327.7 646.7,325.3 646.1,324.2 642.9,322.3 642.1,322.9 641.4,322.8 639.0,321.5 637.4,321.3 634.3,321.9 632.7,321.6 631.5,319.0 631.9,317.4 632.7,317.6 635.0,319.3 637.9,319.8 642.9,322.1 644.5,321.0 646.1,320.6 648.5,321.0 650.0,321.8 652.7,322.2 653.0,323.0 650.8,324.5 648.7,327.7 661.5,327.7 661.9,326.7 663.5,326.0 666.6,327.3 668.2,327.5 670.6,325.9 673.7,326.8 674.5,327.7 686.4,327.7 686.4,326.0 684.8,325.3 684.1,324.6 683.7,322.2 684.0,321.4 686.4,320.1 686.4,315.2 685.6,315.9 684.0,315.9 682.9,315.1 682.9,314.3 684.8,312.9 685.4,311.1 686.4,310.3 686.4,290.2 684.7,290.6 684.0,291.4 684.8,293.8 684.3,294.6 683.2,294.8 682.4,294.6 681.2,293.0 681.2,292.2 683.1,290.6 684.2,286.7 686.4,284.8 686.4,269.1 683.2,266.1 684.0,265.2 686.4,265.1 686.4,255.7 685.6,255.3 685.5,253.5 684.0,250.3 671.2,250.3 669.8,253.6 669.0,254.4 667.4,254.9 666.4,254.3 666.1,252.7 667.2,250.3 658.7,250.3 657.9,251.1 657.1,250.3 648.3,250.3 647.7,252.0 646.9,252.7 645.3,253.3 643.7,252.7 641.6,250.3 633.8,250.3 631.1,254.9 630.3,254.8 629.5,253.5 630.7,250.3 622.2,250.3 621.6,251.8 620.8,252.2 619.3,251.8 617.6,250.3 601.0,250.3 600.8,251.9 600.3,252.7 599.5,252.6 596.5,251.1 595.9,250.3 591.4,250.3 590.8,251.0 590.0,251.2 588.6,250.3 582.3,250.3 581.4,250.9 580.3,250.3 572.6,250.3 572.3,252.7 571.9,253.2 571.1,253.3 569.5,252.2 569.0,250.3 555.0,250.3 554.5,251.7 553.0,250.3 546.4,250.3 545.8,251.4 543.5,252.9 541.9,252.4 541.3,250.3 528.6,250.3 528.5,250.9 527.7,251.0 527.5,250.3 520.3,250.3 518.2,252.0 516.6,252.2 512.4,250.3 507.3,250.3 506.8,251.9 506.4,252.4 505.6,252.4 505.0,251.9 505.0,250.3 498.8,250.3 498.5,251.2 496.1,252.3 494.5,251.9 494.0,250.3 489.0,250.3 491.4,252.7 491.8,253.5 492.0,255.9 492.9,257.5 493.7,258.1 498.5,255.5 500.2,253.5 501.6,253.1 502.2,253.5 502.0,256.7 503.1,258.2 506.4,259.9 507.9,260.2 508.4,259.8 507.7,258.2 507.6,256.7 507.9,255.7 508.7,255.2 511.1,255.7 513.5,255.1 515.8,256.4 521.4,254.9 522.9,255.3 526.1,257.5 527.2,256.7 526.7,255.1 527.7,253.8 528.5,253.4 530.1,254.3 530.4,255.1 530.2,259.0 529.6,260.6 530.2,263.0 528.5,265.2 526.9,266.3 523.7,265.9 520.6,266.7 518.2,265.4 517.4,265.5 515.8,267.9 515.0,267.7 513.9,265.3 511.9,266.1 509.5,266.2 507.1,267.7 504.8,264.7 502.4,264.7 501.5,265.3 501.4,267.7 500.8,269.1 498.5,271.1 497.7,271.4 494.5,271.1 491.4,272.4 489.0,272.5 489.0,274.8 493.9,278.8 494.3,280.3 494.1,281.1 492.9,281.9 491.4,281.7 490.6,281.1 488.2,276.3 487.4,275.8 485.3,276.4 484.4,277.2 483.0,281.1 481.9,282.0 481.1,281.7 480.4,279.6 482.6,276.4 483.2,273.2 483.0,272.4 481.9,271.8 479.2,271.7 479.1,274.0 478.7,274.6 476.4,273.8 474.4,274.8 472.9,277.2 473.4,280.3 473.0,281.1 472.4,281.3 470.0,280.5 468.9,278.8 469.1,277.2 470.1,275.6 469.8,274.0 470.6,271.7 470.0,270.4 468.5,270.0 467.7,270.8 467.8,274.0 466.9,274.9 465.3,275.5 464.5,275.5 463.8,274.8 463.7,272.3 462.9,271.2 458.2,272.6 455.0,272.5 454.4,274.0 454.9,274.8 457.4,274.9 459.8,276.4 462.9,277.6 464.8,279.6 468.4,281.9 469.5,284.3 471.6,286.0 474.0,285.4 477.1,287.5 480.3,287.5 482.7,289.9 483.1,287.4 485.0,284.6 486.6,284.7 490.6,286.3 493.7,285.8 494.7,286.7 494.4,287.4 490.5,289.8 490.1,290.6 491.3,292.2 493.3,293.8 493.6,294.6 493.2,296.1 491.8,297.7 487.4,298.0 484.2,300.0 479.5,300.4 476.4,302.2 473.2,301.8 472.0,302.4 470.8,304.6 469.2,304.0 464.5,305.3 462.9,302.8 461.2,301.7 459.8,301.1 456.6,300.7 455.0,299.8 452.7,299.5 449.5,298.4 447.1,296.7 444.0,296.7 442.4,296.3 440.0,297.3 436.1,297.7 435.0,296.9 434.3,295.3 434.3,294.6 435.5,292.2 434.5,291.5 432.4,292.2 431.3,293.0 430.8,294.6 431.6,297.7 431.3,298.6 430.6,298.9 429.9,297.7 429.6,295.3 429.0,294.8 425.8,292.3 423.5,292.4 421.6,291.4 420.9,289.0 421.5,285.9 421.0,284.3 419.5,283.6 418.2,284.3 419.5,288.2 418.7,289.0 417.9,289.1 416.1,287.4 415.6,284.3 414.8,283.9 411.6,284.0 409.2,284.6 409.4,282.7 408.5,280.7 407.7,280.3 406.1,282.0 402.9,280.4 398.3,279.6 398.3,277.2 397.4,273.7 396.6,273.2 395.0,273.6 393.5,270.9 393.6,269.3 395.0,268.7 399.8,269.4 405.5,271.7 406.9,273.1 409.5,270.9 411.6,270.0 413.2,270.3 416.3,272.8 418.7,272.7 423.5,273.7 427.4,272.2 430.6,273.8 432.1,273.8 433.7,273.0 437.7,269.2 440.8,269.0 442.2,268.5 442.5,267.7 441.7,265.3 442.1,264.6 444.0,263.3 444.8,263.0 449.5,263.3 450.3,262.8 451.9,260.3 452.7,259.7 457.4,261.1 459.0,262.1 460.6,261.8 462.5,259.8 461.4,257.4 462.1,256.8 465.3,257.0 465.6,258.2 465.3,260.6 466.1,262.5 466.9,263.2 468.5,263.2 470.8,262.6 474.8,263.3 477.9,262.6 480.3,262.7 482.7,261.2 485.0,260.6 486.0,259.8 486.7,257.4 485.4,255.1 487.7,250.3 485.0,250.3 483.4,251.9 482.4,254.3 483.3,255.9 483.1,256.7 481.9,258.7 480.3,259.6 478.7,259.1 477.8,257.4 479.7,254.3 478.2,251.9 478.1,250.3 465.5,250.3 465.8,251.9 467.4,253.5 466.9,254.0 466.1,253.7 465.1,251.9 461.7,250.3 441.3,250.3 440.8,251.5 440.1,251.1 440.0,250.3 416.5,250.3 416.3,250.6 385.6,250.3 384.0,251.6 382.6,251.1 382.2,250.3 374.1,250.3 374.8,252.7 376.1,254.2 376.9,254.7 380.0,255.1 383.5,256.7 384.0,257.4 383.8,258.2 382.4,259.0 380.8,258.9 378.5,257.9 377.7,258.1 376.1,259.8 375.3,259.6 374.5,258.2 372.9,257.2 369.0,257.4 368.2,257.1 367.4,255.2 366.6,254.6 364.2,255.8 364.2,258.6 365.0,259.3 365.3,260.6 365.0,261.8 364.2,262.9 364.2,268.1 365.8,268.9 366.1,270.1 366.0,274.0 364.2,274.9 364.2,278.3 366.0,278.8 366.2,279.6 364.2,280.4 364.2,283.3 366.1,284.3 365.4,285.1 364.2,285.4 364.2,296.5 365.3,298.5 365.1,299.3 364.2,299.6 364.2,327.7ZM372.8,325.3 372.3,324.6 372.4,323.8 372.9,323.3 375.0,323.8 375.3,324.6 374.0,325.3 372.9,325.4ZM517.1,325.3 516.7,324.6 517.0,323.8 518.2,323.1 518.6,324.6 518.2,325.4 517.4,325.5ZM548.8,324.6 547.4,323.9 545.8,322.5 543.5,322.0 541.9,319.6 541.1,319.1 538.7,319.2 537.9,322.2 535.6,323.5 534.0,323.2 532.4,322.1 528.5,323.6 527.4,323.0 527.3,321.4 528.0,319.8 530.3,317.4 532.0,315.1 533.2,314.2 534.8,314.0 535.6,314.5 537.1,317.8 537.9,318.4 539.5,317.3 541.0,317.4 548.3,320.6 549.5,323.0 549.6,323.8 549.0,324.6ZM570.1,323.8 568.7,322.4 565.6,321.4 564.5,319.0 567.9,317.2 569.8,315.9 570.2,315.1 567.9,312.6 562.4,311.4 561.4,310.3 562.1,309.6 567.1,307.2 571.1,307.9 571.9,307.5 572.5,306.4 571.3,304.0 571.9,303.0 572.7,302.9 573.2,303.2 573.5,305.4 575.8,305.4 577.3,306.4 577.0,311.1 576.6,312.0 575.8,312.5 574.2,312.2 573.5,312.5 572.1,315.1 573.0,319.0 573.0,323.0 571.9,324.3 571.1,324.4 570.3,324.0ZM592.0,323.8 590.0,321.7 587.6,320.6 587.7,318.0 585.8,319.0 583.7,319.5 582.1,321.0 581.4,321.1 579.8,320.5 578.3,319.0 577.9,317.4 580.0,315.9 581.2,311.9 582.2,310.3 582.9,308.1 584.5,307.8 587.7,309.5 588.5,309.3 590.4,306.4 590.8,302.9 591.6,302.1 592.4,302.0 593.7,304.0 594.8,304.7 597.1,304.8 600.5,306.4 600.9,307.2 601.1,309.1 601.9,309.6 602.7,309.5 603.1,308.8 603.0,307.2 605.2,305.6 605.7,304.8 605.6,303.2 605.4,302.4 604.2,301.7 601.1,301.5 600.4,300.9 600.8,298.5 602.7,298.1 606.6,299.7 609.0,299.5 609.8,299.9 610.5,304.0 612.6,306.4 612.8,307.2 612.4,308.0 609.0,309.6 605.8,310.4 605.5,311.1 606.1,313.5 605.8,314.4 605.0,315.0 604.2,314.9 602.7,312.9 601.9,312.5 598.5,314.3 595.6,315.2 595.1,315.9 595.0,317.4 595.4,319.0 596.3,320.6 596.3,322.2 594.0,324.4 593.2,324.5 592.4,324.1ZM556.3,323.0 556.2,322.2 556.7,321.4 558.5,319.7 560.0,319.8 561.0,320.6 561.0,321.4 559.3,323.0 557.7,323.7 556.9,323.5ZM605.0,323.0 604.3,322.2 604.7,320.6 605.8,318.2 606.6,317.3 607.4,317.0 608.2,317.6 608.8,319.8 607.7,321.4 605.0,323.0ZM518.7,321.4 518.4,319.8 519.0,318.9 520.6,319.8 520.7,320.6 519.8,321.5 519.0,321.7ZM621.4,321.4 618.8,319.8 618.4,319.0 618.8,318.2 620.8,315.1 621.6,314.9 624.8,315.7 625.0,316.7 624.7,318.2 623.2,320.3 621.6,321.5ZM670.1,320.6 669.8,320.3 667.4,320.2 666.5,319.8 666.0,319.0 666.1,318.2 666.8,316.7 667.4,315.8 669.0,315.2 672.9,315.5 673.3,315.9 673.1,316.7 670.3,318.2 670.1,319.0 670.7,319.8 670.6,320.8ZM367.7,318.2 366.1,317.4 366.7,316.7 368.2,316.2 369.7,316.7 370.3,317.4 369.8,318.6 368.2,318.4ZM423.4,315.1 423.1,314.3 423.5,313.0 424.2,313.0 425.3,313.5 425.0,314.3 423.5,315.1ZM630.1,314.3 628.3,312.7 628.6,311.1 629.5,310.2 633.8,308.8 634.8,307.2 634.3,306.1 631.7,304.8 631.0,303.2 631.2,302.4 631.9,301.9 632.7,301.9 635.0,302.8 637.4,303.0 638.0,304.0 637.9,304.8 635.8,310.6 635.0,311.4 632.7,312.4 631.1,314.4 630.3,314.4ZM461.4,311.1 460.6,310.6 458.2,310.4 457.4,309.6 458.2,308.6 461.4,308.1 462.9,306.0 463.7,305.6 464.5,305.7 466.1,308.8 465.7,309.6 462.9,311.8 462.1,311.7ZM615.8,311.1 615.4,310.3 616.6,309.6 617.7,309.5 618.6,310.3 618.5,311.5 617.7,311.7 616.1,311.3ZM645.2,311.1 644.3,309.6 645.3,307.2 646.9,306.9 648.5,307.5 648.9,308.8 648.1,310.3 646.9,311.3 645.3,311.2ZM426.5,308.0 426.5,305.6 427.4,304.9 428.2,305.0 428.8,305.6 428.6,307.2 427.4,308.4 426.6,308.2ZM623.5,308.0 620.6,307.2 619.6,306.4 625.6,304.9 626.4,305.7 626.4,307.6 625.6,308.1 624.0,308.1ZM401.1,304.8 401.3,303.4 402.2,302.4 402.5,303.2 401.3,305.1ZM560.0,304.8 560.3,300.9 559.7,300.1 557.6,299.3 557.5,298.5 560.0,297.1 560.8,296.9 561.6,297.3 562.4,296.0 564.8,296.4 565.6,297.2 566.9,300.1 568.2,301.7 568.0,302.4 567.1,302.8 564.8,301.5 562.4,300.9 560.8,304.4 560.0,304.9ZM625.2,301.7 623.9,300.9 621.5,298.5 621.3,297.7 622.9,297.7 623.9,299.3 625.7,300.9 625.9,301.7 625.6,301.8ZM656.1,301.7 655.6,300.9 656.4,299.3 656.4,295.3 657.9,293.8 659.6,293.8 663.1,296.9 663.7,298.5 660.3,301.1 656.4,301.7ZM631.1,300.1 631.1,299.1 631.9,298.9 632.3,299.3 631.9,300.0 631.1,300.1ZM649.1,300.1 648.0,297.7 648.8,296.9 650.8,296.5 651.7,297.7 651.8,300.1 650.8,300.8 649.3,300.4ZM419.8,299.3 419.0,298.5 418.5,296.9 418.9,296.1 419.5,295.8 421.1,295.8 421.9,296.6 422.0,297.7 421.1,299.3 420.3,299.5ZM572.0,299.3 571.9,298.5 572.4,297.7 575.0,295.1 575.8,294.8 577.4,295.4 578.9,294.6 577.4,293.9 575.0,294.5 572.7,293.5 568.7,293.8 561.6,291.7 558.9,290.6 557.9,289.8 557.7,289.0 558.1,288.2 557.6,287.4 556.9,287.3 549.0,286.8 545.8,285.6 541.8,285.9 540.9,285.1 540.2,283.5 537.1,283.5 536.0,282.7 535.1,279.6 535.5,277.2 536.4,276.5 537.9,276.3 540.3,277.6 544.2,278.4 549.8,278.0 551.4,277.2 551.9,276.4 551.9,275.6 550.4,273.2 551.4,271.2 552.1,270.7 556.9,270.3 557.7,270.9 557.6,271.7 555.3,272.7 554.5,273.8 554.4,274.8 555.1,275.6 557.7,276.6 559.3,278.0 560.8,278.6 564.0,278.1 567.1,278.4 570.3,277.7 574.2,278.2 577.4,276.7 578.2,276.7 579.9,278.8 585.3,279.1 588.5,277.7 590.0,277.7 591.6,278.1 594.8,279.8 597.1,279.8 605.8,281.7 608.0,281.1 610.6,278.5 612.1,279.3 615.1,281.9 618.5,282.4 623.2,281.4 625.6,281.7 630.3,283.7 632.7,286.5 636.6,286.9 637.3,287.4 638.2,287.5 639.2,286.7 638.2,286.0 636.6,286.0 635.8,284.8 635.1,281.9 635.1,281.1 635.8,280.6 638.2,280.1 639.8,280.6 641.1,281.9 641.8,283.5 641.4,285.9 644.3,289.0 645.3,289.4 648.5,288.3 649.3,288.6 650.6,289.8 653.4,291.4 654.2,293.0 654.1,293.8 653.2,294.9 646.9,293.7 637.4,293.6 633.5,293.1 621.6,293.9 612.9,293.2 609.0,293.7 605.0,293.1 601.9,294.0 597.9,293.6 596.4,294.7 594.0,293.3 593.2,293.2 590.8,294.4 586.9,293.6 583.7,293.7 581.9,294.6 582.3,296.9 581.4,298.2 579.8,298.8 572.7,299.7ZM614.0,299.3 613.5,298.5 613.7,297.7 615.3,296.9 617.1,296.9 619.2,297.7 616.9,299.5 614.5,299.6ZM640.5,298.5 641.4,298.5 640.6,298.6ZM404.2,297.7 401.3,296.1 399.0,296.8 397.4,296.5 396.6,295.3 396.7,294.6 399.0,293.1 403.7,292.1 405.3,293.7 406.9,294.2 407.5,295.3 406.9,297.0 406.0,297.7 404.5,297.8ZM412.9,295.3 415.6,293.9 416.2,294.6 415.0,295.3 413.2,295.7ZM672.1,293.8 669.8,292.3 668.8,290.6 668.8,289.8 670.9,285.9 672.9,285.3 673.8,285.9 674.0,287.4 672.4,290.6 673.1,293.8 672.1,293.8ZM405.1,289.0 405.3,288.5 405.3,289.5ZM649.3,287.4 649.4,285.9 650.9,284.3 651.2,283.5 649.3,281.9 649.6,279.6 650.8,278.6 654.0,277.7 656.4,278.3 656.9,278.8 657.1,279.6 653.2,286.7 651.6,287.6 650.0,287.7ZM659.9,286.7 659.3,285.1 659.6,284.3 661.1,283.7 666.0,285.9 665.0,286.5 663.5,286.2 661.1,287.0 660.3,286.9ZM366.8,285.1 366.8,284.3 368.2,284.1 369.0,285.1 368.2,285.8 367.4,285.4ZM479.3,285.1 479.5,284.5 480.0,285.1 479.5,285.5ZM516.0,285.1 514.7,284.3 514.5,283.5 515.0,282.3 518.2,283.4 519.1,284.3 519.3,285.1 518.2,285.4 516.6,285.2ZM500.4,282.7 500.8,281.7 501.9,281.9 502.1,282.7 500.8,283.1ZM524.7,282.7 523.8,280.3 524.2,277.2 523.3,275.6 523.4,274.0 529.2,269.1 530.0,268.8 531.6,269.2 532.3,270.1 532.3,270.9 527.7,272.9 527.1,275.6 527.1,276.4 529.2,278.8 529.7,281.1 529.2,281.9 527.7,282.7 525.3,283.1ZM514.1,281.1 511.9,279.8 511.1,278.0 511.2,277.2 512.7,276.0 515.0,275.7 516.1,274.8 517.2,273.2 516.6,272.2 516.6,270.7 517.4,270.3 519.0,270.1 519.6,270.9 517.5,273.2 517.6,274.0 520.2,277.2 519.8,278.0 515.8,279.4 514.2,281.2ZM384.6,279.6 384.8,278.3 385.6,277.3 386.3,277.2 387.5,278.0 387.6,278.8 387.0,279.6 385.6,280.1 384.8,279.7ZM644.0,278.8 644.5,278.0 645.3,278.0 645.7,278.8 644.5,279.4ZM679.5,278.0 679.0,276.4 680.0,275.1 682.4,274.7 683.8,275.6 683.8,276.4 683.2,277.5 681.6,278.2 680.0,278.3ZM626.9,277.2 626.9,276.4 627.9,276.0 629.5,276.4 629.8,277.2 628.7,277.9 627.1,277.4ZM507.1,275.6 506.4,275.5 505.5,274.0 505.6,273.2 506.4,272.7 507.1,272.9 507.8,274.0 507.1,275.6ZM578.9,272.4 578.2,271.7 577.9,270.9 578.2,270.6 579.5,270.9 580.1,271.7 579.8,272.5 579.0,272.6ZM377.2,270.9 376.7,267.7 373.8,266.1 372.2,264.6 372.2,263.8 372.9,263.0 374.5,262.0 375.3,261.9 377.7,262.7 378.9,263.8 378.9,266.1 380.0,268.0 380.3,269.3 380.0,270.4 379.2,271.3 377.7,271.5ZM386.6,270.1 387.1,269.1 387.1,270.4ZM588.3,270.1 588.5,269.7 589.6,270.1 589.2,270.6 588.5,270.3ZM537.1,268.5 536.4,267.4 535.8,265.3 536.1,263.8 537.1,262.8 538.7,262.8 541.1,264.5 541.9,264.2 543.5,262.3 544.2,261.9 545.0,262.0 546.1,263.0 546.2,264.6 545.0,265.9 543.5,266.2 541.1,265.4 540.3,265.8 537.9,268.8 537.1,268.5ZM593.2,268.5 593.2,267.6 594.0,267.4 594.0,268.0 593.2,268.6ZM565.1,267.7 564.9,266.9 565.7,266.1 568.7,264.4 569.9,264.6 570.1,265.3 569.5,266.6 567.1,268.0 565.6,268.0ZM389.3,266.1 387.9,265.5 387.5,263.8 387.9,262.8 389.5,262.2 391.3,263.0 391.8,264.6 391.1,265.7 389.5,266.1ZM416.9,264.6 415.4,263.8 415.0,263.0 415.4,262.2 417.1,261.8 419.5,262.3 420.3,261.8 420.9,260.6 421.8,256.7 423.5,255.5 424.0,256.7 423.9,259.0 422.9,261.4 421.1,263.8 417.1,264.6ZM574.1,264.6 572.9,263.8 572.7,263.0 573.5,262.4 576.2,263.0 576.6,263.8 576.1,264.6 574.2,264.6ZM625.4,260.6 625.3,259.0 625.6,258.5 626.6,258.2 627.1,258.9 627.1,259.8 626.4,261.1 625.6,260.9ZM550.0,259.8 550.0,258.2 552.1,257.1 553.7,257.0 555.2,258.2 555.3,259.0 554.5,260.1 552.1,260.5 550.6,260.4ZM588.6,259.8 587.8,259.0 587.6,258.2 588.4,255.9 590.8,254.4 592.4,254.3 593.2,255.6 593.1,256.7 590.0,259.7 589.2,260.0ZM609.1,259.8 608.8,257.4 609.0,256.5 609.8,256.1 612.5,258.2 613.0,259.0 612.6,259.8 611.4,260.5 609.8,260.2ZM660.0,259.0 658.8,258.2 658.7,257.4 660.3,257.4 661.1,258.2 661.2,259.0 660.3,259.1ZM457.2,256.7 458.2,255.0 459.0,254.8 459.7,255.9 459.4,256.7 457.4,257.1ZM535.1,256.7 533.4,255.1 533.3,254.3 534.0,253.9 535.6,253.8 537.9,255.1 537.9,255.9 537.1,257.0 535.6,257.0ZM436.7,255.9 436.0,254.3 437.7,253.2 439.2,253.5 440.3,255.1 439.4,255.9 436.9,256.0ZM411.1,253.5 411.6,253.4 411.6,254.0ZM403.7,327.7 408.4,327.7 407.9,326.1 406.9,325.8 404.5,326.5 403.6,327.7ZM616.9,327.7 618.1,327.7 617.7,326.7 616.9,327.7ZM584.5,315.1 587.7,315.4 588.7,314.3 588.7,313.5 587.7,312.5 586.9,312.5 584.3,314.3 584.3,315.1ZM591.6,313.7 592.5,313.5 592.4,312.4 591.4,312.7 591.3,313.5ZM596.4,312.2 597.1,312.4 597.7,311.9 598.2,310.3 597.6,309.6 596.4,309.0 594.9,309.6 594.6,310.3 594.8,311.1 596.0,311.9ZM559.2,287.8 559.7,287.4 558.5,287.4ZM405.3,278.2 406.1,278.5 406.8,278.0 406.1,275.9 405.3,276.7 405.1,278.0ZM441.6,277.2 447.1,277.2 448.1,276.4 447.9,275.6 444.8,275.2 443.2,273.6 442.4,273.5 440.4,274.0 440.0,274.8 440.7,276.4 441.5,277.2ZM449.5,271.0 451.1,271.5 451.5,270.1 451.1,269.1 450.3,268.9 449.3,269.3 448.7,270.1 449.3,270.9ZM477.1,270.3 478.7,270.9 479.8,267.7 479.8,266.9 479.0,266.1 476.4,265.7 475.3,266.1 474.8,267.7 475.1,268.5 476.9,270.1ZM495.3,264.9 496.1,264.6 496.1,262.2 495.3,260.7 493.7,259.6 492.1,260.8 491.6,262.2 494.9,264.6ZM365.0,251.7 366.8,250.3 364.2,250.3 364.2,251.8Z" fill="#f5f1e4" fill-rule="evenodd"/><path d="M364.2,327.2 364.2,327.7 364.9,327.7ZM372.9,327.7 374.8,327.7 374.5,327.1 373.7,326.8 372.5,327.7ZM379.2,327.7 383.1,327.7 383.5,326.1 384.0,325.7 385.6,325.9 386.2,327.7 390.2,327.7 391.1,326.3 393.4,325.3 395.0,323.6 395.8,323.4 397.4,323.6 399.8,324.8 401.5,323.0 401.7,321.4 399.8,319.8 399.0,319.5 395.8,319.8 389.5,319.6 387.9,320.5 386.4,322.2 384.8,322.8 383.2,325.2 377.7,322.1 376.1,319.7 375.3,319.1 372.9,318.4 372.1,318.5 371.3,319.8 371.6,321.4 373.7,322.1 376.9,322.3 377.6,323.0 379.2,327.7ZM404.5,327.7 407.1,327.7 406.1,326.8 405.3,326.9 404.4,327.7ZM412.4,327.7 414.5,327.7 413.2,326.0 412.4,326.2 411.8,327.7ZM417.1,327.7 431.9,327.7 432.1,326.1 431.2,322.2 430.6,321.4 426.6,320.6 425.6,321.4 425.8,324.6 425.3,325.3 422.7,325.7 419.5,327.2 417.9,326.8 416.7,327.7ZM440.0,327.7 448.0,327.7 447.2,323.8 447.9,323.3 450.3,323.2 450.6,323.0 450.4,322.2 448.7,321.4 447.1,322.4 445.2,323.0 443.3,325.3 440.8,325.5 440.0,325.9 439.5,327.7ZM453.5,327.7 459.5,327.7 460.0,324.6 459.0,321.3 458.2,320.7 457.4,321.1 456.7,323.0 455.8,323.8 452.6,324.6 452.5,325.3 453.3,327.7ZM464.5,327.7 472.8,327.7 474.0,326.4 476.2,325.3 476.2,324.6 474.8,323.0 474.6,322.2 474.9,320.6 476.4,319.6 479.5,319.7 481.1,319.2 481.8,319.8 481.6,322.2 482.7,322.8 483.5,322.7 485.0,321.4 485.8,321.3 486.4,322.2 487.2,325.3 487.3,327.7 490.3,327.7 491.6,324.6 492.9,322.9 494.5,322.6 496.1,323.2 499.2,321.4 503.2,321.9 505.6,320.9 507.9,321.1 509.5,322.0 512.7,320.7 514.2,318.7 515.8,318.1 517.4,316.5 518.2,316.5 522.1,318.9 522.5,319.8 521.8,322.2 520.6,323.4 520.0,325.3 516.8,327.7 538.3,327.7 538.7,326.6 539.5,326.3 540.7,326.9 541.1,327.7 543.2,325.3 543.2,324.6 541.1,321.7 540.3,321.7 537.9,323.6 535.6,324.4 531.6,323.3 527.7,324.6 523.8,324.6 523.5,323.8 525.3,321.8 529.5,315.9 532.8,313.5 534.0,313.2 535.6,313.5 537.9,315.3 541.1,315.1 540.6,311.1 541.1,310.3 541.9,310.2 545.0,312.5 545.6,313.5 545.6,314.3 545.0,315.3 542.7,315.9 545.8,318.5 549.4,319.8 550.7,322.2 552.7,323.8 553.0,327.7 562.0,327.7 562.6,324.6 562.3,323.8 561.6,323.4 557.7,324.8 554.2,323.8 553.7,323.0 555.1,320.6 555.3,319.0 552.9,318.4 552.2,317.4 553.2,315.1 553.0,314.3 552.2,313.5 552.3,311.9 552.9,311.0 554.6,310.3 558.2,306.4 558.5,301.9 556.1,300.5 555.4,299.3 555.5,298.5 559.2,296.1 560.4,293.0 559.7,292.2 556.9,291.1 554.9,289.0 552.1,287.9 550.6,287.6 548.2,287.8 545.0,286.5 541.1,286.6 538.7,284.5 535.6,284.3 534.8,283.5 534.3,278.0 534.8,275.7 537.1,275.5 538.7,275.8 541.1,277.2 544.2,277.6 550.6,276.4 550.6,275.6 549.8,273.2 551.1,270.1 551.3,267.7 552.1,264.3 552.9,264.0 553.6,264.6 553.6,265.3 552.6,267.7 553.1,269.3 554.5,269.6 557.7,268.6 559.2,268.9 560.8,267.1 563.2,266.3 565.2,264.6 565.4,263.8 564.2,262.2 564.2,261.4 564.8,260.2 565.6,259.6 566.4,259.8 567.1,260.6 567.4,262.2 567.9,262.9 570.3,262.8 572.7,261.2 573.5,261.1 576.6,262.2 577.4,263.0 577.2,264.6 576.4,265.3 575.0,265.7 571.9,265.1 571.3,266.1 571.4,267.7 574.5,270.1 575.0,270.8 575.3,270.1 576.9,269.3 580.6,269.7 582.1,269.3 583.7,271.6 584.5,271.8 586.1,270.9 586.9,267.7 587.7,266.6 589.2,268.0 590.8,268.6 591.6,268.1 592.6,266.1 593.2,265.8 594.4,266.1 595.3,266.9 595.4,267.7 594.0,270.7 590.0,272.5 587.2,272.4 586.7,273.2 587.1,274.0 590.8,276.4 594.0,277.5 597.1,277.6 599.7,279.6 605.0,281.2 606.6,281.2 607.4,280.8 608.5,279.6 609.4,277.2 610.6,276.6 611.4,276.7 614.0,278.8 615.5,281.1 617.7,281.7 619.3,281.4 624.8,278.0 624.9,276.4 625.6,275.2 626.4,274.6 628.7,274.6 631.2,275.6 631.7,276.4 631.9,278.2 632.7,278.8 639.0,279.2 641.7,280.3 642.6,282.7 642.8,285.9 644.3,288.2 645.3,288.7 646.4,288.2 648.0,285.1 648.2,281.1 647.7,279.6 644.5,280.5 642.9,280.3 642.4,279.6 643.7,277.4 645.3,276.8 647.7,278.2 650.0,277.2 654.0,276.9 657.5,278.0 658.4,278.8 658.5,279.6 657.1,281.9 656.8,284.3 655.6,285.1 654.0,287.9 652.3,289.0 654.0,290.5 655.6,292.9 658.7,292.0 661.9,292.5 663.5,292.3 664.3,292.8 664.3,294.6 665.2,296.1 669.0,297.9 669.4,299.3 668.5,302.4 668.1,306.4 669.4,308.0 669.5,310.3 668.9,311.1 667.4,311.8 666.6,311.5 665.8,310.2 665.0,309.8 663.5,310.0 662.1,309.6 662.1,308.8 664.3,306.4 664.6,305.6 664.6,303.2 663.5,301.8 662.7,301.7 661.1,303.0 660.3,303.2 656.4,303.2 653.5,304.8 652.4,305.0 651.6,304.7 650.0,303.2 648.5,302.7 647.2,299.3 646.1,298.2 640.0,300.9 639.4,301.7 639.2,304.8 638.1,308.8 635.8,312.6 634.3,312.8 633.0,313.5 632.4,315.1 632.7,315.9 634.3,317.2 636.6,317.3 639.8,318.6 640.6,318.3 640.9,317.4 641.0,315.9 640.4,314.3 641.4,313.8 642.9,315.2 645.3,316.0 646.0,316.7 646.9,319.2 648.5,319.8 651.6,320.2 654.5,322.2 654.6,323.0 654.2,323.8 651.5,326.1 650.5,327.7 659.2,327.7 659.1,326.1 659.5,325.5 662.7,324.1 664.3,324.5 667.4,326.3 668.3,326.1 669.0,325.3 669.0,324.6 668.1,323.0 665.8,321.4 664.3,321.2 662.7,322.0 661.9,321.5 661.0,319.8 661.2,318.2 660.3,316.0 657.9,314.8 657.1,312.6 654.4,311.1 654.0,310.0 654.8,309.8 657.1,310.0 659.5,309.4 660.8,310.3 661.1,311.9 661.9,313.2 662.7,313.5 665.8,312.4 668.2,313.6 670.6,313.1 672.8,310.3 673.7,310.0 674.5,310.2 675.2,311.1 675.7,313.5 676.7,315.1 676.7,315.9 675.3,318.3 672.1,322.2 671.7,323.8 672.7,325.3 674.7,326.1 675.4,327.7 678.7,327.7 678.3,326.9 676.2,325.3 675.2,320.6 676.1,319.7 679.9,321.4 680.0,323.3 680.8,324.4 681.4,323.8 680.1,321.4 681.6,319.8 683.8,319.0 683.4,318.2 681.6,318.0 680.6,315.9 678.7,314.3 679.1,312.7 680.0,311.6 683.2,312.2 685.9,308.8 683.9,307.2 683.0,304.8 680.9,301.7 681.1,300.9 682.6,299.3 683.2,297.7 681.4,296.1 680.0,294.0 678.5,293.0 677.7,293.3 676.1,295.9 674.5,295.6 671.4,295.7 667.8,291.4 667.2,289.0 666.6,288.2 664.3,288.1 661.9,289.4 660.3,289.2 657.9,287.9 657.2,284.3 657.8,283.5 660.3,282.6 665.0,282.9 665.8,283.0 668.2,285.7 669.0,285.7 674.1,283.5 674.1,282.7 672.4,280.3 671.9,278.8 672.2,278.0 673.7,277.5 675.7,278.8 676.6,282.7 675.4,285.1 674.0,290.6 674.4,291.4 677.7,291.8 681.6,290.2 682.4,289.0 683.3,285.9 686.4,283.0 686.4,271.5 685.6,270.9 684.1,268.5 683.2,267.7 679.9,266.9 679.6,266.1 680.5,263.8 679.9,260.6 680.4,259.8 681.6,259.6 682.4,262.4 683.2,262.9 686.4,263.1 686.4,257.3 684.0,258.0 683.2,257.4 684.2,253.5 683.2,252.0 682.4,251.8 680.7,252.7 678.5,251.1 676.9,251.1 675.5,250.3 672.0,250.3 671.7,254.3 669.8,255.4 666.6,256.4 665.5,255.9 664.3,253.3 663.0,251.9 663.9,250.3 660.8,250.3 661.6,251.9 661.2,252.7 659.5,253.7 656.1,251.9 654.3,250.3 649.4,250.3 648.5,253.3 646.1,255.6 645.3,255.9 642.1,252.9 639.0,251.5 638.0,250.3 636.0,250.3 633.5,252.3 632.1,255.9 631.1,256.1 629.9,255.9 629.2,255.1 627.9,251.4 624.8,251.5 621.2,254.3 620.3,256.7 619.6,257.4 618.9,260.6 617.7,262.1 616.9,261.8 615.3,259.5 611.4,261.4 608.2,260.6 607.6,257.4 606.5,255.1 608.2,254.7 610.6,252.8 611.6,253.5 611.7,255.9 612.2,256.7 614.5,258.0 615.3,257.9 616.9,255.3 618.8,253.5 618.6,252.7 617.7,251.8 616.1,250.9 614.5,250.8 613.7,250.3 601.8,250.3 602.1,252.7 601.7,253.5 600.3,254.7 599.5,254.6 597.9,252.9 597.1,252.6 595.6,253.2 594.7,254.3 594.1,256.7 592.1,259.0 592.3,261.4 591.9,262.2 590.8,263.0 589.2,263.1 588.5,262.9 587.7,262.1 586.8,260.6 586.5,259.0 587.1,255.9 589.5,253.5 589.7,252.7 587.1,250.3 585.0,250.3 584.5,251.6 583.7,252.3 580.5,251.9 579.2,251.1 578.9,250.3 573.4,250.3 573.5,252.7 572.7,254.0 571.9,254.4 570.3,253.8 569.0,252.7 568.4,250.3 564.7,250.3 564.0,251.6 562.4,251.9 560.3,255.1 557.7,256.7 557.2,257.4 556.9,259.8 556.1,260.8 552.9,261.6 551.4,262.5 548.2,262.5 546.0,266.1 544.2,267.3 541.1,266.7 540.3,267.1 539.7,268.5 540.5,270.9 539.5,271.4 537.9,271.1 535.8,269.3 534.5,263.8 536.8,261.4 536.9,260.6 534.3,257.4 532.4,256.0 531.4,256.7 531.4,259.8 533.9,263.0 533.7,263.8 530.0,266.0 529.9,266.9 533.4,269.3 533.9,270.1 534.8,272.4 534.8,273.8 534.0,275.4 532.1,273.2 530.8,273.1 529.5,274.0 528.9,275.6 531.9,281.1 531.8,285.1 530.0,285.9 528.5,284.2 524.5,284.3 523.6,283.5 522.9,280.4 522.1,278.8 518.2,279.7 517.2,280.3 517.2,281.1 520.4,284.3 520.6,285.9 519.0,286.5 515.0,285.7 513.7,285.1 512.7,282.0 510.3,278.8 509.5,278.1 507.1,278.4 504.6,274.8 504.2,273.2 504.5,272.4 506.3,270.9 506.4,270.1 504.8,266.7 504.0,266.0 503.3,266.1 502.4,269.3 502.2,274.0 500.1,278.0 499.8,279.6 504.0,281.3 504.6,281.9 504.6,283.5 502.8,285.9 502.4,287.6 501.6,287.5 501.6,285.9 500.9,285.1 498.5,283.9 497.7,283.9 496.6,285.1 496.1,287.5 493.0,289.8 492.4,290.6 492.7,291.4 493.7,291.9 497.3,292.2 497.9,293.0 497.5,294.6 496.1,296.1 493.7,297.4 491.4,299.8 489.8,298.8 488.2,298.5 486.6,299.1 484.2,301.0 482.7,301.3 479.5,301.2 478.7,301.5 477.2,303.2 477.9,305.6 477.6,306.4 476.4,307.1 474.8,306.7 474.1,307.2 472.4,309.6 470.8,311.1 469.2,310.8 468.2,311.1 468.2,313.5 467.7,314.3 466.1,314.1 463.7,314.7 462.1,313.9 459.8,311.8 456.0,311.1 455.4,309.6 456.6,308.2 459.0,307.0 460.5,305.6 461.2,304.0 460.9,303.2 459.0,301.8 456.6,301.9 451.9,300.0 448.7,299.3 447.3,297.7 446.3,297.3 436.1,298.9 433.7,297.3 432.9,297.5 431.8,300.1 430.6,300.5 429.4,299.3 428.7,296.1 428.2,295.4 425.0,293.5 423.1,293.8 422.7,298.5 421.1,300.4 419.4,300.1 416.3,296.6 414.8,296.6 412.4,297.4 411.6,297.3 410.9,296.1 411.0,295.3 413.8,293.0 414.8,291.3 416.1,290.6 416.1,289.8 415.0,288.2 414.0,285.8 412.4,285.9 408.3,288.2 407.8,291.4 408.5,292.4 408.9,294.6 408.5,296.1 407.3,297.7 405.3,298.8 401.3,297.3 400.2,297.7 399.8,298.5 401.6,300.1 403.7,301.4 404.5,302.4 404.3,307.2 405.6,309.6 405.8,311.1 406.9,312.1 407.7,312.1 410.0,310.9 411.6,310.9 414.0,311.9 418.0,312.7 419.5,314.5 420.7,315.1 421.2,314.3 420.3,311.1 421.1,310.2 424.2,310.0 425.0,309.6 425.8,304.8 427.4,303.6 429.0,303.2 430.6,303.8 430.5,305.6 430.0,307.2 427.7,310.3 428.2,311.1 429.0,311.5 431.3,311.9 432.9,312.8 433.6,314.3 433.2,316.7 433.7,317.5 435.3,317.6 438.5,315.7 440.8,315.2 442.4,315.4 444.8,316.7 445.6,316.7 447.4,314.3 448.3,310.3 449.5,309.6 451.1,309.6 453.5,311.2 455.8,311.5 457.2,314.3 458.2,315.2 463.7,316.0 464.5,316.7 466.1,319.8 466.6,323.8 464.5,326.1 463.7,327.7ZM651.1,317.4 649.7,315.1 649.7,313.5 650.0,313.0 650.8,313.2 653.9,316.7 653.2,317.6 651.6,318.0ZM645.1,312.7 643.5,310.3 643.4,307.2 643.6,306.4 644.5,305.8 647.7,304.2 650.0,306.7 651.1,308.8 648.5,311.9 645.3,313.0ZM439.8,308.0 439.0,304.0 440.8,301.8 441.6,301.4 442.4,301.6 444.0,302.8 447.1,301.6 447.9,301.7 448.3,303.2 447.1,305.2 445.6,305.5 443.2,304.5 442.0,305.6 441.6,308.2 440.8,308.5 440.0,308.2ZM484.7,307.2 484.6,306.4 485.0,306.1 485.5,306.4 485.5,307.2 485.0,307.5ZM674.4,304.8 675.3,303.8 676.0,304.0 675.3,305.1 674.5,305.1ZM675.3,298.5 676.1,296.2 676.9,297.0 677.0,298.5 676.1,298.9 675.3,298.6ZM549.4,296.1 549.8,295.3 550.6,295.3 550.7,296.1 549.8,296.6ZM678.8,279.6 677.9,278.8 677.3,277.2 677.4,276.4 678.5,274.8 680.0,274.1 681.6,274.0 683.2,274.1 684.5,274.8 684.6,276.4 683.9,278.0 680.8,279.7 679.3,279.8ZM614.6,277.2 613.5,275.6 613.4,274.8 614.5,274.4 615.4,274.8 616.3,276.4 616.1,277.5 615.3,277.8ZM599.6,276.4 599.3,275.6 600.3,274.7 601.1,275.0 601.3,275.6 600.3,276.5ZM594.8,275.6 594.8,273.7 595.6,273.4 596.4,275.6 595.6,276.3ZM635.7,274.8 633.3,271.7 633.5,270.9 635.0,269.7 635.8,269.9 636.9,270.9 638.2,273.2 638.2,274.2 637.4,275.4 636.6,275.5 635.8,275.0ZM623.9,272.4 623.6,271.7 624.5,269.3 623.2,266.9 621.6,265.6 620.8,265.7 619.9,266.9 619.3,268.9 618.5,268.7 616.9,266.9 616.6,265.3 616.9,264.0 617.7,263.6 620.0,265.0 622.4,265.1 624.8,265.9 626.3,266.9 628.2,269.3 628.3,270.1 626.4,272.3 625.6,272.7 624.0,272.5ZM582.6,267.7 582.4,266.9 582.9,266.8 582.9,268.0ZM630.9,266.1 630.6,265.3 630.9,264.6 631.9,263.9 633.5,264.5 634.3,265.3 634.3,266.1 633.5,266.7 631.1,266.4ZM625.1,262.2 624.2,260.6 623.6,258.2 623.7,257.4 626.4,257.0 627.9,257.3 628.3,258.2 627.5,261.4 626.4,262.5 625.6,262.5ZM653.0,262.2 652.2,261.4 651.9,258.2 650.0,255.9 650.0,255.1 654.0,253.5 654.6,254.3 654.7,255.1 653.0,258.2 654.4,259.8 654.6,261.4 654.0,262.1 653.2,262.3ZM660.6,260.6 658.7,259.9 657.2,258.2 657.5,256.7 659.5,255.3 661.9,257.0 664.0,259.8 663.5,260.7 661.1,260.7ZM666.3,259.8 667.5,259.8 666.6,260.1ZM674.5,259.8 674.2,257.4 672.5,255.9 672.0,255.1 672.1,254.9 674.5,255.0 675.6,255.9 675.7,257.4 676.4,259.0 676.0,259.8 675.3,260.1 674.5,259.8ZM636.4,258.2 636.0,257.4 636.1,256.7 637.4,255.2 638.2,255.4 638.8,256.7 638.6,258.2 637.4,258.8 636.6,258.4ZM604.7,253.5 605.2,253.5 605.0,254.1ZM492.9,327.7 495.3,327.7 494.5,326.3 492.9,326.8 492.2,327.7ZM504.0,327.7 508.5,327.7 508.7,324.2 507.9,323.6 504.0,323.3 503.7,324.6 503.9,327.7ZM513.5,327.7 515.4,327.7 515.0,326.3 514.2,326.0 513.5,326.5 512.8,327.7ZM545.0,327.7 549.8,327.7 549.0,326.7 545.8,325.3 545.0,325.6 544.6,327.7ZM566.4,327.7 576.5,327.7 575.9,323.8 581.3,323.0 579.0,321.2 575.0,317.0 574.2,317.4 573.9,320.6 574.2,322.2 575.0,323.7 575.4,323.8 571.1,325.6 570.1,325.3 568.0,323.0 566.9,323.0 566.1,323.8 565.7,327.7ZM586.9,327.7 592.5,327.7 590.0,324.5 588.5,323.6 587.8,323.8 586.7,327.7ZM598.7,327.5 603.0,327.7 604.2,326.0 605.0,326.2 606.1,327.7 609.5,327.7 609.2,325.3 610.2,323.0 611.4,322.3 615.3,321.3 616.1,321.9 616.9,323.6 617.7,324.1 618.5,324.3 619.7,323.8 620.3,323.0 620.0,322.2 619.3,321.4 616.9,320.6 616.6,319.8 617.1,318.2 619.1,315.9 619.4,314.3 619.1,313.5 614.4,311.9 612.9,309.5 611.4,309.6 609.6,310.3 608.6,311.1 608.4,311.9 608.6,312.7 609.8,313.4 612.1,313.6 612.9,315.1 612.3,315.9 610.4,316.7 610.0,317.4 610.2,320.6 604.2,325.1 603.5,324.4 602.9,323.0 604.0,319.8 604.1,318.2 602.7,316.6 601.1,316.0 599.5,319.0 598.1,320.6 596.8,324.6 597.9,325.3 598.7,326.9ZM624.0,327.7 626.6,327.7 625.9,325.3 626.0,324.6 627.1,323.6 629.5,323.2 630.7,321.4 630.1,318.2 630.2,315.9 629.6,315.1 627.2,313.5 627.4,311.9 627.9,310.0 632.5,308.0 632.8,307.2 629.5,303.5 628.7,303.3 627.6,304.0 627.3,304.8 627.6,308.0 627.1,309.0 625.6,309.2 620.8,308.5 620.2,308.8 619.9,309.6 620.4,311.1 622.0,313.5 623.2,314.1 626.4,314.3 626.1,318.2 623.4,323.0 624.3,325.3 623.4,327.7ZM634.3,327.7 636.7,327.7 637.3,326.9 639.4,326.1 640.1,325.3 640.3,324.6 640.0,323.8 639.0,323.1 637.4,323.1 635.8,324.7 634.3,325.4 633.7,326.1 633.5,327.7ZM680.8,327.7 686.4,327.6 681.6,325.5 680.5,327.7ZM369.8,324.9 370.2,324.6 369.7,324.6ZM365.0,323.8 366.6,324.0 368.3,323.0 368.6,320.6 367.4,319.2 365.8,319.0 364.2,319.5 364.2,323.6 364.9,323.8ZM411.6,323.3 413.2,323.0 413.9,322.2 414.0,321.4 413.6,320.6 412.4,320.2 411.6,320.5 410.9,322.2 411.2,323.0ZM515.0,322.4 515.4,322.2 514.9,322.2ZM559.2,318.3 561.6,318.6 564.0,316.7 567.1,316.4 568.2,315.1 567.9,314.4 567.1,313.8 564.8,313.9 559.2,311.5 557.7,311.8 556.7,312.7 556.5,313.5 556.4,316.7 556.9,317.5 559.0,318.2ZM425.0,317.2 425.8,317.1 425.8,316.7 425.0,316.7ZM364.4,315.9 365.4,315.1 364.2,315.0 364.2,315.9ZM578.2,315.1 579.0,314.6 579.5,312.7 579.7,309.6 579.0,309.1 578.5,311.1 577.3,313.5 577.4,314.6 578.2,315.1ZM367.4,314.4 369.0,314.9 370.6,314.9 371.3,314.3 371.5,311.1 372.2,310.3 378.5,308.0 382.1,309.6 382.9,310.3 383.2,311.7 385.4,310.3 386.2,308.0 388.7,306.0 390.3,305.7 391.9,306.4 394.2,304.3 396.0,304.8 397.0,306.4 398.2,309.6 401.4,309.6 401.6,308.8 401.2,308.0 399.0,306.5 398.5,305.6 399.4,302.4 398.9,298.5 396.6,297.2 395.8,296.1 395.3,294.6 395.5,293.8 396.5,293.0 401.3,291.6 402.7,290.6 404.6,283.5 403.7,282.0 402.1,281.3 400.6,281.6 399.0,282.5 395.1,279.6 393.5,277.7 391.6,277.2 392.5,272.4 392.2,269.3 392.4,268.5 393.5,267.9 395.0,267.6 399.0,268.2 402.1,269.5 406.9,270.5 411.6,269.2 413.2,269.6 416.3,271.8 418.7,272.0 421.9,272.9 424.2,272.8 426.6,271.4 428.2,271.7 430.6,272.9 432.1,272.9 433.7,271.6 436.9,267.9 438.5,266.9 438.9,266.1 437.7,264.8 436.9,264.5 434.5,266.0 431.2,265.3 431.4,264.6 432.8,263.0 432.3,259.0 432.9,258.3 435.6,258.2 435.8,257.4 434.5,255.4 432.9,254.1 432.1,253.8 429.0,254.4 428.6,253.5 429.4,252.7 430.6,252.3 433.7,252.6 436.1,252.3 437.7,251.2 438.0,250.3 423.7,250.3 424.2,250.4 425.0,251.5 425.5,253.5 424.6,260.6 421.9,264.8 421.1,265.2 417.1,265.6 414.8,264.9 413.2,263.8 412.9,263.0 413.6,260.6 411.1,257.4 409.4,254.3 410.0,250.3 388.6,250.3 384.8,252.4 381.6,253.2 381.3,253.5 381.7,254.3 384.8,256.3 385.3,257.4 384.8,259.2 381.1,261.4 380.3,265.3 381.8,270.9 382.4,271.4 384.0,271.1 386.7,266.9 386.6,263.0 387.1,262.0 388.7,261.5 390.3,261.5 391.7,262.2 393.0,263.8 393.0,264.6 391.9,266.5 389.3,267.7 387.9,272.3 387.3,273.2 384.8,275.1 382.4,275.4 381.6,276.1 380.8,278.0 381.3,281.1 380.8,282.2 380.0,282.9 378.5,282.5 377.5,281.1 377.4,280.3 378.4,278.0 377.5,275.6 377.4,274.0 375.8,271.7 375.5,268.5 372.1,267.3 370.1,264.6 371.0,263.0 373.9,260.6 373.9,259.0 373.4,258.2 372.1,257.7 367.4,258.4 366.6,259.0 366.2,263.0 367.2,264.6 366.5,265.3 364.2,266.2 365.8,266.8 366.6,267.7 367.1,269.3 366.9,272.4 367.8,274.8 367.2,277.2 368.0,279.6 366.9,281.9 369.8,283.6 371.3,287.4 369.0,287.6 366.6,286.3 364.2,286.3 364.2,292.7 365.7,292.2 367.4,290.7 367.6,291.4 365.8,296.1 366.6,297.9 368.2,298.0 372.1,295.1 372.9,294.9 373.5,295.3 373.7,296.1 372.9,296.9 371.3,297.2 369.3,298.5 367.4,303.5 364.2,303.3 364.2,310.6 366.6,308.6 368.2,308.8 368.6,309.6 368.7,311.1 367.1,314.3ZM377.9,305.6 377.3,304.0 377.4,303.2 378.5,302.6 379.2,302.7 380.0,303.3 380.3,304.8 379.2,306.1 378.5,306.2ZM387.5,297.7 387.9,297.4 388.5,297.7 387.9,297.8ZM383.7,280.3 383.6,278.8 384.8,276.0 385.6,275.7 387.8,277.2 389.1,278.8 386.3,280.6 384.8,280.9 384.0,280.6ZM400.4,265.3 399.7,263.8 400.6,262.5 402.9,261.6 404.2,262.2 405.3,264.6 405.3,265.4 404.5,266.0 400.6,265.5ZM408.2,264.6 408.0,263.0 408.3,262.2 409.2,261.8 410.0,262.1 410.3,263.0 409.9,263.8 409.2,264.6 408.5,264.8ZM395.4,263.8 395.0,263.0 395.4,261.4 397.8,255.9 402.1,252.8 403.0,252.7 403.7,253.5 403.7,254.6 400.6,256.7 398.4,262.2 396.9,263.8 395.8,264.1ZM391.4,255.1 391.9,254.0 392.7,253.8 393.8,254.3 393.5,255.2 391.9,255.4ZM614.5,308.4 616.6,308.0 617.4,305.6 618.5,304.5 621.6,304.9 623.2,304.6 624.0,304.0 624.3,303.2 623.9,302.4 621.6,300.3 620.0,299.4 616.9,300.4 612.9,300.5 612.2,300.9 611.9,303.2 613.9,306.4 614.2,308.0ZM561.6,307.5 563.2,307.8 564.8,307.3 566.1,306.4 566.6,305.6 566.5,304.8 564.8,303.0 563.2,303.1 562.0,304.8 561.2,307.2ZM586.1,307.3 587.7,307.5 589.1,306.4 589.4,304.8 588.9,303.2 590.8,300.2 594.0,299.4 595.6,303.1 597.9,303.5 600.3,304.5 603.5,304.3 603.7,303.2 603.5,303.0 600.3,302.9 599.4,302.4 599.0,301.7 599.0,297.7 600.8,296.9 607.4,298.0 610.6,298.1 615.3,296.6 623.2,296.8 624.7,297.7 625.6,299.0 627.1,299.5 629.9,297.7 638.2,297.7 642.9,296.9 646.1,297.3 650.5,295.3 649.7,294.6 646.9,293.9 637.4,293.8 633.5,293.3 621.6,294.1 612.9,293.6 609.0,294.1 605.8,293.6 601.9,294.5 598.3,294.6 597.8,295.3 597.9,296.9 597.1,297.7 595.6,298.2 594.8,297.7 594.7,295.3 594.0,294.3 593.2,294.1 590.8,295.2 587.7,294.4 586.1,294.5 584.6,295.3 583.5,297.7 580.7,300.1 580.8,300.9 583.4,303.2 583.3,305.6 584.1,306.4 585.9,307.2ZM686.4,304.9 686.4,301.0 684.8,301.9 684.0,303.2 684.2,304.0 686.1,304.8ZM364.3,302.4 364.8,301.7 364.2,301.4 364.2,302.6ZM634.3,301.3 635.8,301.5 637.4,300.9 637.8,300.1 637.4,298.9 636.6,298.6 635.0,298.7 634.2,299.3 633.8,300.9ZM568.7,299.7 569.5,299.8 569.9,299.3 570.7,296.9 572.1,295.3 571.9,294.6 569.5,294.8 566.4,294.1 565.3,294.6 568.2,299.3ZM653.2,297.8 654.0,298.0 654.3,297.7 654.6,296.9 654.3,296.1 653.2,296.4 652.9,296.9 653.1,297.7ZM419.5,293.9 421.4,293.8 420.3,292.8 419.4,293.8ZM686.4,292.3 686.4,291.8 686.2,292.2ZM633.5,285.4 634.3,285.1 634.3,284.1 633.5,283.8 632.9,284.3 633.1,285.1ZM488.2,284.4 490.6,284.9 492.4,284.3 492.9,283.5 489.9,281.9 487.4,277.9 486.6,277.4 485.8,277.8 485.3,278.8 485.0,280.7 488.0,284.3ZM470.8,284.0 471.6,284.2 472.1,283.5 471.7,282.7 470.8,282.3 470.2,282.7 470.4,283.5ZM496.9,282.3 497.7,282.5 498.5,282.0 499.2,280.3 499.1,279.6 496.1,278.1 495.6,278.8 495.6,280.3 496.4,281.9ZM628.7,282.0 630.3,282.2 630.7,281.9 630.8,280.3 630.3,279.6 625.6,278.8 624.8,279.0 625.2,280.3 628.4,281.9ZM466.9,279.7 467.6,279.6 467.7,278.8 466.9,276.9 465.6,277.2 465.2,278.0 465.5,278.8 466.5,279.6ZM474.8,279.7 475.6,279.9 477.9,279.4 479.2,278.0 479.2,277.2 477.1,275.3 476.4,274.9 475.6,275.1 474.2,277.2 474.2,278.8 474.7,279.6ZM564.0,277.2 566.4,277.3 575.0,276.6 577.9,274.8 577.9,273.2 576.6,271.6 575.0,270.9 573.5,272.7 571.9,272.5 570.6,271.7 569.5,269.3 568.7,269.1 565.7,270.1 565.5,270.9 566.5,272.4 565.9,273.2 564.0,274.2 561.6,274.6 559.2,273.3 558.5,273.2 556.9,273.4 555.8,274.0 556.1,274.8 560.8,277.0 563.6,277.2ZM581.4,277.4 583.7,278.0 585.3,277.2 585.0,274.0 583.7,271.8 582.1,273.0 580.4,275.6 580.3,276.4 580.9,277.2ZM365.0,276.7 366.2,276.4 364.2,276.2 364.2,276.7ZM442.4,276.4 443.0,275.6 442.4,275.1 441.5,275.6 442.3,276.4ZM492.1,275.7 496.1,276.0 498.4,274.8 499.0,274.0 499.0,273.2 496.9,272.2 494.5,272.2 490.9,274.0 491.1,274.8 491.9,275.6ZM509.5,276.3 511.9,274.9 514.2,274.2 515.0,273.2 514.7,270.1 513.9,268.5 512.7,267.4 510.3,267.3 509.6,267.7 508.2,270.9 508.3,271.7 509.6,273.2 509.2,275.6ZM459.8,274.8 461.3,274.0 460.6,273.7 459.8,273.8 459.4,274.0 459.7,274.8ZM520.6,274.9 521.4,274.5 524.5,270.9 525.8,268.5 525.4,267.7 523.7,267.2 521.5,268.5 521.2,271.7 519.7,273.2 519.5,274.0 520.4,274.8ZM477.1,268.6 477.9,268.4 478.2,267.7 477.9,267.2 477.1,267.0 476.5,267.7 477.0,268.5ZM440.0,263.8 442.4,263.1 444.0,261.3 444.8,260.9 447.9,262.3 449.5,261.7 449.9,260.6 449.5,260.2 446.7,259.8 445.6,258.3 444.8,258.4 443.2,259.7 442.4,259.5 440.0,257.0 438.5,257.0 436.3,258.2 438.0,262.2 438.5,263.0 439.8,263.8ZM493.7,262.5 494.5,262.6 494.5,261.7 493.7,261.3 493.2,262.2ZM540.3,262.4 541.1,262.5 541.4,262.2 541.1,261.1 540.3,260.5 539.5,260.9 539.4,261.4 540.0,262.2ZM467.7,262.1 469.2,261.9 470.6,260.6 470.2,258.2 469.2,256.7 468.5,256.4 467.7,256.9 466.9,261.4ZM474.8,261.6 477.1,261.8 478.6,261.4 479.0,260.6 476.4,257.8 475.6,257.6 474.8,257.9 474.0,259.8 473.8,260.6 474.2,261.4ZM547.4,261.7 548.3,260.6 548.2,257.4 552.1,254.7 553.4,254.3 552.9,253.2 551.4,252.5 550.8,251.9 550.9,250.3 547.2,250.3 546.6,251.9 544.2,253.5 542.7,253.8 540.3,253.2 539.8,254.3 539.4,256.7 540.3,258.5 546.8,261.4ZM417.9,260.8 419.5,260.7 420.1,259.8 420.7,255.1 422.3,253.5 423.4,250.3 417.5,250.3 417.1,251.5 416.3,252.0 414.8,251.6 414.2,250.3 410.2,250.3 413.0,252.7 413.6,255.1 415.6,257.4 416.0,259.8 417.3,260.6ZM483.5,259.4 484.2,259.4 485.0,258.2 484.2,258.0 483.3,259.0ZM451.1,257.5 452.1,257.4 455.0,256.1 456.4,255.1 458.2,250.3 452.0,250.3 452.4,253.5 451.9,255.1 450.3,254.8 448.7,253.9 447.9,252.6 447.4,250.3 442.5,250.3 442.1,253.5 444.8,257.1 445.6,257.4 447.1,255.7 447.9,255.4 450.9,257.4ZM504.8,257.5 505.6,257.1 506.1,255.9 506.0,255.1 505.6,254.7 504.0,254.8 503.3,255.9 504.0,257.2 504.7,257.4ZM493.7,256.3 495.3,255.9 496.8,254.3 495.6,253.5 493.7,253.3 493.1,254.3 493.3,255.9ZM462.1,255.1 462.9,255.1 463.7,254.4 463.8,253.5 463.5,252.7 462.1,252.0 460.9,252.7 460.7,253.5 461.0,254.3 462.1,255.1ZM474.0,255.4 476.4,255.4 477.1,255.1 477.5,254.3 476.4,251.8 474.6,250.3 467.4,250.3 468.5,251.3 470.7,251.9 471.8,253.5 473.7,255.1ZM555.3,255.4 556.1,255.4 557.0,254.3 557.3,253.5 556.9,252.9 554.8,255.1ZM516.6,254.8 525.3,253.4 526.2,252.7 526.3,250.3 523.0,250.3 522.1,251.6 516.6,253.7 515.9,254.3ZM508.7,253.5 510.3,254.1 511.9,254.0 513.2,253.5 513.7,252.7 511.0,250.3 508.5,250.3 508.2,252.7 508.6,253.5ZM376.1,252.9 376.9,253.3 378.4,252.7 378.5,251.9 378.0,250.3 375.5,250.3 375.5,251.9 375.9,252.7ZM530.8,252.8 534.0,252.4 537.1,253.1 539.5,252.8 540.3,252.0 540.5,250.3 529.9,250.3 529.8,251.9 530.6,252.7ZM364.5,251.1 365.6,250.3 364.2,250.3 364.2,251.2ZM491.4,251.4 492.1,251.8 492.9,251.5 493.2,250.3 490.4,250.3 491.0,251.1ZM500.8,251.2 501.8,251.1 502.5,250.3 500.2,250.3 500.8,251.1Z" fill="#dff0ee" fill-rule="evenodd"/><path d="M380.8,327.7 381.7,327.7 381.7,326.9 381.5,326.1 380.8,325.6 380.0,326.1 380.7,327.7ZM387.9,327.7 389.4,327.7 389.5,326.1 388.7,325.4 387.6,326.1 387.2,327.7ZM421.9,327.7 424.0,327.7 423.5,327.0 422.7,326.9 421.2,327.7ZM429.8,327.7 430.6,327.7 430.6,326.9 429.8,326.8 429.6,327.7ZM441.6,327.7 442.5,327.7 441.6,327.2 441.2,327.7ZM466.1,327.7 470.9,327.7 474.1,324.6 473.2,320.8 471.6,320.4 470.2,318.2 470.3,317.4 472.2,316.7 474.0,316.8 475.6,318.4 477.1,318.9 478.7,318.9 481.1,317.9 481.9,318.0 484.2,319.9 487.2,320.6 487.6,321.4 487.6,323.8 488.2,324.9 489.0,325.4 489.8,325.2 492.1,322.4 493.7,321.6 496.9,321.3 498.5,320.5 501.6,320.5 504.0,319.8 507.1,319.7 509.5,318.9 511.9,318.8 513.5,317.5 515.8,316.7 517.4,315.1 518.2,315.2 520.6,317.0 524.5,318.6 525.3,318.6 526.7,317.4 528.5,314.4 531.6,312.9 534.8,312.5 536.4,313.0 537.9,314.1 538.7,314.2 539.5,313.7 539.7,312.7 538.7,308.0 543.5,309.0 544.2,310.3 546.6,312.4 546.7,314.3 546.2,316.7 546.5,317.4 549.0,317.9 549.7,317.4 550.1,316.7 550.3,313.5 551.1,310.3 550.6,309.4 547.4,308.5 546.9,308.0 547.0,307.2 548.2,306.2 550.6,306.4 553.7,305.4 556.1,306.0 556.8,305.6 556.9,304.7 555.3,304.3 554.5,303.1 553.9,299.3 554.6,297.7 558.2,296.1 558.7,295.3 558.8,293.8 558.3,293.0 556.9,292.6 554.5,293.3 552.6,294.6 552.0,296.9 551.4,297.7 549.8,297.9 548.4,296.9 548.4,295.3 549.8,293.9 553.5,291.4 553.9,290.6 553.5,289.8 551.4,288.8 549.4,289.0 548.2,290.2 547.4,290.2 546.5,288.2 545.0,287.3 540.3,287.2 538.7,286.1 537.1,285.8 533.2,286.2 529.2,287.1 528.5,286.9 526.9,285.4 526.1,285.3 522.9,285.5 520.6,287.3 511.9,286.1 511.1,287.0 510.3,287.2 510.0,286.7 510.3,286.1 511.9,285.3 512.0,283.5 510.1,280.3 509.5,279.9 508.7,280.0 507.9,281.1 508.1,282.7 506.4,284.0 505.7,285.1 505.8,288.2 505.5,289.0 504.8,289.5 502.4,289.9 500.8,289.6 499.9,288.2 499.4,285.9 498.1,285.9 497.7,286.7 497.7,289.0 499.0,292.2 499.0,293.8 496.1,297.6 493.9,298.5 493.1,299.3 492.3,302.4 490.6,304.9 489.4,304.8 489.2,304.0 489.9,302.4 489.9,300.9 489.6,300.1 488.6,299.3 487.4,299.4 484.2,301.9 482.7,302.3 479.5,302.3 478.7,303.2 478.9,305.6 478.1,307.2 474.8,309.1 471.9,312.7 470.0,314.1 469.2,315.5 466.4,316.7 466.4,318.2 467.7,321.1 468.5,322.1 470.0,323.0 470.4,324.6 470.0,325.3 467.7,325.9 465.8,327.7ZM525.0,311.9 523.9,310.3 524.0,309.6 525.3,309.0 526.1,309.2 527.5,310.3 527.7,311.3 526.9,312.3 525.3,312.2ZM485.5,309.6 484.2,308.4 483.1,306.4 484.2,305.1 485.8,304.7 486.9,305.6 487.4,308.8 489.2,308.8 489.9,309.6 489.0,310.2 487.4,309.7 485.8,309.7ZM504.6,296.9 503.3,296.1 503.2,294.6 504.0,293.4 505.6,293.2 506.7,293.8 507.2,294.6 507.2,295.3 506.4,296.6 504.8,297.0ZM504.8,327.7 508.1,327.7 507.7,325.3 506.4,324.8 505.0,325.3 504.4,327.7ZM519.8,327.7 520.6,327.7 519.8,327.4 519.3,327.7ZM524.5,327.7 536.6,327.7 536.8,326.1 536.4,325.5 531.6,324.2 525.4,326.1 524.0,327.7ZM554.5,327.7 561.2,327.7 560.8,325.8 560.0,325.3 554.5,325.8 553.9,327.7ZM567.1,327.7 575.3,327.7 575.0,326.7 574.2,326.0 570.3,326.6 568.9,326.1 567.9,325.1 567.1,326.1 566.8,327.7ZM589.2,327.7 590.1,327.7 589.2,327.6 589.1,327.7ZM656.4,327.7 657.6,327.7 657.0,326.1 657.2,324.6 656.4,324.3 655.5,325.3 655.9,326.1 656.0,327.7ZM607.4,325.7 607.4,324.5 607.2,325.3ZM390.3,325.0 391.9,324.9 393.4,323.8 394.2,322.2 394.1,321.4 393.5,320.8 391.1,320.6 389.2,321.4 389.1,322.2 389.7,324.6ZM638.2,325.2 638.4,324.6 638.1,324.6ZM600.3,323.9 600.8,323.0 600.3,322.7 600.3,323.8ZM673.7,324.3 674.4,323.8 673.8,323.0 673.3,323.8ZM365.8,323.0 366.6,322.9 367.4,322.2 367.7,321.4 367.6,320.6 366.6,319.8 364.2,320.5 364.2,322.3 365.8,323.0ZM399.0,323.0 399.8,322.8 400.1,322.2 399.3,320.6 397.4,320.5 396.3,321.4 396.7,322.2 398.9,323.0ZM658.7,323.3 659.5,323.4 660.1,323.0 659.0,321.4 657.9,318.1 655.6,317.8 653.5,319.0 653.4,319.8 654.2,320.6 657.7,321.4 658.5,323.0ZM575.8,321.7 576.6,321.8 577.2,321.4 576.6,320.1 575.8,319.6 575.0,320.6 575.4,321.4ZM601.1,321.8 602.7,319.9 602.2,319.0 601.9,318.9 601.1,319.7 601.0,321.4ZM552.1,320.9 552.6,320.6 552.1,320.3 551.8,320.6ZM612.9,320.6 614.1,319.8 614.1,319.0 613.7,318.7 612.9,318.6 612.4,319.0 612.2,319.8 612.8,320.6ZM559.2,316.9 560.8,317.3 561.6,316.9 563.0,315.1 562.5,314.3 560.0,313.0 558.5,313.0 557.7,314.2 557.6,315.1 558.8,316.7ZM627.9,316.8 628.7,316.6 627.9,315.9 627.9,316.7ZM435.3,316.0 435.3,315.4 435.0,315.9ZM616.9,316.1 617.7,315.9 617.9,314.3 616.9,313.6 615.6,313.5 615.0,314.3 615.3,315.1 616.3,315.9ZM459.0,314.3 459.8,314.2 460.0,313.5 459.0,312.7 458.2,313.0 458.1,313.5 458.9,314.3ZM438.5,313.9 440.0,314.3 444.8,314.0 445.9,313.5 446.2,312.7 445.6,311.5 442.4,311.2 439.2,309.5 438.4,308.8 437.7,306.2 435.3,305.9 434.4,304.8 435.1,303.2 436.1,302.2 437.7,302.4 439.3,301.7 440.1,300.1 439.2,299.4 437.7,299.6 436.1,300.5 433.7,300.7 433.2,301.7 433.4,304.0 433.0,306.4 433.5,307.2 436.6,309.6 436.9,311.9 437.9,313.5ZM623.2,312.8 624.0,313.1 625.4,312.7 626.1,311.9 626.1,311.1 625.3,310.3 622.4,309.8 621.9,310.3 623.1,312.7ZM610.6,312.0 611.6,311.9 612.0,311.1 611.4,310.8 610.6,311.0 610.5,311.9ZM639.0,311.9 642.1,312.3 642.8,311.9 642.3,306.4 642.9,305.6 645.2,304.0 645.7,303.2 645.7,301.7 645.1,300.9 642.9,300.6 640.9,301.7 639.5,308.8 638.4,311.1 639.0,311.9ZM677.7,312.3 678.7,308.8 679.5,308.0 681.8,307.2 681.4,304.8 680.0,302.9 679.3,302.4 678.5,302.5 677.1,304.8 675.0,307.2 674.8,308.0 676.8,310.3 677.0,311.9ZM414.8,311.2 418.7,311.4 420.3,309.7 424.2,308.3 424.8,304.8 428.2,300.1 428.2,296.9 427.4,295.7 425.8,294.9 425.0,294.9 424.5,295.3 423.6,299.3 422.2,300.9 421.1,301.5 419.5,301.1 415.6,297.6 414.0,297.7 411.6,299.4 410.8,299.2 409.2,297.7 405.7,300.1 405.6,300.9 406.1,301.8 408.6,303.2 408.5,304.5 406.4,306.4 406.4,307.2 408.5,309.6 412.4,310.2 414.3,311.1ZM430.6,309.8 430.9,309.6 430.6,309.3 430.2,309.6ZM372.1,308.8 375.9,308.0 376.9,307.2 377.0,306.4 376.1,304.5 374.2,303.2 374.2,302.4 375.3,300.9 375.0,299.3 372.9,298.2 370.6,299.1 369.8,300.1 369.4,301.7 370.1,306.4 370.7,308.0 371.8,308.8ZM381.6,308.2 383.2,308.0 385.8,306.4 388.3,304.0 391.1,304.1 394.2,302.9 397.4,303.4 398.0,301.7 397.4,299.8 394.2,295.6 393.5,295.2 392.7,295.5 391.6,296.9 391.8,299.3 385.6,299.2 381.8,300.1 381.5,304.8 380.4,307.2 381.1,308.0ZM446.4,308.5 453.5,308.4 458.2,305.9 459.0,304.8 459.0,303.7 458.2,303.0 455.8,303.3 452.7,301.1 450.3,300.7 449.5,301.7 449.1,304.0 448.2,305.6 446.0,307.2 445.8,308.0ZM655.6,308.0 656.4,308.3 657.5,308.0 658.9,305.6 658.7,304.8 657.1,304.1 655.4,304.8 654.2,306.4 654.5,307.2 655.4,308.0ZM629.5,307.4 630.2,306.4 629.5,305.1 628.7,305.0 628.6,306.4 629.1,307.2ZM661.1,306.6 661.4,306.4 660.9,306.4ZM564.0,306.1 564.8,305.6 564.8,304.8 564.0,304.5 563.2,305.6ZM586.1,305.8 586.9,306.0 587.6,305.6 586.9,304.7 586.0,304.8 585.8,305.6ZM614.5,304.9 615.3,305.6 617.7,302.9 618.5,302.7 621.6,304.1 622.4,303.9 622.9,303.2 622.7,302.4 620.8,300.8 619.3,300.6 617.7,301.5 614.5,301.8 613.8,302.4 613.7,303.2 614.4,304.8ZM686.4,303.8 686.4,302.4 685.6,303.2ZM444.0,301.0 445.6,301.1 447.1,300.1 447.2,299.3 446.8,298.5 445.6,298.1 444.0,298.6 443.4,299.3 443.9,300.9ZM583.7,301.2 585.1,300.9 585.4,300.1 584.5,299.5 583.7,299.5 582.8,300.1 583.0,300.9ZM596.4,301.1 597.1,301.2 597.6,300.1 597.1,299.7 596.4,300.0 596.2,300.9ZM379.2,299.5 381.6,299.7 382.1,296.9 384.3,295.3 383.4,293.8 385.6,291.9 387.1,292.0 388.7,294.4 389.5,294.7 391.1,293.8 391.5,293.0 390.3,290.6 391.1,290.0 392.7,290.0 395.8,291.1 397.4,290.4 400.6,290.7 401.3,290.0 401.3,288.2 399.0,286.0 396.6,281.6 392.7,279.2 383.2,282.4 382.7,283.5 382.9,285.1 380.8,286.7 379.4,289.8 379.3,290.6 381.0,293.0 380.0,293.0 377.7,292.1 376.1,292.3 375.4,293.0 375.5,294.6 376.5,297.7 377.0,298.5 378.6,299.3ZM591.6,297.9 592.4,297.9 593.2,297.4 593.6,296.1 593.2,295.3 592.4,295.6 590.9,296.9 591.3,297.7ZM588.5,297.0 588.9,296.9 588.5,296.1 587.8,296.1 588.4,296.9ZM630.3,297.0 632.7,297.2 646.1,296.5 647.7,296.2 649.3,295.3 648.7,294.6 646.9,294.2 637.4,294.0 633.5,293.5 621.6,294.4 612.9,293.9 609.0,294.4 605.8,294.1 602.4,295.3 603.3,296.1 607.4,296.9 611.4,296.9 616.1,296.2 630.0,296.9ZM368.2,295.6 370.1,293.8 375.1,292.2 375.2,290.6 374.5,289.1 369.8,289.6 369.4,290.6 369.4,293.0 367.9,295.3ZM667.4,294.9 668.0,294.6 667.4,293.2 666.6,293.7 666.8,294.6ZM411.6,292.6 412.2,292.2 411.6,291.4 411.0,292.2ZM365.0,290.7 366.8,288.2 366.3,287.4 364.2,287.2 364.2,291.3ZM676.9,289.2 680.0,289.8 680.8,289.4 681.4,288.2 681.5,286.7 682.3,285.1 685.9,281.9 686.3,281.1 685.6,279.6 683.2,279.7 682.2,280.3 681.6,282.1 678.5,283.4 676.1,287.4 676.5,289.0ZM374.5,287.7 378.8,285.9 379.2,285.1 379.0,284.3 376.9,282.8 375.9,281.1 372.9,280.0 371.3,276.5 370.6,275.9 369.8,276.1 369.0,277.1 368.9,278.0 369.2,281.1 371.3,283.5 372.0,285.9 374.3,287.4ZM644.5,286.8 645.3,287.2 646.9,284.0 647.3,281.9 646.9,280.9 645.3,281.1 644.2,281.9 644.4,286.7ZM668.2,283.6 669.0,284.2 671.2,283.5 672.0,282.7 672.0,281.9 669.8,278.3 668.2,278.2 667.4,277.7 667.0,277.2 667.4,276.4 669.8,277.8 672.1,275.8 675.3,274.9 678.5,272.8 682.4,273.2 684.0,272.9 684.7,272.4 684.2,270.1 683.2,268.6 682.4,268.2 679.3,268.0 678.5,267.1 678.1,265.3 678.9,263.0 678.5,261.1 677.7,260.8 675.3,261.8 672.1,261.8 670.6,262.5 665.0,261.6 660.3,261.6 659.5,261.7 657.9,263.0 657.1,263.0 656.5,262.2 656.8,260.6 656.4,260.0 656.2,262.2 654.4,263.0 651.6,263.2 650.8,259.4 649.3,257.5 648.5,257.0 645.3,258.2 642.9,258.2 640.6,260.6 639.0,261.0 637.4,260.7 632.7,257.7 630.3,257.5 629.6,258.2 627.5,263.8 627.7,264.6 628.7,264.6 631.9,262.5 632.7,262.5 636.9,264.6 637.4,265.3 637.2,266.1 635.6,267.7 635.8,268.5 639.2,271.7 639.5,274.0 638.5,277.2 639.4,278.0 641.4,278.4 644.5,275.7 647.7,275.8 649.3,274.6 651.6,275.8 654.8,276.2 659.4,278.0 660.5,278.8 661.4,281.1 663.5,281.9 666.6,281.6 667.4,282.2 668.1,283.5ZM521.4,283.1 521.9,282.7 521.4,281.2 520.6,281.4 520.5,281.9 521.0,282.7ZM605.0,280.5 606.6,280.6 607.4,279.8 607.8,276.4 610.6,275.1 613.0,273.2 614.8,273.2 616.9,274.8 617.6,277.2 617.4,278.8 616.8,279.6 617.1,280.3 618.3,280.3 619.3,279.8 622.5,276.4 622.8,275.6 622.4,275.1 620.8,275.3 619.9,274.8 619.4,274.0 619.7,271.7 619.4,270.9 616.3,268.5 615.1,266.9 614.6,265.3 615.3,262.2 614.5,261.3 611.4,262.5 609.0,261.8 607.4,261.9 605.8,264.0 603.0,265.3 602.7,268.5 600.3,269.1 598.7,268.5 598.8,267.7 600.0,266.1 600.1,265.3 598.9,262.2 599.5,261.4 601.1,261.0 604.2,261.5 605.8,261.2 606.6,260.2 606.9,258.2 605.8,256.6 604.2,256.4 602.7,258.6 601.9,258.9 598.7,258.8 597.9,258.1 597.1,255.3 596.4,255.0 593.4,259.0 593.3,261.4 592.5,263.8 592.9,264.6 596.0,266.1 596.7,266.9 597.0,267.7 596.3,270.1 598.4,273.2 601.9,273.8 603.4,274.8 603.0,276.4 601.0,278.0 600.7,278.8 604.5,280.3ZM605.4,275.6 603.8,274.8 603.5,274.0 604.4,272.4 605.8,271.6 606.9,272.4 607.6,274.0 607.3,275.6 605.8,275.8ZM610.3,266.1 610.4,265.3 611.4,264.2 612.1,264.2 613.7,265.3 613.5,266.1 612.1,266.8 610.6,266.5ZM502.4,279.1 504.0,279.5 505.1,278.8 505.1,277.2 504.0,276.1 503.2,276.2 502.4,277.0 501.8,278.0 501.9,278.8ZM685.6,279.5 686.4,279.5 686.4,273.7 685.3,277.2 685.2,278.8ZM532.4,278.0 532.4,276.9 531.8,277.2 532.4,278.0ZM375.3,277.5 376.2,277.2 375.3,275.6 374.5,275.8 374.3,276.4 374.8,277.2ZM388.7,276.7 389.5,276.8 390.4,275.6 390.9,271.7 390.3,270.0 389.5,270.9 388.9,273.2 387.6,274.8 387.6,275.6 388.3,276.4ZM541.1,275.7 541.6,275.6 541.9,274.8 541.9,274.0 541.2,273.2 537.9,273.3 537.5,274.0 538.7,274.3 540.8,275.6ZM567.9,275.7 570.3,275.8 571.1,275.6 571.9,274.8 571.2,274.0 570.3,273.9 567.2,275.6ZM575.0,275.0 576.2,274.8 576.9,274.0 576.6,273.1 575.8,272.6 574.9,273.2 574.5,274.0 574.6,274.8ZM546.6,274.0 547.4,274.7 548.2,274.8 549.8,270.9 549.9,268.5 550.9,265.3 550.6,264.4 549.8,263.9 548.2,264.2 546.1,267.7 546.3,269.3 545.5,271.7 546.6,274.0ZM368.2,272.5 369.0,272.3 370.5,270.1 370.7,269.3 369.8,268.3 369.0,268.3 368.3,269.3 368.2,272.4ZM420.3,271.8 423.5,272.4 424.6,271.7 425.8,269.8 426.6,269.7 429.8,271.7 431.3,272.1 432.9,271.2 434.7,269.3 435.1,268.5 434.5,267.4 429.0,266.5 427.8,266.9 426.6,268.4 425.8,268.7 425.7,267.7 427.9,264.6 427.6,262.2 428.0,261.4 429.8,260.8 430.6,260.1 430.6,256.2 427.4,255.4 426.6,255.6 425.8,257.4 426.0,260.6 423.8,263.0 422.7,265.5 421.9,265.9 416.3,266.3 411.6,264.8 406.9,267.7 406.7,268.5 408.5,268.9 412.4,268.5 416.3,270.8 419.9,271.7ZM511.1,271.9 511.9,272.2 512.7,271.9 513.4,270.9 513.0,269.3 511.9,268.5 510.8,269.3 510.5,270.9 510.9,271.7ZM504.0,270.4 504.8,270.2 504.8,269.3 504.0,269.2 503.8,270.1ZM621.6,270.6 622.4,270.5 623.2,269.5 622.4,267.9 621.6,267.7 621.0,268.5 621.1,270.1ZM631.9,269.3 632.7,269.3 633.0,268.5 631.7,268.5 631.9,269.3ZM402.9,268.5 403.8,267.7 402.5,266.9 401.3,267.0 401.0,267.7 402.4,268.5ZM541.9,268.9 542.4,268.5 541.9,268.2 541.4,268.5ZM579.8,268.5 580.7,267.7 580.4,265.3 582.1,262.2 582.0,261.4 580.0,259.0 578.2,255.2 575.0,253.5 572.7,255.1 571.1,255.1 567.7,252.7 567.7,250.3 565.7,250.3 565.7,251.9 567.0,254.3 567.2,257.4 569.5,261.1 570.3,261.3 572.7,259.9 573.5,259.9 577.4,261.9 578.2,263.0 578.2,264.6 576.6,266.2 575.0,266.7 573.5,266.2 572.7,266.5 572.7,267.1 573.5,267.8 575.0,268.4 577.4,268.1 579.6,268.5ZM383.2,268.4 384.8,268.0 385.9,266.1 385.6,263.6 384.8,261.9 384.0,261.9 383.1,263.0 382.2,266.1 382.6,267.7ZM533.2,267.8 534.0,267.6 534.2,266.9 534.0,266.1 533.2,265.8 532.2,266.1 532.0,266.9 533.1,267.7ZM554.5,267.8 555.0,267.7 554.5,267.7ZM590.0,267.1 591.0,266.9 591.2,265.3 590.8,265.0 589.7,265.3 589.5,266.1 589.9,266.9ZM583.7,265.6 585.3,266.0 586.4,264.6 586.3,263.0 584.5,260.9 582.5,262.2 582.5,263.8 583.4,265.3ZM620.0,263.1 621.3,263.0 623.1,262.2 623.0,260.6 622.4,259.6 621.6,259.4 620.8,259.8 619.6,262.2 619.9,263.0ZM440.8,262.2 441.3,261.4 440.1,258.2 439.2,257.9 438.5,258.2 438.5,259.7 439.2,261.3 440.6,262.2ZM368.2,262.0 369.8,262.0 372.1,260.9 373.0,259.8 372.8,259.0 371.3,258.7 368.4,259.8 367.7,260.6 367.7,261.4ZM392.7,261.5 393.5,261.7 394.5,260.6 395.0,259.0 394.6,257.4 390.3,255.9 389.4,253.5 388.7,252.8 386.3,252.8 384.9,253.5 384.4,254.3 386.4,256.7 386.3,259.9 387.1,260.5 390.3,260.7 392.4,261.4ZM684.0,261.4 686.4,261.9 686.4,258.5 684.0,259.8 683.6,260.6 684.0,261.4ZM406.9,260.0 407.6,259.8 406.7,259.8ZM410.0,260.0 410.8,260.4 411.3,259.8 409.2,258.5 407.8,259.0 409.4,259.8ZM559.2,260.1 560.0,260.5 560.9,259.8 560.8,258.9 560.0,257.9 559.2,258.2 559.1,259.8ZM417.9,259.6 418.7,259.6 419.3,259.0 419.1,256.7 417.1,253.4 414.8,253.5 414.8,254.4 416.6,255.9 417.0,256.7 417.3,259.0ZM533.2,259.1 533.2,258.2 533.1,259.0ZM402.1,258.3 402.9,258.6 403.9,257.4 402.9,257.3 402.1,258.2ZM543.5,258.4 545.8,258.2 545.9,255.9 548.3,255.1 548.7,254.3 548.2,253.4 546.6,253.4 544.2,254.9 541.1,254.7 540.5,255.9 540.6,256.7 541.1,257.4 542.8,258.2ZM679.3,258.4 681.6,257.4 682.6,255.1 682.4,254.0 678.8,253.5 673.4,250.3 672.9,251.1 673.0,252.7 674.5,253.7 676.9,254.0 677.7,257.1 678.7,258.2ZM584.5,257.8 585.3,257.2 585.3,256.0 584.4,255.9 584.3,257.4ZM612.9,256.0 613.7,256.4 614.5,256.4 615.0,255.9 616.3,253.5 616.0,252.7 614.5,252.4 613.3,252.7 612.7,254.3 612.8,255.9ZM625.6,256.1 627.1,256.0 627.9,255.5 627.9,253.7 627.1,252.6 625.6,252.8 623.9,254.3 623.7,255.1 624.8,255.9ZM641.4,256.0 642.1,255.1 641.9,254.3 640.5,253.5 639.7,254.3 640.6,255.7 641.2,255.9ZM663.5,255.9 663.5,255.1 663.4,255.9ZM634.3,255.8 635.0,255.7 635.8,255.0 636.7,253.5 636.6,252.6 635.8,252.2 634.3,252.7 633.6,253.5 633.6,255.1ZM662.7,255.2 663.5,255.1 662.6,255.1ZM444.0,254.3 444.8,254.8 445.6,254.8 446.0,254.3 446.5,252.7 446.5,250.3 443.2,250.3 443.1,252.7 443.9,254.3ZM454.2,254.3 455.4,254.3 455.7,253.5 455.0,252.7 454.2,253.0 454.2,254.3ZM395.8,253.8 396.6,254.2 399.0,253.6 402.1,251.3 402.9,251.2 403.9,251.9 405.3,253.8 406.1,254.1 406.9,254.0 407.7,253.7 408.2,252.7 408.3,250.3 396.2,250.3 395.5,251.9 395.6,253.5ZM579.8,253.9 580.6,253.5 579.6,253.5ZM510.3,252.9 511.5,252.7 511.2,251.9 510.3,251.5 509.6,251.9 509.9,252.7ZM650.8,253.2 652.2,252.7 652.5,251.9 652.1,250.3 650.5,250.3 650.2,252.7ZM426.6,252.1 427.4,252.5 431.3,250.9 435.3,251.3 436.4,250.3 426.0,250.3 426.5,251.9ZM536.4,252.0 538.7,251.6 539.6,250.3 534.9,250.3 535.1,251.1 536.2,251.9ZM607.4,252.1 609.0,251.3 611.4,251.2 612.0,250.3 602.8,250.3 603.5,251.1 605.8,250.4 606.6,250.7 607.3,251.9ZM418.7,251.7 420.3,251.5 421.1,250.3 418.3,250.3 418.4,251.1ZM454.2,250.8 454.6,250.3 453.9,250.3ZM549.0,251.1 549.4,250.3 548.3,250.3Z" fill="#a9e0d6" fill-rule="evenodd"/><path d="M505.6,327.7 507.5,327.7 507.1,326.1 506.4,325.8 505.6,326.0 504.9,327.7ZM526.1,327.7 535.0,327.7 534.8,326.9 534.0,326.1 531.6,325.2 526.1,326.9 525.4,327.7ZM555.3,327.7 560.3,327.7 560.0,326.9 558.5,326.4 555.3,326.7 554.7,327.7ZM571.1,327.7 573.8,327.7 572.7,327.2 571.0,327.7ZM489.0,323.9 489.8,323.7 490.9,322.2 494.5,320.1 497.7,319.2 500.8,319.7 504.0,318.9 507.1,318.8 511.1,317.5 512.7,316.2 515.0,316.0 516.0,315.1 517.4,312.4 518.2,312.2 518.8,312.7 519.6,315.1 520.5,315.9 524.5,316.8 525.8,315.9 526.0,314.3 522.4,310.3 521.9,309.6 522.1,308.8 524.5,307.9 526.1,307.9 529.2,309.9 532.4,311.3 537.9,311.9 537.9,310.3 536.7,308.0 537.1,307.0 538.7,306.6 541.1,307.5 542.7,307.5 548.2,304.3 550.6,305.1 551.6,304.8 552.7,304.0 552.8,302.4 551.4,299.6 549.0,298.7 547.8,297.7 547.3,296.1 548.3,293.0 546.5,292.2 545.6,289.0 545.0,288.2 543.5,287.9 539.5,288.1 536.4,287.2 534.0,287.1 528.5,288.0 526.1,286.4 525.3,286.2 523.3,286.7 521.4,288.8 516.6,287.2 513.5,287.4 511.1,288.7 508.7,289.2 508.1,289.8 507.5,291.4 508.6,293.8 508.5,294.6 507.7,296.1 506.4,297.6 504.8,297.8 502.3,296.9 500.8,294.9 499.2,295.4 498.4,296.1 497.8,297.7 498.5,299.3 498.3,300.1 496.3,301.7 496.1,303.3 495.2,302.4 496.0,301.7 495.8,300.1 495.3,299.6 494.5,299.6 493.8,300.9 494.2,302.4 492.6,304.0 491.5,306.4 491.8,309.6 489.8,311.5 488.2,311.8 485.0,310.9 481.2,306.4 481.1,305.4 474.7,311.1 473.4,314.3 473.6,315.1 476.4,317.7 477.9,318.3 480.3,317.2 481.9,317.0 485.0,319.0 489.0,319.8 489.5,320.6 488.5,323.0 488.8,323.8ZM511.7,309.6 511.3,308.8 513.5,308.4 515.8,308.8 516.1,309.6 515.8,310.1 515.0,310.3 511.9,309.6ZM503.7,308.0 504.0,306.8 504.8,306.6 505.6,307.2 505.9,308.0 505.6,308.6 504.0,308.2ZM536.3,295.3 536.4,294.6 537.1,293.8 539.5,292.7 541.9,292.9 542.7,293.8 542.5,294.6 540.3,294.9 537.9,296.0 536.4,295.4ZM515.6,293.0 517.4,293.0 516.6,293.5 515.8,293.5ZM522.6,293.0 521.2,292.2 522.1,289.9 525.6,292.2 525.5,293.0 524.5,293.6 522.9,293.1ZM365.8,321.6 366.6,321.4 365.8,321.1 365.6,321.4ZM548.2,315.6 548.6,315.1 548.2,313.9 548.0,315.1ZM415.6,310.4 417.9,310.6 420.3,308.9 422.7,307.9 423.5,307.2 423.6,306.4 423.5,305.6 421.1,303.2 414.8,298.9 410.8,301.7 408.6,307.2 408.9,308.0 409.8,308.8 411.6,308.9 413.2,308.5 415.5,310.3ZM372.1,307.2 373.7,307.8 375.3,307.3 375.8,306.4 375.6,305.6 374.5,304.8 372.1,304.3 371.4,305.6 372.1,307.2ZM451.1,307.3 453.2,307.2 454.8,305.6 454.4,304.0 452.9,302.4 451.9,302.0 450.8,302.4 449.7,305.6 449.8,306.4 450.8,307.2ZM384.0,305.1 385.6,304.7 387.1,302.8 389.5,302.4 390.3,301.7 390.2,300.9 389.5,300.1 388.7,299.9 385.6,300.2 384.0,300.7 382.8,302.4 383.0,304.0 383.4,304.8ZM642.1,304.5 643.7,304.0 644.3,303.2 644.4,302.4 643.7,301.7 642.1,301.8 641.6,302.4 641.7,304.0ZM486.6,302.8 487.4,302.6 488.2,301.9 488.2,300.6 487.0,300.9 486.2,302.4ZM371.3,301.7 372.9,301.3 373.5,300.1 372.1,299.4 371.3,299.9 370.9,300.9 371.3,301.7ZM425.8,298.6 426.6,298.8 427.4,298.1 427.2,296.9 426.6,296.4 425.8,296.5 425.5,296.9 425.8,298.5ZM378.5,297.8 379.2,298.0 380.0,297.7 380.4,295.3 379.2,294.3 377.7,293.9 377.2,295.3 377.6,296.9 378.3,297.7ZM555.3,296.3 557.0,296.1 557.8,295.3 557.7,294.2 556.9,293.7 555.3,294.2 554.3,295.3 554.7,296.1ZM610.6,296.3 616.1,295.7 621.6,295.8 632.7,296.8 646.1,296.1 648.4,295.3 647.7,294.6 646.9,294.4 637.4,294.2 633.5,293.7 620.8,294.8 612.1,294.2 609.0,295.0 605.8,294.8 604.8,295.3 609.9,296.1ZM382.4,291.4 383.5,291.4 384.2,290.6 384.2,289.8 383.9,288.2 383.3,287.4 382.4,287.2 381.6,287.7 381.2,289.0 381.5,290.6 382.4,291.4ZM389.5,289.1 394.2,288.8 396.7,286.7 397.1,285.9 397.0,285.1 396.5,282.7 395.8,281.8 394.2,280.9 392.7,280.5 391.7,281.1 391.1,283.2 388.7,281.5 387.1,281.7 385.2,282.7 384.8,283.5 385.0,284.3 386.7,285.9 387.5,288.2 388.8,289.0ZM664.3,280.5 665.3,280.3 666.2,279.6 665.0,278.8 664.3,279.0 663.5,279.6 663.6,280.3ZM605.8,279.7 606.2,279.6 606.4,278.8 605.8,278.3 604.7,278.8 605.1,279.6ZM641.4,277.2 642.1,276.8 642.9,275.6 642.3,274.0 641.4,273.6 640.2,275.6 640.2,276.4 641.0,277.2ZM657.1,276.4 661.9,277.1 662.8,276.4 665.8,271.0 666.6,271.1 667.4,271.8 668.9,274.8 669.8,275.3 673.6,273.2 675.3,270.8 677.7,270.6 681.6,272.0 682.7,271.7 683.2,270.1 682.4,269.1 679.3,269.4 678.5,269.2 676.1,263.8 674.5,263.0 672.1,263.2 669.8,264.6 666.6,262.7 661.1,262.5 657.9,264.7 654.0,263.9 650.8,265.6 650.0,264.6 649.5,263.0 650.1,260.6 649.9,259.8 648.5,258.4 646.9,258.7 639.8,262.0 638.4,263.0 638.2,263.8 638.8,266.1 637.5,268.5 638.2,269.3 640.6,269.8 642.9,271.0 646.1,270.1 650.0,269.8 650.5,270.9 650.5,273.2 651.6,274.7 657.1,276.4ZM609.8,273.6 612.1,272.4 613.7,272.2 617.7,273.3 618.4,271.7 617.7,270.4 613.7,267.8 610.6,267.6 609.1,266.9 609.0,266.1 610.1,263.8 609.8,263.0 609.0,262.7 607.9,263.0 606.6,265.3 604.9,266.9 605.6,268.5 609.2,273.2ZM421.9,271.7 423.5,271.6 424.4,270.1 423.6,267.7 422.7,267.0 419.5,266.6 414.4,267.7 414.7,268.5 416.3,269.8 421.8,271.7ZM599.5,271.8 600.3,272.3 601.9,272.3 603.5,270.9 602.7,270.3 600.3,270.5 599.5,270.9 599.4,271.7ZM430.6,270.9 432.9,269.6 433.4,268.5 429.8,267.8 429.0,268.0 428.4,269.3 428.9,270.1 430.6,270.9ZM548.2,268.4 549.8,266.1 549.8,265.3 549.0,265.1 548.2,265.8 547.8,267.7ZM425.0,265.5 426.3,264.6 426.5,263.8 425.8,262.9 425.0,263.0 424.3,263.8 424.2,264.6 424.6,265.3ZM597.9,265.4 598.2,264.6 597.1,262.6 595.6,260.7 594.8,261.1 593.6,263.0 593.7,263.8 594.8,264.6 597.4,265.3ZM579.8,263.1 580.3,262.2 580.2,261.4 578.2,257.6 575.8,255.5 575.0,255.0 574.2,255.2 572.7,256.6 571.9,256.6 569.5,255.3 568.7,255.3 568.6,256.7 570.3,259.6 571.1,259.6 572.7,258.2 573.5,258.2 575.8,260.4 578.2,261.4 579.7,263.0ZM391.1,259.9 392.7,260.2 393.5,259.9 393.7,259.0 393.5,258.2 391.9,257.4 388.7,256.9 387.9,257.7 387.8,259.0 388.7,259.6 390.4,259.8ZM595.6,259.6 595.8,259.0 595.6,258.7 595.4,259.0ZM427.4,258.9 428.2,258.7 428.2,257.7 427.4,257.4 427.2,258.2ZM680.0,256.3 680.8,256.0 680.8,255.3 680.0,255.1 679.5,255.9ZM626.4,254.7 626.7,254.3 626.1,254.3ZM397.4,252.1 398.2,252.6 399.7,251.9 399.9,250.3 397.8,250.3 397.3,251.9ZM444.8,252.7 445.6,250.3 443.9,250.3 444.1,251.9ZM405.3,251.5 406.1,251.8 406.8,251.1 407.0,250.3 404.4,250.3 405.0,251.1ZM427.4,250.4 428.2,250.7 429.0,250.3 427.4,250.3ZM536.4,250.6 537.1,250.9 538.2,250.3 536.2,250.3Z" fill="#74c6b8" fill-rule="evenodd"/><path d="M505.6,327.7 506.9,327.7 506.4,326.8 505.5,327.7ZM556.1,327.7 559.2,327.7 557.7,327.3 555.9,327.7ZM491.4,320.5 493.0,319.8 494.5,317.4 500.8,318.9 504.8,317.9 507.1,317.7 510.3,316.4 511.9,314.0 512.7,313.4 514.2,313.3 515.0,312.9 515.0,312.5 514.7,311.9 513.1,311.1 510.3,310.4 509.3,311.1 508.7,312.9 507.9,313.2 507.0,312.7 505.6,310.0 504.0,309.5 500.8,309.9 498.5,308.0 496.8,305.6 494.5,304.4 493.7,304.5 492.9,305.6 493.5,308.8 493.1,310.3 489.0,313.1 487.4,313.1 484.2,312.1 482.7,309.0 480.3,308.0 478.4,308.8 476.3,311.1 476.0,313.5 477.1,316.7 477.9,317.2 481.1,315.6 481.9,315.7 485.0,317.8 489.0,318.5 490.7,319.8ZM522.1,315.2 523.7,315.1 523.9,314.3 522.9,312.6 522.1,311.9 521.4,312.0 521.0,314.3 521.9,315.1ZM518.2,309.8 519.0,309.9 521.4,307.5 524.5,306.9 529.2,307.5 530.8,307.3 534.8,308.7 536.7,306.4 537.9,305.7 541.9,306.7 543.5,305.9 546.7,303.2 547.4,301.7 547.3,299.3 546.1,296.9 546.2,294.6 545.8,293.9 545.0,293.8 544.2,295.7 543.5,296.1 540.3,295.7 537.1,296.9 533.2,296.1 531.9,294.6 532.4,293.5 534.8,293.9 535.6,293.7 539.5,291.6 543.5,291.8 544.2,291.4 544.6,290.6 544.2,289.2 542.7,288.8 538.7,289.3 535.6,288.0 533.2,287.8 528.8,289.0 527.7,289.7 525.8,287.4 524.5,287.2 523.5,288.2 523.7,289.1 525.3,290.0 527.7,290.1 528.0,291.4 527.7,292.2 525.3,294.7 524.5,294.9 522.1,294.1 516.6,295.1 513.5,294.9 509.5,295.5 506.4,298.4 502.4,298.3 501.6,299.1 500.7,301.7 501.2,303.2 500.0,305.6 500.1,306.4 500.8,306.9 501.6,306.9 504.0,305.1 504.8,305.2 507.9,308.2 511.9,307.7 515.8,307.7 516.7,308.0 518.0,309.6ZM416.3,309.0 417.1,309.4 418.7,308.9 421.2,307.2 421.2,306.4 419.5,304.4 417.9,303.9 417.1,303.2 416.3,301.5 414.8,301.1 412.4,301.9 411.2,303.2 410.0,307.2 410.8,307.8 411.6,307.4 413.2,304.8 414.0,304.4 415.6,304.4 416.1,304.8 415.8,308.0 416.1,308.8ZM630.3,296.2 632.7,296.5 636.6,296.1 639.8,296.2 647.4,295.3 646.1,294.6 633.5,293.9 622.1,295.3 629.8,296.1ZM610.6,295.4 612.1,295.8 615.5,295.3 612.9,294.5 612.0,294.6 610.4,295.3ZM512.7,292.3 513.5,292.5 515.8,291.5 519.0,291.5 520.0,290.6 520.1,289.8 519.6,289.0 517.9,288.2 515.0,287.9 511.6,289.8 510.9,290.6 512.5,292.2ZM390.3,288.2 393.5,287.6 395.0,285.8 395.5,285.1 395.8,283.5 395.0,282.2 394.2,281.8 393.2,281.9 392.7,285.3 389.5,284.9 388.7,285.3 388.3,286.7 388.5,287.4 390.1,288.2ZM657.1,275.6 659.5,275.7 661.1,275.3 664.0,272.4 664.7,270.1 663.4,266.9 663.7,266.1 664.3,265.9 666.4,266.9 667.4,270.1 669.8,273.5 670.6,273.6 671.8,273.2 672.7,272.4 673.0,271.7 671.9,268.5 672.9,267.9 675.6,267.7 675.9,266.9 675.3,265.3 674.5,264.4 672.9,264.1 670.6,266.0 669.0,266.5 668.2,266.0 667.7,264.6 666.9,263.8 665.0,263.3 661.1,263.7 659.2,265.3 657.1,266.0 654.8,265.0 653.2,265.1 651.2,267.7 651.7,273.2 652.4,274.1 657.1,275.6ZM609.8,271.8 614.6,270.9 614.4,270.1 612.9,269.0 609.8,268.7 608.6,269.3 608.5,270.1 609.0,271.3 609.6,271.7ZM421.9,270.9 422.7,270.7 423.1,270.1 422.7,268.5 421.9,267.7 419.5,267.3 418.1,267.7 417.2,268.5 419.5,270.1 421.9,270.9ZM642.1,269.5 643.7,269.7 645.3,268.7 646.1,268.6 648.5,268.9 650.3,267.7 649.6,265.3 647.9,262.2 648.5,260.6 648.3,259.8 647.2,259.8 646.4,261.4 645.3,262.0 642.1,261.9 639.8,263.0 639.3,264.6 640.6,267.7 641.9,269.3ZM576.6,259.4 577.4,259.2 577.4,258.9 576.6,258.4 576.2,259.0Z" fill="#3e9e90" fill-rule="evenodd"/><path d="M491.4,318.5 492.1,318.4 493.7,316.2 494.5,315.8 496.9,317.1 500.8,318.2 507.1,316.3 507.8,315.9 507.9,315.1 506.4,313.5 504.8,310.7 504.0,310.5 501.6,311.4 500.8,311.3 497.4,308.8 495.7,306.4 494.5,306.2 494.6,310.3 493.7,311.7 491.4,312.5 487.4,315.7 486.6,315.8 485.0,314.7 484.2,314.7 484.0,315.1 484.5,315.9 486.6,315.9 489.0,316.7 491.1,318.2ZM481.1,311.9 481.9,311.8 482.2,311.1 481.9,310.0 481.1,309.5 479.3,309.6 478.7,310.3 478.7,311.5 481.1,311.9ZM417.9,307.2 418.9,307.2 418.7,306.9 417.9,307.2ZM518.2,307.3 521.4,306.4 530.8,305.7 534.0,307.2 534.8,307.1 537.1,305.1 537.9,304.9 541.9,305.9 542.7,305.5 545.7,302.4 546.1,300.9 545.9,299.3 545.0,298.3 541.1,296.4 540.3,296.4 537.9,297.5 534.0,297.4 530.9,295.3 529.2,293.1 527.7,293.7 525.3,295.6 521.4,295.1 516.6,296.2 510.3,296.6 508.7,297.3 506.4,299.2 503.2,299.1 502.3,300.1 502.3,301.7 503.2,303.2 506.2,304.8 507.9,306.8 516.6,306.8 518.0,307.2ZM631.9,296.2 644.8,295.3 643.4,294.6 636.6,294.5 633.5,294.1 629.9,294.6 627.6,295.3 631.4,296.1ZM534.0,292.5 534.8,292.7 536.4,292.2 537.3,291.4 537.4,290.6 535.8,289.0 534.0,288.5 532.4,288.7 530.2,289.8 530.0,290.9 533.3,292.2ZM514.2,290.7 518.2,289.8 517.2,289.0 515.8,288.8 514.1,289.8 513.9,290.6ZM656.4,274.3 657.9,274.6 659.5,274.4 661.9,273.3 663.5,272.0 663.9,270.1 661.9,266.8 661.1,266.6 658.7,268.6 656.4,268.1 654.3,266.1 653.2,266.4 652.3,268.5 653.0,272.4 653.4,273.2 655.7,274.0ZM670.6,272.1 671.5,271.7 671.4,270.9 669.8,269.7 669.5,270.1 670.1,271.7ZM642.9,268.3 643.7,267.9 644.5,266.5 646.9,267.8 648.5,268.0 649.3,267.1 649.2,266.1 648.5,264.6 646.9,263.3 644.5,263.4 642.9,262.8 641.4,262.9 640.3,263.8 640.3,264.6 641.9,266.1 642.5,267.7Z" fill="#1f8676" fill-rule="evenodd"/><path d="M498.5,316.7 500.8,317.4 503.2,316.7 505.1,315.1 505.3,314.3 504.8,312.7 504.0,311.9 500.8,312.7 497.7,310.9 496.9,310.9 495.7,313.5 495.8,314.3 496.9,315.9 498.3,316.7ZM491.4,316.4 492.1,316.3 493.2,315.1 493.5,314.3 493.2,313.5 492.1,313.3 491.4,313.8 490.5,315.1 490.7,315.9ZM509.5,305.9 515.0,306.1 517.4,305.4 528.5,305.2 531.6,304.4 534.0,306.2 534.8,306.1 536.4,304.5 537.9,303.9 541.1,305.0 541.9,304.9 544.3,302.4 544.8,300.9 544.2,299.7 541.1,297.3 540.3,297.3 537.9,298.3 534.8,298.3 533.2,297.8 528.5,295.3 524.5,296.4 521.4,295.8 516.6,297.0 511.9,297.5 508.7,298.4 506.4,300.0 503.6,300.1 503.1,300.9 503.8,302.4 505.6,303.4 507.7,304.0 508.9,305.6ZM630.3,295.5 632.7,296.0 636.6,295.4 642.3,295.3 640.6,294.8 636.6,295.1 635.6,294.6 633.5,294.3 631.2,294.6 629.9,295.3ZM534.0,291.0 534.8,291.3 535.7,290.6 535.2,289.8 534.0,289.5 533.1,289.8 533.3,290.6ZM657.1,272.5 661.1,272.3 662.7,271.8 663.3,270.9 663.0,269.3 661.9,268.3 661.1,268.5 659.5,270.9 658.7,271.5 657.1,270.7 655.6,270.6 655.3,271.7 657.1,272.4ZM647.7,267.0 648.3,266.1 647.7,265.1 646.9,264.8 646.4,265.3 647.5,266.9Z" fill="#0a6252" fill-rule="evenodd"/><path d="M500.0,316.0 501.6,316.0 502.7,315.1 502.4,314.5 498.5,314.0 498.1,314.3 498.2,315.1 499.6,315.9ZM515.0,304.8 517.4,304.1 524.5,304.6 528.5,304.5 532.4,303.0 535.6,303.1 537.9,302.6 538.7,302.6 541.1,303.6 542.2,303.2 542.7,301.7 541.5,299.3 540.3,298.4 537.9,299.1 534.8,299.0 530.8,297.2 527.7,296.7 524.5,297.1 521.4,296.5 512.7,298.5 511.1,299.4 508.7,299.8 504.7,301.7 506.2,302.4 507.9,302.6 510.3,304.8 511.1,304.6 512.7,302.3 513.5,302.7 515.0,304.8ZM631.1,295.4 632.7,295.7 635.3,295.3 634.5,294.6 633.5,294.5 632.2,294.6 631.0,295.3ZM661.9,270.9 662.2,270.1 661.9,269.7 661.5,270.1 661.8,270.9Z" fill="#0a3d30" fill-rule="evenodd"/><path d="M615.3,324.6 624.8,325.1 634.3,324.2 640.8,322.2 642.1,321.2 642.9,319.8 642.7,319.0 641.4,317.8 637.4,316.2 631.9,315.1 624.8,314.6 616.9,314.8 610.6,315.8 605.6,317.4 603.7,319.0 603.7,320.6 605.6,322.2 609.8,323.7 614.6,324.6ZM520.6,305.7 529.2,305.7 537.1,304.3 540.0,303.2 542.5,301.7 543.6,300.1 543.6,298.5 541.8,296.1 537.9,294.0 534.0,292.9 529.2,292.5 520.6,292.8 514.2,293.7 509.5,295.3 506.7,297.7 506.6,300.1 509.0,302.4 513.5,304.4 520.1,305.6ZM436.1,293.8 451.9,294.2 459.8,293.5 466.9,292.3 472.7,290.6 476.4,288.9 478.8,286.7 479.1,284.3 478.1,282.7 476.0,281.1 468.5,278.3 458.2,276.5 446.3,275.9 434.5,276.5 424.2,278.3 416.7,281.1 414.6,282.7 413.6,284.3 413.6,285.9 414.6,287.4 418.7,290.1 425.8,292.3 435.5,293.8ZM622.4,293.0 643.7,293.8 649.4,292.2 650.8,291.3 651.6,289.8 650.8,288.4 649.4,287.4 643.7,285.9 556.9,282.7 543.5,284.7 540.3,285.9 539.1,287.4 539.5,288.2 541.9,289.3 551.4,290.5 622.1,293.0ZM665.0,275.7 668.2,275.8 671.4,275.4 675.8,273.2 677.2,271.7 677.9,270.1 677.6,267.7 676.6,266.1 672.9,263.7 668.2,262.7 662.7,263.4 659.0,265.3 657.6,266.9 657.0,268.5 657.0,270.1 657.6,271.7 660.3,274.1 664.5,275.6ZM515.8,266.1 530.8,266.3 545.0,265.1 554.1,263.0 557.2,261.4 558.2,259.8 557.2,258.2 556.0,257.4 548.2,255.1 537.9,253.7 525.3,253.2 512.7,253.7 502.4,255.1 494.6,257.4 493.4,258.2 492.4,259.8 493.3,261.4 494.5,262.2 498.8,263.8 506.4,265.2 515.8,266.1Z" fill="url(#stip)"/><path d="M365.8,251.9 L402.5,251.9 L402.1,253.5 L401.3,255.1 L399.9,257.3 L398.3,259.8 L396.1,262.0 L393.6,264.4 L390.0,265.7 L387.1,266.6 L384.1,267.4 L383.5,268.8 L382.7,267.1 L380.8,266.8 L378.1,268.0 L376.6,270.6 L377.7,273.1 L379.2,274.8 L381.3,277.2 L382.1,280.3 L381.9,282.7 L380.0,283.8 L378.0,284.6 L375.6,287.1 L375.0,287.3 L375.0,285.1 L372.9,284.3 L372.0,282.2 L370.6,281.6 L368.8,280.0 L367.9,279.7 L367.2,281.1 L366.6,284.3 L366.3,286.3 L367.9,288.2 L369.5,290.0 L371.0,291.2 L372.8,293.3 L372.8,295.3 L373.4,296.9 L374.2,298.7 L372.9,298.8 L369.5,296.4 L368.0,294.2 L367.7,292.2 L365.8,289.8 L365.8,251.9Z M381.0,270.6 L382.4,269.1 L384.3,269.3 L384.8,269.9 L383.8,271.7 L382.4,272.1 L381.1,271.7Z M399.1,264.6 L400.1,266.1 L400.6,266.1 L402.0,262.2 L402.0,261.1 L400.9,261.1 L399.3,263.3Z M365.8,296.1 L367.4,297.2 L369.0,297.6 L370.6,298.5 L372.6,299.8 L374.3,302.1 L376.1,304.8 L376.9,305.9 L376.6,310.0 L374.7,310.2 L372.9,308.3 L370.9,306.6 L369.0,304.5 L367.9,302.4 L365.8,300.9Z M375.6,303.4 L377.0,303.2 L378.1,305.4 L376.9,305.8 L375.8,304.3Z M375.6,311.6 L376.9,310.2 L380.5,310.7 L383.8,311.8 L385.6,311.3 L387.3,311.8 L390.3,313.2 L390.1,314.6 L386.3,314.0 L383.2,313.5 L380.0,313.2 L377.5,312.6 L375.8,311.8Z M387.5,311.8 L389.7,311.8 L389.5,312.2 L387.6,312.2Z M390.3,313.7 L392.0,314.0 L391.4,314.8 L390.3,314.1Z M392.7,314.0 L393.8,314.0 L393.5,314.9 L392.7,314.8Z M393.9,314.3 L396.1,313.7 L397.6,314.0 L397.4,314.6 L395.5,314.9 L394.1,314.9Z M398.7,314.3 L400.6,314.0 L403.4,313.8 L403.6,314.4 L401.3,314.8 L399.0,314.9Z M397.4,315.9 L399.0,315.7 L400.2,316.8 L399.0,317.1 L397.6,316.5Z M404.5,317.1 L406.1,315.9 L408.1,314.4 L410.5,314.1 L409.2,314.9 L406.9,316.3 L405.3,317.3Z M382.6,297.7 L381.6,300.1 L381.9,301.7 L383.2,303.7 L383.5,305.4 L385.7,306.2 L387.9,305.9 L390.3,307.0 L392.7,307.2 L393.1,305.6 L393.5,303.2 L395.0,301.7 L395.2,299.6 L397.4,299.3 L395.8,297.7 L395.3,295.7 L396.3,293.8 L397.7,292.8 L395.5,291.6 L394.2,289.8 L392.7,291.4 L391.6,293.0 L389.5,293.8 L387.9,295.8 L385.2,297.2 L383.7,298.2Z M398.0,309.7 L398.3,307.2 L397.2,305.6 L397.7,303.2 L398.7,301.2 L399.1,300.1 L400.9,299.3 L402.9,299.3 L405.3,299.6 L406.9,298.3 L406.2,300.4 L404.2,300.2 L401.3,300.2 L399.9,300.4 L399.8,302.1 L401.5,302.3 L404.3,302.3 L403.1,303.2 L401.2,304.0 L402.8,305.9 L403.4,308.0 L402.1,308.1 L401.0,306.9 L400.4,305.4 L399.6,305.6 L399.8,309.6Z M411.0,297.4 L411.6,299.3 L412.7,298.5 L411.9,299.9 L413.0,300.4 L411.6,301.2 L411.9,302.3 L411.0,301.5 L410.7,299.6Z M411.6,305.9 L414.0,305.3 L416.2,306.2 L415.6,307.0 L412.9,306.2 L411.6,306.6Z M408.5,305.9 L410.0,305.8 L410.3,306.7 L408.8,306.9Z M399.9,271.7 L402.5,271.7 L402.5,274.0 L401.5,275.9 L401.8,278.4 L405.3,279.1 L405.6,281.0 L404.2,280.3 L402.8,279.1 L400.6,279.2 L399.9,278.4 L399.0,277.5 L399.0,275.6 L399.6,275.0Z M399.5,279.6 L400.9,279.7 L401.3,281.1 L400.6,281.6 L399.6,280.5Z M405.8,281.1 L407.3,281.1 L408.0,283.3 L406.9,283.3 L405.9,282.2Z M405.8,282.7 L406.9,283.2 L407.3,284.9 L406.6,285.1 L405.8,283.8Z M402.0,282.2 L403.9,282.9 L403.4,284.1 L402.1,284.3Z M402.8,283.7 L404.0,283.7 L404.3,286.3 L403.7,286.7 L402.9,285.2Z M404.2,283.0 L404.8,283.3 L405.3,284.6 L404.5,285.7 L404.3,284.4Z M405.0,284.9 L406.1,285.1 L405.9,285.7 L405.0,285.7Z M402.1,289.8 L402.9,288.4 L404.7,288.6 L405.6,287.9 L407.5,285.6 L409.2,288.2 L408.8,290.9 L407.5,292.0 L405.6,291.1 L404.7,289.2 L402.5,290.0Z M394.6,287.8 L395.2,287.6 L397.4,285.1 L398.5,283.2 L398.0,283.0 L396.3,285.1 L394.6,287.3Z M416.3,303.1 L417.9,301.5 L421.1,302.3 L422.7,306.1 L425.8,303.2 L428.2,303.6 L431.7,304.8 L434.5,305.9 L437.7,307.0 L439.7,309.2 L442.4,310.7 L442.9,311.4 L441.9,312.7 L443.5,313.7 L445.2,315.9 L447.6,317.1 L446.0,317.3 L442.4,316.8 L440.0,313.8 L437.7,312.9 L436.1,314.0 L435.3,315.4 L432.1,315.2 L429.8,313.7 L427.4,314.1 L427.1,312.6 L428.3,311.6 L427.4,309.2 L424.2,308.1 L421.6,307.0 L419.2,307.2 L417.9,305.4 L420.0,304.7 L417.9,304.5 L416.8,303.2Z M443.7,309.7 L446.3,309.6 L448.7,308.6 L449.8,307.7 L450.0,308.8 L448.7,309.9 L446.3,310.8 L444.0,310.5Z M447.6,305.0 L449.8,306.2 L451.4,308.1 L450.8,308.4 L448.9,306.6 L447.5,305.4Z M453.6,309.2 L454.7,309.7 L455.8,311.3 L455.2,311.8 L453.9,310.7Z M461.5,315.6 L462.9,315.7 L463.4,316.3 L461.8,316.3Z M463.1,314.1 L464.0,314.6 L464.5,316.0 L463.7,315.6Z M459.9,312.7 L461.5,313.7 L461.8,314.3 L460.4,313.5Z M472.6,323.9 L473.5,324.6 L473.4,325.5 L472.6,325.0Z M405.3,326.9 L406.1,325.0 L407.7,323.8 L409.9,322.7 L411.9,324.2 L414.0,324.4 L414.5,322.2 L416.0,320.4 L417.1,320.1 L418.7,319.0 L420.3,319.7 L422.7,320.1 L425.2,319.8 L424.2,321.9 L423.5,323.8 L423.9,326.9Z M432.8,326.9 L432.9,324.6 L433.1,321.4 L433.7,319.0 L434.5,317.8 L435.6,319.7 L436.1,322.2 L437.5,323.4 L438.8,324.4 L439.1,326.9Z M414.8,318.9 L417.1,318.6 L417.0,319.5 L415.1,319.5Z M424.7,322.7 L425.7,322.7 L425.5,323.4 L424.7,323.3Z M531.8,269.0 L533.2,269.8 L532.2,271.0 L531.6,270.1Z M530.5,267.7 L531.6,268.0 L531.0,268.3Z M528.0,266.8 L528.9,267.2 L528.3,267.2Z M525.6,265.8 L526.4,266.0 L525.9,266.3Z M529.6,267.4 L530.5,267.6Z M594.0,251.9 L596.0,255.1 L597.8,256.7 L597.6,257.9 L599.8,259.8 L600.9,261.7 L602.7,263.0 L604.2,264.7 L605.2,264.1 L603.8,262.7 L602.7,260.8 L601.1,258.6 L599.8,257.0 L598.2,254.3 L597.1,251.9Z M599.2,251.9 L600.0,253.5 L602.7,256.8 L604.2,258.2 L605.5,260.4 L607.4,261.4 L609.8,264.1 L611.4,266.8 L611.7,268.5 L613.3,270.7 L614.5,272.1 L617.7,273.6 L620.2,274.3 L623.2,275.3 L625.6,276.1 L627.9,275.4 L629.5,275.6 L632.2,277.8 L633.9,278.9 L636.6,279.7 L639.8,280.3 L640.1,280.5 L640.9,281.6 L642.3,283.3 L642.6,285.1 L644.0,285.6 L645.9,287.4 L647.7,287.9 L649.7,289.0 L651.6,289.3 L651.3,287.8 L652.4,286.8 L654.5,287.8 L655.7,288.6 L654.9,289.8 L655.9,294.6 L655.3,296.6 L653.5,298.5 L651.6,299.6 L651.0,301.5 L650.2,302.6 L651.3,305.0 L651.1,306.2 L649.7,308.1 L649.9,310.0 L651.8,311.8 L653.7,314.4 L655.6,317.9 L657.3,320.8 L657.6,322.3 L658.6,324.6 L659.5,326.9 L684.8,326.9 L684.8,287.4 L682.4,287.3 L680.8,285.4 L678.8,284.1 L676.1,284.8 L672.3,284.1 L669.8,284.1 L667.1,282.6 L664.9,283.5 L664.4,284.6 L665.5,285.9 L664.3,283.5 L663.9,281.6 L662.2,283.0 L659.8,283.5 L658.6,284.4 L657.9,286.0 L655.6,287.1 L651.9,285.7 L649.3,286.7 L646.9,285.1 L645.9,283.5 L645.8,281.9 L646.1,278.8 L646.3,276.9 L643.7,275.6 L640.6,275.9 L638.2,275.9 L638.5,274.3 L639.3,272.0 L639.8,270.1 L640.9,266.9 L639.0,266.9 L635.2,267.7 L635.2,269.6 L634.3,271.3 L631.9,271.5 L628.7,272.1 L626.2,270.6 L624.0,266.1 L623.7,263.0 L624.1,259.8 L624.5,257.0 L626.4,255.7 L628.3,254.6 L630.3,253.8 L633.5,254.4 L635.5,254.9 L637.1,255.1 L636.8,253.2 L639.8,253.0 L642.9,253.8 L645.3,253.5 L647.4,256.7 L648.8,259.8 L650.2,261.1 L651.5,259.0 L650.8,256.7 L649.6,253.5 L649.6,251.9Z M643.9,266.3 L648.5,264.4 L651.6,264.4 L656.4,266.3 L660.8,269.0 L660.3,269.4 L655.3,269.6 L655.9,268.3 L653.8,266.8 L650.0,266.1 L647.2,265.2Z M660.5,269.6 L663.0,269.4 L667.4,269.8 L669.9,271.5 L669.5,272.1 L665.2,273.1 L662.8,272.1 L660.3,271.8Z M654.3,271.8 L657.5,272.1 L657.6,272.6 L655.6,272.8Z M671.8,271.7 L674.4,271.8 L674.2,272.4 L671.8,272.4Z M654.5,261.1 L655.3,261.9 L654.9,263.0 L654.1,262.0Z M653.2,258.7 L655.1,258.9 L654.8,259.0 L653.2,259.0Z M656.7,260.6 L657.6,261.9 L657.8,261.7Z M680.2,283.8 L681.6,283.8 L681.6,284.9 L680.2,284.9Z" fill="#c3c3c3" stroke="#333" stroke-width="0.55" stroke-linejoin="round"/><path d="M536.8,327.7 545.0,324.4 552.1,321.0 557.6,317.4 561.6,313.9 564.7,309.6 566.1,305.6 566.2,300.9 564.9,296.9 562.1,293.0 557.7,289.1 552.1,285.9 545.8,283.3 537.9,281.1 529.2,279.5 519.8,278.5 510.3,278.2 492.9,279.2 477.0,281.9 463.7,286.0 458.2,288.5 453.5,291.4 448.5,295.3 444.1,300.1 440.3,305.6 437.5,311.1 436.1,315.9 435.8,320.6 437.0,324.6 439.3,327.7M512.7,327.7 524.5,325.4 534.8,322.4 543.5,318.9 550.6,314.8 555.4,310.3 558.1,305.6 558.5,300.9 556.4,296.1 554.4,293.8 551.4,291.4 544.2,287.7 534.8,284.8 523.7,283.2 511.9,282.8 499.2,283.6 486.6,285.8 475.1,289.0 465.3,293.4 458.1,298.5 455.0,301.7 452.7,304.8 451.2,308.0 450.3,311.1 450.1,314.3 450.6,316.7 451.8,319.0 453.8,321.4 459.8,325.0 468.8,327.7M488.2,321.5 499.2,322.1 511.9,321.3 523.7,319.4 534.0,316.4 541.9,312.9 547.4,308.7 549.2,306.4 550.3,304.0 550.6,301.7 550.1,299.3 547.3,295.3 541.9,291.8 534.8,289.3 526.1,287.7 516.6,287.3 506.4,287.9 496.1,289.7 486.6,292.4 478.2,296.1 472.3,300.1 468.2,304.8 467.2,307.2 466.9,309.6 467.4,311.9 468.5,313.8 470.6,315.9 473.1,317.4 479.5,319.9 488.2,321.5M502.4,314.3 509.5,314.6 517.4,314.1 525.3,312.7 531.6,310.9 536.4,308.8 540.3,305.9 542.1,303.2 542.2,300.1 540.3,297.1 537.1,295.0 532.4,293.2 526.1,292.1 519.8,291.8 512.7,292.3 506.4,293.5 499.9,295.3 494.5,297.7 489.9,300.9 487.4,304.0 486.9,306.4 488.2,309.4 491.4,311.6 496.1,313.3 502.4,314.3M512.7,306.6 519.8,307.1 527.7,305.8 530.8,304.6 533.0,303.2 534.1,301.7 534.1,300.1 531.6,297.8 526.9,296.5 521.4,296.4 515.0,297.7 510.0,300.1 508.0,302.4 508.1,304.0 508.7,304.8 512.7,306.6" fill="none" stroke="#ff1f1f" stroke-width="0.9"/><path d="M622.4,297.7 620.9,296.9 620.5,296.1 620.9,295.3 622.4,294.6 625.7,294.6 627.2,295.3 627.5,296.1 627.2,296.9 625.7,297.7 622.4,297.7M612.7,327.7 627.7,319.8 630.1,318.2 631.5,316.7 627.1,310.6 623.7,302.4 617.7,298.7 616.4,296.1 616.9,294.6 618.5,293.0 624.4,289.8 628.7,283.3 630.3,282.2 632.7,281.6 635.8,282.6 638.7,285.9 640.6,290.6 641.5,296.9 641.1,302.4 639.8,307.3 637.4,311.7 633.2,316.7 634.3,318.2 641.4,324.2 644.6,327.7M597.8,327.7 606.2,322.2 608.5,319.8 609.8,317.4 610.1,313.5 608.8,296.9 609.5,287.4 612.1,275.6 617.2,262.2 619.6,257.4 622.4,254.3 626.4,252.1 631.1,251.4 635.8,252.1 641.4,254.4 654.2,262.2 656.4,264.6 656.5,266.1 655.3,271.7 654.9,276.4 656.3,292.2 656.5,300.1 654.7,318.2 655.4,322.2 657.5,327.7M543.3,250.3 536.4,252.0 525.3,252.7 514.2,252.0 507.5,250.3M399.0,308.9 395.5,308.0 392.2,306.4 389.5,304.4 387.1,301.7 384.7,296.1 384.3,293.0 384.8,289.5 385.8,286.7 387.7,283.5 390.0,281.1 392.7,279.3 395.8,277.9 399.8,276.9 403.7,276.9 406.9,277.4 412.4,279.8 415.1,281.9 417.1,284.3 419.6,289.8 419.7,295.3 418.8,296.9 414.0,302.1 406.1,308.5 403.7,309.1 399.0,308.9M673.7,265.4 668.2,264.1 666.6,263.0 666.6,262.2 667.1,261.4 669.5,259.8 676.1,258.2 681.6,258.5 684.0,259.3 685.6,260.6 685.7,262.2 685.2,263.0 682.5,264.6 678.5,265.4 673.7,265.4M580.1,327.7 589.1,323.0 592.4,320.7 594.5,318.2 595.7,315.1 595.3,292.2 597.9,266.9 597.4,263.8 596.4,261.4 593.2,258.0 588.5,255.8 582.1,255.2 554.5,258.5 541.9,259.5 525.3,260.0 508.7,259.5 493.7,258.0 481.9,255.9 474.2,253.5 471.1,251.9 469.4,250.3M686.4,273.1 678.5,275.4 674.6,277.2 672.0,279.6 670.5,282.7 670.0,287.4 670.0,303.2 669.0,317.4 669.4,321.4 671.1,327.7M686.1,250.3 686.4,250.4M399.8,323.8 392.7,322.6 386.3,320.3 380.8,317.0 376.1,312.8 372.1,307.4 369.6,301.7 368.4,296.1 368.4,289.8 369.8,283.5 372.5,278.0 376.1,273.2 380.8,268.9 386.3,265.6 392.7,263.2 399.8,261.9 406.9,262.1 412.4,263.1 417.1,264.9 421.1,267.0 425.2,270.1 429.0,274.0 431.8,278.0 434.2,282.7 435.5,287.4 419.5,307.1 412.4,314.9 403.7,323.5 402.9,323.8 399.8,323.8" fill="none" stroke="#2424ff" stroke-width="1" stroke-dasharray="5 2.4"/><path d="M369.5,255.7L371.6,257.0L370.0,258.2ZM378.9,255.5L380.9,257.0L379.1,258.0ZM388.5,255.2L390.2,257.1L388.3,257.7ZM398.2,255.1L399.5,257.3L397.5,257.5ZM407.9,255.1L408.8,257.5L406.8,257.4ZM417.6,255.4L417.9,257.9L416.0,257.3ZM427.2,255.7L426.9,258.2L425.2,257.2ZM437.0,257.1L434.7,257.9L434.9,255.9ZM445.1,258.4L444.3,256.0L446.3,256.2ZM454.1,258.7L453.7,256.2L455.7,256.7ZM463.4,259.0L463.0,256.5L464.9,257.0ZM472.7,259.3L472.3,256.9L474.2,257.3ZM482.0,259.7L481.5,257.2L483.5,257.6ZM491.4,260.0L490.8,257.6L492.8,257.9ZM500.9,260.2L500.2,257.8L502.2,258.1ZM510.4,260.2L509.6,257.9L511.6,258.0ZM519.9,260.2L519.0,257.9L521.0,258.0ZM529.4,260.2L528.4,258.0L530.4,257.9ZM538.9,260.2L537.8,258.0L539.8,257.9ZM548.4,260.2L547.2,258.1L549.1,257.8ZM557.8,260.0L556.5,257.9L558.5,257.6ZM567.1,259.7L565.8,257.6L567.8,257.3ZM576.3,259.4L575.1,257.2L577.1,257.0ZM585.2,259.0L584.5,256.6L586.5,256.9ZM593.7,258.4L594.4,256.0L595.9,257.2ZM602.4,257.4L604.4,255.9L604.9,257.9ZM611.8,256.5L614.3,256.2L613.7,258.1ZM621.7,255.7L624.0,256.8L622.5,258.1ZM632.2,255.3L633.2,257.6L631.2,257.6ZM642.4,255.4L642.2,257.9L640.5,256.9ZM651.8,255.3L651.6,257.8L649.8,256.9ZM660.3,254.9L661.2,257.2L659.2,257.2ZM669.2,254.5L670.6,256.7L668.6,257.0ZM679.1,254.2L680.0,256.6L678.0,256.5ZM369.2,263.6L371.5,264.6L370.0,266.0ZM378.7,263.2L380.8,264.6L379.1,265.7ZM388.3,262.9L390.1,264.7L388.2,265.4ZM398.2,262.7L399.5,264.9L397.5,265.1ZM408.1,262.8L408.8,265.2L406.8,264.9ZM418.0,263.0L418.0,265.6L416.1,264.7ZM427.7,263.5L427.0,265.9L425.4,264.6ZM437.2,264.1L435.7,266.1L434.7,264.4ZM446.5,265.3L444.0,265.5L444.6,263.6ZM455.0,266.3L453.3,264.4L455.2,263.8ZM463.9,266.6L462.9,264.2L464.9,264.3ZM473.1,266.8L472.3,264.4L474.3,264.6ZM482.4,267.0L481.6,264.6L483.6,264.8ZM491.8,267.2L491.0,264.8L492.9,265.0ZM501.2,267.4L500.3,265.0L502.3,265.1ZM510.6,267.5L509.6,265.1L511.6,265.2ZM520.0,267.5L519.0,265.2L521.0,265.3ZM529.4,267.6L528.4,265.3L530.4,265.2ZM538.8,267.5L537.7,265.2L539.7,265.2ZM548.2,267.4L547.1,265.1L549.1,265.0ZM557.5,267.2L556.4,264.9L558.4,264.9ZM566.7,267.0L565.8,264.7L567.8,264.7ZM575.7,266.8L575.2,264.3L577.2,264.7ZM584.4,266.3L585.0,263.9L586.6,265.1ZM593.1,265.5L594.9,263.8L595.6,265.7ZM602.1,264.8L604.4,263.9L604.4,265.9ZM611.5,264.3L614.0,264.0L613.4,265.9ZM621.4,263.7L623.8,264.4L622.5,265.9ZM632.0,263.2L633.3,265.4L631.3,265.6ZM642.6,263.5L642.1,265.9L640.4,264.8ZM652.2,263.9L651.0,266.1L649.8,264.5ZM661.1,265.8L658.8,264.8L660.3,263.4ZM669.1,266.6L668.8,264.1L670.7,264.7ZM679.2,267.0L677.9,264.8L679.9,264.6ZM368.9,271.6L371.3,272.2L370.1,273.8ZM378.3,271.2L380.6,272.2L379.1,273.6ZM388.0,270.8L390.0,272.3L388.2,273.3ZM398.1,270.5L399.4,272.6L397.5,273.0ZM408.3,270.6L408.8,273.0L406.8,272.6ZM418.3,270.9L418.0,273.4L416.3,272.3ZM428.0,271.3L427.1,273.7L425.7,272.2ZM437.4,271.8L436.0,273.9L434.9,272.2ZM446.6,272.2L444.9,274.0L444.1,272.2ZM455.9,272.6L453.7,273.9L453.5,271.9ZM464.9,273.5L462.5,273.0L463.6,271.4ZM473.6,274.0L472.0,272.0L474.0,271.5ZM482.6,274.1L481.6,271.8L483.6,271.8ZM491.9,274.2L491.0,271.8L493.0,271.9ZM501.3,274.2L500.3,271.9L502.3,271.9ZM510.6,274.2L509.7,271.9L511.7,271.9ZM520.0,274.2L519.0,271.9L521.0,271.9ZM529.4,274.2L528.3,271.9L530.3,271.9ZM538.7,274.2L537.7,271.9L539.7,271.9ZM548.0,274.2L547.1,271.9L549.1,271.9ZM557.2,274.1L556.6,271.7L558.5,272.0ZM566.0,273.9L566.4,271.4L568.1,272.5ZM574.8,273.4L576.5,271.5L577.3,273.3ZM583.8,272.9L586.0,271.8L586.2,273.7ZM592.8,272.6L595.2,271.8L595.0,273.8ZM602.0,272.3L604.4,271.8L604.0,273.8ZM611.4,272.0L613.9,271.9L613.2,273.8ZM621.3,271.6L623.7,272.2L622.5,273.8ZM632.0,271.2L633.3,273.3L631.3,273.6ZM642.9,271.6L641.8,273.9L640.5,272.4ZM652.8,272.5L650.7,273.8L650.4,271.9ZM661.8,273.9L659.4,273.4L660.5,271.8ZM670.4,275.1L668.7,273.2L670.6,272.6ZM679.6,275.7L678.1,273.7L680.1,273.2ZM368.5,279.8L371.0,279.9L370.2,281.7ZM377.9,279.4L380.4,279.9L379.2,281.6ZM387.6,279.0L389.9,280.1L388.4,281.4ZM397.9,278.7L399.5,280.7L397.5,281.2ZM408.5,278.7L408.7,281.2L406.8,280.6ZM418.7,279.1L417.8,281.5L416.4,280.1ZM428.4,279.5L426.9,281.6L425.9,279.9ZM437.7,279.9L436.0,281.7L435.2,279.9ZM446.8,280.1L445.0,281.8L444.3,279.9ZM456.0,280.4L453.9,281.9L453.5,279.9ZM464.9,283.8L463.2,281.9L465.1,281.3ZM474.0,283.9L472.5,281.9L474.4,281.4ZM483.2,283.9L481.8,281.8L483.8,281.5ZM492.4,283.9L491.1,281.8L493.1,281.5ZM501.5,283.9L500.4,281.7L502.4,281.6ZM510.7,283.9L509.7,281.7L511.7,281.6ZM519.8,283.9L518.9,281.6L520.9,281.7ZM528.9,283.9L528.2,281.5L530.2,281.8ZM538.0,283.9L537.5,281.4L539.5,281.9ZM547.0,283.8L546.8,281.3L548.7,281.9ZM556.3,281.0L558.2,279.4L558.8,281.3ZM565.5,280.7L567.8,279.7L567.8,281.7ZM574.7,280.6L577.0,279.7L576.9,281.7ZM583.7,280.5L586.1,279.8L585.9,281.7ZM592.7,280.4L595.2,279.7L594.9,281.7ZM601.8,280.3L604.3,279.7L603.9,281.7ZM611.3,280.1L613.7,279.7L613.2,281.7ZM621.1,279.8L623.6,280.0L622.7,281.7ZM631.9,279.2L633.3,281.3L631.3,281.6ZM643.2,279.8L641.7,281.8L640.7,280.0ZM653.1,280.3L651.0,281.7L650.6,279.7ZM662.5,280.8L660.1,281.7L660.2,279.7ZM671.5,281.6L669.0,281.5L669.8,279.7ZM680.3,282.2L678.0,281.1L679.5,279.8ZM368.3,288.2L370.8,287.6L370.4,289.6ZM377.6,288.0L380.1,287.7L379.6,289.6ZM387.3,287.8L389.8,287.8L389.0,289.6ZM397.5,287.3L399.7,288.6L398.0,289.7ZM409.0,287.4L408.1,289.8L406.6,288.4ZM419.1,287.9L417.3,289.6L416.6,287.8ZM428.6,288.1L426.6,289.6L426.2,287.6ZM438.2,290.9L435.8,290.0L437.2,288.6ZM447.2,291.2L445.0,290.0L446.6,288.7ZM456.2,291.4L454.2,289.9L455.9,288.9ZM465.2,291.6L463.4,289.9L465.2,289.1ZM474.3,291.7L472.6,289.8L474.5,289.2ZM483.5,291.7L481.9,289.8L483.8,289.2ZM492.7,291.8L491.2,289.7L493.1,289.3ZM501.8,291.8L500.5,289.7L502.4,289.4ZM510.9,291.8L509.7,289.6L511.7,289.5ZM519.9,291.8L519.0,289.5L521.0,289.6ZM528.8,291.8L528.2,289.4L530.2,289.7ZM537.7,291.7L537.5,289.2L539.4,289.8ZM546.6,291.5L546.7,289.0L548.5,289.9ZM555.6,291.3L556.0,288.8L557.7,289.9ZM565.6,289.3L567.1,287.2L568.1,288.9ZM574.7,288.5L577.0,287.6L576.9,289.6ZM583.7,288.5L586.1,287.6L585.9,289.6ZM592.7,288.4L595.0,287.6L594.9,289.6ZM601.8,288.4L604.2,287.6L604.0,289.6ZM611.2,288.2L613.6,287.6L613.3,289.6ZM621.1,287.9L623.6,287.8L622.8,289.7ZM631.9,287.3L633.4,289.3L631.5,289.7ZM643.3,288.0L641.4,289.7L640.8,287.8ZM653.2,288.3L651.1,289.6L650.8,287.6ZM662.6,288.4L660.4,289.6L660.3,287.6ZM671.7,288.6L669.4,289.6L669.4,287.6ZM680.7,288.8L678.3,289.5L678.5,287.6ZM368.3,296.8L370.5,295.5L370.7,297.5ZM377.6,296.9L379.7,295.5L380.0,297.5ZM387.2,297.0L389.1,295.4L389.7,297.4ZM397.4,297.5L398.3,295.2L399.7,296.7ZM409.1,297.4L406.6,296.9L407.8,295.3ZM419.1,297.0L416.6,297.4L417.1,295.5ZM429.1,298.5L426.6,297.9L427.9,296.3ZM438.4,298.6L435.9,297.9L437.2,296.3ZM447.5,298.8L445.2,297.9L446.6,296.4ZM456.5,298.9L454.3,297.7L455.8,296.5ZM465.6,299.0L463.5,297.6L465.1,296.5ZM474.8,299.1L472.7,297.6L474.5,296.6ZM484.0,299.2L482.0,297.6L483.8,296.7ZM493.3,299.4L491.4,297.7L493.2,296.9ZM502.5,299.5L500.7,297.7L502.6,297.0ZM511.6,299.6L510.0,297.7L511.9,297.1ZM520.4,299.7L519.1,297.6L521.1,297.3ZM528.6,299.7L528.2,297.2L530.1,297.6ZM536.9,299.2L537.3,296.7L539.0,297.8ZM545.6,298.7L546.7,296.4L548.0,297.9ZM554.7,298.3L556.1,296.2L557.2,297.9ZM563.9,298.1L565.4,296.1L566.4,297.8ZM574.6,296.5L577.0,295.5L576.9,297.5ZM583.7,296.5L586.0,295.5L586.0,297.5ZM592.7,296.5L595.0,295.5L594.9,297.5ZM601.7,296.5L604.0,295.5L604.0,297.5ZM610.3,296.5L612.6,295.5L612.5,297.5ZM621.0,296.4L623.3,295.5L623.2,297.5ZM634.8,296.4L632.5,297.5L632.5,295.5ZM643.4,296.4L641.2,297.5L641.0,295.5ZM653.3,296.4L651.0,297.5L650.9,295.5ZM662.7,296.5L660.4,297.5L660.4,295.5ZM671.8,296.5L669.5,297.5L669.5,295.5ZM680.7,296.5L678.4,297.5L678.4,295.5ZM368.5,305.2L370.2,303.4L371.0,305.2ZM377.8,305.6L379.3,303.5L380.3,305.2ZM387.6,305.9L388.5,303.6L389.9,305.0ZM397.9,306.3L397.6,303.8L399.5,304.4ZM408.6,306.3L406.8,304.5L408.6,303.8ZM419.5,306.6L417.2,305.8L418.5,304.3ZM429.1,306.3L426.7,305.8L427.9,304.2ZM438.5,306.1L436.0,305.7L437.1,304.0ZM447.6,305.9L445.1,305.5L446.2,303.9ZM456.7,305.8L454.2,305.4L455.3,303.7ZM465.9,305.7L463.4,305.3L464.5,303.6ZM475.1,305.6L472.6,305.2L473.7,303.5ZM484.5,305.4L482.0,305.2L482.9,303.4ZM493.8,305.1L491.3,305.2L492.0,303.4ZM503.2,304.4L500.9,305.4L500.9,303.4ZM512.2,303.2L511.0,305.4L509.8,303.8ZM520.4,301.5L521.1,303.9L519.1,303.6ZM528.1,301.4L529.9,303.1L528.1,303.9ZM536.1,302.5L538.5,303.0L537.3,304.7ZM545.0,303.4L547.5,303.2L546.8,305.1ZM554.2,303.9L556.6,303.3L556.3,305.2ZM563.5,304.2L565.9,303.3L565.7,305.3ZM574.3,304.4L576.6,303.4L576.7,305.4ZM583.7,304.5L585.9,303.4L586.0,305.4ZM592.7,304.5L594.9,303.4L595.0,305.4ZM601.7,304.6L604.0,303.4L604.1,305.4ZM611.1,304.7L613.3,303.4L613.5,305.4ZM621.0,305.0L622.9,303.3L623.5,305.2ZM631.8,305.6L631.6,303.1L633.5,303.8ZM643.4,304.8L640.9,305.3L641.3,303.3ZM653.2,304.6L650.8,305.4L651.1,303.4ZM662.7,304.6L660.3,305.4L660.4,303.4ZM671.8,304.5L669.4,305.4L669.5,303.4ZM680.7,304.5L678.4,305.4L678.5,303.4ZM368.8,313.5L370.1,311.3L371.2,312.9ZM378.2,313.9L379.1,311.5L380.5,312.9ZM388.0,314.3L388.2,311.8L390.0,312.8ZM398.1,314.5L397.5,312.1L399.4,312.4ZM409.6,314.7L407.4,313.5L409.0,312.3ZM419.5,314.3L417.1,313.6L418.4,312.0ZM429.1,313.8L426.6,313.5L427.6,311.8ZM438.4,313.3L435.9,313.4L436.6,311.5ZM447.6,312.8L445.1,313.3L445.5,311.3ZM456.7,312.3L454.4,313.3L454.4,311.3ZM465.9,311.8L463.9,313.3L463.4,311.4ZM474.9,311.2L473.6,313.3L472.5,311.6ZM484.0,310.6L483.3,313.0L481.7,311.8ZM492.9,310.1L492.9,312.6L491.1,311.8ZM501.8,309.5L502.4,312.0L500.4,311.6ZM510.7,309.1L511.7,311.4L509.7,311.3ZM519.6,309.1L520.9,311.2L518.9,311.5ZM528.4,309.2L530.0,311.1L528.1,311.7ZM537.2,309.4L539.1,311.0L537.4,311.9ZM546.0,309.8L548.2,310.9L546.7,312.2ZM555.0,310.2L557.3,310.9L556.0,312.4ZM564.0,310.6L566.5,310.9L565.4,312.6ZM574.7,312.2L577.1,311.4L576.9,313.4ZM583.7,312.2L586.0,311.3L586.0,313.3ZM592.7,312.3L595.0,311.3L595.0,313.3ZM601.8,312.5L604.0,311.3L604.2,313.3ZM611.2,312.6L613.3,311.3L613.6,313.3ZM621.0,312.9L622.9,311.2L623.5,313.1ZM631.9,313.7L631.4,311.2L633.4,311.6ZM643.3,313.0L640.8,313.1L641.5,311.2ZM653.2,312.7L650.7,313.3L651.1,311.3ZM662.6,312.6L660.2,313.3L660.5,311.3ZM671.7,312.5L669.3,313.3L669.5,311.3ZM680.7,312.4L678.4,313.3L678.5,311.3ZM369.1,321.5L370.0,319.2L371.5,320.5ZM378.6,321.9L379.1,319.4L380.7,320.5ZM388.3,322.2L388.2,319.7L390.1,320.5ZM398.2,322.4L397.5,320.0L399.4,320.3ZM409.6,322.0L407.2,321.0L408.6,319.6ZM419.3,321.5L416.8,321.2L417.8,319.4ZM428.8,320.8L426.4,321.2L426.9,319.3ZM438.1,320.1L435.9,321.2L435.8,319.2ZM447.2,319.3L445.5,321.2L444.7,319.3ZM456.2,318.7L455.2,321.0L453.8,319.5ZM465.1,318.2L464.8,320.7L463.1,319.6ZM474.2,317.8L474.3,320.3L472.4,319.6ZM483.2,317.5L483.7,319.9L481.7,319.5ZM492.3,317.1L493.0,319.5L491.0,319.3ZM501.3,317.0L502.3,319.3L500.3,319.2ZM510.4,317.0L511.6,319.2L509.6,319.3ZM519.4,317.0L520.8,319.1L518.8,319.4ZM528.5,317.1L530.1,319.0L528.1,319.6ZM537.5,317.2L539.3,318.9L537.4,319.7ZM546.5,317.3L548.5,318.9L546.7,319.8ZM555.6,317.5L557.7,318.9L556.0,320.0ZM566.1,318.7L567.9,320.4L566.1,321.2ZM575.1,318.6L577.2,320.1L575.5,321.1ZM584.1,318.6L586.3,319.7L584.8,321.0ZM593.0,318.6L595.4,319.4L594.0,320.8ZM602.1,318.6L604.5,319.2L603.3,320.8ZM611.5,318.7L613.9,319.3L612.8,320.9ZM621.4,318.8L623.7,319.7L622.3,321.1ZM632.2,318.6L633.2,320.9L631.2,320.9ZM643.3,319.4L641.6,321.3L640.8,319.5ZM653.2,319.8L651.1,321.2L650.7,319.2ZM662.6,319.9L660.4,321.2L660.2,319.2ZM671.7,320.0L669.5,321.2L669.3,319.2ZM680.7,320.0L678.5,321.3L678.3,319.3Z" fill="#222" stroke="none"/><path d="M371.3,258.3L370.3,256.9M380.6,258.5L379.6,256.7M389.7,258.8L388.9,256.5M398.7,258.9L398.4,256.5M407.7,258.9L407.8,256.5M416.7,258.6L417.2,256.7M425.8,258.3L426.5,256.9M434.7,256.9L435.7,257.0M445.3,255.6L445.2,257.1M455.0,255.3L454.5,257.3M464.4,255.0L463.7,257.7M473.8,254.7L473.0,258.0M483.2,254.3L482.3,258.3M492.5,254.0L491.7,258.6M501.7,253.8L501.1,258.9M510.9,253.8L510.5,258.9M520.1,253.8L519.9,258.9M529.3,253.8L529.4,258.9M538.5,253.8L538.8,258.9M547.7,253.8L548.3,258.9M557.0,254.0L557.6,258.6M566.4,254.3L566.9,258.3M575.9,254.6L576.2,258.0M585.7,255.0L585.4,257.6M595.9,255.6L594.6,257.3M605.9,256.6L603.8,257.1M615.2,257.5L613.1,256.9M624.0,258.3L622.6,256.7M632.2,258.7L632.2,256.7M640.7,258.6L641.8,256.6M650.0,258.7L651.2,256.5M660.2,259.1L660.3,256.3M670.0,259.5L669.4,255.9M678.8,259.8L679.0,255.6M371.6,266.2L370.1,264.6M380.8,266.6L379.4,264.4M389.9,266.9L388.8,264.2M398.7,267.1L398.3,264.1M407.5,267.0L407.9,264.1M416.3,266.8L417.4,264.3M425.3,266.3L426.8,264.6M434.5,265.7L436.0,264.8M443.9,264.5L445.2,264.9M454.1,263.5L454.6,265.0M463.9,263.2L463.9,265.2M473.4,263.0L473.2,265.4M482.8,262.8L482.5,265.6M492.1,262.6L491.9,265.8M501.4,262.4L501.2,266.0M510.7,262.3L510.6,266.1M520.0,262.3L520.0,266.2M529.3,262.2L529.4,266.2M538.6,262.3L538.7,266.1M547.9,262.4L548.1,266.0M557.3,262.6L557.4,265.8M566.8,262.8L566.7,265.6M576.5,263.0L576.0,265.4M586.5,263.5L585.2,265.2M596.5,264.3L594.4,265.1M606.2,265.0L603.5,264.9M615.5,265.5L612.8,264.7M624.3,266.1L622.5,264.6M632.4,266.6L632.2,264.6M640.5,266.3L641.8,264.6M649.6,265.9L651.1,264.7M659.4,264.0L660.2,264.8M670.1,263.2L669.5,265.2M678.7,262.8L679.0,265.6M371.9,274.0L370.0,272.4M381.2,274.4L379.2,272.2M390.2,274.8L388.7,272.0M398.8,275.1L398.3,271.9M407.3,275.0L408.0,271.9M416.0,274.7L417.6,272.1M425.0,274.3L427.0,272.3M434.3,273.8L436.2,272.5M443.8,273.4L445.4,272.7M453.2,273.0L454.5,272.8M462.9,272.1L463.8,272.7M472.9,271.6L473.2,272.7M482.6,271.5L482.6,272.7M492.0,271.4L492.0,272.8M501.3,271.4L501.3,272.8M510.7,271.4L510.6,272.8M520.0,271.4L520.0,272.9M529.3,271.4L529.4,272.9M538.7,271.4L538.7,272.8M548.1,271.4L548.0,272.8M557.6,271.5L557.4,272.8M567.5,271.7L566.8,272.8M577.4,272.2L576.1,272.8M587.1,272.7L585.2,272.8M596.8,273.0L594.2,272.7M606.3,273.3L603.3,272.6M615.6,273.6L612.7,272.5M624.4,274.0L622.4,272.5M632.4,274.4L632.2,272.5M640.2,274.0L641.9,272.5M649.0,273.1L651.4,272.7M658.7,271.7L660.7,273.1M668.8,270.5L669.9,273.8M678.3,269.9L679.3,274.4M372.3,281.6L369.8,280.4M381.6,282.0L379.1,280.2M390.6,282.4L388.6,280.1M399.0,282.7L398.3,280.0M407.1,282.7L408.0,280.0M415.6,282.3L417.7,280.1M424.6,281.9L427.2,280.3M434.0,281.5L436.4,280.4M443.6,281.3L445.5,280.6M453.1,281.0L454.6,280.7M462.9,277.6L464.5,282.5M472.5,277.5L473.7,282.5M482.0,277.5L482.9,282.5M491.5,277.5L492.2,282.6M501.1,277.5L501.4,282.6M510.6,277.5L510.7,282.6M520.2,277.5L519.9,282.6M529.8,277.5L529.1,282.6M539.4,277.5L538.3,282.5M549.1,277.6L547.5,282.5M558.5,280.4L557.6,280.6M568.0,280.7L566.9,280.7M577.5,280.8L576.1,280.7M587.2,280.9L585.1,280.7M596.9,281.0L594.1,280.6M606.5,281.1L603.2,280.5M615.7,281.3L612.6,280.5M624.6,281.6L622.4,280.4M632.5,282.2L632.2,280.5M639.9,281.6L642.0,280.5M648.7,281.1L651.7,280.5M658.0,280.6L661.1,280.8M667.7,279.8L670.2,281.0M677.6,279.2L679.4,281.2M372.5,289.0L369.7,288.5M381.9,289.2L379.0,288.4M390.9,289.4L388.5,288.4M399.4,289.9L398.3,288.4M406.6,289.8L408.0,288.4M415.2,289.3L417.8,288.4M424.4,289.1L427.3,288.4M433.5,286.3L437.2,289.9M443.2,286.0L446.3,290.1M452.9,285.8L455.5,290.2M462.6,285.6L464.7,290.3M472.2,285.5L473.9,290.4M481.7,285.5L483.1,290.4M491.2,285.4L492.4,290.4M500.8,285.4L501.6,290.4M510.4,285.4L510.8,290.5M520.1,285.4L520.0,290.5M529.9,285.4L529.1,290.4M539.7,285.5L538.1,290.4M549.5,285.7L547.2,290.3M559.2,285.9L556.4,290.2M567.9,287.9L566.8,288.6M577.5,288.7L576.0,288.6M587.2,288.7L585.1,288.6M596.9,288.8L594.1,288.5M606.5,288.8L603.1,288.5M615.8,289.0L612.5,288.4M624.6,289.3L622.3,288.4M632.5,289.9L632.2,288.6M639.8,289.2L642.0,288.5M648.6,288.9L651.8,288.5M657.9,288.8L661.3,288.5M667.5,288.6L670.4,288.6M677.2,288.4L679.4,288.6M372.5,296.2L369.7,296.6M381.9,296.1L379.0,296.6M391.0,296.0L388.5,296.7M399.5,295.5L398.4,296.6M406.5,295.6L408.0,296.6M415.2,296.0L417.8,296.7M423.9,294.5L428.0,297.7M433.3,294.4L437.3,297.7M442.9,294.2L446.5,297.8M452.6,294.1L455.6,297.8M462.2,294.0L464.8,297.8M471.7,293.9L474.1,297.9M481.2,293.8L483.4,298.0M490.6,293.6L492.7,298.1M500.1,293.5L502.0,298.2M509.7,293.4L511.2,298.3M519.6,293.3L520.2,298.4M530.1,293.3L528.9,298.3M540.5,293.8L537.6,298.0M550.5,294.3L546.7,297.8M560.1,294.7L555.9,297.6M569.6,294.9L565.1,297.4M577.6,296.5L576.0,296.5M587.2,296.5L585.1,296.5M596.9,296.5L594.0,296.5M606.6,296.5L603.1,296.5M616.7,296.5L611.6,296.5M624.7,296.6L622.3,296.5M629.6,296.6L633.4,296.5M639.7,296.6L642.0,296.5M648.5,296.6L651.9,296.5M657.8,296.5L661.3,296.5M667.4,296.5L670.4,296.5M677.2,296.5L679.4,296.5M372.3,303.6L369.8,304.7M381.7,303.2L379.0,304.8M390.6,302.9L388.5,305.0M399.0,302.5L398.3,305.0M407.0,302.5L408.0,305.0M414.8,302.2L418.5,305.7M423.9,302.5L428.0,305.5M433.2,302.7L437.4,305.4M442.8,302.9L446.4,305.2M452.4,303.0L455.6,305.1M461.9,303.1L464.7,305.0M471.4,303.2L474.0,304.9M480.7,303.4L483.2,304.8M490.1,303.7L492.5,304.6M499.4,304.4L501.8,304.4M509.1,305.6L511.1,304.0M519.6,307.3L520.2,302.8M530.6,307.4L528.6,302.7M541.3,306.3L537.2,303.3M551.1,305.4L546.3,303.8M560.6,304.9L555.6,304.1M570.0,304.6L564.9,304.3M577.9,304.4L575.7,304.4M587.2,304.3L585.1,304.4M596.9,304.3L594.0,304.4M606.6,304.2L603.1,304.5M615.9,304.1L612.5,304.5M624.7,303.8L622.3,304.6M632.6,303.2L632.2,304.3M639.7,304.0L642.0,304.5M648.6,304.2L651.9,304.5M657.8,304.2L661.3,304.5M667.4,304.3L670.4,304.4M677.2,304.3L679.4,304.4M372.0,311.1L369.9,312.7M381.3,310.7L379.2,312.9M390.2,310.3L388.6,313.1M398.8,310.1L398.3,313.2M406.0,309.9L408.8,313.6M414.8,310.3L418.4,313.4M423.9,310.8L427.9,313.1M433.3,311.3L437.1,312.8M442.8,311.8L446.2,312.5M452.4,312.3L455.3,312.3M461.9,312.8L464.5,312.1M471.6,313.4L473.8,312.0M481.2,314.0L483.1,311.7M491.0,314.5L492.4,311.3M500.8,315.1L501.6,310.9M510.6,315.5L510.7,310.4M520.4,315.5L519.8,310.4M530.3,315.4L528.8,310.5M540.2,315.2L537.8,310.6M550.1,314.8L546.9,310.8M559.8,314.4L556.0,311.1M569.5,314.0L565.2,311.3M577.5,312.4L576.0,312.3M587.2,312.4L585.1,312.3M596.9,312.3L594.1,312.3M606.5,312.1L603.2,312.4M615.8,312.0L612.6,312.4M624.7,311.7L622.4,312.5M632.5,310.9L632.2,312.3M639.8,311.6L642.0,312.5M648.6,311.9L651.8,312.5M657.9,312.0L661.2,312.4M667.5,312.1L670.3,312.4M677.2,312.2L679.3,312.3M371.7,318.9L370.1,320.5M380.9,318.5L379.4,320.7M389.9,318.2L388.8,320.9M398.7,318.0L398.3,321.1M406.0,318.4L408.6,321.0M415.0,318.9L418.1,320.8M424.2,319.6L427.5,320.5M433.6,320.3L436.8,320.1M443.2,321.1L445.9,319.9M452.9,321.7L455.2,319.6M462.7,322.2L464.4,319.4M472.3,322.6L473.7,319.1M482.0,322.9L482.9,318.8M491.6,323.3L492.1,318.5M501.3,323.4L501.3,318.3M510.9,323.4L510.5,318.3M520.6,323.4L519.7,318.4M530.2,323.3L528.8,318.4M539.9,323.2L538.0,318.5M549.6,323.1L547.2,318.5M559.2,322.9L556.4,318.6M567.4,321.7L566.6,320.0M577.1,321.8L575.9,319.8M586.8,321.8L585.0,319.6M596.6,321.8L594.0,319.5M606.2,321.8L603.2,319.5M615.5,321.7L612.6,319.5M624.3,321.6L622.4,319.7M632.2,321.8L632.2,320.0M639.8,321.0L642.0,320.0M648.6,320.6L651.8,320.0M657.9,320.5L661.2,320.1M667.5,320.4L670.3,320.1M677.2,320.4L679.3,320.2" fill="none" stroke="#222" stroke-width="0.7"/></g><text x="182.50" y="7.40" font-size="8.4" text-anchor="middle" font-family="Liberation Sans" >SST</text><text x="525.30" y="7.40" font-size="8.4" text-anchor="middle" font-family="Liberation Sans" >PREC</text><text x="24.50" y="6.10" font-size="7.4" text-anchor="start" font-family="Liberation Sans" >(a) 1951-1979</text><rect x="24.5" y="13.5" width="315.80" height="71.05" fill="none" stroke="#222" stroke-width="1"/><line x1="19.90" y1="13.50" x2="24.50" y2="13.50" stroke="#222" stroke-width="1"/><text x="16.20" y="16.10" font-size="7.2" text-anchor="end" font-family="Liberation Sans"  textLength="13.8" lengthAdjust="spacingAndGlyphs">30°N</text><line x1="19.90" y1="29.29" x2="24.50" y2="29.29" stroke="#222" stroke-width="1"/><text x="16.20" y="31.89" font-size="7.2" text-anchor="end" font-family="Liberation Sans"  textLength="13.8" lengthAdjust="spacingAndGlyphs">20°N</text><line x1="19.90" y1="45.08" x2="24.50" y2="45.08" stroke="#222" stroke-width="1"/><text x="16.20" y="47.68" font-size="7.2" text-anchor="end" font-family="Liberation Sans"  textLength="13.8" lengthAdjust="spacingAndGlyphs">10°N</text><line x1="19.90" y1="60.87" x2="24.50" y2="60.87" stroke="#222" stroke-width="1"/><text x="16.20" y="63.47" font-size="7.2" text-anchor="end" font-family="Liberation Sans"  textLength="6.2" lengthAdjust="spacingAndGlyphs">0°</text><line x1="19.90" y1="76.66" x2="24.50" y2="76.66" stroke="#222" stroke-width="1"/><text x="16.20" y="79.26" font-size="7.2" text-anchor="end" font-family="Liberation Sans"  textLength="13.5" lengthAdjust="spacingAndGlyphs">10°S</text><line x1="79.77" y1="84.55" x2="79.77" y2="89.55" stroke="#222" stroke-width="1"/><text x="79.77" y="98.85" font-size="6.6" text-anchor="middle" font-family="Liberation Sans"  textLength="16.2" lengthAdjust="spacingAndGlyphs">135°E</text><line x1="150.82" y1="84.55" x2="150.82" y2="89.55" stroke="#222" stroke-width="1"/><text x="150.82" y="98.85" font-size="6.6" text-anchor="middle" font-family="Liberation Sans"  textLength="11.8" lengthAdjust="spacingAndGlyphs">180°</text><line x1="221.88" y1="84.55" x2="221.88" y2="89.55" stroke="#222" stroke-width="1"/><text x="221.88" y="98.85" font-size="6.6" text-anchor="middle" font-family="Liberation Sans"  textLength="18.2" lengthAdjust="spacingAndGlyphs">135°W</text><line x1="292.93" y1="84.55" x2="292.93" y2="89.55" stroke="#222" stroke-width="1"/><text x="292.93" y="98.85" font-size="6.6" text-anchor="middle" font-family="Liberation Sans"  textLength="14.9" lengthAdjust="spacingAndGlyphs">90°W</text><text x="24.50" y="126.10" font-size="7.4" text-anchor="start" font-family="Liberation Sans" >(b) 1980-2020</text><rect x="24.5" y="133.5" width="315.80" height="71.05" fill="none" stroke="#222" stroke-width="1"/><line x1="19.90" y1="133.50" x2="24.50" y2="133.50" stroke="#222" stroke-width="1"/><text x="16.20" y="136.10" font-size="7.2" text-anchor="end" font-family="Liberation Sans"  textLength="13.8" lengthAdjust="spacingAndGlyphs">30°N</text><line x1="19.90" y1="149.29" x2="24.50" y2="149.29" stroke="#222" stroke-width="1"/><text x="16.20" y="151.89" font-size="7.2" text-anchor="end" font-family="Liberation Sans"  textLength="13.8" lengthAdjust="spacingAndGlyphs">20°N</text><line x1="19.90" y1="165.08" x2="24.50" y2="165.08" stroke="#222" stroke-width="1"/><text x="16.20" y="167.68" font-size="7.2" text-anchor="end" font-family="Liberation Sans"  textLength="13.8" lengthAdjust="spacingAndGlyphs">10°N</text><line x1="19.90" y1="180.87" x2="24.50" y2="180.87" stroke="#222" stroke-width="1"/><text x="16.20" y="183.47" font-size="7.2" text-anchor="end" font-family="Liberation Sans"  textLength="6.2" lengthAdjust="spacingAndGlyphs">0°</text><line x1="19.90" y1="196.66" x2="24.50" y2="196.66" stroke="#222" stroke-width="1"/><text x="16.20" y="199.26" font-size="7.2" text-anchor="end" font-family="Liberation Sans"  textLength="13.5" lengthAdjust="spacingAndGlyphs">10°S</text><line x1="79.77" y1="204.56" x2="79.77" y2="209.56" stroke="#222" stroke-width="1"/><text x="79.77" y="218.86" font-size="6.6" text-anchor="middle" font-family="Liberation Sans"  textLength="16.2" lengthAdjust="spacingAndGlyphs">135°E</text><line x1="150.82" y1="204.56" x2="150.82" y2="209.56" stroke="#222" stroke-width="1"/><text x="150.82" y="218.86" font-size="6.6" text-anchor="middle" font-family="Liberation Sans"  textLength="11.8" lengthAdjust="spacingAndGlyphs">180°</text><line x1="221.88" y1="204.56" x2="221.88" y2="209.56" stroke="#222" stroke-width="1"/><text x="221.88" y="218.86" font-size="6.6" text-anchor="middle" font-family="Liberation Sans"  textLength="18.2" lengthAdjust="spacingAndGlyphs">135°W</text><line x1="292.93" y1="204.56" x2="292.93" y2="209.56" stroke="#222" stroke-width="1"/><text x="292.93" y="218.86" font-size="6.6" text-anchor="middle" font-family="Liberation Sans"  textLength="14.9" lengthAdjust="spacingAndGlyphs">90°W</text><text x="24.50" y="246.10" font-size="7.4" text-anchor="start" font-family="Liberation Sans" >(c) P2-P1</text><rect x="24.5" y="253.5" width="315.80" height="71.05" fill="none" stroke="#222" stroke-width="1"/><line x1="19.90" y1="253.50" x2="24.50" y2="253.50" stroke="#222" stroke-width="1"/><text x="16.20" y="256.10" font-size="7.2" text-anchor="end" font-family="Liberation Sans"  textLength="13.8" lengthAdjust="spacingAndGlyphs">30°N</text><line x1="19.90" y1="269.29" x2="24.50" y2="269.29" stroke="#222" stroke-width="1"/><text x="16.20" y="271.89" font-size="7.2" text-anchor="end" font-family="Liberation Sans"  textLength="13.8" lengthAdjust="spacingAndGlyphs">20°N</text><line x1="19.90" y1="285.08" x2="24.50" y2="285.08" stroke="#222" stroke-width="1"/><text x="16.20" y="287.68" font-size="7.2" text-anchor="end" font-family="Liberation Sans"  textLength="13.8" lengthAdjust="spacingAndGlyphs">10°N</text><line x1="19.90" y1="300.87" x2="24.50" y2="300.87" stroke="#222" stroke-width="1"/><text x="16.20" y="303.47" font-size="7.2" text-anchor="end" font-family="Liberation Sans"  textLength="6.2" lengthAdjust="spacingAndGlyphs">0°</text><line x1="19.90" y1="316.66" x2="24.50" y2="316.66" stroke="#222" stroke-width="1"/><text x="16.20" y="319.26" font-size="7.2" text-anchor="end" font-family="Liberation Sans"  textLength="13.5" lengthAdjust="spacingAndGlyphs">10°S</text><line x1="79.77" y1="324.56" x2="79.77" y2="329.56" stroke="#222" stroke-width="1"/><text x="79.77" y="338.86" font-size="6.6" text-anchor="middle" font-family="Liberation Sans"  textLength="16.2" lengthAdjust="spacingAndGlyphs">135°E</text><line x1="150.82" y1="324.56" x2="150.82" y2="329.56" stroke="#222" stroke-width="1"/><text x="150.82" y="338.86" font-size="6.6" text-anchor="middle" font-family="Liberation Sans"  textLength="11.8" lengthAdjust="spacingAndGlyphs">180°</text><line x1="221.88" y1="324.56" x2="221.88" y2="329.56" stroke="#222" stroke-width="1"/><text x="221.88" y="338.86" font-size="6.6" text-anchor="middle" font-family="Liberation Sans"  textLength="18.2" lengthAdjust="spacingAndGlyphs">135°W</text><line x1="292.93" y1="324.56" x2="292.93" y2="329.56" stroke="#222" stroke-width="1"/><text x="292.93" y="338.86" font-size="6.6" text-anchor="middle" font-family="Liberation Sans"  textLength="14.9" lengthAdjust="spacingAndGlyphs">90°W</text><text x="367.40" y="6.10" font-size="7.4" text-anchor="start" font-family="Liberation Sans" >(d) 1951-1979</text><rect x="367.4" y="13.5" width="315.80" height="71.05" fill="none" stroke="#222" stroke-width="1"/><line x1="362.80" y1="13.50" x2="367.40" y2="13.50" stroke="#222" stroke-width="1"/><text x="359.10" y="16.10" font-size="7.2" text-anchor="end" font-family="Liberation Sans"  textLength="13.8" lengthAdjust="spacingAndGlyphs">30°N</text><line x1="362.80" y1="29.29" x2="367.40" y2="29.29" stroke="#222" stroke-width="1"/><text x="359.10" y="31.89" font-size="7.2" text-anchor="end" font-family="Liberation Sans"  textLength="13.8" lengthAdjust="spacingAndGlyphs">20°N</text><line x1="362.80" y1="45.08" x2="367.40" y2="45.08" stroke="#222" stroke-width="1"/><text x="359.10" y="47.68" font-size="7.2" text-anchor="end" font-family="Liberation Sans"  textLength="13.8" lengthAdjust="spacingAndGlyphs">10°N</text><line x1="362.80" y1="60.87" x2="367.40" y2="60.87" stroke="#222" stroke-width="1"/><text x="359.10" y="63.47" font-size="7.2" text-anchor="end" font-family="Liberation Sans"  textLength="6.2" lengthAdjust="spacingAndGlyphs">0°</text><line x1="362.80" y1="76.66" x2="367.40" y2="76.66" stroke="#222" stroke-width="1"/><text x="359.10" y="79.26" font-size="7.2" text-anchor="end" font-family="Liberation Sans"  textLength="13.5" lengthAdjust="spacingAndGlyphs">10°S</text><line x1="422.66" y1="84.55" x2="422.66" y2="89.55" stroke="#222" stroke-width="1"/><text x="422.66" y="98.85" font-size="6.6" text-anchor="middle" font-family="Liberation Sans"  textLength="16.2" lengthAdjust="spacingAndGlyphs">135°E</text><line x1="493.72" y1="84.55" x2="493.72" y2="89.55" stroke="#222" stroke-width="1"/><text x="493.72" y="98.85" font-size="6.6" text-anchor="middle" font-family="Liberation Sans"  textLength="11.8" lengthAdjust="spacingAndGlyphs">180°</text><line x1="564.77" y1="84.55" x2="564.77" y2="89.55" stroke="#222" stroke-width="1"/><text x="564.77" y="98.85" font-size="6.6" text-anchor="middle" font-family="Liberation Sans"  textLength="18.2" lengthAdjust="spacingAndGlyphs">135°W</text><line x1="635.83" y1="84.55" x2="635.83" y2="89.55" stroke="#222" stroke-width="1"/><text x="635.83" y="98.85" font-size="6.6" text-anchor="middle" font-family="Liberation Sans"  textLength="14.9" lengthAdjust="spacingAndGlyphs">90°W</text><rect x="667.2" y="71.65499999999999" width="16" height="13.5" fill="#fff"/><line x1="667.9" y1="77.6" x2="681.6" y2="77.6" stroke="#444" stroke-width="0.7"/><path d="M682.0,77.6L679.2,76.3L679.2,78.9Z" fill="#444"/><text x="674.90" y="85.95" font-size="5.6" text-anchor="middle" font-family="Liberation Sans" >1.0</text><line x1="683.2" y1="71.6" x2="683.2" y2="84.6" stroke="#222" stroke-width="1"/><text x="367.40" y="126.10" font-size="7.4" text-anchor="start" font-family="Liberation Sans" >(e) 1980-2020</text><rect x="367.4" y="133.5" width="315.80" height="71.05" fill="none" stroke="#222" stroke-width="1"/><line x1="362.80" y1="133.50" x2="367.40" y2="133.50" stroke="#222" stroke-width="1"/><text x="359.10" y="136.10" font-size="7.2" text-anchor="end" font-family="Liberation Sans"  textLength="13.8" lengthAdjust="spacingAndGlyphs">30°N</text><line x1="362.80" y1="149.29" x2="367.40" y2="149.29" stroke="#222" stroke-width="1"/><text x="359.10" y="151.89" font-size="7.2" text-anchor="end" font-family="Liberation Sans"  textLength="13.8" lengthAdjust="spacingAndGlyphs">20°N</text><line x1="362.80" y1="165.08" x2="367.40" y2="165.08" stroke="#222" stroke-width="1"/><text x="359.10" y="167.68" font-size="7.2" text-anchor="end" font-family="Liberation Sans"  textLength="13.8" lengthAdjust="spacingAndGlyphs">10°N</text><line x1="362.80" y1="180.87" x2="367.40" y2="180.87" stroke="#222" stroke-width="1"/><text x="359.10" y="183.47" font-size="7.2" text-anchor="end" font-family="Liberation Sans"  textLength="6.2" lengthAdjust="spacingAndGlyphs">0°</text><line x1="362.80" y1="196.66" x2="367.40" y2="196.66" stroke="#222" stroke-width="1"/><text x="359.10" y="199.26" font-size="7.2" text-anchor="end" font-family="Liberation Sans"  textLength="13.5" lengthAdjust="spacingAndGlyphs">10°S</text><line x1="422.66" y1="204.56" x2="422.66" y2="209.56" stroke="#222" stroke-width="1"/><text x="422.66" y="218.86" font-size="6.6" text-anchor="middle" font-family="Liberation Sans"  textLength="16.2" lengthAdjust="spacingAndGlyphs">135°E</text><line x1="493.72" y1="204.56" x2="493.72" y2="209.56" stroke="#222" stroke-width="1"/><text x="493.72" y="218.86" font-size="6.6" text-anchor="middle" font-family="Liberation Sans"  textLength="11.8" lengthAdjust="spacingAndGlyphs">180°</text><line x1="564.77" y1="204.56" x2="564.77" y2="209.56" stroke="#222" stroke-width="1"/><text x="564.77" y="218.86" font-size="6.6" text-anchor="middle" font-family="Liberation Sans"  textLength="18.2" lengthAdjust="spacingAndGlyphs">135°W</text><line x1="635.83" y1="204.56" x2="635.83" y2="209.56" stroke="#222" stroke-width="1"/><text x="635.83" y="218.86" font-size="6.6" text-anchor="middle" font-family="Liberation Sans"  textLength="14.9" lengthAdjust="spacingAndGlyphs">90°W</text><rect x="667.2" y="191.655" width="16" height="13.5" fill="#fff"/><line x1="667.9" y1="197.6" x2="681.6" y2="197.6" stroke="#444" stroke-width="0.7"/><path d="M682.0,197.6L679.2,196.3L679.2,198.9Z" fill="#444"/><text x="674.90" y="205.96" font-size="5.6" text-anchor="middle" font-family="Liberation Sans" >1.0</text><line x1="683.2" y1="191.6" x2="683.2" y2="204.6" stroke="#222" stroke-width="1"/><text x="367.40" y="246.10" font-size="7.4" text-anchor="start" font-family="Liberation Sans" >(f) P2-P1</text><rect x="367.4" y="253.5" width="315.80" height="71.05" fill="none" stroke="#222" stroke-width="1"/><line x1="362.80" y1="253.50" x2="367.40" y2="253.50" stroke="#222" stroke-width="1"/><text x="359.10" y="256.10" font-size="7.2" text-anchor="end" font-family="Liberation Sans"  textLength="13.8" lengthAdjust="spacingAndGlyphs">30°N</text><line x1="362.80" y1="269.29" x2="367.40" y2="269.29" stroke="#222" stroke-width="1"/><text x="359.10" y="271.89" font-size="7.2" text-anchor="end" font-family="Liberation Sans"  textLength="13.8" lengthAdjust="spacingAndGlyphs">20°N</text><line x1="362.80" y1="285.08" x2="367.40" y2="285.08" stroke="#222" stroke-width="1"/><text x="359.10" y="287.68" font-size="7.2" text-anchor="end" font-family="Liberation Sans"  textLength="13.8" lengthAdjust="spacingAndGlyphs">10°N</text><line x1="362.80" y1="300.87" x2="367.40" y2="300.87" stroke="#222" stroke-width="1"/><text x="359.10" y="303.47" font-size="7.2" text-anchor="end" font-family="Liberation Sans"  textLength="6.2" lengthAdjust="spacingAndGlyphs">0°</text><line x1="362.80" y1="316.66" x2="367.40" y2="316.66" stroke="#222" stroke-width="1"/><text x="359.10" y="319.26" font-size="7.2" text-anchor="end" font-family="Liberation Sans"  textLength="13.5" lengthAdjust="spacingAndGlyphs">10°S</text><line x1="422.66" y1="324.56" x2="422.66" y2="329.56" stroke="#222" stroke-width="1"/><text x="422.66" y="338.86" font-size="6.6" text-anchor="middle" font-family="Liberation Sans"  textLength="16.2" lengthAdjust="spacingAndGlyphs">135°E</text><line x1="493.72" y1="324.56" x2="493.72" y2="329.56" stroke="#222" stroke-width="1"/><text x="493.72" y="338.86" font-size="6.6" text-anchor="middle" font-family="Liberation Sans"  textLength="11.8" lengthAdjust="spacingAndGlyphs">180°</text><line x1="564.77" y1="324.56" x2="564.77" y2="329.56" stroke="#222" stroke-width="1"/><text x="564.77" y="338.86" font-size="6.6" text-anchor="middle" font-family="Liberation Sans"  textLength="18.2" lengthAdjust="spacingAndGlyphs">135°W</text><line x1="635.83" y1="324.56" x2="635.83" y2="329.56" stroke="#222" stroke-width="1"/><text x="635.83" y="338.86" font-size="6.6" text-anchor="middle" font-family="Liberation Sans"  textLength="14.9" lengthAdjust="spacingAndGlyphs">90°W</text><rect x="667.2" y="311.65500000000003" width="16" height="13.5" fill="#fff"/><line x1="667.9" y1="317.6" x2="681.6" y2="317.6" stroke="#444" stroke-width="0.7"/><path d="M682.0,317.6L679.2,316.3L679.2,318.9Z" fill="#444"/><text x="674.90" y="325.95" font-size="5.6" text-anchor="middle" font-family="Liberation Sans" >0.5</text><line x1="683.2" y1="311.6" x2="683.2" y2="324.6" stroke="#222" stroke-width="1"/><rect x="65.00" y="100.5" width="10.98" height="6" fill="#0b2355"/><rect x="75.68" y="100.5" width="10.98" height="6" fill="#0d3578"/><rect x="86.36" y="100.5" width="10.98" height="6" fill="#1656a5"/><rect x="97.05" y="100.5" width="10.98" height="6" fill="#2c74bb"/><rect x="107.73" y="100.5" width="10.98" height="6" fill="#3f8ac7"/><rect x="118.41" y="100.5" width="10.98" height="6" fill="#4e95cc"/><rect x="129.09" y="100.5" width="10.98" height="6" fill="#5aa0d2"/><rect x="139.77" y="100.5" width="10.98" height="6" fill="#79bcdc"/><rect x="150.45" y="100.5" width="10.98" height="6" fill="#9fd3e3"/><rect x="161.14" y="100.5" width="10.98" height="6" fill="#d5eff7"/><rect x="171.82" y="100.5" width="10.98" height="6" fill="#eef9fb"/><rect x="182.50" y="100.5" width="10.98" height="6" fill="#fdecee"/><rect x="193.18" y="100.5" width="10.98" height="6" fill="#fcd7d7"/><rect x="203.86" y="100.5" width="10.98" height="6" fill="#fbb8a8"/><rect x="214.55" y="100.5" width="10.98" height="6" fill="#fc9272"/><rect x="225.23" y="100.5" width="10.98" height="6" fill="#fb7050"/><rect x="235.91" y="100.5" width="10.98" height="6" fill="#f5604a"/><rect x="246.59" y="100.5" width="10.98" height="6" fill="#ec3c2f"/><rect x="257.27" y="100.5" width="10.98" height="6" fill="#d01c22"/><rect x="267.95" y="100.5" width="10.98" height="6" fill="#b0121d"/><rect x="278.64" y="100.5" width="10.98" height="6" fill="#8d0c14"/><rect x="289.32" y="100.5" width="10.98" height="6" fill="#650610"/><line x1="75.68" y1="100.5" x2="75.68" y2="106.5" stroke="#333" stroke-width="0.6"/><line x1="86.36" y1="100.5" x2="86.36" y2="106.5" stroke="#333" stroke-width="0.6"/><line x1="97.05" y1="100.5" x2="97.05" y2="106.5" stroke="#333" stroke-width="0.6"/><line x1="107.73" y1="100.5" x2="107.73" y2="106.5" stroke="#333" stroke-width="0.6"/><line x1="118.41" y1="100.5" x2="118.41" y2="106.5" stroke="#333" stroke-width="0.6"/><line x1="129.09" y1="100.5" x2="129.09" y2="106.5" stroke="#333" stroke-width="0.6"/><line x1="139.77" y1="100.5" x2="139.77" y2="106.5" stroke="#333" stroke-width="0.6"/><line x1="150.45" y1="100.5" x2="150.45" y2="106.5" stroke="#333" stroke-width="0.6"/><line x1="161.14" y1="100.5" x2="161.14" y2="106.5" stroke="#333" stroke-width="0.6"/><line x1="171.82" y1="100.5" x2="171.82" y2="106.5" stroke="#333" stroke-width="0.6"/><line x1="182.50" y1="100.5" x2="182.50" y2="106.5" stroke="#333" stroke-width="0.6"/><line x1="193.18" y1="100.5" x2="193.18" y2="106.5" stroke="#333" stroke-width="0.6"/><line x1="203.86" y1="100.5" x2="203.86" y2="106.5" stroke="#333" stroke-width="0.6"/><line x1="214.55" y1="100.5" x2="214.55" y2="106.5" stroke="#333" stroke-width="0.6"/><line x1="225.23" y1="100.5" x2="225.23" y2="106.5" stroke="#333" stroke-width="0.6"/><line x1="235.91" y1="100.5" x2="235.91" y2="106.5" stroke="#333" stroke-width="0.6"/><line x1="246.59" y1="100.5" x2="246.59" y2="106.5" stroke="#333" stroke-width="0.6"/><line x1="257.27" y1="100.5" x2="257.27" y2="106.5" stroke="#333" stroke-width="0.6"/><line x1="267.95" y1="100.5" x2="267.95" y2="106.5" stroke="#333" stroke-width="0.6"/><line x1="278.64" y1="100.5" x2="278.64" y2="106.5" stroke="#333" stroke-width="0.6"/><line x1="289.32" y1="100.5" x2="289.32" y2="106.5" stroke="#333" stroke-width="0.6"/><rect x="65.0" y="100.5" width="235.00" height="6" fill="none" stroke="#333" stroke-width="0.6"/><text x="75.68" y="113.70" font-size="7.4" text-anchor="middle" font-family="Liberation Sans" >-2</text><text x="97.05" y="113.70" font-size="7.4" text-anchor="middle" font-family="Liberation Sans" >-1.6</text><text x="118.41" y="113.70" font-size="7.4" text-anchor="middle" font-family="Liberation Sans" >-1.2</text><text x="139.77" y="113.70" font-size="7.4" text-anchor="middle" font-family="Liberation Sans" >-0.8</text><text x="161.14" y="113.70" font-size="7.4" text-anchor="middle" font-family="Liberation Sans" >-0.4</text><text x="182.50" y="113.70" font-size="7.4" text-anchor="middle" font-family="Liberation Sans" >0</text><text x="203.86" y="113.70" font-size="7.4" text-anchor="middle" font-family="Liberation Sans" >0.4</text><text x="225.23" y="113.70" font-size="7.4" text-anchor="middle" font-family="Liberation Sans" >0.8</text><text x="246.59" y="113.70" font-size="7.4" text-anchor="middle" font-family="Liberation Sans" >1.2</text><text x="267.95" y="113.70" font-size="7.4" text-anchor="middle" font-family="Liberation Sans" >1.6</text><text x="289.32" y="113.70" font-size="7.4" text-anchor="middle" font-family="Liberation Sans" >2</text><text x="305.50" y="114.50" font-size="10" text-anchor="start" font-family="Liberation Serif" >K</text><rect x="407.90" y="100.5" width="19.88" height="6" fill="#5a3408"/><rect x="427.48" y="100.5" width="19.88" height="6" fill="#93560f"/><rect x="447.07" y="100.5" width="19.88" height="6" fill="#b87426"/><rect x="466.65" y="100.5" width="19.88" height="6" fill="#dcb36a"/><rect x="486.23" y="100.5" width="19.88" height="6" fill="#f0daa4"/><rect x="505.82" y="100.5" width="19.88" height="6" fill="#f6f0dc"/><rect x="525.40" y="100.5" width="19.88" height="6" fill="#d8efea"/><rect x="544.98" y="100.5" width="19.88" height="6" fill="#a3ddd3"/><rect x="564.57" y="100.5" width="19.88" height="6" fill="#6cc0b3"/><rect x="584.15" y="100.5" width="19.88" height="6" fill="#2f9487"/><rect x="603.73" y="100.5" width="19.88" height="6" fill="#04685a"/><rect x="623.32" y="100.5" width="19.88" height="6" fill="#083a2e"/><line x1="427.48" y1="100.5" x2="427.48" y2="106.5" stroke="#333" stroke-width="0.6"/><line x1="447.07" y1="100.5" x2="447.07" y2="106.5" stroke="#333" stroke-width="0.6"/><line x1="466.65" y1="100.5" x2="466.65" y2="106.5" stroke="#333" stroke-width="0.6"/><line x1="486.23" y1="100.5" x2="486.23" y2="106.5" stroke="#333" stroke-width="0.6"/><line x1="505.82" y1="100.5" x2="505.82" y2="106.5" stroke="#333" stroke-width="0.6"/><line x1="525.40" y1="100.5" x2="525.40" y2="106.5" stroke="#333" stroke-width="0.6"/><line x1="544.98" y1="100.5" x2="544.98" y2="106.5" stroke="#333" stroke-width="0.6"/><line x1="564.57" y1="100.5" x2="564.57" y2="106.5" stroke="#333" stroke-width="0.6"/><line x1="584.15" y1="100.5" x2="584.15" y2="106.5" stroke="#333" stroke-width="0.6"/><line x1="603.73" y1="100.5" x2="603.73" y2="106.5" stroke="#333" stroke-width="0.6"/><line x1="623.32" y1="100.5" x2="623.32" y2="106.5" stroke="#333" stroke-width="0.6"/><rect x="407.9" y="100.5" width="235.00" height="6" fill="none" stroke="#333" stroke-width="0.6"/><text x="427.48" y="113.70" font-size="7.4" text-anchor="middle" font-family="Liberation Sans" >-5</text><text x="447.07" y="113.70" font-size="7.4" text-anchor="middle" font-family="Liberation Sans" >-4</text><text x="466.65" y="113.70" font-size="7.4" text-anchor="middle" font-family="Liberation Sans" >-3</text><text x="486.23" y="113.70" font-size="7.4" text-anchor="middle" font-family="Liberation Sans" >-2</text><text x="505.82" y="113.70" font-size="7.4" text-anchor="middle" font-family="Liberation Sans" >-1</text><text x="525.40" y="113.70" font-size="7.4" text-anchor="middle" font-family="Liberation Sans" >0</text><text x="544.98" y="113.70" font-size="7.4" text-anchor="middle" font-family="Liberation Sans" >1</text><text x="564.57" y="113.70" font-size="7.4" text-anchor="middle" font-family="Liberation Sans" >2</text><text x="584.15" y="113.70" font-size="7.4" text-anchor="middle" font-family="Liberation Sans" >3</text><text x="603.73" y="113.70" font-size="7.4" text-anchor="middle" font-family="Liberation Sans" >4</text><text x="623.32" y="113.70" font-size="7.4" text-anchor="middle" font-family="Liberation Sans" >5</text><text x="646.70" y="114.70" font-size="10.6" text-anchor="start" font-family="Liberation Serif" >mm/day</text><rect x="65.00" y="220.5" width="10.98" height="6" fill="#0b2355"/><rect x="75.68" y="220.5" width="10.98" height="6" fill="#0d3578"/><rect x="86.36" y="220.5" width="10.98" height="6" fill="#1656a5"/><rect x="97.05" y="220.5" width="10.98" height="6" fill="#2c74bb"/><rect x="107.73" y="220.5" width="10.98" height="6" fill="#3f8ac7"/><rect x="118.41" y="220.5" width="10.98" height="6" fill="#4e95cc"/><rect x="129.09" y="220.5" width="10.98" height="6" fill="#5aa0d2"/><rect x="139.77" y="220.5" width="10.98" height="6" fill="#79bcdc"/><rect x="150.45" y="220.5" width="10.98" height="6" fill="#9fd3e3"/><rect x="161.14" y="220.5" width="10.98" height="6" fill="#d5eff7"/><rect x="171.82" y="220.5" width="10.98" height="6" fill="#eef9fb"/><rect x="182.50" y="220.5" width="10.98" height="6" fill="#fdecee"/><rect x="193.18" y="220.5" width="10.98" height="6" fill="#fcd7d7"/><rect x="203.86" y="220.5" width="10.98" height="6" fill="#fbb8a8"/><rect x="214.55" y="220.5" width="10.98" height="6" fill="#fc9272"/><rect x="225.23" y="220.5" width="10.98" height="6" fill="#fb7050"/><rect x="235.91" y="220.5" width="10.98" height="6" fill="#f5604a"/><rect x="246.59" y="220.5" width="10.98" height="6" fill="#ec3c2f"/><rect x="257.27" y="220.5" width="10.98" height="6" fill="#d01c22"/><rect x="267.95" y="220.5" width="10.98" height="6" fill="#b0121d"/><rect x="278.64" y="220.5" width="10.98" height="6" fill="#8d0c14"/><rect x="289.32" y="220.5" width="10.98" height="6" fill="#650610"/><line x1="75.68" y1="220.5" x2="75.68" y2="226.5" stroke="#333" stroke-width="0.6"/><line x1="86.36" y1="220.5" x2="86.36" y2="226.5" stroke="#333" stroke-width="0.6"/><line x1="97.05" y1="220.5" x2="97.05" y2="226.5" stroke="#333" stroke-width="0.6"/><line x1="107.73" y1="220.5" x2="107.73" y2="226.5" stroke="#333" stroke-width="0.6"/><line x1="118.41" y1="220.5" x2="118.41" y2="226.5" stroke="#333" stroke-width="0.6"/><line x1="129.09" y1="220.5" x2="129.09" y2="226.5" stroke="#333" stroke-width="0.6"/><line x1="139.77" y1="220.5" x2="139.77" y2="226.5" stroke="#333" stroke-width="0.6"/><line x1="150.45" y1="220.5" x2="150.45" y2="226.5" stroke="#333" stroke-width="0.6"/><line x1="161.14" y1="220.5" x2="161.14" y2="226.5" stroke="#333" stroke-width="0.6"/><line x1="171.82" y1="220.5" x2="171.82" y2="226.5" stroke="#333" stroke-width="0.6"/><line x1="182.50" y1="220.5" x2="182.50" y2="226.5" stroke="#333" stroke-width="0.6"/><line x1="193.18" y1="220.5" x2="193.18" y2="226.5" stroke="#333" stroke-width="0.6"/><line x1="203.86" y1="220.5" x2="203.86" y2="226.5" stroke="#333" stroke-width="0.6"/><line x1="214.55" y1="220.5" x2="214.55" y2="226.5" stroke="#333" stroke-width="0.6"/><line x1="225.23" y1="220.5" x2="225.23" y2="226.5" stroke="#333" stroke-width="0.6"/><line x1="235.91" y1="220.5" x2="235.91" y2="226.5" stroke="#333" stroke-width="0.6"/><line x1="246.59" y1="220.5" x2="246.59" y2="226.5" stroke="#333" stroke-width="0.6"/><line x1="257.27" y1="220.5" x2="257.27" y2="226.5" stroke="#333" stroke-width="0.6"/><line x1="267.95" y1="220.5" x2="267.95" y2="226.5" stroke="#333" stroke-width="0.6"/><line x1="278.64" y1="220.5" x2="278.64" y2="226.5" stroke="#333" stroke-width="0.6"/><line x1="289.32" y1="220.5" x2="289.32" y2="226.5" stroke="#333" stroke-width="0.6"/><rect x="65.0" y="220.5" width="235.00" height="6" fill="none" stroke="#333" stroke-width="0.6"/><text x="75.68" y="233.70" font-size="7.4" text-anchor="middle" font-family="Liberation Sans" >-2</text><text x="97.05" y="233.70" font-size="7.4" text-anchor="middle" font-family="Liberation Sans" >-1.6</text><text x="118.41" y="233.70" font-size="7.4" text-anchor="middle" font-family="Liberation Sans" >-1.2</text><text x="139.77" y="233.70" font-size="7.4" text-anchor="middle" font-family="Liberation Sans" >-0.8</text><text x="161.14" y="233.70" font-size="7.4" text-anchor="middle" font-family="Liberation Sans" >-0.4</text><text x="182.50" y="233.70" font-size="7.4" text-anchor="middle" font-family="Liberation Sans" >0</text><text x="203.86" y="233.70" font-size="7.4" text-anchor="middle" font-family="Liberation Sans" >0.4</text><text x="225.23" y="233.70" font-size="7.4" text-anchor="middle" font-family="Liberation Sans" >0.8</text><text x="246.59" y="233.70" font-size="7.4" text-anchor="middle" font-family="Liberation Sans" >1.2</text><text x="267.95" y="233.70" font-size="7.4" text-anchor="middle" font-family="Liberation Sans" >1.6</text><text x="289.32" y="233.70" font-size="7.4" text-anchor="middle" font-family="Liberation Sans" >2</text><text x="305.50" y="234.50" font-size="10" text-anchor="start" font-family="Liberation Serif" >K</text><rect x="407.90" y="220.5" width="19.88" height="6" fill="#5a3408"/><rect x="427.48" y="220.5" width="19.88" height="6" fill="#93560f"/><rect x="447.07" y="220.5" width="19.88" height="6" fill="#b87426"/><rect x="466.65" y="220.5" width="19.88" height="6" fill="#dcb36a"/><rect x="486.23" y="220.5" width="19.88" height="6" fill="#f0daa4"/><rect x="505.82" y="220.5" width="19.88" height="6" fill="#f6f0dc"/><rect x="525.40" y="220.5" width="19.88" height="6" fill="#d8efea"/><rect x="544.98" y="220.5" width="19.88" height="6" fill="#a3ddd3"/><rect x="564.57" y="220.5" width="19.88" height="6" fill="#6cc0b3"/><rect x="584.15" y="220.5" width="19.88" height="6" fill="#2f9487"/><rect x="603.73" y="220.5" width="19.88" height="6" fill="#04685a"/><rect x="623.32" y="220.5" width="19.88" height="6" fill="#083a2e"/><line x1="427.48" y1="220.5" x2="427.48" y2="226.5" stroke="#333" stroke-width="0.6"/><line x1="447.07" y1="220.5" x2="447.07" y2="226.5" stroke="#333" stroke-width="0.6"/><line x1="466.65" y1="220.5" x2="466.65" y2="226.5" stroke="#333" stroke-width="0.6"/><line x1="486.23" y1="220.5" x2="486.23" y2="226.5" stroke="#333" stroke-width="0.6"/><line x1="505.82" y1="220.5" x2="505.82" y2="226.5" stroke="#333" stroke-width="0.6"/><line x1="525.40" y1="220.5" x2="525.40" y2="226.5" stroke="#333" stroke-width="0.6"/><line x1="544.98" y1="220.5" x2="544.98" y2="226.5" stroke="#333" stroke-width="0.6"/><line x1="564.57" y1="220.5" x2="564.57" y2="226.5" stroke="#333" stroke-width="0.6"/><line x1="584.15" y1="220.5" x2="584.15" y2="226.5" stroke="#333" stroke-width="0.6"/><line x1="603.73" y1="220.5" x2="603.73" y2="226.5" stroke="#333" stroke-width="0.6"/><line x1="623.32" y1="220.5" x2="623.32" y2="226.5" stroke="#333" stroke-width="0.6"/><rect x="407.9" y="220.5" width="235.00" height="6" fill="none" stroke="#333" stroke-width="0.6"/><text x="427.48" y="233.70" font-size="7.4" text-anchor="middle" font-family="Liberation Sans" >-5</text><text x="447.07" y="233.70" font-size="7.4" text-anchor="middle" font-family="Liberation Sans" >-4</text><text x="466.65" y="233.70" font-size="7.4" text-anchor="middle" font-family="Liberation Sans" >-3</text><text x="486.23" y="233.70" font-size="7.4" text-anchor="middle" font-family="Liberation Sans" >-2</text><text x="505.82" y="233.70" font-size="7.4" text-anchor="middle" font-family="Liberation Sans" >-1</text><text x="525.40" y="233.70" font-size="7.4" text-anchor="middle" font-family="Liberation Sans" >0</text><text x="544.98" y="233.70" font-size="7.4" text-anchor="middle" font-family="Liberation Sans" >1</text><text x="564.57" y="233.70" font-size="7.4" text-anchor="middle" font-family="Liberation Sans" >2</text><text x="584.15" y="233.70" font-size="7.4" text-anchor="middle" font-family="Liberation Sans" >3</text><text x="603.73" y="233.70" font-size="7.4" text-anchor="middle" font-family="Liberation Sans" >4</text><text x="623.32" y="233.70" font-size="7.4" text-anchor="middle" font-family="Liberation Sans" >5</text><text x="646.70" y="234.70" font-size="10.6" text-anchor="start" font-family="Liberation Serif" >mm/day</text><rect x="65.00" y="340.5" width="10.98" height="6" fill="#0b2355"/><rect x="75.68" y="340.5" width="10.98" height="6" fill="#0d3578"/><rect x="86.36" y="340.5" width="10.98" height="6" fill="#1656a5"/><rect x="97.05" y="340.5" width="10.98" height="6" fill="#2c74bb"/><rect x="107.73" y="340.5" width="10.98" height="6" fill="#3f8ac7"/><rect x="118.41" y="340.5" width="10.98" height="6" fill="#4e95cc"/><rect x="129.09" y="340.5" width="10.98" height="6" fill="#5aa0d2"/><rect x="139.77" y="340.5" width="10.98" height="6" fill="#79bcdc"/><rect x="150.45" y="340.5" width="10.98" height="6" fill="#9fd3e3"/><rect x="161.14" y="340.5" width="10.98" height="6" fill="#d5eff7"/><rect x="171.82" y="340.5" width="10.98" height="6" fill="#eef9fb"/><rect x="182.50" y="340.5" width="10.98" height="6" fill="#fdecee"/><rect x="193.18" y="340.5" width="10.98" height="6" fill="#fcd7d7"/><rect x="203.86" y="340.5" width="10.98" height="6" fill="#fbb8a8"/><rect x="214.55" y="340.5" width="10.98" height="6" fill="#fc9272"/><rect x="225.23" y="340.5" width="10.98" height="6" fill="#fb7050"/><rect x="235.91" y="340.5" width="10.98" height="6" fill="#f5604a"/><rect x="246.59" y="340.5" width="10.98" height="6" fill="#ec3c2f"/><rect x="257.27" y="340.5" width="10.98" height="6" fill="#d01c22"/><rect x="267.95" y="340.5" width="10.98" height="6" fill="#b0121d"/><rect x="278.64" y="340.5" width="10.98" height="6" fill="#8d0c14"/><rect x="289.32" y="340.5" width="10.98" height="6" fill="#650610"/><line x1="75.68" y1="340.5" x2="75.68" y2="346.5" stroke="#333" stroke-width="0.6"/><line x1="86.36" y1="340.5" x2="86.36" y2="346.5" stroke="#333" stroke-width="0.6"/><line x1="97.05" y1="340.5" x2="97.05" y2="346.5" stroke="#333" stroke-width="0.6"/><line x1="107.73" y1="340.5" x2="107.73" y2="346.5" stroke="#333" stroke-width="0.6"/><line x1="118.41" y1="340.5" x2="118.41" y2="346.5" stroke="#333" stroke-width="0.6"/><line x1="129.09" y1="340.5" x2="129.09" y2="346.5" stroke="#333" stroke-width="0.6"/><line x1="139.77" y1="340.5" x2="139.77" y2="346.5" stroke="#333" stroke-width="0.6"/><line x1="150.45" y1="340.5" x2="150.45" y2="346.5" stroke="#333" stroke-width="0.6"/><line x1="161.14" y1="340.5" x2="161.14" y2="346.5" stroke="#333" stroke-width="0.6"/><line x1="171.82" y1="340.5" x2="171.82" y2="346.5" stroke="#333" stroke-width="0.6"/><line x1="182.50" y1="340.5" x2="182.50" y2="346.5" stroke="#333" stroke-width="0.6"/><line x1="193.18" y1="340.5" x2="193.18" y2="346.5" stroke="#333" stroke-width="0.6"/><line x1="203.86" y1="340.5" x2="203.86" y2="346.5" stroke="#333" stroke-width="0.6"/><line x1="214.55" y1="340.5" x2="214.55" y2="346.5" stroke="#333" stroke-width="0.6"/><line x1="225.23" y1="340.5" x2="225.23" y2="346.5" stroke="#333" stroke-width="0.6"/><line x1="235.91" y1="340.5" x2="235.91" y2="346.5" stroke="#333" stroke-width="0.6"/><line x1="246.59" y1="340.5" x2="246.59" y2="346.5" stroke="#333" stroke-width="0.6"/><line x1="257.27" y1="340.5" x2="257.27" y2="346.5" stroke="#333" stroke-width="0.6"/><line x1="267.95" y1="340.5" x2="267.95" y2="346.5" stroke="#333" stroke-width="0.6"/><line x1="278.64" y1="340.5" x2="278.64" y2="346.5" stroke="#333" stroke-width="0.6"/><line x1="289.32" y1="340.5" x2="289.32" y2="346.5" stroke="#333" stroke-width="0.6"/><rect x="65.0" y="340.5" width="235.00" height="6" fill="none" stroke="#333" stroke-width="0.6"/><text x="75.68" y="353.70" font-size="7.4" text-anchor="middle" font-family="Liberation Sans" >-1</text><text x="97.05" y="353.70" font-size="7.4" text-anchor="middle" font-family="Liberation Sans" >-0.8</text><text x="118.41" y="353.70" font-size="7.4" text-anchor="middle" font-family="Liberation Sans" >-0.6</text><text x="139.77" y="353.70" font-size="7.4" text-anchor="middle" font-family="Liberation Sans" >-0.4</text><text x="161.14" y="353.70" font-size="7.4" text-anchor="middle" font-family="Liberation Sans" >-0.2</text><text x="182.50" y="353.70" font-size="7.4" text-anchor="middle" font-family="Liberation Sans" >0</text><text x="203.86" y="353.70" font-size="7.4" text-anchor="middle" font-family="Liberation Sans" >0.2</text><text x="225.23" y="353.70" font-size="7.4" text-anchor="middle" font-family="Liberation Sans" >0.4</text><text x="246.59" y="353.70" font-size="7.4" text-anchor="middle" font-family="Liberation Sans" >0.6</text><text x="267.95" y="353.70" font-size="7.4" text-anchor="middle" font-family="Liberation Sans" >0.8</text><text x="289.32" y="353.70" font-size="7.4" text-anchor="middle" font-family="Liberation Sans" >1</text><text x="305.50" y="354.50" font-size="10" text-anchor="start" font-family="Liberation Serif" >K</text><rect x="407.90" y="340.5" width="17.09" height="6" fill="#5a3208"/><rect x="424.69" y="340.5" width="17.09" height="6" fill="#8d5210"/><rect x="441.47" y="340.5" width="17.09" height="6" fill="#b47426"/><rect x="458.26" y="340.5" width="17.09" height="6" fill="#d09a4c"/><rect x="475.04" y="340.5" width="17.09" height="6" fill="#e5c884"/><rect x="491.83" y="340.5" width="17.09" height="6" fill="#f4e4b8"/><rect x="508.61" y="340.5" width="17.09" height="6" fill="#f5f1e4"/><rect x="525.40" y="340.5" width="17.09" height="6" fill="#dff0ee"/><rect x="542.19" y="340.5" width="17.09" height="6" fill="#a9e0d6"/><rect x="558.97" y="340.5" width="17.09" height="6" fill="#74c6b8"/><rect x="575.76" y="340.5" width="17.09" height="6" fill="#3e9e90"/><rect x="592.54" y="340.5" width="17.09" height="6" fill="#1f8676"/><rect x="609.33" y="340.5" width="17.09" height="6" fill="#0a6252"/><rect x="626.11" y="340.5" width="17.09" height="6" fill="#0a3d30"/><line x1="424.69" y1="340.5" x2="424.69" y2="346.5" stroke="#333" stroke-width="0.6"/><line x1="441.47" y1="340.5" x2="441.47" y2="346.5" stroke="#333" stroke-width="0.6"/><line x1="458.26" y1="340.5" x2="458.26" y2="346.5" stroke="#333" stroke-width="0.6"/><line x1="475.04" y1="340.5" x2="475.04" y2="346.5" stroke="#333" stroke-width="0.6"/><line x1="491.83" y1="340.5" x2="491.83" y2="346.5" stroke="#333" stroke-width="0.6"/><line x1="508.61" y1="340.5" x2="508.61" y2="346.5" stroke="#333" stroke-width="0.6"/><line x1="525.40" y1="340.5" x2="525.40" y2="346.5" stroke="#333" stroke-width="0.6"/><line x1="542.19" y1="340.5" x2="542.19" y2="346.5" stroke="#333" stroke-width="0.6"/><line x1="558.97" y1="340.5" x2="558.97" y2="346.5" stroke="#333" stroke-width="0.6"/><line x1="575.76" y1="340.5" x2="575.76" y2="346.5" stroke="#333" stroke-width="0.6"/><line x1="592.54" y1="340.5" x2="592.54" y2="346.5" stroke="#333" stroke-width="0.6"/><line x1="609.33" y1="340.5" x2="609.33" y2="346.5" stroke="#333" stroke-width="0.6"/><line x1="626.11" y1="340.5" x2="626.11" y2="346.5" stroke="#333" stroke-width="0.6"/><rect x="407.9" y="340.5" width="235.00" height="6" fill="none" stroke="#333" stroke-width="0.6"/><text x="424.69" y="353.70" font-size="7.4" text-anchor="middle" font-family="Liberation Sans" >-3</text><text x="441.47" y="353.70" font-size="7.4" text-anchor="middle" font-family="Liberation Sans" >-2.5</text><text x="458.26" y="353.70" font-size="7.4" text-anchor="middle" font-family="Liberation Sans" >-2</text><text x="475.04" y="353.70" font-size="7.4" text-anchor="middle" font-family="Liberation Sans" >-1.5</text><text x="491.83" y="353.70" font-size="7.4" text-anchor="middle" font-family="Liberation Sans" >-1</text><text x="508.61" y="353.70" font-size="7.4" text-anchor="middle" font-family="Liberation Sans" >-0.5</text><text x="525.40" y="353.70" font-size="7.4" text-anchor="middle" font-family="Liberation Sans" >0</text><text x="542.19" y="353.70" font-size="7.4" text-anchor="middle" font-family="Liberation Sans" >0.5</text><text x="558.97" y="353.70" font-size="7.4" text-anchor="middle" font-family="Liberation Sans" >1</text><text x="575.76" y="353.70" font-size="7.4" text-anchor="middle" font-family="Liberation Sans" >1.5</text><text x="592.54" y="353.70" font-size="7.4" text-anchor="middle" font-family="Liberation Sans" >2</text><text x="609.33" y="353.70" font-size="7.4" text-anchor="middle" font-family="Liberation Sans" >2.5</text><text x="626.11" y="353.70" font-size="7.4" text-anchor="middle" font-family="Liberation Sans" >3</text><text x="646.70" y="354.70" font-size="10.6" text-anchor="start" font-family="Liberation Serif" >mm/day</text></svg></body></html>
